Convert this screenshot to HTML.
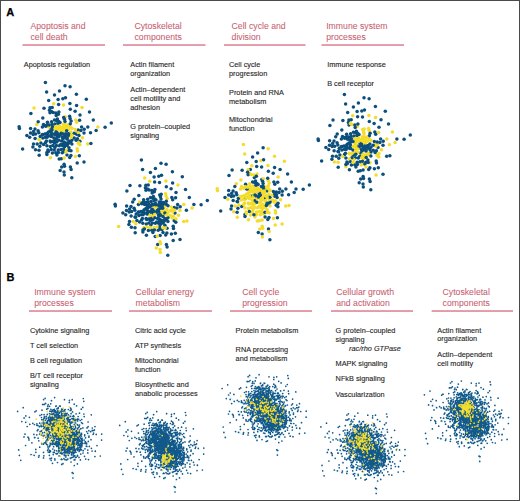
<!DOCTYPE html>
<html><head><meta charset="utf-8"><style>
html,body{margin:0;padding:0;background:#fff;}
body{width:520px;height:501px;overflow:hidden;}
svg{display:block;font-family:"Liberation Sans",sans-serif;}
</style></head><body>
<svg width="520" height="501" viewBox="0 0 520 501">
<rect x="0" y="0" width="520" height="501" fill="#fff"/>
<text x="6.3" y="15.9" font-size="11" font-weight="bold" fill="#000" stroke="#000" stroke-width="0.25">A</text>
<text x="6.6" y="281.3" font-size="11" font-weight="bold" fill="#000" stroke="#000" stroke-width="0.25">B</text>
<text x="30.5" y="29.3" font-size="9.20" textLength="55.01" lengthAdjust="spacingAndGlyphs" fill="#c8606f" stroke="#c8606f" stroke-width="0.06">Apoptosis and</text>
<text x="30.5" y="39.6" font-size="9.20" textLength="37.16" lengthAdjust="spacingAndGlyphs" fill="#c8606f" stroke="#c8606f" stroke-width="0.06">cell death</text>
<text x="134.5" y="29.3" font-size="9.20" textLength="47.28" lengthAdjust="spacingAndGlyphs" fill="#c8606f" stroke="#c8606f" stroke-width="0.06">Cytoskeletal</text>
<text x="134.5" y="39.6" font-size="9.20" textLength="47.29" lengthAdjust="spacingAndGlyphs" fill="#c8606f" stroke="#c8606f" stroke-width="0.06">components</text>
<text x="231.6" y="29.3" font-size="9.20" textLength="54.04" lengthAdjust="spacingAndGlyphs" fill="#c8606f" stroke="#c8606f" stroke-width="0.06">Cell cycle and</text>
<text x="231.6" y="39.6" font-size="9.20" textLength="28.95" lengthAdjust="spacingAndGlyphs" fill="#c8606f" stroke="#c8606f" stroke-width="0.06">division</text>
<text x="326.2" y="29.3" font-size="9.20" textLength="61.26" lengthAdjust="spacingAndGlyphs" fill="#c8606f" stroke="#c8606f" stroke-width="0.06">Immune system</text>
<text x="326.2" y="39.6" font-size="9.20" textLength="39.56" lengthAdjust="spacingAndGlyphs" fill="#c8606f" stroke="#c8606f" stroke-width="0.06">processes</text>
<rect x="22.5" y="44.3" width="82.5" height="1.45" fill="#da7b8c"/>
<rect x="123" y="44.3" width="82.5" height="1.45" fill="#da7b8c"/>
<rect x="224" y="44.3" width="81.5" height="1.45" fill="#da7b8c"/>
<rect x="321.5" y="44.3" width="82.5" height="1.45" fill="#da7b8c"/>
<text x="23.8" y="66.8" font-size="7.61" textLength="66.33" lengthAdjust="spacingAndGlyphs" fill="#262626" stroke="#262626" stroke-width="0.12">Apoptosis regulation</text>
<text x="130.3" y="67" font-size="7.61" textLength="43.94" lengthAdjust="spacingAndGlyphs" fill="#262626" stroke="#262626" stroke-width="0.12">Actin filament</text>
<text x="130.3" y="76" font-size="7.61" textLength="39.88" lengthAdjust="spacingAndGlyphs" fill="#262626" stroke="#262626" stroke-width="0.12">organization</text>
<text x="130.3" y="92" font-size="7.61" textLength="54.95" lengthAdjust="spacingAndGlyphs" fill="#262626" stroke="#262626" stroke-width="0.12">Actin–dependent</text>
<text x="130.3" y="101" font-size="7.61" textLength="50.04" lengthAdjust="spacingAndGlyphs" fill="#262626" stroke="#262626" stroke-width="0.12">cell motility and</text>
<text x="130.3" y="110" font-size="7.61" textLength="29.71" lengthAdjust="spacingAndGlyphs" fill="#262626" stroke="#262626" stroke-width="0.12">adhesion</text>
<text x="130.3" y="129" font-size="7.61" textLength="59.82" lengthAdjust="spacingAndGlyphs" fill="#262626" stroke="#262626" stroke-width="0.12">G protein–coupled</text>
<text x="130.3" y="138" font-size="7.61" textLength="28.90" lengthAdjust="spacingAndGlyphs" fill="#262626" stroke="#262626" stroke-width="0.12">signaling</text>
<text x="229.0" y="67" font-size="7.61" textLength="31.32" lengthAdjust="spacingAndGlyphs" fill="#262626" stroke="#262626" stroke-width="0.12">Cell cycle</text>
<text x="229.0" y="75.8" font-size="7.61" textLength="38.25" lengthAdjust="spacingAndGlyphs" fill="#262626" stroke="#262626" stroke-width="0.12">progression</text>
<text x="229.0" y="94.9" font-size="7.61" textLength="54.93" lengthAdjust="spacingAndGlyphs" fill="#262626" stroke="#262626" stroke-width="0.12">Protein and RNA</text>
<text x="229.0" y="103.7" font-size="7.61" textLength="37.43" lengthAdjust="spacingAndGlyphs" fill="#262626" stroke="#262626" stroke-width="0.12">metabolism</text>
<text x="229.0" y="122.4" font-size="7.61" textLength="43.54" lengthAdjust="spacingAndGlyphs" fill="#262626" stroke="#262626" stroke-width="0.12">Mitochondrial</text>
<text x="229.0" y="131.3" font-size="7.61" textLength="25.64" lengthAdjust="spacingAndGlyphs" fill="#262626" stroke="#262626" stroke-width="0.12">function</text>
<text x="327.2" y="67" font-size="7.61" textLength="58.59" lengthAdjust="spacingAndGlyphs" fill="#262626" stroke="#262626" stroke-width="0.12">Immune response</text>
<text x="327.2" y="85.5" font-size="7.61" textLength="46.79" lengthAdjust="spacingAndGlyphs" fill="#262626" stroke="#262626" stroke-width="0.12">B cell receptor</text>
<text x="34.2" y="294.8" font-size="9.20" textLength="61.26" lengthAdjust="spacingAndGlyphs" fill="#c8606f" stroke="#c8606f" stroke-width="0.06">Immune system</text>
<text x="34.2" y="305.5" font-size="9.20" textLength="39.56" lengthAdjust="spacingAndGlyphs" fill="#c8606f" stroke="#c8606f" stroke-width="0.06">processes</text>
<text x="135.6" y="294.8" font-size="9.20" textLength="58.38" lengthAdjust="spacingAndGlyphs" fill="#c8606f" stroke="#c8606f" stroke-width="0.06">Cellular energy</text>
<text x="135.6" y="305.5" font-size="9.20" textLength="44.38" lengthAdjust="spacingAndGlyphs" fill="#c8606f" stroke="#c8606f" stroke-width="0.06">metabolism</text>
<text x="242.2" y="294.8" font-size="9.20" textLength="37.14" lengthAdjust="spacingAndGlyphs" fill="#c8606f" stroke="#c8606f" stroke-width="0.06">Cell cycle</text>
<text x="242.2" y="305.5" font-size="9.20" textLength="45.36" lengthAdjust="spacingAndGlyphs" fill="#c8606f" stroke="#c8606f" stroke-width="0.06">progression</text>
<text x="336.2" y="294.8" font-size="9.20" textLength="57.89" lengthAdjust="spacingAndGlyphs" fill="#c8606f" stroke="#c8606f" stroke-width="0.06">Cellular growth</text>
<text x="336.2" y="305.5" font-size="9.20" textLength="53.56" lengthAdjust="spacingAndGlyphs" fill="#c8606f" stroke="#c8606f" stroke-width="0.06">and activation</text>
<text x="442.6" y="294.8" font-size="9.20" textLength="47.28" lengthAdjust="spacingAndGlyphs" fill="#c8606f" stroke="#c8606f" stroke-width="0.06">Cytoskeletal</text>
<text x="442.6" y="305.5" font-size="9.20" textLength="47.29" lengthAdjust="spacingAndGlyphs" fill="#c8606f" stroke="#c8606f" stroke-width="0.06">components</text>
<rect x="29" y="310.3" width="83" height="1.45" fill="#da7b8c"/>
<rect x="129" y="310.3" width="83" height="1.45" fill="#da7b8c"/>
<rect x="230" y="310.3" width="82" height="1.45" fill="#da7b8c"/>
<rect x="331" y="310.3" width="82" height="1.45" fill="#da7b8c"/>
<rect x="431.6" y="310.3" width="81.39999999999998" height="1.45" fill="#da7b8c"/>
<text x="29.9" y="332.9" font-size="7.61" textLength="59.41" lengthAdjust="spacingAndGlyphs" fill="#262626" stroke="#262626" stroke-width="0.12">Cytokine signaling</text>
<text x="29.9" y="347.9" font-size="7.61" textLength="48.28" lengthAdjust="spacingAndGlyphs" fill="#262626" stroke="#262626" stroke-width="0.12">T cell selection</text>
<text x="29.9" y="363.4" font-size="7.61" textLength="52.09" lengthAdjust="spacingAndGlyphs" fill="#262626" stroke="#262626" stroke-width="0.12">B cell regulation</text>
<text x="29.9" y="378" font-size="7.61" textLength="53.16" lengthAdjust="spacingAndGlyphs" fill="#262626" stroke="#262626" stroke-width="0.12">B/T cell receptor</text>
<text x="29.9" y="387" font-size="7.61" textLength="28.90" lengthAdjust="spacingAndGlyphs" fill="#262626" stroke="#262626" stroke-width="0.12">signaling</text>
<text x="135.0" y="332.9" font-size="7.61" textLength="50.84" lengthAdjust="spacingAndGlyphs" fill="#262626" stroke="#262626" stroke-width="0.12">Citric acid cycle</text>
<text x="135.0" y="347.9" font-size="7.61" textLength="46.11" lengthAdjust="spacingAndGlyphs" fill="#262626" stroke="#262626" stroke-width="0.12">ATP synthesis</text>
<text x="135.0" y="363.4" font-size="7.61" textLength="43.54" lengthAdjust="spacingAndGlyphs" fill="#262626" stroke="#262626" stroke-width="0.12">Mitochondrial</text>
<text x="135.0" y="371.8" font-size="7.61" textLength="25.64" lengthAdjust="spacingAndGlyphs" fill="#262626" stroke="#262626" stroke-width="0.12">function</text>
<text x="135.0" y="387.3" font-size="7.61" textLength="53.71" lengthAdjust="spacingAndGlyphs" fill="#262626" stroke="#262626" stroke-width="0.12">Biosynthetic and</text>
<text x="135.0" y="396.2" font-size="7.61" textLength="62.66" lengthAdjust="spacingAndGlyphs" fill="#262626" stroke="#262626" stroke-width="0.12">anabolic processes</text>
<text x="235.6" y="332.9" font-size="7.61" textLength="62.65" lengthAdjust="spacingAndGlyphs" fill="#262626" stroke="#262626" stroke-width="0.12">Protein metabolism</text>
<text x="235.6" y="351.9" font-size="7.61" textLength="52.49" lengthAdjust="spacingAndGlyphs" fill="#262626" stroke="#262626" stroke-width="0.12">RNA processing</text>
<text x="235.6" y="360.5" font-size="7.61" textLength="51.67" lengthAdjust="spacingAndGlyphs" fill="#262626" stroke="#262626" stroke-width="0.12">and metabolism</text>
<text x="335.6" y="332.9" font-size="7.61" textLength="59.82" lengthAdjust="spacingAndGlyphs" fill="#262626" stroke="#262626" stroke-width="0.12">G protein–coupled</text>
<text x="335.6" y="341.9" font-size="7.61" textLength="28.90" lengthAdjust="spacingAndGlyphs" fill="#262626" stroke="#262626" stroke-width="0.12">signaling</text>
<text x="335.6" y="366.3" font-size="7.61" textLength="51.67" lengthAdjust="spacingAndGlyphs" fill="#262626" stroke="#262626" stroke-width="0.12">MAPK signaling</text>
<text x="335.6" y="381.3" font-size="7.61" textLength="49.23" lengthAdjust="spacingAndGlyphs" fill="#262626" stroke="#262626" stroke-width="0.12">NFkB signaling</text>
<text x="335.6" y="396.5" font-size="7.61" textLength="49.10" lengthAdjust="spacingAndGlyphs" fill="#262626" stroke="#262626" stroke-width="0.12">Vascularization</text>
<text x="437.3" y="332.5" font-size="7.61" textLength="43.94" lengthAdjust="spacingAndGlyphs" fill="#262626" stroke="#262626" stroke-width="0.12">Actin filament</text>
<text x="437.3" y="341" font-size="7.61" textLength="39.88" lengthAdjust="spacingAndGlyphs" fill="#262626" stroke="#262626" stroke-width="0.12">organization</text>
<text x="437.3" y="357.2" font-size="7.61" textLength="54.95" lengthAdjust="spacingAndGlyphs" fill="#262626" stroke="#262626" stroke-width="0.12">Actin–dependent</text>
<text x="437.3" y="365.6" font-size="7.61" textLength="35.79" lengthAdjust="spacingAndGlyphs" fill="#262626" stroke="#262626" stroke-width="0.12">cell motility</text>
<text x="349.1" y="351.2" font-size="7.61" textLength="51.67" lengthAdjust="spacingAndGlyphs" fill="#262626" stroke="#262626" stroke-width="0.12" font-style="italic">rac/rho GTPase</text>
<path d="M54.2 134.1h0" stroke="#0c4f7c" stroke-width="3.5" stroke-linecap="round"/>
<path d="M57.6 130.0h0" stroke="#f4dc2a" stroke-width="3.5" stroke-linecap="round"/>
<path d="M50.1 141.1h0" stroke="#0c4f7c" stroke-width="3.5" stroke-linecap="round"/>
<path d="M59.5 125.9h0" stroke="#f4dc2a" stroke-width="3.5" stroke-linecap="round"/>
<path d="M76.7 122.2h0" stroke="#f4dc2a" stroke-width="3.5" stroke-linecap="round"/>
<path d="M54.5 143.1h0" stroke="#0c4f7c" stroke-width="3.5" stroke-linecap="round"/>
<path d="M63.6 127.1h0" stroke="#f4dc2a" stroke-width="3.5" stroke-linecap="round"/>
<path d="M43.6 144.4h0" stroke="#0c4f7c" stroke-width="3.5" stroke-linecap="round"/>
<path d="M34.0 108.0h0" stroke="#f4dc2a" stroke-width="3.5" stroke-linecap="round"/>
<path d="M35.1 138.6h0" stroke="#0c4f7c" stroke-width="3.5" stroke-linecap="round"/>
<path d="M61.6 140.9h0" stroke="#0c4f7c" stroke-width="3.5" stroke-linecap="round"/>
<path d="M76.6 132.0h0" stroke="#f4dc2a" stroke-width="3.5" stroke-linecap="round"/>
<path d="M56.7 134.3h0" stroke="#0c4f7c" stroke-width="3.5" stroke-linecap="round"/>
<path d="M76.7 134.2h0" stroke="#0c4f7c" stroke-width="3.5" stroke-linecap="round"/>
<path d="M59.8 129.2h0" stroke="#f4dc2a" stroke-width="3.5" stroke-linecap="round"/>
<path d="M66.9 139.0h0" stroke="#0c4f7c" stroke-width="3.5" stroke-linecap="round"/>
<path d="M49.9 131.0h0" stroke="#0c4f7c" stroke-width="3.5" stroke-linecap="round"/>
<path d="M71.9 144.0h0" stroke="#0c4f7c" stroke-width="3.5" stroke-linecap="round"/>
<path d="M46.2 134.1h0" stroke="#0c4f7c" stroke-width="3.5" stroke-linecap="round"/>
<path d="M58.7 136.8h0" stroke="#0c4f7c" stroke-width="3.5" stroke-linecap="round"/>
<path d="M70.1 86.7h0" stroke="#0c4f7c" stroke-width="3.5" stroke-linecap="round"/>
<path d="M61.0 131.0h0" stroke="#f4dc2a" stroke-width="3.5" stroke-linecap="round"/>
<path d="M58.6 104.6h0" stroke="#0c4f7c" stroke-width="3.5" stroke-linecap="round"/>
<path d="M56.5 138.8h0" stroke="#0c4f7c" stroke-width="3.5" stroke-linecap="round"/>
<path d="M90.5 132.7h0" stroke="#0c4f7c" stroke-width="3.5" stroke-linecap="round"/>
<path d="M76.4 94.3h0" stroke="#0c4f7c" stroke-width="3.5" stroke-linecap="round"/>
<path d="M63.1 144.0h0" stroke="#0c4f7c" stroke-width="3.5" stroke-linecap="round"/>
<path d="M58.1 99.5h0" stroke="#0c4f7c" stroke-width="3.5" stroke-linecap="round"/>
<path d="M77.4 138.7h0" stroke="#0c4f7c" stroke-width="3.5" stroke-linecap="round"/>
<path d="M64.8 130.9h0" stroke="#f4dc2a" stroke-width="3.5" stroke-linecap="round"/>
<path d="M54.2 150.1h0" stroke="#0c4f7c" stroke-width="3.5" stroke-linecap="round"/>
<path d="M70.2 126.8h0" stroke="#f4dc2a" stroke-width="3.5" stroke-linecap="round"/>
<path d="M93.3 120.0h0" stroke="#0c4f7c" stroke-width="3.5" stroke-linecap="round"/>
<path d="M67.1 126.7h0" stroke="#f4dc2a" stroke-width="3.5" stroke-linecap="round"/>
<path d="M63.5 104.9h0" stroke="#f4dc2a" stroke-width="3.5" stroke-linecap="round"/>
<path d="M60.7 144.5h0" stroke="#0c4f7c" stroke-width="3.5" stroke-linecap="round"/>
<path d="M79.9 141.3h0" stroke="#0c4f7c" stroke-width="3.5" stroke-linecap="round"/>
<path d="M43.5 124.5h0" stroke="#0c4f7c" stroke-width="3.5" stroke-linecap="round"/>
<path d="M89.5 112.0h0" stroke="#0c4f7c" stroke-width="3.5" stroke-linecap="round"/>
<path d="M46.6 92.0h0" stroke="#0c4f7c" stroke-width="3.5" stroke-linecap="round"/>
<path d="M45.6 142.5h0" stroke="#0c4f7c" stroke-width="3.5" stroke-linecap="round"/>
<path d="M56.9 133.0h0" stroke="#0c4f7c" stroke-width="3.5" stroke-linecap="round"/>
<path d="M50.4 157.7h0" stroke="#f4dc2a" stroke-width="3.5" stroke-linecap="round"/>
<path d="M71.1 121.1h0" stroke="#0c4f7c" stroke-width="3.5" stroke-linecap="round"/>
<path d="M48.3 126.8h0" stroke="#f4dc2a" stroke-width="3.5" stroke-linecap="round"/>
<path d="M78.2 129.9h0" stroke="#0c4f7c" stroke-width="3.5" stroke-linecap="round"/>
<path d="M64.6 144.6h0" stroke="#0c4f7c" stroke-width="3.5" stroke-linecap="round"/>
<path d="M59.5 91.0h0" stroke="#0c4f7c" stroke-width="3.5" stroke-linecap="round"/>
<path d="M60.2 170.6h0" stroke="#0c4f7c" stroke-width="3.5" stroke-linecap="round"/>
<path d="M59.3 145.8h0" stroke="#0c4f7c" stroke-width="3.5" stroke-linecap="round"/>
<path d="M58.3 114.2h0" stroke="#0c4f7c" stroke-width="3.5" stroke-linecap="round"/>
<path d="M69.2 133.4h0" stroke="#0c4f7c" stroke-width="3.5" stroke-linecap="round"/>
<path d="M67.5 143.4h0" stroke="#0c4f7c" stroke-width="3.5" stroke-linecap="round"/>
<path d="M62.4 137.3h0" stroke="#0c4f7c" stroke-width="3.5" stroke-linecap="round"/>
<path d="M71.8 177.7h0" stroke="#0c4f7c" stroke-width="3.5" stroke-linecap="round"/>
<path d="M40.9 143.0h0" stroke="#0c4f7c" stroke-width="3.5" stroke-linecap="round"/>
<path d="M47.2 124.8h0" stroke="#0c4f7c" stroke-width="3.5" stroke-linecap="round"/>
<path d="M64.1 164.3h0" stroke="#0c4f7c" stroke-width="3.5" stroke-linecap="round"/>
<path d="M54.9 124.0h0" stroke="#0c4f7c" stroke-width="3.5" stroke-linecap="round"/>
<path d="M63.6 127.0h0" stroke="#f4dc2a" stroke-width="3.5" stroke-linecap="round"/>
<path d="M35.0 129.0h0" stroke="#0c4f7c" stroke-width="3.5" stroke-linecap="round"/>
<path d="M46.2 125.5h0" stroke="#0c4f7c" stroke-width="3.5" stroke-linecap="round"/>
<path d="M48.7 100.5h0" stroke="#0c4f7c" stroke-width="3.5" stroke-linecap="round"/>
<path d="M62.5 132.1h0" stroke="#f4dc2a" stroke-width="3.5" stroke-linecap="round"/>
<path d="M68.3 143.4h0" stroke="#0c4f7c" stroke-width="3.5" stroke-linecap="round"/>
<path d="M30.9 113.5h0" stroke="#0c4f7c" stroke-width="3.5" stroke-linecap="round"/>
<path d="M51.2 149.4h0" stroke="#0c4f7c" stroke-width="3.5" stroke-linecap="round"/>
<path d="M52.2 107.6h0" stroke="#0c4f7c" stroke-width="3.5" stroke-linecap="round"/>
<path d="M45.4 82.4h0" stroke="#0c4f7c" stroke-width="3.5" stroke-linecap="round"/>
<path d="M57.1 127.2h0" stroke="#f4dc2a" stroke-width="3.5" stroke-linecap="round"/>
<path d="M61.0 133.2h0" stroke="#0c4f7c" stroke-width="3.5" stroke-linecap="round"/>
<path d="M64.0 142.1h0" stroke="#0c4f7c" stroke-width="3.5" stroke-linecap="round"/>
<path d="M78.4 132.7h0" stroke="#f4dc2a" stroke-width="3.5" stroke-linecap="round"/>
<path d="M33.5 144.1h0" stroke="#0c4f7c" stroke-width="3.5" stroke-linecap="round"/>
<path d="M82.5 137.8h0" stroke="#f4dc2a" stroke-width="3.5" stroke-linecap="round"/>
<path d="M33.2 134.4h0" stroke="#0c4f7c" stroke-width="3.5" stroke-linecap="round"/>
<path d="M50.7 136.3h0" stroke="#0c4f7c" stroke-width="3.5" stroke-linecap="round"/>
<path d="M57.3 136.3h0" stroke="#0c4f7c" stroke-width="3.5" stroke-linecap="round"/>
<path d="M68.9 135.6h0" stroke="#0c4f7c" stroke-width="3.5" stroke-linecap="round"/>
<path d="M33.5 131.5h0" stroke="#0c4f7c" stroke-width="3.5" stroke-linecap="round"/>
<path d="M54.9 134.7h0" stroke="#0c4f7c" stroke-width="3.5" stroke-linecap="round"/>
<path d="M84.0 162.1h0" stroke="#0c4f7c" stroke-width="3.5" stroke-linecap="round"/>
<path d="M39.0 139.4h0" stroke="#f4dc2a" stroke-width="3.5" stroke-linecap="round"/>
<path d="M62.6 145.7h0" stroke="#0c4f7c" stroke-width="3.5" stroke-linecap="round"/>
<path d="M84.2 129.2h0" stroke="#0c4f7c" stroke-width="3.5" stroke-linecap="round"/>
<path d="M42.2 134.7h0" stroke="#0c4f7c" stroke-width="3.5" stroke-linecap="round"/>
<path d="M56.0 131.9h0" stroke="#0c4f7c" stroke-width="3.5" stroke-linecap="round"/>
<path d="M79.0 135.5h0" stroke="#0c4f7c" stroke-width="3.5" stroke-linecap="round"/>
<path d="M42.4 126.9h0" stroke="#0c4f7c" stroke-width="3.5" stroke-linecap="round"/>
<path d="M30.5 133.1h0" stroke="#0c4f7c" stroke-width="3.5" stroke-linecap="round"/>
<path d="M59.9 127.3h0" stroke="#f4dc2a" stroke-width="3.5" stroke-linecap="round"/>
<path d="M54.8 140.8h0" stroke="#0c4f7c" stroke-width="3.5" stroke-linecap="round"/>
<path d="M63.0 138.8h0" stroke="#0c4f7c" stroke-width="3.5" stroke-linecap="round"/>
<path d="M49.8 125.1h0" stroke="#f4dc2a" stroke-width="3.5" stroke-linecap="round"/>
<path d="M60.3 134.9h0" stroke="#0c4f7c" stroke-width="3.5" stroke-linecap="round"/>
<path d="M63.3 124.6h0" stroke="#f4dc2a" stroke-width="3.5" stroke-linecap="round"/>
<path d="M50.3 146.6h0" stroke="#0c4f7c" stroke-width="3.5" stroke-linecap="round"/>
<path d="M57.4 119.1h0" stroke="#0c4f7c" stroke-width="3.5" stroke-linecap="round"/>
<path d="M65.7 126.4h0" stroke="#f4dc2a" stroke-width="3.5" stroke-linecap="round"/>
<path d="M63.2 128.7h0" stroke="#f4dc2a" stroke-width="3.5" stroke-linecap="round"/>
<path d="M55.9 113.0h0" stroke="#0c4f7c" stroke-width="3.5" stroke-linecap="round"/>
<path d="M54.0 129.4h0" stroke="#f4dc2a" stroke-width="3.5" stroke-linecap="round"/>
<path d="M67.2 138.0h0" stroke="#0c4f7c" stroke-width="3.5" stroke-linecap="round"/>
<path d="M44.9 134.0h0" stroke="#0c4f7c" stroke-width="3.5" stroke-linecap="round"/>
<path d="M51.3 128.2h0" stroke="#0c4f7c" stroke-width="3.5" stroke-linecap="round"/>
<path d="M46.9 154.6h0" stroke="#0c4f7c" stroke-width="3.5" stroke-linecap="round"/>
<path d="M55.6 139.2h0" stroke="#0c4f7c" stroke-width="3.5" stroke-linecap="round"/>
<path d="M54.5 120.1h0" stroke="#0c4f7c" stroke-width="3.5" stroke-linecap="round"/>
<path d="M32.9 147.1h0" stroke="#0c4f7c" stroke-width="3.5" stroke-linecap="round"/>
<path d="M52.6 126.8h0" stroke="#0c4f7c" stroke-width="3.5" stroke-linecap="round"/>
<path d="M79.3 155.7h0" stroke="#0c4f7c" stroke-width="3.5" stroke-linecap="round"/>
<path d="M70.0 142.1h0" stroke="#0c4f7c" stroke-width="3.5" stroke-linecap="round"/>
<path d="M111.3 123.0h0" stroke="#0c4f7c" stroke-width="3.5" stroke-linecap="round"/>
<path d="M72.0 128.3h0" stroke="#f4dc2a" stroke-width="3.5" stroke-linecap="round"/>
<path d="M56.4 131.7h0" stroke="#0c4f7c" stroke-width="3.5" stroke-linecap="round"/>
<path d="M51.6 121.7h0" stroke="#0c4f7c" stroke-width="3.5" stroke-linecap="round"/>
<path d="M77.5 151.0h0" stroke="#f4dc2a" stroke-width="3.5" stroke-linecap="round"/>
<path d="M56.2 126.5h0" stroke="#f4dc2a" stroke-width="3.5" stroke-linecap="round"/>
<path d="M69.7 157.4h0" stroke="#0c4f7c" stroke-width="3.5" stroke-linecap="round"/>
<path d="M59.2 159.1h0" stroke="#0c4f7c" stroke-width="3.5" stroke-linecap="round"/>
<path d="M70.3 109.3h0" stroke="#0c4f7c" stroke-width="3.5" stroke-linecap="round"/>
<path d="M49.1 126.9h0" stroke="#f4dc2a" stroke-width="3.5" stroke-linecap="round"/>
<path d="M65.7 133.8h0" stroke="#0c4f7c" stroke-width="3.5" stroke-linecap="round"/>
<path d="M65.2 116.8h0" stroke="#f4dc2a" stroke-width="3.5" stroke-linecap="round"/>
<path d="M74.1 133.2h0" stroke="#0c4f7c" stroke-width="3.5" stroke-linecap="round"/>
<path d="M61.3 158.7h0" stroke="#0c4f7c" stroke-width="3.5" stroke-linecap="round"/>
<path d="M71.8 135.2h0" stroke="#f4dc2a" stroke-width="3.5" stroke-linecap="round"/>
<path d="M70.4 166.9h0" stroke="#0c4f7c" stroke-width="3.5" stroke-linecap="round"/>
<path d="M50.0 107.8h0" stroke="#0c4f7c" stroke-width="3.5" stroke-linecap="round"/>
<path d="M71.0 150.7h0" stroke="#0c4f7c" stroke-width="3.5" stroke-linecap="round"/>
<path d="M62.8 98.8h0" stroke="#0c4f7c" stroke-width="3.5" stroke-linecap="round"/>
<path d="M75.4 156.6h0" stroke="#f4dc2a" stroke-width="3.5" stroke-linecap="round"/>
<path d="M30.6 128.6h0" stroke="#0c4f7c" stroke-width="3.5" stroke-linecap="round"/>
<path d="M63.7 151.7h0" stroke="#0c4f7c" stroke-width="3.5" stroke-linecap="round"/>
<path d="M52.4 153.0h0" stroke="#0c4f7c" stroke-width="3.5" stroke-linecap="round"/>
<path d="M39.8 146.2h0" stroke="#0c4f7c" stroke-width="3.5" stroke-linecap="round"/>
<path d="M61.7 167.0h0" stroke="#0c4f7c" stroke-width="3.5" stroke-linecap="round"/>
<path d="M54.9 147.5h0" stroke="#0c4f7c" stroke-width="3.5" stroke-linecap="round"/>
<path d="M87.7 144.1h0" stroke="#f4dc2a" stroke-width="3.5" stroke-linecap="round"/>
<path d="M63.5 149.2h0" stroke="#0c4f7c" stroke-width="3.5" stroke-linecap="round"/>
<path d="M79.8 144.8h0" stroke="#f4dc2a" stroke-width="3.5" stroke-linecap="round"/>
<path d="M65.0 85.8h0" stroke="#0c4f7c" stroke-width="3.5" stroke-linecap="round"/>
<path d="M64.3 174.9h0" stroke="#0c4f7c" stroke-width="3.5" stroke-linecap="round"/>
<path d="M67.0 154.9h0" stroke="#0c4f7c" stroke-width="3.5" stroke-linecap="round"/>
<path d="M55.4 127.8h0" stroke="#f4dc2a" stroke-width="3.5" stroke-linecap="round"/>
<path d="M65.9 152.0h0" stroke="#f4dc2a" stroke-width="3.5" stroke-linecap="round"/>
<path d="M86.3 99.2h0" stroke="#0c4f7c" stroke-width="3.5" stroke-linecap="round"/>
<path d="M76.6 105.4h0" stroke="#0c4f7c" stroke-width="3.5" stroke-linecap="round"/>
<path d="M51.5 134.4h0" stroke="#0c4f7c" stroke-width="3.5" stroke-linecap="round"/>
<path d="M65.1 124.6h0" stroke="#f4dc2a" stroke-width="3.5" stroke-linecap="round"/>
<path d="M57.9 123.3h0" stroke="#0c4f7c" stroke-width="3.5" stroke-linecap="round"/>
<path d="M78.9 142.8h0" stroke="#f4dc2a" stroke-width="3.5" stroke-linecap="round"/>
<path d="M60.0 122.5h0" stroke="#0c4f7c" stroke-width="3.5" stroke-linecap="round"/>
<path d="M48.2 132.2h0" stroke="#0c4f7c" stroke-width="3.5" stroke-linecap="round"/>
<path d="M47.1 137.3h0" stroke="#0c4f7c" stroke-width="3.5" stroke-linecap="round"/>
<path d="M82.0 107.6h0" stroke="#f4dc2a" stroke-width="3.5" stroke-linecap="round"/>
<path d="M58.4 152.4h0" stroke="#0c4f7c" stroke-width="3.5" stroke-linecap="round"/>
<path d="M72.0 140.0h0" stroke="#0c4f7c" stroke-width="3.5" stroke-linecap="round"/>
<path d="M36.7 124.6h0" stroke="#f4dc2a" stroke-width="3.5" stroke-linecap="round"/>
<path d="M51.4 111.5h0" stroke="#0c4f7c" stroke-width="3.5" stroke-linecap="round"/>
<path d="M58.9 112.0h0" stroke="#0c4f7c" stroke-width="3.5" stroke-linecap="round"/>
<path d="M60.8 127.5h0" stroke="#f4dc2a" stroke-width="3.5" stroke-linecap="round"/>
<path d="M78.2 143.2h0" stroke="#f4dc2a" stroke-width="3.5" stroke-linecap="round"/>
<path d="M46.4 141.1h0" stroke="#0c4f7c" stroke-width="3.5" stroke-linecap="round"/>
<path d="M64.4 135.4h0" stroke="#0c4f7c" stroke-width="3.5" stroke-linecap="round"/>
<path d="M52.9 145.6h0" stroke="#0c4f7c" stroke-width="3.5" stroke-linecap="round"/>
<path d="M49.1 124.9h0" stroke="#0c4f7c" stroke-width="3.5" stroke-linecap="round"/>
<path d="M71.1 169.4h0" stroke="#0c4f7c" stroke-width="3.5" stroke-linecap="round"/>
<path d="M39.0 150.2h0" stroke="#0c4f7c" stroke-width="3.5" stroke-linecap="round"/>
<path d="M105.1 127.2h0" stroke="#0c4f7c" stroke-width="3.5" stroke-linecap="round"/>
<path d="M56.9 155.0h0" stroke="#0c4f7c" stroke-width="3.5" stroke-linecap="round"/>
<path d="M42.8 118.0h0" stroke="#0c4f7c" stroke-width="3.5" stroke-linecap="round"/>
<path d="M81.6 126.9h0" stroke="#0c4f7c" stroke-width="3.5" stroke-linecap="round"/>
<path d="M38.1 130.8h0" stroke="#0c4f7c" stroke-width="3.5" stroke-linecap="round"/>
<path d="M56.2 115.5h0" stroke="#0c4f7c" stroke-width="3.5" stroke-linecap="round"/>
<path d="M56.4 145.6h0" stroke="#0c4f7c" stroke-width="3.5" stroke-linecap="round"/>
<path d="M48.4 151.4h0" stroke="#0c4f7c" stroke-width="3.5" stroke-linecap="round"/>
<path d="M64.5 166.3h0" stroke="#0c4f7c" stroke-width="3.5" stroke-linecap="round"/>
<path d="M65.0 121.5h0" stroke="#0c4f7c" stroke-width="3.5" stroke-linecap="round"/>
<path d="M69.6 116.3h0" stroke="#0c4f7c" stroke-width="3.5" stroke-linecap="round"/>
<path d="M47.6 133.4h0" stroke="#0c4f7c" stroke-width="3.5" stroke-linecap="round"/>
<path d="M63.7 117.5h0" stroke="#0c4f7c" stroke-width="3.5" stroke-linecap="round"/>
<path d="M84.0 133.1h0" stroke="#0c4f7c" stroke-width="3.5" stroke-linecap="round"/>
<path d="M66.0 129.0h0" stroke="#f4dc2a" stroke-width="3.5" stroke-linecap="round"/>
<path d="M64.4 137.4h0" stroke="#0c4f7c" stroke-width="3.5" stroke-linecap="round"/>
<path d="M64.0 172.0h0" stroke="#0c4f7c" stroke-width="3.5" stroke-linecap="round"/>
<path d="M58.2 150.1h0" stroke="#0c4f7c" stroke-width="3.5" stroke-linecap="round"/>
<path d="M45.7 126.2h0" stroke="#0c4f7c" stroke-width="3.5" stroke-linecap="round"/>
<path d="M42.8 134.4h0" stroke="#0c4f7c" stroke-width="3.5" stroke-linecap="round"/>
<path d="M40.2 136.4h0" stroke="#0c4f7c" stroke-width="3.5" stroke-linecap="round"/>
<path d="M35.6 134.1h0" stroke="#0c4f7c" stroke-width="3.5" stroke-linecap="round"/>
<path d="M69.9 103.4h0" stroke="#0c4f7c" stroke-width="3.5" stroke-linecap="round"/>
<path d="M39.5 139.7h0" stroke="#f4dc2a" stroke-width="3.5" stroke-linecap="round"/>
<path d="M61.0 149.6h0" stroke="#0c4f7c" stroke-width="3.5" stroke-linecap="round"/>
<path d="M29.7 137.3h0" stroke="#0c4f7c" stroke-width="3.5" stroke-linecap="round"/>
<path d="M87.8 126.9h0" stroke="#0c4f7c" stroke-width="3.5" stroke-linecap="round"/>
<path d="M19.1 126.8h0" stroke="#0c4f7c" stroke-width="3.5" stroke-linecap="round"/>
<path d="M67.7 125.0h0" stroke="#f4dc2a" stroke-width="3.5" stroke-linecap="round"/>
<path d="M52.0 124.5h0" stroke="#0c4f7c" stroke-width="3.5" stroke-linecap="round"/>
<path d="M66.4 135.4h0" stroke="#0c4f7c" stroke-width="3.5" stroke-linecap="round"/>
<path d="M52.9 141.5h0" stroke="#0c4f7c" stroke-width="3.5" stroke-linecap="round"/>
<path d="M74.2 138.1h0" stroke="#0c4f7c" stroke-width="3.5" stroke-linecap="round"/>
<path d="M65.9 143.0h0" stroke="#0c4f7c" stroke-width="3.5" stroke-linecap="round"/>
<path d="M77.2 163.0h0" stroke="#0c4f7c" stroke-width="3.5" stroke-linecap="round"/>
<path d="M65.5 97.8h0" stroke="#0c4f7c" stroke-width="3.5" stroke-linecap="round"/>
<path d="M38.2 121.8h0" stroke="#0c4f7c" stroke-width="3.5" stroke-linecap="round"/>
<path d="M64.1 157.9h0" stroke="#f4dc2a" stroke-width="3.5" stroke-linecap="round"/>
<path d="M53.9 137.9h0" stroke="#0c4f7c" stroke-width="3.5" stroke-linecap="round"/>
<path d="M56.8 142.1h0" stroke="#0c4f7c" stroke-width="3.5" stroke-linecap="round"/>
<path d="M51.5 136.4h0" stroke="#0c4f7c" stroke-width="3.5" stroke-linecap="round"/>
<path d="M77.2 148.8h0" stroke="#f4dc2a" stroke-width="3.5" stroke-linecap="round"/>
<path d="M22.6 149.0h0" stroke="#0c4f7c" stroke-width="3.5" stroke-linecap="round"/>
<path d="M80.0 115.1h0" stroke="#0c4f7c" stroke-width="3.5" stroke-linecap="round"/>
<path d="M53.2 112.5h0" stroke="#0c4f7c" stroke-width="3.5" stroke-linecap="round"/>
<path d="M68.8 141.0h0" stroke="#0c4f7c" stroke-width="3.5" stroke-linecap="round"/>
<path d="M51.3 132.6h0" stroke="#0c4f7c" stroke-width="3.5" stroke-linecap="round"/>
<path d="M45.4 137.2h0" stroke="#0c4f7c" stroke-width="3.5" stroke-linecap="round"/>
<path d="M47.5 122.2h0" stroke="#0c4f7c" stroke-width="3.5" stroke-linecap="round"/>
<path d="M79.6 120.3h0" stroke="#0c4f7c" stroke-width="3.5" stroke-linecap="round"/>
<path d="M39.2 155.2h0" stroke="#0c4f7c" stroke-width="3.5" stroke-linecap="round"/>
<path d="M68.7 129.1h0" stroke="#f4dc2a" stroke-width="3.5" stroke-linecap="round"/>
<path d="M66.7 130.7h0" stroke="#0c4f7c" stroke-width="3.5" stroke-linecap="round"/>
<path d="M56.7 120.7h0" stroke="#0c4f7c" stroke-width="3.5" stroke-linecap="round"/>
<path d="M62.2 152.8h0" stroke="#0c4f7c" stroke-width="3.5" stroke-linecap="round"/>
<path d="M66.9 150.2h0" stroke="#f4dc2a" stroke-width="3.5" stroke-linecap="round"/>
<path d="M57.7 133.8h0" stroke="#0c4f7c" stroke-width="3.5" stroke-linecap="round"/>
<path d="M46.9 152.4h0" stroke="#0c4f7c" stroke-width="3.5" stroke-linecap="round"/>
<path d="M44.0 108.3h0" stroke="#0c4f7c" stroke-width="3.5" stroke-linecap="round"/>
<path d="M50.6 142.0h0" stroke="#0c4f7c" stroke-width="3.5" stroke-linecap="round"/>
<path d="M19.4 128.5h0" stroke="#0c4f7c" stroke-width="3.5" stroke-linecap="round"/>
<path d="M48.0 135.5h0" stroke="#0c4f7c" stroke-width="3.5" stroke-linecap="round"/>
<path d="M71.0 137.5h0" stroke="#f4dc2a" stroke-width="3.5" stroke-linecap="round"/>
<path d="M70.9 155.6h0" stroke="#0c4f7c" stroke-width="3.5" stroke-linecap="round"/>
<path d="M42.9 138.0h0" stroke="#0c4f7c" stroke-width="3.5" stroke-linecap="round"/>
<path d="M59.0 127.0h0" stroke="#f4dc2a" stroke-width="3.5" stroke-linecap="round"/>
<path d="M26.9 135.5h0" stroke="#0c4f7c" stroke-width="3.5" stroke-linecap="round"/>
<path d="M62.5 133.7h0" stroke="#0c4f7c" stroke-width="3.5" stroke-linecap="round"/>
<path d="M64.6 146.7h0" stroke="#0c4f7c" stroke-width="3.5" stroke-linecap="round"/>
<path d="M49.5 110.3h0" stroke="#0c4f7c" stroke-width="3.5" stroke-linecap="round"/>
<path d="M65.1 125.3h0" stroke="#f4dc2a" stroke-width="3.5" stroke-linecap="round"/>
<path d="M75.1 111.3h0" stroke="#0c4f7c" stroke-width="3.5" stroke-linecap="round"/>
<path d="M37.2 144.1h0" stroke="#0c4f7c" stroke-width="3.5" stroke-linecap="round"/>
<path d="M67.2 145.5h0" stroke="#0c4f7c" stroke-width="3.5" stroke-linecap="round"/>
<path d="M52.0 129.9h0" stroke="#0c4f7c" stroke-width="3.5" stroke-linecap="round"/>
<path d="M70.3 123.7h0" stroke="#0c4f7c" stroke-width="3.5" stroke-linecap="round"/>
<path d="M70.8 141.6h0" stroke="#0c4f7c" stroke-width="3.5" stroke-linecap="round"/>
<path d="M58.8 121.4h0" stroke="#0c4f7c" stroke-width="3.5" stroke-linecap="round"/>
<path d="M54.5 95.0h0" stroke="#0c4f7c" stroke-width="3.5" stroke-linecap="round"/>
<path d="M69.0 147.8h0" stroke="#0c4f7c" stroke-width="3.5" stroke-linecap="round"/>
<path d="M55.8 152.8h0" stroke="#0c4f7c" stroke-width="3.5" stroke-linecap="round"/>
<path d="M38.8 132.8h0" stroke="#0c4f7c" stroke-width="3.5" stroke-linecap="round"/>
<path d="M58.9 140.3h0" stroke="#0c4f7c" stroke-width="3.5" stroke-linecap="round"/>
<path d="M96.1 130.4h0" stroke="#0c4f7c" stroke-width="3.5" stroke-linecap="round"/>
<path d="M57.9 129.2h0" stroke="#f4dc2a" stroke-width="3.5" stroke-linecap="round"/>
<path d="M76.1 140.3h0" stroke="#0c4f7c" stroke-width="3.5" stroke-linecap="round"/>
<path d="M75.3 129.5h0" stroke="#f4dc2a" stroke-width="3.5" stroke-linecap="round"/>
<path d="M69.2 150.4h0" stroke="#0c4f7c" stroke-width="3.5" stroke-linecap="round"/>
<path d="M70.1 118.4h0" stroke="#0c4f7c" stroke-width="3.5" stroke-linecap="round"/>
<path d="M48.2 135.4h0" stroke="#0c4f7c" stroke-width="3.5" stroke-linecap="round"/>
<path d="M70.9 131.9h0" stroke="#f4dc2a" stroke-width="3.5" stroke-linecap="round"/>
<path d="M80.9 130.4h0" stroke="#0c4f7c" stroke-width="3.5" stroke-linecap="round"/>
<path d="M50.0 112.8h0" stroke="#0c4f7c" stroke-width="3.5" stroke-linecap="round"/>
<path d="M35.5 149.8h0" stroke="#0c4f7c" stroke-width="3.5" stroke-linecap="round"/>
<path d="M53.7 103.7h0" stroke="#f4dc2a" stroke-width="3.5" stroke-linecap="round"/>
<path d="M64.5 119.3h0" stroke="#0c4f7c" stroke-width="3.5" stroke-linecap="round"/>
<path d="M90.9 143.6h0" stroke="#0c4f7c" stroke-width="3.5" stroke-linecap="round"/>
<path d="M47.9 150.0h0" stroke="#0c4f7c" stroke-width="3.5" stroke-linecap="round"/>
<path d="M97.9 127.0h0" stroke="#f4dc2a" stroke-width="3.5" stroke-linecap="round"/>
<path d="M68.1 133.7h0" stroke="#0c4f7c" stroke-width="3.5" stroke-linecap="round"/>
<path d="M75.8 119.9h0" stroke="#f4dc2a" stroke-width="3.5" stroke-linecap="round"/>
<path d="M46.9 145.8h0" stroke="#0c4f7c" stroke-width="3.5" stroke-linecap="round"/>
<path d="M138.4 204.4h0" stroke="#0c4f7c" stroke-width="3.5" stroke-linecap="round"/>
<path d="M157.6 218.4h0" stroke="#0c4f7c" stroke-width="3.5" stroke-linecap="round"/>
<path d="M155.4 168.5h0" stroke="#0c4f7c" stroke-width="3.5" stroke-linecap="round"/>
<path d="M132.7 202.1h0" stroke="#0c4f7c" stroke-width="3.5" stroke-linecap="round"/>
<path d="M153.3 213.8h0" stroke="#0c4f7c" stroke-width="3.5" stroke-linecap="round"/>
<path d="M173.2 226.3h0" stroke="#0c4f7c" stroke-width="3.5" stroke-linecap="round"/>
<path d="M148.6 204.3h0" stroke="#0c4f7c" stroke-width="3.5" stroke-linecap="round"/>
<path d="M152.5 216.3h0" stroke="#f4dc2a" stroke-width="3.5" stroke-linecap="round"/>
<path d="M142.9 232.1h0" stroke="#0c4f7c" stroke-width="3.5" stroke-linecap="round"/>
<path d="M141.4 159.9h0" stroke="#0c4f7c" stroke-width="3.5" stroke-linecap="round"/>
<path d="M142.8 223.3h0" stroke="#0c4f7c" stroke-width="3.5" stroke-linecap="round"/>
<path d="M150.9 225.0h0" stroke="#0c4f7c" stroke-width="3.5" stroke-linecap="round"/>
<path d="M176.0 192.6h0" stroke="#0c4f7c" stroke-width="3.5" stroke-linecap="round"/>
<path d="M156.8 205.0h0" stroke="#0c4f7c" stroke-width="3.5" stroke-linecap="round"/>
<path d="M164.9 225.3h0" stroke="#0c4f7c" stroke-width="3.5" stroke-linecap="round"/>
<path d="M143.6 199.7h0" stroke="#0c4f7c" stroke-width="3.5" stroke-linecap="round"/>
<path d="M159.6 204.6h0" stroke="#0c4f7c" stroke-width="3.5" stroke-linecap="round"/>
<path d="M152.9 210.5h0" stroke="#0c4f7c" stroke-width="3.5" stroke-linecap="round"/>
<path d="M201.1 204.7h0" stroke="#0c4f7c" stroke-width="3.5" stroke-linecap="round"/>
<path d="M153.6 207.5h0" stroke="#f4dc2a" stroke-width="3.5" stroke-linecap="round"/>
<path d="M158.6 223.2h0" stroke="#0c4f7c" stroke-width="3.5" stroke-linecap="round"/>
<path d="M174.9 220.3h0" stroke="#f4dc2a" stroke-width="3.5" stroke-linecap="round"/>
<path d="M152.7 211.8h0" stroke="#0c4f7c" stroke-width="3.5" stroke-linecap="round"/>
<path d="M175.8 222.3h0" stroke="#0c4f7c" stroke-width="3.5" stroke-linecap="round"/>
<path d="M180.0 210.6h0" stroke="#f4dc2a" stroke-width="3.5" stroke-linecap="round"/>
<path d="M145.9 185.3h0" stroke="#0c4f7c" stroke-width="3.5" stroke-linecap="round"/>
<path d="M174.2 207.4h0" stroke="#0c4f7c" stroke-width="3.5" stroke-linecap="round"/>
<path d="M158.8 176.3h0" stroke="#0c4f7c" stroke-width="3.5" stroke-linecap="round"/>
<path d="M150.9 212.2h0" stroke="#0c4f7c" stroke-width="3.5" stroke-linecap="round"/>
<path d="M207.3 200.5h0" stroke="#0c4f7c" stroke-width="3.5" stroke-linecap="round"/>
<path d="M167.1 198.6h0" stroke="#f4dc2a" stroke-width="3.5" stroke-linecap="round"/>
<path d="M166.8 219.1h0" stroke="#0c4f7c" stroke-width="3.5" stroke-linecap="round"/>
<path d="M139.5 202.0h0" stroke="#f4dc2a" stroke-width="3.5" stroke-linecap="round"/>
<path d="M177.6 204.4h0" stroke="#0c4f7c" stroke-width="3.5" stroke-linecap="round"/>
<path d="M157.0 208.5h0" stroke="#f4dc2a" stroke-width="3.5" stroke-linecap="round"/>
<path d="M171.4 234.1h0" stroke="#0c4f7c" stroke-width="3.5" stroke-linecap="round"/>
<path d="M138.9 215.5h0" stroke="#0c4f7c" stroke-width="3.5" stroke-linecap="round"/>
<path d="M143.1 214.8h0" stroke="#0c4f7c" stroke-width="3.5" stroke-linecap="round"/>
<path d="M182.3 176.7h0" stroke="#0c4f7c" stroke-width="3.5" stroke-linecap="round"/>
<path d="M134.8 210.3h0" stroke="#0c4f7c" stroke-width="3.5" stroke-linecap="round"/>
<path d="M171.8 197.4h0" stroke="#0c4f7c" stroke-width="3.5" stroke-linecap="round"/>
<path d="M142.2 211.6h0" stroke="#0c4f7c" stroke-width="3.5" stroke-linecap="round"/>
<path d="M150.2 211.6h0" stroke="#0c4f7c" stroke-width="3.5" stroke-linecap="round"/>
<path d="M160.4 212.9h0" stroke="#0c4f7c" stroke-width="3.5" stroke-linecap="round"/>
<path d="M154.3 191.7h0" stroke="#0c4f7c" stroke-width="3.5" stroke-linecap="round"/>
<path d="M133.2 221.6h0" stroke="#f4dc2a" stroke-width="3.5" stroke-linecap="round"/>
<path d="M160.8 208.4h0" stroke="#0c4f7c" stroke-width="3.5" stroke-linecap="round"/>
<path d="M154.2 227.6h0" stroke="#f4dc2a" stroke-width="3.5" stroke-linecap="round"/>
<path d="M155.2 236.6h0" stroke="#0c4f7c" stroke-width="3.5" stroke-linecap="round"/>
<path d="M118.6 226.5h0" stroke="#f4dc2a" stroke-width="3.5" stroke-linecap="round"/>
<path d="M156.0 200.0h0" stroke="#0c4f7c" stroke-width="3.5" stroke-linecap="round"/>
<path d="M163.0 232.4h0" stroke="#0c4f7c" stroke-width="3.5" stroke-linecap="round"/>
<path d="M166.9 209.4h0" stroke="#f4dc2a" stroke-width="3.5" stroke-linecap="round"/>
<path d="M159.5 226.7h0" stroke="#0c4f7c" stroke-width="3.5" stroke-linecap="round"/>
<path d="M165.7 234.9h0" stroke="#0c4f7c" stroke-width="3.5" stroke-linecap="round"/>
<path d="M135.8 223.7h0" stroke="#f4dc2a" stroke-width="3.5" stroke-linecap="round"/>
<path d="M145.1 204.4h0" stroke="#0c4f7c" stroke-width="3.5" stroke-linecap="round"/>
<path d="M159.6 204.6h0" stroke="#0c4f7c" stroke-width="3.5" stroke-linecap="round"/>
<path d="M166.9 233.1h0" stroke="#0c4f7c" stroke-width="3.5" stroke-linecap="round"/>
<path d="M180.2 206.8h0" stroke="#0c4f7c" stroke-width="3.5" stroke-linecap="round"/>
<path d="M147.5 211.9h0" stroke="#0c4f7c" stroke-width="3.5" stroke-linecap="round"/>
<path d="M167.0 228.2h0" stroke="#0c4f7c" stroke-width="3.5" stroke-linecap="round"/>
<path d="M164.8 218.5h0" stroke="#0c4f7c" stroke-width="3.5" stroke-linecap="round"/>
<path d="M164.7 206.6h0" stroke="#f4dc2a" stroke-width="3.5" stroke-linecap="round"/>
<path d="M186.9 221.1h0" stroke="#f4dc2a" stroke-width="3.5" stroke-linecap="round"/>
<path d="M131.4 227.3h0" stroke="#0c4f7c" stroke-width="3.5" stroke-linecap="round"/>
<path d="M154.8 198.9h0" stroke="#0c4f7c" stroke-width="3.5" stroke-linecap="round"/>
<path d="M147.3 210.1h0" stroke="#0c4f7c" stroke-width="3.5" stroke-linecap="round"/>
<path d="M155.8 206.7h0" stroke="#f4dc2a" stroke-width="3.5" stroke-linecap="round"/>
<path d="M170.1 210.7h0" stroke="#f4dc2a" stroke-width="3.5" stroke-linecap="round"/>
<path d="M173.4 216.2h0" stroke="#f4dc2a" stroke-width="3.5" stroke-linecap="round"/>
<path d="M161.1 202.8h0" stroke="#0c4f7c" stroke-width="3.5" stroke-linecap="round"/>
<path d="M161.7 203.9h0" stroke="#0c4f7c" stroke-width="3.5" stroke-linecap="round"/>
<path d="M152.2 204.0h0" stroke="#0c4f7c" stroke-width="3.5" stroke-linecap="round"/>
<path d="M150.4 172.5h0" stroke="#0c4f7c" stroke-width="3.5" stroke-linecap="round"/>
<path d="M135.6 217.2h0" stroke="#0c4f7c" stroke-width="3.5" stroke-linecap="round"/>
<path d="M147.3 205.8h0" stroke="#0c4f7c" stroke-width="3.5" stroke-linecap="round"/>
<path d="M129.6 209.0h0" stroke="#0c4f7c" stroke-width="3.5" stroke-linecap="round"/>
<path d="M152.4 209.2h0" stroke="#0c4f7c" stroke-width="3.5" stroke-linecap="round"/>
<path d="M157.0 210.7h0" stroke="#0c4f7c" stroke-width="3.5" stroke-linecap="round"/>
<path d="M161.9 229.5h0" stroke="#0c4f7c" stroke-width="3.5" stroke-linecap="round"/>
<path d="M156.2 248.1h0" stroke="#f4dc2a" stroke-width="3.5" stroke-linecap="round"/>
<path d="M156.7 222.0h0" stroke="#0c4f7c" stroke-width="3.5" stroke-linecap="round"/>
<path d="M131.6 211.6h0" stroke="#0c4f7c" stroke-width="3.5" stroke-linecap="round"/>
<path d="M163.2 223.0h0" stroke="#0c4f7c" stroke-width="3.5" stroke-linecap="round"/>
<path d="M160.1 241.8h0" stroke="#f4dc2a" stroke-width="3.5" stroke-linecap="round"/>
<path d="M151.6 216.7h0" stroke="#f4dc2a" stroke-width="3.5" stroke-linecap="round"/>
<path d="M155.5 203.4h0" stroke="#0c4f7c" stroke-width="3.5" stroke-linecap="round"/>
<path d="M160.6 222.1h0" stroke="#0c4f7c" stroke-width="3.5" stroke-linecap="round"/>
<path d="M165.6 193.8h0" stroke="#f4dc2a" stroke-width="3.5" stroke-linecap="round"/>
<path d="M147.5 213.9h0" stroke="#0c4f7c" stroke-width="3.5" stroke-linecap="round"/>
<path d="M151.8 230.2h0" stroke="#0c4f7c" stroke-width="3.5" stroke-linecap="round"/>
<path d="M159.5 182.4h0" stroke="#0c4f7c" stroke-width="3.5" stroke-linecap="round"/>
<path d="M160.1 235.4h0" stroke="#0c4f7c" stroke-width="3.5" stroke-linecap="round"/>
<path d="M161.0 163.2h0" stroke="#0c4f7c" stroke-width="3.5" stroke-linecap="round"/>
<path d="M160.0 219.6h0" stroke="#0c4f7c" stroke-width="3.5" stroke-linecap="round"/>
<path d="M163.2 215.5h0" stroke="#f4dc2a" stroke-width="3.5" stroke-linecap="round"/>
<path d="M175.0 213.0h0" stroke="#0c4f7c" stroke-width="3.5" stroke-linecap="round"/>
<path d="M164.1 211.2h0" stroke="#f4dc2a" stroke-width="3.5" stroke-linecap="round"/>
<path d="M166.3 186.8h0" stroke="#0c4f7c" stroke-width="3.5" stroke-linecap="round"/>
<path d="M183.7 221.6h0" stroke="#f4dc2a" stroke-width="3.5" stroke-linecap="round"/>
<path d="M153.9 206.7h0" stroke="#f4dc2a" stroke-width="3.5" stroke-linecap="round"/>
<path d="M165.2 227.9h0" stroke="#f4dc2a" stroke-width="3.5" stroke-linecap="round"/>
<path d="M172.7 211.7h0" stroke="#f4dc2a" stroke-width="3.5" stroke-linecap="round"/>
<path d="M144.2 209.7h0" stroke="#0c4f7c" stroke-width="3.5" stroke-linecap="round"/>
<path d="M172.6 182.9h0" stroke="#0c4f7c" stroke-width="3.5" stroke-linecap="round"/>
<path d="M158.4 214.8h0" stroke="#0c4f7c" stroke-width="3.5" stroke-linecap="round"/>
<path d="M154.9 189.5h0" stroke="#0c4f7c" stroke-width="3.5" stroke-linecap="round"/>
<path d="M131.1 216.1h0" stroke="#0c4f7c" stroke-width="3.5" stroke-linecap="round"/>
<path d="M186.4 210.2h0" stroke="#0c4f7c" stroke-width="3.5" stroke-linecap="round"/>
<path d="M148.2 185.1h0" stroke="#0c4f7c" stroke-width="3.5" stroke-linecap="round"/>
<path d="M150.2 227.6h0" stroke="#f4dc2a" stroke-width="3.5" stroke-linecap="round"/>
<path d="M115.1 204.3h0" stroke="#0c4f7c" stroke-width="3.5" stroke-linecap="round"/>
<path d="M141.6 220.0h0" stroke="#0c4f7c" stroke-width="3.5" stroke-linecap="round"/>
<path d="M162.4 212.9h0" stroke="#f4dc2a" stroke-width="3.5" stroke-linecap="round"/>
<path d="M143.2 202.3h0" stroke="#0c4f7c" stroke-width="3.5" stroke-linecap="round"/>
<path d="M168.0 205.8h0" stroke="#0c4f7c" stroke-width="3.5" stroke-linecap="round"/>
<path d="M154.4 229.9h0" stroke="#0c4f7c" stroke-width="3.5" stroke-linecap="round"/>
<path d="M154.6 182.1h0" stroke="#0c4f7c" stroke-width="3.5" stroke-linecap="round"/>
<path d="M146.3 224.1h0" stroke="#0c4f7c" stroke-width="3.5" stroke-linecap="round"/>
<path d="M140.9 211.5h0" stroke="#0c4f7c" stroke-width="3.5" stroke-linecap="round"/>
<path d="M145.4 187.8h0" stroke="#0c4f7c" stroke-width="3.5" stroke-linecap="round"/>
<path d="M151.9 190.5h0" stroke="#0c4f7c" stroke-width="3.5" stroke-linecap="round"/>
<path d="M149.7 181.2h0" stroke="#f4dc2a" stroke-width="3.5" stroke-linecap="round"/>
<path d="M152.7 198.2h0" stroke="#0c4f7c" stroke-width="3.5" stroke-linecap="round"/>
<path d="M158.5 209.6h0" stroke="#0c4f7c" stroke-width="3.5" stroke-linecap="round"/>
<path d="M144.3 204.3h0" stroke="#0c4f7c" stroke-width="3.5" stroke-linecap="round"/>
<path d="M159.3 202.1h0" stroke="#0c4f7c" stroke-width="3.5" stroke-linecap="round"/>
<path d="M131.0 206.5h0" stroke="#0c4f7c" stroke-width="3.5" stroke-linecap="round"/>
<path d="M141.7 203.7h0" stroke="#0c4f7c" stroke-width="3.5" stroke-linecap="round"/>
<path d="M129.5 221.6h0" stroke="#0c4f7c" stroke-width="3.5" stroke-linecap="round"/>
<path d="M155.3 223.3h0" stroke="#0c4f7c" stroke-width="3.5" stroke-linecap="round"/>
<path d="M142.2 203.0h0" stroke="#0c4f7c" stroke-width="3.5" stroke-linecap="round"/>
<path d="M162.9 216.5h0" stroke="#0c4f7c" stroke-width="3.5" stroke-linecap="round"/>
<path d="M148.9 219.0h0" stroke="#0c4f7c" stroke-width="3.5" stroke-linecap="round"/>
<path d="M180.0 239.6h0" stroke="#0c4f7c" stroke-width="3.5" stroke-linecap="round"/>
<path d="M172.1 217.8h0" stroke="#f4dc2a" stroke-width="3.5" stroke-linecap="round"/>
<path d="M161.2 194.3h0" stroke="#0c4f7c" stroke-width="3.5" stroke-linecap="round"/>
<path d="M138.8 211.9h0" stroke="#0c4f7c" stroke-width="3.5" stroke-linecap="round"/>
<path d="M164.3 220.9h0" stroke="#0c4f7c" stroke-width="3.5" stroke-linecap="round"/>
<path d="M136.9 220.5h0" stroke="#0c4f7c" stroke-width="3.5" stroke-linecap="round"/>
<path d="M150.8 218.3h0" stroke="#0c4f7c" stroke-width="3.5" stroke-linecap="round"/>
<path d="M139.9 185.8h0" stroke="#0c4f7c" stroke-width="3.5" stroke-linecap="round"/>
<path d="M147.4 189.0h0" stroke="#0c4f7c" stroke-width="3.5" stroke-linecap="round"/>
<path d="M150.0 206.9h0" stroke="#0c4f7c" stroke-width="3.5" stroke-linecap="round"/>
<path d="M174.2 220.8h0" stroke="#0c4f7c" stroke-width="3.5" stroke-linecap="round"/>
<path d="M144.7 178.0h0" stroke="#f4dc2a" stroke-width="3.5" stroke-linecap="round"/>
<path d="M165.2 210.9h0" stroke="#f4dc2a" stroke-width="3.5" stroke-linecap="round"/>
<path d="M154.1 177.0h0" stroke="#0c4f7c" stroke-width="3.5" stroke-linecap="round"/>
<path d="M171.1 188.8h0" stroke="#0c4f7c" stroke-width="3.5" stroke-linecap="round"/>
<path d="M167.1 246.9h0" stroke="#0c4f7c" stroke-width="3.5" stroke-linecap="round"/>
<path d="M175.9 218.8h0" stroke="#f4dc2a" stroke-width="3.5" stroke-linecap="round"/>
<path d="M150.9 201.5h0" stroke="#0c4f7c" stroke-width="3.5" stroke-linecap="round"/>
<path d="M157.3 236.2h0" stroke="#f4dc2a" stroke-width="3.5" stroke-linecap="round"/>
<path d="M158.2 230.3h0" stroke="#0c4f7c" stroke-width="3.5" stroke-linecap="round"/>
<path d="M175.6 197.8h0" stroke="#0c4f7c" stroke-width="3.5" stroke-linecap="round"/>
<path d="M166.1 195.9h0" stroke="#f4dc2a" stroke-width="3.5" stroke-linecap="round"/>
<path d="M153.9 200.8h0" stroke="#0c4f7c" stroke-width="3.5" stroke-linecap="round"/>
<path d="M155.9 204.8h0" stroke="#0c4f7c" stroke-width="3.5" stroke-linecap="round"/>
<path d="M146.0 190.3h0" stroke="#0c4f7c" stroke-width="3.5" stroke-linecap="round"/>
<path d="M163.1 204.2h0" stroke="#0c4f7c" stroke-width="3.5" stroke-linecap="round"/>
<path d="M159.7 195.0h0" stroke="#0c4f7c" stroke-width="3.5" stroke-linecap="round"/>
<path d="M142.6 169.5h0" stroke="#0c4f7c" stroke-width="3.5" stroke-linecap="round"/>
<path d="M146.1 218.6h0" stroke="#0c4f7c" stroke-width="3.5" stroke-linecap="round"/>
<path d="M143.6 210.9h0" stroke="#0c4f7c" stroke-width="3.5" stroke-linecap="round"/>
<path d="M161.9 220.5h0" stroke="#0c4f7c" stroke-width="3.5" stroke-linecap="round"/>
<path d="M126.9 191.0h0" stroke="#0c4f7c" stroke-width="3.5" stroke-linecap="round"/>
<path d="M147.2 226.9h0" stroke="#f4dc2a" stroke-width="3.5" stroke-linecap="round"/>
<path d="M146.6 219.5h0" stroke="#0c4f7c" stroke-width="3.5" stroke-linecap="round"/>
<path d="M141.4 214.7h0" stroke="#0c4f7c" stroke-width="3.5" stroke-linecap="round"/>
<path d="M178.5 215.2h0" stroke="#f4dc2a" stroke-width="3.5" stroke-linecap="round"/>
<path d="M157.7 244.5h0" stroke="#0c4f7c" stroke-width="3.5" stroke-linecap="round"/>
<path d="M125.7 214.8h0" stroke="#0c4f7c" stroke-width="3.5" stroke-linecap="round"/>
<path d="M152.9 232.5h0" stroke="#0c4f7c" stroke-width="3.5" stroke-linecap="round"/>
<path d="M146.7 213.8h0" stroke="#0c4f7c" stroke-width="3.5" stroke-linecap="round"/>
<path d="M161.1 202.1h0" stroke="#0c4f7c" stroke-width="3.5" stroke-linecap="round"/>
<path d="M156.3 212.4h0" stroke="#0c4f7c" stroke-width="3.5" stroke-linecap="round"/>
<path d="M134.1 208.2h0" stroke="#0c4f7c" stroke-width="3.5" stroke-linecap="round"/>
<path d="M150.5 220.6h0" stroke="#0c4f7c" stroke-width="3.5" stroke-linecap="round"/>
<path d="M148.0 207.4h0" stroke="#0c4f7c" stroke-width="3.5" stroke-linecap="round"/>
<path d="M154.9 217.8h0" stroke="#0c4f7c" stroke-width="3.5" stroke-linecap="round"/>
<path d="M138.2 212.2h0" stroke="#0c4f7c" stroke-width="3.5" stroke-linecap="round"/>
<path d="M163.7 202.5h0" stroke="#0c4f7c" stroke-width="3.5" stroke-linecap="round"/>
<path d="M161.7 211.3h0" stroke="#f4dc2a" stroke-width="3.5" stroke-linecap="round"/>
<path d="M152.8 219.6h0" stroke="#0c4f7c" stroke-width="3.5" stroke-linecap="round"/>
<path d="M160.6 224.2h0" stroke="#0c4f7c" stroke-width="3.5" stroke-linecap="round"/>
<path d="M149.2 190.0h0" stroke="#0c4f7c" stroke-width="3.5" stroke-linecap="round"/>
<path d="M130.0 185.5h0" stroke="#0c4f7c" stroke-width="3.5" stroke-linecap="round"/>
<path d="M165.9 180.9h0" stroke="#f4dc2a" stroke-width="3.5" stroke-linecap="round"/>
<path d="M178.0 185.1h0" stroke="#f4dc2a" stroke-width="3.5" stroke-linecap="round"/>
<path d="M136.2 213.9h0" stroke="#0c4f7c" stroke-width="3.5" stroke-linecap="round"/>
<path d="M168.0 217.5h0" stroke="#0c4f7c" stroke-width="3.5" stroke-linecap="round"/>
<path d="M154.7 214.3h0" stroke="#f4dc2a" stroke-width="3.5" stroke-linecap="round"/>
<path d="M126.5 210.6h0" stroke="#0c4f7c" stroke-width="3.5" stroke-linecap="round"/>
<path d="M134.2 199.3h0" stroke="#0c4f7c" stroke-width="3.5" stroke-linecap="round"/>
<path d="M155.0 204.5h0" stroke="#0c4f7c" stroke-width="3.5" stroke-linecap="round"/>
<path d="M167.8 212.7h0" stroke="#f4dc2a" stroke-width="3.5" stroke-linecap="round"/>
<path d="M142.4 218.6h0" stroke="#0c4f7c" stroke-width="3.5" stroke-linecap="round"/>
<path d="M185.5 189.5h0" stroke="#0c4f7c" stroke-width="3.5" stroke-linecap="round"/>
<path d="M166.0 219.6h0" stroke="#0c4f7c" stroke-width="3.5" stroke-linecap="round"/>
<path d="M128.9 224.6h0" stroke="#0c4f7c" stroke-width="3.5" stroke-linecap="round"/>
<path d="M146.4 235.2h0" stroke="#0c4f7c" stroke-width="3.5" stroke-linecap="round"/>
<path d="M176.9 207.9h0" stroke="#0c4f7c" stroke-width="3.5" stroke-linecap="round"/>
<path d="M173.2 240.5h0" stroke="#0c4f7c" stroke-width="3.5" stroke-linecap="round"/>
<path d="M139.6 221.9h0" stroke="#0c4f7c" stroke-width="3.5" stroke-linecap="round"/>
<path d="M159.7 229.2h0" stroke="#0c4f7c" stroke-width="3.5" stroke-linecap="round"/>
<path d="M147.6 199.2h0" stroke="#0c4f7c" stroke-width="3.5" stroke-linecap="round"/>
<path d="M135.0 227.7h0" stroke="#0c4f7c" stroke-width="3.5" stroke-linecap="round"/>
<path d="M160.3 252.4h0" stroke="#f4dc2a" stroke-width="3.5" stroke-linecap="round"/>
<path d="M160.5 243.8h0" stroke="#f4dc2a" stroke-width="3.5" stroke-linecap="round"/>
<path d="M138.8 195.5h0" stroke="#0c4f7c" stroke-width="3.5" stroke-linecap="round"/>
<path d="M129.2 211.9h0" stroke="#0c4f7c" stroke-width="3.5" stroke-linecap="round"/>
<path d="M173.5 228.5h0" stroke="#0c4f7c" stroke-width="3.5" stroke-linecap="round"/>
<path d="M189.3 197.5h0" stroke="#0c4f7c" stroke-width="3.5" stroke-linecap="round"/>
<path d="M192.1 207.9h0" stroke="#f4dc2a" stroke-width="3.5" stroke-linecap="round"/>
<path d="M164.9 213.1h0" stroke="#0c4f7c" stroke-width="3.5" stroke-linecap="round"/>
<path d="M166.1 164.2h0" stroke="#0c4f7c" stroke-width="3.5" stroke-linecap="round"/>
<path d="M152.2 193.0h0" stroke="#0c4f7c" stroke-width="3.5" stroke-linecap="round"/>
<path d="M160.4 214.9h0" stroke="#0c4f7c" stroke-width="3.5" stroke-linecap="round"/>
<path d="M143.9 227.5h0" stroke="#f4dc2a" stroke-width="3.5" stroke-linecap="round"/>
<path d="M122.9 213.0h0" stroke="#0c4f7c" stroke-width="3.5" stroke-linecap="round"/>
<path d="M148.4 230.5h0" stroke="#0c4f7c" stroke-width="3.5" stroke-linecap="round"/>
<path d="M152.4 223.1h0" stroke="#0c4f7c" stroke-width="3.5" stroke-linecap="round"/>
<path d="M135.2 232.7h0" stroke="#0c4f7c" stroke-width="3.5" stroke-linecap="round"/>
<path d="M150.5 197.6h0" stroke="#0c4f7c" stroke-width="3.5" stroke-linecap="round"/>
<path d="M162.7 208.2h0" stroke="#0c4f7c" stroke-width="3.5" stroke-linecap="round"/>
<path d="M152.0 209.4h0" stroke="#0c4f7c" stroke-width="3.5" stroke-linecap="round"/>
<path d="M151.4 205.3h0" stroke="#0c4f7c" stroke-width="3.5" stroke-linecap="round"/>
<path d="M162.9 227.7h0" stroke="#f4dc2a" stroke-width="3.5" stroke-linecap="round"/>
<path d="M172.6 209.5h0" stroke="#f4dc2a" stroke-width="3.5" stroke-linecap="round"/>
<path d="M183.8 204.4h0" stroke="#f4dc2a" stroke-width="3.5" stroke-linecap="round"/>
<path d="M145.8 202.6h0" stroke="#0c4f7c" stroke-width="3.5" stroke-linecap="round"/>
<path d="M170.2 215.6h0" stroke="#f4dc2a" stroke-width="3.5" stroke-linecap="round"/>
<path d="M159.2 206.2h0" stroke="#0c4f7c" stroke-width="3.5" stroke-linecap="round"/>
<path d="M153.7 211.3h0" stroke="#0c4f7c" stroke-width="3.5" stroke-linecap="round"/>
<path d="M167.8 255.2h0" stroke="#0c4f7c" stroke-width="3.5" stroke-linecap="round"/>
<path d="M135.0 216.9h0" stroke="#0c4f7c" stroke-width="3.5" stroke-linecap="round"/>
<path d="M149.9 215.4h0" stroke="#f4dc2a" stroke-width="3.5" stroke-linecap="round"/>
<path d="M160.5 196.8h0" stroke="#0c4f7c" stroke-width="3.5" stroke-linecap="round"/>
<path d="M145.9 208.5h0" stroke="#0c4f7c" stroke-width="3.5" stroke-linecap="round"/>
<path d="M193.9 204.5h0" stroke="#0c4f7c" stroke-width="3.5" stroke-linecap="round"/>
<path d="M148.0 202.0h0" stroke="#0c4f7c" stroke-width="3.5" stroke-linecap="round"/>
<path d="M153.1 204.7h0" stroke="#0c4f7c" stroke-width="3.5" stroke-linecap="round"/>
<path d="M126.6 206.1h0" stroke="#0c4f7c" stroke-width="3.5" stroke-linecap="round"/>
<path d="M162.0 206.5h0" stroke="#0c4f7c" stroke-width="3.5" stroke-linecap="round"/>
<path d="M160.0 249.5h0" stroke="#f4dc2a" stroke-width="3.5" stroke-linecap="round"/>
<path d="M144.2 212.9h0" stroke="#0c4f7c" stroke-width="3.5" stroke-linecap="round"/>
<path d="M175.3 233.2h0" stroke="#0c4f7c" stroke-width="3.5" stroke-linecap="round"/>
<path d="M145.1 202.4h0" stroke="#0c4f7c" stroke-width="3.5" stroke-linecap="round"/>
<path d="M159.1 221.5h0" stroke="#0c4f7c" stroke-width="3.5" stroke-linecap="round"/>
<path d="M148.9 223.1h0" stroke="#0c4f7c" stroke-width="3.5" stroke-linecap="round"/>
<path d="M158.5 211.2h0" stroke="#0c4f7c" stroke-width="3.5" stroke-linecap="round"/>
<path d="M166.3 201.2h0" stroke="#0c4f7c" stroke-width="3.5" stroke-linecap="round"/>
<path d="M171.3 207.0h0" stroke="#f4dc2a" stroke-width="3.5" stroke-linecap="round"/>
<path d="M167.9 221.5h0" stroke="#0c4f7c" stroke-width="3.5" stroke-linecap="round"/>
<path d="M153.4 196.6h0" stroke="#0c4f7c" stroke-width="3.5" stroke-linecap="round"/>
<path d="M163.5 220.9h0" stroke="#0c4f7c" stroke-width="3.5" stroke-linecap="round"/>
<path d="M166.9 215.0h0" stroke="#f4dc2a" stroke-width="3.5" stroke-linecap="round"/>
<path d="M161.5 175.3h0" stroke="#0c4f7c" stroke-width="3.5" stroke-linecap="round"/>
<path d="M159.1 216.3h0" stroke="#0c4f7c" stroke-width="3.5" stroke-linecap="round"/>
<path d="M174.4 210.2h0" stroke="#f4dc2a" stroke-width="3.5" stroke-linecap="round"/>
<path d="M157.0 227.1h0" stroke="#f4dc2a" stroke-width="3.5" stroke-linecap="round"/>
<path d="M161.0 199.0h0" stroke="#0c4f7c" stroke-width="3.5" stroke-linecap="round"/>
<path d="M144.0 213.0h0" stroke="#0c4f7c" stroke-width="3.5" stroke-linecap="round"/>
<path d="M142.9 229.9h0" stroke="#0c4f7c" stroke-width="3.5" stroke-linecap="round"/>
<path d="M166.2 204.3h0" stroke="#0c4f7c" stroke-width="3.5" stroke-linecap="round"/>
<path d="M172.7 199.7h0" stroke="#0c4f7c" stroke-width="3.5" stroke-linecap="round"/>
<path d="M115.4 206.0h0" stroke="#0c4f7c" stroke-width="3.5" stroke-linecap="round"/>
<path d="M144.4 228.9h0" stroke="#0c4f7c" stroke-width="3.5" stroke-linecap="round"/>
<path d="M172.4 171.8h0" stroke="#0c4f7c" stroke-width="3.5" stroke-linecap="round"/>
<path d="M166.4 244.4h0" stroke="#0c4f7c" stroke-width="3.5" stroke-linecap="round"/>
<path d="M255.4 198.3h0" stroke="#f4dc2a" stroke-width="3.5" stroke-linecap="round"/>
<path d="M296.0 189.0h0" stroke="#0c4f7c" stroke-width="3.5" stroke-linecap="round"/>
<path d="M264.0 214.0h0" stroke="#f4dc2a" stroke-width="3.5" stroke-linecap="round"/>
<path d="M256.7 166.6h0" stroke="#0c4f7c" stroke-width="3.5" stroke-linecap="round"/>
<path d="M261.8 189.1h0" stroke="#f4dc2a" stroke-width="3.5" stroke-linecap="round"/>
<path d="M249.5 173.5h0" stroke="#f4dc2a" stroke-width="3.5" stroke-linecap="round"/>
<path d="M260.3 214.8h0" stroke="#f4dc2a" stroke-width="3.5" stroke-linecap="round"/>
<path d="M254.3 188.5h0" stroke="#f4dc2a" stroke-width="3.5" stroke-linecap="round"/>
<path d="M266.8 191.1h0" stroke="#0c4f7c" stroke-width="3.5" stroke-linecap="round"/>
<path d="M275.5 200.7h0" stroke="#f4dc2a" stroke-width="3.5" stroke-linecap="round"/>
<path d="M220.7 211.0h0" stroke="#0c4f7c" stroke-width="3.5" stroke-linecap="round"/>
<path d="M252.3 212.1h0" stroke="#f4dc2a" stroke-width="3.5" stroke-linecap="round"/>
<path d="M261.7 189.1h0" stroke="#f4dc2a" stroke-width="3.5" stroke-linecap="round"/>
<path d="M276.2 205.2h0" stroke="#0c4f7c" stroke-width="3.5" stroke-linecap="round"/>
<path d="M255.5 181.1h0" stroke="#0c4f7c" stroke-width="3.5" stroke-linecap="round"/>
<path d="M261.2 190.7h0" stroke="#f4dc2a" stroke-width="3.5" stroke-linecap="round"/>
<path d="M245.2 199.3h0" stroke="#f4dc2a" stroke-width="3.5" stroke-linecap="round"/>
<path d="M257.0 174.0h0" stroke="#f4dc2a" stroke-width="3.5" stroke-linecap="round"/>
<path d="M269.0 217.6h0" stroke="#0c4f7c" stroke-width="3.5" stroke-linecap="round"/>
<path d="M257.1 189.0h0" stroke="#f4dc2a" stroke-width="3.5" stroke-linecap="round"/>
<path d="M233.7 196.1h0" stroke="#0c4f7c" stroke-width="3.5" stroke-linecap="round"/>
<path d="M256.9 183.4h0" stroke="#0c4f7c" stroke-width="3.5" stroke-linecap="round"/>
<path d="M268.2 180.4h0" stroke="#f4dc2a" stroke-width="3.5" stroke-linecap="round"/>
<path d="M254.8 196.3h0" stroke="#f4dc2a" stroke-width="3.5" stroke-linecap="round"/>
<path d="M243.4 144.4h0" stroke="#f4dc2a" stroke-width="3.5" stroke-linecap="round"/>
<path d="M237.1 201.4h0" stroke="#0c4f7c" stroke-width="3.5" stroke-linecap="round"/>
<path d="M241.7 206.4h0" stroke="#0c4f7c" stroke-width="3.5" stroke-linecap="round"/>
<path d="M246.4 188.8h0" stroke="#0c4f7c" stroke-width="3.5" stroke-linecap="round"/>
<path d="M263.1 147.8h0" stroke="#0c4f7c" stroke-width="3.5" stroke-linecap="round"/>
<path d="M256.0 191.2h0" stroke="#f4dc2a" stroke-width="3.5" stroke-linecap="round"/>
<path d="M260.6 195.7h0" stroke="#0c4f7c" stroke-width="3.5" stroke-linecap="round"/>
<path d="M282.3 191.2h0" stroke="#0c4f7c" stroke-width="3.5" stroke-linecap="round"/>
<path d="M243.5 199.2h0" stroke="#f4dc2a" stroke-width="3.5" stroke-linecap="round"/>
<path d="M279.7 188.9h0" stroke="#0c4f7c" stroke-width="3.5" stroke-linecap="round"/>
<path d="M250.7 188.8h0" stroke="#f4dc2a" stroke-width="3.5" stroke-linecap="round"/>
<path d="M243.7 204.5h0" stroke="#f4dc2a" stroke-width="3.5" stroke-linecap="round"/>
<path d="M282.1 195.1h0" stroke="#0c4f7c" stroke-width="3.5" stroke-linecap="round"/>
<path d="M279.0 192.4h0" stroke="#0c4f7c" stroke-width="3.5" stroke-linecap="round"/>
<path d="M260.5 199.3h0" stroke="#f4dc2a" stroke-width="3.5" stroke-linecap="round"/>
<path d="M253.5 189.8h0" stroke="#f4dc2a" stroke-width="3.5" stroke-linecap="round"/>
<path d="M285.9 188.9h0" stroke="#0c4f7c" stroke-width="3.5" stroke-linecap="round"/>
<path d="M268.9 203.6h0" stroke="#0c4f7c" stroke-width="3.5" stroke-linecap="round"/>
<path d="M257.6 187.9h0" stroke="#f4dc2a" stroke-width="3.5" stroke-linecap="round"/>
<path d="M246.1 197.5h0" stroke="#0c4f7c" stroke-width="3.5" stroke-linecap="round"/>
<path d="M246.3 197.4h0" stroke="#f4dc2a" stroke-width="3.5" stroke-linecap="round"/>
<path d="M249.4 190.2h0" stroke="#f4dc2a" stroke-width="3.5" stroke-linecap="round"/>
<path d="M276.5 194.7h0" stroke="#0c4f7c" stroke-width="3.5" stroke-linecap="round"/>
<path d="M253.7 201.2h0" stroke="#f4dc2a" stroke-width="3.5" stroke-linecap="round"/>
<path d="M294.2 192.4h0" stroke="#0c4f7c" stroke-width="3.5" stroke-linecap="round"/>
<path d="M265.2 188.7h0" stroke="#f4dc2a" stroke-width="3.5" stroke-linecap="round"/>
<path d="M273.4 191.5h0" stroke="#0c4f7c" stroke-width="3.5" stroke-linecap="round"/>
<path d="M244.5 203.1h0" stroke="#f4dc2a" stroke-width="3.5" stroke-linecap="round"/>
<path d="M241.0 200.0h0" stroke="#f4dc2a" stroke-width="3.5" stroke-linecap="round"/>
<path d="M277.4 217.7h0" stroke="#0c4f7c" stroke-width="3.5" stroke-linecap="round"/>
<path d="M236.8 194.8h0" stroke="#0c4f7c" stroke-width="3.5" stroke-linecap="round"/>
<path d="M259.8 229.0h0" stroke="#f4dc2a" stroke-width="3.5" stroke-linecap="round"/>
<path d="M260.9 160.8h0" stroke="#f4dc2a" stroke-width="3.5" stroke-linecap="round"/>
<path d="M253.0 186.0h0" stroke="#f4dc2a" stroke-width="3.5" stroke-linecap="round"/>
<path d="M265.6 205.4h0" stroke="#0c4f7c" stroke-width="3.5" stroke-linecap="round"/>
<path d="M256.8 198.8h0" stroke="#f4dc2a" stroke-width="3.5" stroke-linecap="round"/>
<path d="M254.9 204.1h0" stroke="#f4dc2a" stroke-width="3.5" stroke-linecap="round"/>
<path d="M254.5 193.7h0" stroke="#f4dc2a" stroke-width="3.5" stroke-linecap="round"/>
<path d="M280.6 199.8h0" stroke="#f4dc2a" stroke-width="3.5" stroke-linecap="round"/>
<path d="M258.3 232.6h0" stroke="#0c4f7c" stroke-width="3.5" stroke-linecap="round"/>
<path d="M252.6 157.0h0" stroke="#0c4f7c" stroke-width="3.5" stroke-linecap="round"/>
<path d="M254.3 177.5h0" stroke="#0c4f7c" stroke-width="3.5" stroke-linecap="round"/>
<path d="M268.3 188.8h0" stroke="#f4dc2a" stroke-width="3.5" stroke-linecap="round"/>
<path d="M265.3 200.0h0" stroke="#f4dc2a" stroke-width="3.5" stroke-linecap="round"/>
<path d="M275.6 213.0h0" stroke="#f4dc2a" stroke-width="3.5" stroke-linecap="round"/>
<path d="M233.6 211.8h0" stroke="#f4dc2a" stroke-width="3.5" stroke-linecap="round"/>
<path d="M267.3 195.4h0" stroke="#f4dc2a" stroke-width="3.5" stroke-linecap="round"/>
<path d="M267.7 178.3h0" stroke="#0c4f7c" stroke-width="3.5" stroke-linecap="round"/>
<path d="M225.0 197.5h0" stroke="#0c4f7c" stroke-width="3.5" stroke-linecap="round"/>
<path d="M254.0 175.0h0" stroke="#f4dc2a" stroke-width="3.5" stroke-linecap="round"/>
<path d="M269.0 193.9h0" stroke="#f4dc2a" stroke-width="3.5" stroke-linecap="round"/>
<path d="M248.2 203.1h0" stroke="#f4dc2a" stroke-width="3.5" stroke-linecap="round"/>
<path d="M272.4 200.1h0" stroke="#f4dc2a" stroke-width="3.5" stroke-linecap="round"/>
<path d="M231.3 196.4h0" stroke="#0c4f7c" stroke-width="3.5" stroke-linecap="round"/>
<path d="M277.1 197.5h0" stroke="#0c4f7c" stroke-width="3.5" stroke-linecap="round"/>
<path d="M260.6 194.1h0" stroke="#0c4f7c" stroke-width="3.5" stroke-linecap="round"/>
<path d="M267.8 219.4h0" stroke="#0c4f7c" stroke-width="3.5" stroke-linecap="round"/>
<path d="M236.3 183.8h0" stroke="#f4dc2a" stroke-width="3.5" stroke-linecap="round"/>
<path d="M288.6 194.7h0" stroke="#0c4f7c" stroke-width="3.5" stroke-linecap="round"/>
<path d="M258.4 196.9h0" stroke="#0c4f7c" stroke-width="3.5" stroke-linecap="round"/>
<path d="M250.3 169.6h0" stroke="#0c4f7c" stroke-width="3.5" stroke-linecap="round"/>
<path d="M262.1 234.0h0" stroke="#0c4f7c" stroke-width="3.5" stroke-linecap="round"/>
<path d="M257.4 207.8h0" stroke="#f4dc2a" stroke-width="3.5" stroke-linecap="round"/>
<path d="M217.5 190.5h0" stroke="#f4dc2a" stroke-width="3.5" stroke-linecap="round"/>
<path d="M248.1 174.8h0" stroke="#0c4f7c" stroke-width="3.5" stroke-linecap="round"/>
<path d="M246.3 194.2h0" stroke="#f4dc2a" stroke-width="3.5" stroke-linecap="round"/>
<path d="M228.6 195.1h0" stroke="#0c4f7c" stroke-width="3.5" stroke-linecap="round"/>
<path d="M243.0 196.0h0" stroke="#f4dc2a" stroke-width="3.5" stroke-linecap="round"/>
<path d="M266.9 203.0h0" stroke="#0c4f7c" stroke-width="3.5" stroke-linecap="round"/>
<path d="M275.3 210.8h0" stroke="#f4dc2a" stroke-width="3.5" stroke-linecap="round"/>
<path d="M247.2 188.9h0" stroke="#0c4f7c" stroke-width="3.5" stroke-linecap="round"/>
<path d="M237.9 208.2h0" stroke="#0c4f7c" stroke-width="3.5" stroke-linecap="round"/>
<path d="M240.3 196.7h0" stroke="#f4dc2a" stroke-width="3.5" stroke-linecap="round"/>
<path d="M269.9 239.7h0" stroke="#0c4f7c" stroke-width="3.5" stroke-linecap="round"/>
<path d="M252.6 182.1h0" stroke="#0c4f7c" stroke-width="3.5" stroke-linecap="round"/>
<path d="M257.0 202.3h0" stroke="#0c4f7c" stroke-width="3.5" stroke-linecap="round"/>
<path d="M277.7 182.3h0" stroke="#0c4f7c" stroke-width="3.5" stroke-linecap="round"/>
<path d="M228.7 190.6h0" stroke="#0c4f7c" stroke-width="3.5" stroke-linecap="round"/>
<path d="M277.9 206.8h0" stroke="#0c4f7c" stroke-width="3.5" stroke-linecap="round"/>
<path d="M242.1 170.3h0" stroke="#0c4f7c" stroke-width="3.5" stroke-linecap="round"/>
<path d="M239.0 205.0h0" stroke="#f4dc2a" stroke-width="3.5" stroke-linecap="round"/>
<path d="M259.1 193.0h0" stroke="#0c4f7c" stroke-width="3.5" stroke-linecap="round"/>
<path d="M250.1 186.5h0" stroke="#f4dc2a" stroke-width="3.5" stroke-linecap="round"/>
<path d="M262.2 226.3h0" stroke="#f4dc2a" stroke-width="3.5" stroke-linecap="round"/>
<path d="M270.1 202.0h0" stroke="#0c4f7c" stroke-width="3.5" stroke-linecap="round"/>
<path d="M273.5 218.6h0" stroke="#f4dc2a" stroke-width="3.5" stroke-linecap="round"/>
<path d="M287.6 174.0h0" stroke="#0c4f7c" stroke-width="3.5" stroke-linecap="round"/>
<path d="M256.3 212.1h0" stroke="#f4dc2a" stroke-width="3.5" stroke-linecap="round"/>
<path d="M285.8 206.1h0" stroke="#f4dc2a" stroke-width="3.5" stroke-linecap="round"/>
<path d="M303.2 189.2h0" stroke="#0c4f7c" stroke-width="3.5" stroke-linecap="round"/>
<path d="M261.6 211.2h0" stroke="#f4dc2a" stroke-width="3.5" stroke-linecap="round"/>
<path d="M258.1 184.5h0" stroke="#0c4f7c" stroke-width="3.5" stroke-linecap="round"/>
<path d="M264.5 197.4h0" stroke="#0c4f7c" stroke-width="3.5" stroke-linecap="round"/>
<path d="M260.7 207.7h0" stroke="#f4dc2a" stroke-width="3.5" stroke-linecap="round"/>
<path d="M282.1 224.1h0" stroke="#f4dc2a" stroke-width="3.5" stroke-linecap="round"/>
<path d="M257.9 191.2h0" stroke="#f4dc2a" stroke-width="3.5" stroke-linecap="round"/>
<path d="M261.8 213.7h0" stroke="#f4dc2a" stroke-width="3.5" stroke-linecap="round"/>
<path d="M274.8 196.2h0" stroke="#0c4f7c" stroke-width="3.5" stroke-linecap="round"/>
<path d="M248.4 208.6h0" stroke="#f4dc2a" stroke-width="3.5" stroke-linecap="round"/>
<path d="M249.4 194.6h0" stroke="#f4dc2a" stroke-width="3.5" stroke-linecap="round"/>
<path d="M254.6 200.8h0" stroke="#0c4f7c" stroke-width="3.5" stroke-linecap="round"/>
<path d="M248.1 169.8h0" stroke="#f4dc2a" stroke-width="3.5" stroke-linecap="round"/>
<path d="M277.0 204.8h0" stroke="#0c4f7c" stroke-width="3.5" stroke-linecap="round"/>
<path d="M255.2 189.2h0" stroke="#f4dc2a" stroke-width="3.5" stroke-linecap="round"/>
<path d="M227.8 199.3h0" stroke="#f4dc2a" stroke-width="3.5" stroke-linecap="round"/>
<path d="M280.1 169.6h0" stroke="#0c4f7c" stroke-width="3.5" stroke-linecap="round"/>
<path d="M258.9 189.5h0" stroke="#f4dc2a" stroke-width="3.5" stroke-linecap="round"/>
<path d="M229.0 175.5h0" stroke="#0c4f7c" stroke-width="3.5" stroke-linecap="round"/>
<path d="M259.4 220.7h0" stroke="#f4dc2a" stroke-width="3.5" stroke-linecap="round"/>
<path d="M262.5 199.4h0" stroke="#f4dc2a" stroke-width="3.5" stroke-linecap="round"/>
<path d="M265.0 212.2h0" stroke="#0c4f7c" stroke-width="3.5" stroke-linecap="round"/>
<path d="M269.1 199.5h0" stroke="#f4dc2a" stroke-width="3.5" stroke-linecap="round"/>
<path d="M246.8 162.5h0" stroke="#0c4f7c" stroke-width="3.5" stroke-linecap="round"/>
<path d="M268.1 204.1h0" stroke="#0c4f7c" stroke-width="3.5" stroke-linecap="round"/>
<path d="M248.0 193.0h0" stroke="#f4dc2a" stroke-width="3.5" stroke-linecap="round"/>
<path d="M244.7 154.0h0" stroke="#f4dc2a" stroke-width="3.5" stroke-linecap="round"/>
<path d="M263.8 188.4h0" stroke="#0c4f7c" stroke-width="3.5" stroke-linecap="round"/>
<path d="M250.1 191.9h0" stroke="#f4dc2a" stroke-width="3.5" stroke-linecap="round"/>
<path d="M269.2 183.1h0" stroke="#f4dc2a" stroke-width="3.5" stroke-linecap="round"/>
<path d="M268.5 228.9h0" stroke="#0c4f7c" stroke-width="3.5" stroke-linecap="round"/>
<path d="M275.2 225.0h0" stroke="#f4dc2a" stroke-width="3.5" stroke-linecap="round"/>
<path d="M261.1 200.8h0" stroke="#f4dc2a" stroke-width="3.5" stroke-linecap="round"/>
<path d="M261.8 179.5h0" stroke="#0c4f7c" stroke-width="3.5" stroke-linecap="round"/>
<path d="M255.7 192.0h0" stroke="#f4dc2a" stroke-width="3.5" stroke-linecap="round"/>
<path d="M235.3 206.1h0" stroke="#f4dc2a" stroke-width="3.5" stroke-linecap="round"/>
<path d="M240.9 180.0h0" stroke="#f4dc2a" stroke-width="3.5" stroke-linecap="round"/>
<path d="M264.0 205.0h0" stroke="#f4dc2a" stroke-width="3.5" stroke-linecap="round"/>
<path d="M236.2 192.8h0" stroke="#0c4f7c" stroke-width="3.5" stroke-linecap="round"/>
<path d="M231.0 209.1h0" stroke="#0c4f7c" stroke-width="3.5" stroke-linecap="round"/>
<path d="M257.3 221.1h0" stroke="#f4dc2a" stroke-width="3.5" stroke-linecap="round"/>
<path d="M252.1 191.4h0" stroke="#f4dc2a" stroke-width="3.5" stroke-linecap="round"/>
<path d="M244.3 196.1h0" stroke="#f4dc2a" stroke-width="3.5" stroke-linecap="round"/>
<path d="M274.8 184.2h0" stroke="#0c4f7c" stroke-width="3.5" stroke-linecap="round"/>
<path d="M265.8 187.0h0" stroke="#f4dc2a" stroke-width="3.5" stroke-linecap="round"/>
<path d="M264.8 192.7h0" stroke="#f4dc2a" stroke-width="3.5" stroke-linecap="round"/>
<path d="M267.1 209.8h0" stroke="#f4dc2a" stroke-width="3.5" stroke-linecap="round"/>
<path d="M245.7 195.4h0" stroke="#f4dc2a" stroke-width="3.5" stroke-linecap="round"/>
<path d="M255.8 195.8h0" stroke="#0c4f7c" stroke-width="3.5" stroke-linecap="round"/>
<path d="M261.6 166.9h0" stroke="#0c4f7c" stroke-width="3.5" stroke-linecap="round"/>
<path d="M263.6 159.8h0" stroke="#0c4f7c" stroke-width="3.5" stroke-linecap="round"/>
<path d="M249.3 211.4h0" stroke="#0c4f7c" stroke-width="3.5" stroke-linecap="round"/>
<path d="M257.6 153.0h0" stroke="#0c4f7c" stroke-width="3.5" stroke-linecap="round"/>
<path d="M238.3 198.4h0" stroke="#0c4f7c" stroke-width="3.5" stroke-linecap="round"/>
<path d="M274.5 156.3h0" stroke="#f4dc2a" stroke-width="3.5" stroke-linecap="round"/>
<path d="M256.0 185.3h0" stroke="#0c4f7c" stroke-width="3.5" stroke-linecap="round"/>
<path d="M217.2 188.8h0" stroke="#f4dc2a" stroke-width="3.5" stroke-linecap="round"/>
<path d="M249.7 183.7h0" stroke="#f4dc2a" stroke-width="3.5" stroke-linecap="round"/>
<path d="M240.9 196.4h0" stroke="#f4dc2a" stroke-width="3.5" stroke-linecap="round"/>
<path d="M291.4 182.0h0" stroke="#0c4f7c" stroke-width="3.5" stroke-linecap="round"/>
<path d="M269.9 197.2h0" stroke="#0c4f7c" stroke-width="3.5" stroke-linecap="round"/>
<path d="M247.9 187.1h0" stroke="#f4dc2a" stroke-width="3.5" stroke-linecap="round"/>
<path d="M249.6 198.4h0" stroke="#f4dc2a" stroke-width="3.5" stroke-linecap="round"/>
<path d="M232.1 170.0h0" stroke="#0c4f7c" stroke-width="3.5" stroke-linecap="round"/>
<path d="M272.2 195.2h0" stroke="#f4dc2a" stroke-width="3.5" stroke-linecap="round"/>
<path d="M251.8 165.7h0" stroke="#f4dc2a" stroke-width="3.5" stroke-linecap="round"/>
<path d="M252.3 196.1h0" stroke="#0c4f7c" stroke-width="3.5" stroke-linecap="round"/>
<path d="M268.0 165.4h0" stroke="#f4dc2a" stroke-width="3.5" stroke-linecap="round"/>
<path d="M237.3 217.2h0" stroke="#f4dc2a" stroke-width="3.5" stroke-linecap="round"/>
<path d="M251.0 203.5h0" stroke="#f4dc2a" stroke-width="3.5" stroke-linecap="round"/>
<path d="M274.6 167.4h0" stroke="#0c4f7c" stroke-width="3.5" stroke-linecap="round"/>
<path d="M258.0 189.3h0" stroke="#f4dc2a" stroke-width="3.5" stroke-linecap="round"/>
<path d="M284.4 161.2h0" stroke="#f4dc2a" stroke-width="3.5" stroke-linecap="round"/>
<path d="M247.2 186.9h0" stroke="#f4dc2a" stroke-width="3.5" stroke-linecap="round"/>
<path d="M263.2 186.6h0" stroke="#0c4f7c" stroke-width="3.5" stroke-linecap="round"/>
<path d="M273.2 173.3h0" stroke="#0c4f7c" stroke-width="3.5" stroke-linecap="round"/>
<path d="M237.1 212.2h0" stroke="#0c4f7c" stroke-width="3.5" stroke-linecap="round"/>
<path d="M243.8 188.2h0" stroke="#f4dc2a" stroke-width="3.5" stroke-linecap="round"/>
<path d="M252.0 199.9h0" stroke="#f4dc2a" stroke-width="3.5" stroke-linecap="round"/>
<path d="M248.7 204.0h0" stroke="#f4dc2a" stroke-width="3.5" stroke-linecap="round"/>
<path d="M256.4 176.2h0" stroke="#0c4f7c" stroke-width="3.5" stroke-linecap="round"/>
<path d="M262.4 236.9h0" stroke="#f4dc2a" stroke-width="3.5" stroke-linecap="round"/>
<path d="M255.0 217.0h0" stroke="#f4dc2a" stroke-width="3.5" stroke-linecap="round"/>
<path d="M289.0 205.6h0" stroke="#f4dc2a" stroke-width="3.5" stroke-linecap="round"/>
<path d="M269.1 212.7h0" stroke="#f4dc2a" stroke-width="3.5" stroke-linecap="round"/>
<path d="M258.8 206.5h0" stroke="#f4dc2a" stroke-width="3.5" stroke-linecap="round"/>
<path d="M247.6 172.3h0" stroke="#0c4f7c" stroke-width="3.5" stroke-linecap="round"/>
<path d="M263.1 183.5h0" stroke="#0c4f7c" stroke-width="3.5" stroke-linecap="round"/>
<path d="M270.1 190.3h0" stroke="#f4dc2a" stroke-width="3.5" stroke-linecap="round"/>
<path d="M240.5 188.9h0" stroke="#f4dc2a" stroke-width="3.5" stroke-linecap="round"/>
<path d="M270.0 206.0h0" stroke="#f4dc2a" stroke-width="3.5" stroke-linecap="round"/>
<path d="M262.1 204.1h0" stroke="#f4dc2a" stroke-width="3.5" stroke-linecap="round"/>
<path d="M265.0 201.0h0" stroke="#f4dc2a" stroke-width="3.5" stroke-linecap="round"/>
<path d="M263.3 178.8h0" stroke="#f4dc2a" stroke-width="3.5" stroke-linecap="round"/>
<path d="M241.6 186.5h0" stroke="#f4dc2a" stroke-width="3.5" stroke-linecap="round"/>
<path d="M262.5 197.4h0" stroke="#f4dc2a" stroke-width="3.5" stroke-linecap="round"/>
<path d="M231.6 206.1h0" stroke="#0c4f7c" stroke-width="3.5" stroke-linecap="round"/>
<path d="M262.9 192.9h0" stroke="#f4dc2a" stroke-width="3.5" stroke-linecap="round"/>
<path d="M309.4 185.0h0" stroke="#0c4f7c" stroke-width="3.5" stroke-linecap="round"/>
<path d="M245.0 214.4h0" stroke="#0c4f7c" stroke-width="3.5" stroke-linecap="round"/>
<path d="M253.0 209.5h0" stroke="#f4dc2a" stroke-width="3.5" stroke-linecap="round"/>
<path d="M252.6 205.1h0" stroke="#f4dc2a" stroke-width="3.5" stroke-linecap="round"/>
<path d="M262.2 219.9h0" stroke="#f4dc2a" stroke-width="3.5" stroke-linecap="round"/>
<path d="M262.7 206.6h0" stroke="#f4dc2a" stroke-width="3.5" stroke-linecap="round"/>
<path d="M251.3 174.5h0" stroke="#f4dc2a" stroke-width="3.5" stroke-linecap="round"/>
<path d="M265.3 207.5h0" stroke="#f4dc2a" stroke-width="3.5" stroke-linecap="round"/>
<path d="M252.9 202.8h0" stroke="#f4dc2a" stroke-width="3.5" stroke-linecap="round"/>
<path d="M234.8 186.6h0" stroke="#0c4f7c" stroke-width="3.5" stroke-linecap="round"/>
<path d="M233.2 200.6h0" stroke="#0c4f7c" stroke-width="3.5" stroke-linecap="round"/>
<path d="M233.1 191.0h0" stroke="#0c4f7c" stroke-width="3.5" stroke-linecap="round"/>
<path d="M245.0 216.6h0" stroke="#0c4f7c" stroke-width="3.5" stroke-linecap="round"/>
<path d="M245.6 184.2h0" stroke="#0c4f7c" stroke-width="3.5" stroke-linecap="round"/>
<path d="M268.4 171.3h0" stroke="#0c4f7c" stroke-width="3.5" stroke-linecap="round"/>
<path d="M263.2 187.3h0" stroke="#0c4f7c" stroke-width="3.5" stroke-linecap="round"/>
<path d="M269.2 231.4h0" stroke="#f4dc2a" stroke-width="3.5" stroke-linecap="round"/>
<path d="M276.3 191.9h0" stroke="#0c4f7c" stroke-width="3.5" stroke-linecap="round"/>
<path d="M249.6 196.4h0" stroke="#f4dc2a" stroke-width="3.5" stroke-linecap="round"/>
<path d="M265.1 216.9h0" stroke="#0c4f7c" stroke-width="3.5" stroke-linecap="round"/>
<path d="M262.6 228.3h0" stroke="#f4dc2a" stroke-width="3.5" stroke-linecap="round"/>
<path d="M259.7 202.9h0" stroke="#f4dc2a" stroke-width="3.5" stroke-linecap="round"/>
<path d="M254.1 193.9h0" stroke="#f4dc2a" stroke-width="3.5" stroke-linecap="round"/>
<path d="M264.1 191.0h0" stroke="#f4dc2a" stroke-width="3.5" stroke-linecap="round"/>
<path d="M268.2 148.7h0" stroke="#f4dc2a" stroke-width="3.5" stroke-linecap="round"/>
<path d="M244.3 187.5h0" stroke="#f4dc2a" stroke-width="3.5" stroke-linecap="round"/>
<path d="M267.3 212.4h0" stroke="#f4dc2a" stroke-width="3.5" stroke-linecap="round"/>
<path d="M244.9 207.8h0" stroke="#f4dc2a" stroke-width="3.5" stroke-linecap="round"/>
<path d="M254.5 207.6h0" stroke="#f4dc2a" stroke-width="3.5" stroke-linecap="round"/>
<path d="M246.0 212.0h0" stroke="#f4dc2a" stroke-width="3.5" stroke-linecap="round"/>
<path d="M266.4 205.4h0" stroke="#0c4f7c" stroke-width="3.5" stroke-linecap="round"/>
<path d="M273.9 181.9h0" stroke="#0c4f7c" stroke-width="3.5" stroke-linecap="round"/>
<path d="M278.0 203.3h0" stroke="#0c4f7c" stroke-width="3.5" stroke-linecap="round"/>
<path d="M231.6 193.5h0" stroke="#0c4f7c" stroke-width="3.5" stroke-linecap="round"/>
<path d="M268.4 185.7h0" stroke="#f4dc2a" stroke-width="3.5" stroke-linecap="round"/>
<path d="M259.1 211.6h0" stroke="#f4dc2a" stroke-width="3.5" stroke-linecap="round"/>
<path d="M246.5 213.4h0" stroke="#f4dc2a" stroke-width="3.5" stroke-linecap="round"/>
<path d="M248.5 219.7h0" stroke="#f4dc2a" stroke-width="3.5" stroke-linecap="round"/>
<path d="M254.8 182.7h0" stroke="#0c4f7c" stroke-width="3.5" stroke-linecap="round"/>
<path d="M253.0 196.7h0" stroke="#f4dc2a" stroke-width="3.5" stroke-linecap="round"/>
<path d="M261.2 206.0h0" stroke="#f4dc2a" stroke-width="3.5" stroke-linecap="round"/>
<path d="M261.4 186.6h0" stroke="#0c4f7c" stroke-width="3.5" stroke-linecap="round"/>
<path d="M255.0 195.0h0" stroke="#0c4f7c" stroke-width="3.5" stroke-linecap="round"/>
<path d="M274.7 194.0h0" stroke="#0c4f7c" stroke-width="3.5" stroke-linecap="round"/>
<path d="M262.6 181.3h0" stroke="#0c4f7c" stroke-width="3.5" stroke-linecap="round"/>
<path d="M262.7 208.7h0" stroke="#f4dc2a" stroke-width="3.5" stroke-linecap="round"/>
<path d="M274.2 202.3h0" stroke="#f4dc2a" stroke-width="3.5" stroke-linecap="round"/>
<path d="M256.5 214.4h0" stroke="#f4dc2a" stroke-width="3.5" stroke-linecap="round"/>
<path d="M266.2 195.7h0" stroke="#f4dc2a" stroke-width="3.5" stroke-linecap="round"/>
<path d="M267.0 197.6h0" stroke="#f4dc2a" stroke-width="3.5" stroke-linecap="round"/>
<path d="M250.9 207.6h0" stroke="#f4dc2a" stroke-width="3.5" stroke-linecap="round"/>
<path d="M237.6 201.7h0" stroke="#0c4f7c" stroke-width="3.5" stroke-linecap="round"/>
<path d="M263.8 195.8h0" stroke="#f4dc2a" stroke-width="3.5" stroke-linecap="round"/>
<path d="M278.1 177.1h0" stroke="#f4dc2a" stroke-width="3.5" stroke-linecap="round"/>
<path d="M256.2 161.5h0" stroke="#0c4f7c" stroke-width="3.5" stroke-linecap="round"/>
<path d="M245.3 186.8h0" stroke="#f4dc2a" stroke-width="3.5" stroke-linecap="round"/>
<path d="M259.1 195.2h0" stroke="#0c4f7c" stroke-width="3.5" stroke-linecap="round"/>
<path d="M250.5 215.0h0" stroke="#f4dc2a" stroke-width="3.5" stroke-linecap="round"/>
<path d="M248.8 198.3h0" stroke="#f4dc2a" stroke-width="3.5" stroke-linecap="round"/>
<path d="M253.9 214.8h0" stroke="#0c4f7c" stroke-width="3.5" stroke-linecap="round"/>
<path d="M385.3 111.3h0" stroke="#0c4f7c" stroke-width="3.5" stroke-linecap="round"/>
<path d="M355.4 157.7h0" stroke="#0c4f7c" stroke-width="3.5" stroke-linecap="round"/>
<path d="M365.0 141.1h0" stroke="#f4dc2a" stroke-width="3.5" stroke-linecap="round"/>
<path d="M346.9 162.1h0" stroke="#0c4f7c" stroke-width="3.5" stroke-linecap="round"/>
<path d="M363.5 131.4h0" stroke="#f4dc2a" stroke-width="3.5" stroke-linecap="round"/>
<path d="M362.1 156.1h0" stroke="#f4dc2a" stroke-width="3.5" stroke-linecap="round"/>
<path d="M377.9 154.9h0" stroke="#f4dc2a" stroke-width="3.5" stroke-linecap="round"/>
<path d="M348.1 139.0h0" stroke="#0c4f7c" stroke-width="3.5" stroke-linecap="round"/>
<path d="M369.1 130.5h0" stroke="#f4dc2a" stroke-width="3.5" stroke-linecap="round"/>
<path d="M368.6 128.4h0" stroke="#f4dc2a" stroke-width="3.5" stroke-linecap="round"/>
<path d="M337.2 133.9h0" stroke="#0c4f7c" stroke-width="3.5" stroke-linecap="round"/>
<path d="M359.2 182.7h0" stroke="#0c4f7c" stroke-width="3.5" stroke-linecap="round"/>
<path d="M357.4 164.5h0" stroke="#0c4f7c" stroke-width="3.5" stroke-linecap="round"/>
<path d="M369.3 121.4h0" stroke="#0c4f7c" stroke-width="3.5" stroke-linecap="round"/>
<path d="M338.0 151.5h0" stroke="#0c4f7c" stroke-width="3.5" stroke-linecap="round"/>
<path d="M360.7 179.1h0" stroke="#0c4f7c" stroke-width="3.5" stroke-linecap="round"/>
<path d="M359.7 156.6h0" stroke="#0c4f7c" stroke-width="3.5" stroke-linecap="round"/>
<path d="M375.6 117.5h0" stroke="#f4dc2a" stroke-width="3.5" stroke-linecap="round"/>
<path d="M360.3 170.8h0" stroke="#0c4f7c" stroke-width="3.5" stroke-linecap="round"/>
<path d="M395.1 142.5h0" stroke="#f4dc2a" stroke-width="3.5" stroke-linecap="round"/>
<path d="M354.6 151.3h0" stroke="#f4dc2a" stroke-width="3.5" stroke-linecap="round"/>
<path d="M353.8 152.9h0" stroke="#f4dc2a" stroke-width="3.5" stroke-linecap="round"/>
<path d="M366.5 155.5h0" stroke="#f4dc2a" stroke-width="3.5" stroke-linecap="round"/>
<path d="M375.6 144.1h0" stroke="#f4dc2a" stroke-width="3.5" stroke-linecap="round"/>
<path d="M369.2 138.9h0" stroke="#f4dc2a" stroke-width="3.5" stroke-linecap="round"/>
<path d="M350.5 146.5h0" stroke="#0c4f7c" stroke-width="3.5" stroke-linecap="round"/>
<path d="M370.8 189.8h0" stroke="#0c4f7c" stroke-width="3.5" stroke-linecap="round"/>
<path d="M375.7 134.3h0" stroke="#0c4f7c" stroke-width="3.5" stroke-linecap="round"/>
<path d="M365.9 162.3h0" stroke="#0c4f7c" stroke-width="3.5" stroke-linecap="round"/>
<path d="M410.3 135.1h0" stroke="#0c4f7c" stroke-width="3.5" stroke-linecap="round"/>
<path d="M362.7 163.8h0" stroke="#f4dc2a" stroke-width="3.5" stroke-linecap="round"/>
<path d="M367.8 153.1h0" stroke="#f4dc2a" stroke-width="3.5" stroke-linecap="round"/>
<path d="M352.9 150.0h0" stroke="#0c4f7c" stroke-width="3.5" stroke-linecap="round"/>
<path d="M344.6 154.6h0" stroke="#0c4f7c" stroke-width="3.5" stroke-linecap="round"/>
<path d="M357.8 133.5h0" stroke="#0c4f7c" stroke-width="3.5" stroke-linecap="round"/>
<path d="M369.9 144.0h0" stroke="#0c4f7c" stroke-width="3.5" stroke-linecap="round"/>
<path d="M367.1 145.8h0" stroke="#0c4f7c" stroke-width="3.5" stroke-linecap="round"/>
<path d="M361.2 164.9h0" stroke="#f4dc2a" stroke-width="3.5" stroke-linecap="round"/>
<path d="M355.4 143.8h0" stroke="#f4dc2a" stroke-width="3.5" stroke-linecap="round"/>
<path d="M345.9 166.7h0" stroke="#f4dc2a" stroke-width="3.5" stroke-linecap="round"/>
<path d="M357.2 162.2h0" stroke="#0c4f7c" stroke-width="3.5" stroke-linecap="round"/>
<path d="M346.6 145.5h0" stroke="#0c4f7c" stroke-width="3.5" stroke-linecap="round"/>
<path d="M331.9 159.2h0" stroke="#0c4f7c" stroke-width="3.5" stroke-linecap="round"/>
<path d="M349.0 124.9h0" stroke="#0c4f7c" stroke-width="3.5" stroke-linecap="round"/>
<path d="M360.0 143.1h0" stroke="#0c4f7c" stroke-width="3.5" stroke-linecap="round"/>
<path d="M376.5 163.1h0" stroke="#0c4f7c" stroke-width="3.5" stroke-linecap="round"/>
<path d="M386.8 139.0h0" stroke="#f4dc2a" stroke-width="3.5" stroke-linecap="round"/>
<path d="M357.3 126.3h0" stroke="#f4dc2a" stroke-width="3.5" stroke-linecap="round"/>
<path d="M374.3 141.6h0" stroke="#0c4f7c" stroke-width="3.5" stroke-linecap="round"/>
<path d="M369.1 98.8h0" stroke="#0c4f7c" stroke-width="3.5" stroke-linecap="round"/>
<path d="M373.2 150.2h0" stroke="#0c4f7c" stroke-width="3.5" stroke-linecap="round"/>
<path d="M368.9 115.5h0" stroke="#f4dc2a" stroke-width="3.5" stroke-linecap="round"/>
<path d="M363.1 176.4h0" stroke="#0c4f7c" stroke-width="3.5" stroke-linecap="round"/>
<path d="M346.2 136.9h0" stroke="#0c4f7c" stroke-width="3.5" stroke-linecap="round"/>
<path d="M362.7 129.6h0" stroke="#f4dc2a" stroke-width="3.5" stroke-linecap="round"/>
<path d="M369.8 153.7h0" stroke="#f4dc2a" stroke-width="3.5" stroke-linecap="round"/>
<path d="M343.9 146.1h0" stroke="#0c4f7c" stroke-width="3.5" stroke-linecap="round"/>
<path d="M357.9 124.1h0" stroke="#0c4f7c" stroke-width="3.5" stroke-linecap="round"/>
<path d="M392.4 132.1h0" stroke="#f4dc2a" stroke-width="3.5" stroke-linecap="round"/>
<path d="M365.4 147.5h0" stroke="#0c4f7c" stroke-width="3.5" stroke-linecap="round"/>
<path d="M370.1 181.5h0" stroke="#0c4f7c" stroke-width="3.5" stroke-linecap="round"/>
<path d="M364.0 133.6h0" stroke="#f4dc2a" stroke-width="3.5" stroke-linecap="round"/>
<path d="M353.9 136.1h0" stroke="#0c4f7c" stroke-width="3.5" stroke-linecap="round"/>
<path d="M353.4 107.1h0" stroke="#0c4f7c" stroke-width="3.5" stroke-linecap="round"/>
<path d="M362.1 140.8h0" stroke="#f4dc2a" stroke-width="3.5" stroke-linecap="round"/>
<path d="M363.6 158.8h0" stroke="#f4dc2a" stroke-width="3.5" stroke-linecap="round"/>
<path d="M345.6 104.1h0" stroke="#0c4f7c" stroke-width="3.5" stroke-linecap="round"/>
<path d="M378.0 147.6h0" stroke="#0c4f7c" stroke-width="3.5" stroke-linecap="round"/>
<path d="M325.9 147.6h0" stroke="#0c4f7c" stroke-width="3.5" stroke-linecap="round"/>
<path d="M351.0 142.0h0" stroke="#0c4f7c" stroke-width="3.5" stroke-linecap="round"/>
<path d="M359.3 147.0h0" stroke="#0c4f7c" stroke-width="3.5" stroke-linecap="round"/>
<path d="M360.6 153.0h0" stroke="#0c4f7c" stroke-width="3.5" stroke-linecap="round"/>
<path d="M365.9 151.1h0" stroke="#0c4f7c" stroke-width="3.5" stroke-linecap="round"/>
<path d="M364.9 164.1h0" stroke="#0c4f7c" stroke-width="3.5" stroke-linecap="round"/>
<path d="M345.9 164.5h0" stroke="#0c4f7c" stroke-width="3.5" stroke-linecap="round"/>
<path d="M383.2 141.3h0" stroke="#0c4f7c" stroke-width="3.5" stroke-linecap="round"/>
<path d="M358.9 139.4h0" stroke="#f4dc2a" stroke-width="3.5" stroke-linecap="round"/>
<path d="M358.5 138.0h0" stroke="#f4dc2a" stroke-width="3.5" stroke-linecap="round"/>
<path d="M355.0 144.0h0" stroke="#f4dc2a" stroke-width="3.5" stroke-linecap="round"/>
<path d="M351.6 138.9h0" stroke="#0c4f7c" stroke-width="3.5" stroke-linecap="round"/>
<path d="M355.2 127.6h0" stroke="#0c4f7c" stroke-width="3.5" stroke-linecap="round"/>
<path d="M352.7 115.8h0" stroke="#f4dc2a" stroke-width="3.5" stroke-linecap="round"/>
<path d="M396.9 139.1h0" stroke="#0c4f7c" stroke-width="3.5" stroke-linecap="round"/>
<path d="M356.9 135.4h0" stroke="#0c4f7c" stroke-width="3.5" stroke-linecap="round"/>
<path d="M356.3 148.4h0" stroke="#f4dc2a" stroke-width="3.5" stroke-linecap="round"/>
<path d="M368.2 145.5h0" stroke="#0c4f7c" stroke-width="3.5" stroke-linecap="round"/>
<path d="M360.0 161.7h0" stroke="#0c4f7c" stroke-width="3.5" stroke-linecap="round"/>
<path d="M362.5 117.0h0" stroke="#0c4f7c" stroke-width="3.5" stroke-linecap="round"/>
<path d="M348.8 137.2h0" stroke="#0c4f7c" stroke-width="3.5" stroke-linecap="round"/>
<path d="M354.8 164.8h0" stroke="#0c4f7c" stroke-width="3.5" stroke-linecap="round"/>
<path d="M355.2 138.6h0" stroke="#f4dc2a" stroke-width="3.5" stroke-linecap="round"/>
<path d="M338.8 158.3h0" stroke="#0c4f7c" stroke-width="3.5" stroke-linecap="round"/>
<path d="M353.5 155.2h0" stroke="#0c4f7c" stroke-width="3.5" stroke-linecap="round"/>
<path d="M365.7 142.8h0" stroke="#f4dc2a" stroke-width="3.5" stroke-linecap="round"/>
<path d="M329.6 140.7h0" stroke="#0c4f7c" stroke-width="3.5" stroke-linecap="round"/>
<path d="M334.1 150.7h0" stroke="#0c4f7c" stroke-width="3.5" stroke-linecap="round"/>
<path d="M370.8 147.2h0" stroke="#0c4f7c" stroke-width="3.5" stroke-linecap="round"/>
<path d="M350.2 161.5h0" stroke="#0c4f7c" stroke-width="3.5" stroke-linecap="round"/>
<path d="M353.9 159.6h0" stroke="#f4dc2a" stroke-width="3.5" stroke-linecap="round"/>
<path d="M362.3 136.7h0" stroke="#f4dc2a" stroke-width="3.5" stroke-linecap="round"/>
<path d="M348.4 122.4h0" stroke="#0c4f7c" stroke-width="3.5" stroke-linecap="round"/>
<path d="M371.0 152.1h0" stroke="#0c4f7c" stroke-width="3.5" stroke-linecap="round"/>
<path d="M339.9 155.1h0" stroke="#0c4f7c" stroke-width="3.5" stroke-linecap="round"/>
<path d="M376.2 160.9h0" stroke="#0c4f7c" stroke-width="3.5" stroke-linecap="round"/>
<path d="M356.7 145.9h0" stroke="#0c4f7c" stroke-width="3.5" stroke-linecap="round"/>
<path d="M363.8 143.0h0" stroke="#f4dc2a" stroke-width="3.5" stroke-linecap="round"/>
<path d="M364.7 145.9h0" stroke="#0c4f7c" stroke-width="3.5" stroke-linecap="round"/>
<path d="M378.9 153.4h0" stroke="#f4dc2a" stroke-width="3.5" stroke-linecap="round"/>
<path d="M364.2 128.9h0" stroke="#f4dc2a" stroke-width="3.5" stroke-linecap="round"/>
<path d="M370.1 133.2h0" stroke="#0c4f7c" stroke-width="3.5" stroke-linecap="round"/>
<path d="M366.0 167.0h0" stroke="#f4dc2a" stroke-width="3.5" stroke-linecap="round"/>
<path d="M404.1 139.3h0" stroke="#0c4f7c" stroke-width="3.5" stroke-linecap="round"/>
<path d="M348.9 143.1h0" stroke="#0c4f7c" stroke-width="3.5" stroke-linecap="round"/>
<path d="M361.5 145.8h0" stroke="#0c4f7c" stroke-width="3.5" stroke-linecap="round"/>
<path d="M341.9 150.1h0" stroke="#0c4f7c" stroke-width="3.5" stroke-linecap="round"/>
<path d="M357.7 148.9h0" stroke="#f4dc2a" stroke-width="3.5" stroke-linecap="round"/>
<path d="M355.9 167.1h0" stroke="#0c4f7c" stroke-width="3.5" stroke-linecap="round"/>
<path d="M352.2 124.6h0" stroke="#f4dc2a" stroke-width="3.5" stroke-linecap="round"/>
<path d="M341.8 146.5h0" stroke="#0c4f7c" stroke-width="3.5" stroke-linecap="round"/>
<path d="M350.3 140.3h0" stroke="#0c4f7c" stroke-width="3.5" stroke-linecap="round"/>
<path d="M332.6 143.6h0" stroke="#0c4f7c" stroke-width="3.5" stroke-linecap="round"/>
<path d="M348.9 119.9h0" stroke="#0c4f7c" stroke-width="3.5" stroke-linecap="round"/>
<path d="M358.3 157.9h0" stroke="#0c4f7c" stroke-width="3.5" stroke-linecap="round"/>
<path d="M367.9 159.9h0" stroke="#0c4f7c" stroke-width="3.5" stroke-linecap="round"/>
<path d="M334.6 146.2h0" stroke="#0c4f7c" stroke-width="3.5" stroke-linecap="round"/>
<path d="M362.6 139.2h0" stroke="#f4dc2a" stroke-width="3.5" stroke-linecap="round"/>
<path d="M389.9 155.7h0" stroke="#0c4f7c" stroke-width="3.5" stroke-linecap="round"/>
<path d="M377.1 155.3h0" stroke="#f4dc2a" stroke-width="3.5" stroke-linecap="round"/>
<path d="M347.2 144.3h0" stroke="#0c4f7c" stroke-width="3.5" stroke-linecap="round"/>
<path d="M377.4 144.8h0" stroke="#f4dc2a" stroke-width="3.5" stroke-linecap="round"/>
<path d="M349.7 148.4h0" stroke="#0c4f7c" stroke-width="3.5" stroke-linecap="round"/>
<path d="M355.7 146.4h0" stroke="#f4dc2a" stroke-width="3.5" stroke-linecap="round"/>
<path d="M379.0 127.2h0" stroke="#0c4f7c" stroke-width="3.5" stroke-linecap="round"/>
<path d="M358.0 139.1h0" stroke="#f4dc2a" stroke-width="3.5" stroke-linecap="round"/>
<path d="M346.1 149.4h0" stroke="#0c4f7c" stroke-width="3.5" stroke-linecap="round"/>
<path d="M379.9 142.5h0" stroke="#0c4f7c" stroke-width="3.5" stroke-linecap="round"/>
<path d="M335.7 136.7h0" stroke="#0c4f7c" stroke-width="3.5" stroke-linecap="round"/>
<path d="M351.4 165.1h0" stroke="#0c4f7c" stroke-width="3.5" stroke-linecap="round"/>
<path d="M374.1 123.4h0" stroke="#0c4f7c" stroke-width="3.5" stroke-linecap="round"/>
<path d="M377.2 142.0h0" stroke="#0c4f7c" stroke-width="3.5" stroke-linecap="round"/>
<path d="M342.6 156.5h0" stroke="#f4dc2a" stroke-width="3.5" stroke-linecap="round"/>
<path d="M353.5 132.2h0" stroke="#0c4f7c" stroke-width="3.5" stroke-linecap="round"/>
<path d="M347.2 147.5h0" stroke="#0c4f7c" stroke-width="3.5" stroke-linecap="round"/>
<path d="M367.6 141.2h0" stroke="#f4dc2a" stroke-width="3.5" stroke-linecap="round"/>
<path d="M364.9 155.1h0" stroke="#f4dc2a" stroke-width="3.5" stroke-linecap="round"/>
<path d="M376.4 150.8h0" stroke="#0c4f7c" stroke-width="3.5" stroke-linecap="round"/>
<path d="M380.6 139.0h0" stroke="#0c4f7c" stroke-width="3.5" stroke-linecap="round"/>
<path d="M363.5 178.4h0" stroke="#0c4f7c" stroke-width="3.5" stroke-linecap="round"/>
<path d="M363.3 187.0h0" stroke="#0c4f7c" stroke-width="3.5" stroke-linecap="round"/>
<path d="M332.5 156.2h0" stroke="#0c4f7c" stroke-width="3.5" stroke-linecap="round"/>
<path d="M351.9 153.6h0" stroke="#f4dc2a" stroke-width="3.5" stroke-linecap="round"/>
<path d="M369.4 179.0h0" stroke="#0c4f7c" stroke-width="3.5" stroke-linecap="round"/>
<path d="M378.8 156.9h0" stroke="#f4dc2a" stroke-width="3.5" stroke-linecap="round"/>
<path d="M354.9 125.1h0" stroke="#0c4f7c" stroke-width="3.5" stroke-linecap="round"/>
<path d="M355.7 132.8h0" stroke="#0c4f7c" stroke-width="3.5" stroke-linecap="round"/>
<path d="M363.6 156.7h0" stroke="#f4dc2a" stroke-width="3.5" stroke-linecap="round"/>
<path d="M375.7 146.3h0" stroke="#f4dc2a" stroke-width="3.5" stroke-linecap="round"/>
<path d="M338.0 162.3h0" stroke="#f4dc2a" stroke-width="3.5" stroke-linecap="round"/>
<path d="M354.4 139.9h0" stroke="#f4dc2a" stroke-width="3.5" stroke-linecap="round"/>
<path d="M360.0 145.3h0" stroke="#0c4f7c" stroke-width="3.5" stroke-linecap="round"/>
<path d="M338.6 151.8h0" stroke="#0c4f7c" stroke-width="3.5" stroke-linecap="round"/>
<path d="M388.5 124.1h0" stroke="#0c4f7c" stroke-width="3.5" stroke-linecap="round"/>
<path d="M359.0 134.6h0" stroke="#0c4f7c" stroke-width="3.5" stroke-linecap="round"/>
<path d="M357.6 116.7h0" stroke="#0c4f7c" stroke-width="3.5" stroke-linecap="round"/>
<path d="M338.2 167.3h0" stroke="#0c4f7c" stroke-width="3.5" stroke-linecap="round"/>
<path d="M374.4 168.7h0" stroke="#0c4f7c" stroke-width="3.5" stroke-linecap="round"/>
<path d="M370.0 162.8h0" stroke="#f4dc2a" stroke-width="3.5" stroke-linecap="round"/>
<path d="M355.5 150.9h0" stroke="#f4dc2a" stroke-width="3.5" stroke-linecap="round"/>
<path d="M363.0 184.1h0" stroke="#0c4f7c" stroke-width="3.5" stroke-linecap="round"/>
<path d="M351.9 157.7h0" stroke="#0c4f7c" stroke-width="3.5" stroke-linecap="round"/>
<path d="M349.1 153.2h0" stroke="#f4dc2a" stroke-width="3.5" stroke-linecap="round"/>
<path d="M334.0 141.1h0" stroke="#0c4f7c" stroke-width="3.5" stroke-linecap="round"/>
<path d="M369.0 154.2h0" stroke="#f4dc2a" stroke-width="3.5" stroke-linecap="round"/>
<path d="M341.8 130.1h0" stroke="#0c4f7c" stroke-width="3.5" stroke-linecap="round"/>
<path d="M374.8 132.0h0" stroke="#0c4f7c" stroke-width="3.5" stroke-linecap="round"/>
<path d="M381.0 119.7h0" stroke="#0c4f7c" stroke-width="3.5" stroke-linecap="round"/>
<path d="M353.9 146.8h0" stroke="#f4dc2a" stroke-width="3.5" stroke-linecap="round"/>
<path d="M350.5 148.5h0" stroke="#0c4f7c" stroke-width="3.5" stroke-linecap="round"/>
<path d="M345.2 146.2h0" stroke="#0c4f7c" stroke-width="3.5" stroke-linecap="round"/>
<path d="M347.7 112.6h0" stroke="#0c4f7c" stroke-width="3.5" stroke-linecap="round"/>
<path d="M376.1 175.1h0" stroke="#f4dc2a" stroke-width="3.5" stroke-linecap="round"/>
<path d="M357.1 111.6h0" stroke="#0c4f7c" stroke-width="3.5" stroke-linecap="round"/>
<path d="M378.6 132.4h0" stroke="#f4dc2a" stroke-width="3.5" stroke-linecap="round"/>
<path d="M362.6 139.2h0" stroke="#f4dc2a" stroke-width="3.5" stroke-linecap="round"/>
<path d="M358.8 141.3h0" stroke="#f4dc2a" stroke-width="3.5" stroke-linecap="round"/>
<path d="M349.4 169.8h0" stroke="#0c4f7c" stroke-width="3.5" stroke-linecap="round"/>
<path d="M366.2 150.1h0" stroke="#0c4f7c" stroke-width="3.5" stroke-linecap="round"/>
<path d="M347.3 138.9h0" stroke="#0c4f7c" stroke-width="3.5" stroke-linecap="round"/>
<path d="M367.3 155.5h0" stroke="#f4dc2a" stroke-width="3.5" stroke-linecap="round"/>
<path d="M350.4 123.6h0" stroke="#f4dc2a" stroke-width="3.5" stroke-linecap="round"/>
<path d="M350.6 133.8h0" stroke="#0c4f7c" stroke-width="3.5" stroke-linecap="round"/>
<path d="M363.4 149.5h0" stroke="#0c4f7c" stroke-width="3.5" stroke-linecap="round"/>
<path d="M373.1 145.3h0" stroke="#0c4f7c" stroke-width="3.5" stroke-linecap="round"/>
<path d="M371.0 140.4h0" stroke="#f4dc2a" stroke-width="3.5" stroke-linecap="round"/>
<path d="M318.4 140.6h0" stroke="#0c4f7c" stroke-width="3.5" stroke-linecap="round"/>
<path d="M345.2 137.6h0" stroke="#0c4f7c" stroke-width="3.5" stroke-linecap="round"/>
<path d="M341.2 146.8h0" stroke="#0c4f7c" stroke-width="3.5" stroke-linecap="round"/>
<path d="M362.5 161.3h0" stroke="#0c4f7c" stroke-width="3.5" stroke-linecap="round"/>
<path d="M363.4 147.5h0" stroke="#0c4f7c" stroke-width="3.5" stroke-linecap="round"/>
<path d="M342.5 136.6h0" stroke="#0c4f7c" stroke-width="3.5" stroke-linecap="round"/>
<path d="M351.0 136.6h0" stroke="#0c4f7c" stroke-width="3.5" stroke-linecap="round"/>
<path d="M353.2 146.2h0" stroke="#f4dc2a" stroke-width="3.5" stroke-linecap="round"/>
<path d="M362.1 150.9h0" stroke="#0c4f7c" stroke-width="3.5" stroke-linecap="round"/>
<path d="M359.8 139.6h0" stroke="#f4dc2a" stroke-width="3.5" stroke-linecap="round"/>
<path d="M370.9 156.1h0" stroke="#0c4f7c" stroke-width="3.5" stroke-linecap="round"/>
<path d="M364.1 136.7h0" stroke="#f4dc2a" stroke-width="3.5" stroke-linecap="round"/>
<path d="M375.1 152.4h0" stroke="#0c4f7c" stroke-width="3.5" stroke-linecap="round"/>
<path d="M367.9 147.7h0" stroke="#0c4f7c" stroke-width="3.5" stroke-linecap="round"/>
<path d="M348.1 137.0h0" stroke="#0c4f7c" stroke-width="3.5" stroke-linecap="round"/>
<path d="M356.9 141.3h0" stroke="#f4dc2a" stroke-width="3.5" stroke-linecap="round"/>
<path d="M328.7 149.4h0" stroke="#0c4f7c" stroke-width="3.5" stroke-linecap="round"/>
<path d="M329.5 145.2h0" stroke="#0c4f7c" stroke-width="3.5" stroke-linecap="round"/>
<path d="M321.6 161.1h0" stroke="#0c4f7c" stroke-width="3.5" stroke-linecap="round"/>
<path d="M357.9 152.4h0" stroke="#f4dc2a" stroke-width="3.5" stroke-linecap="round"/>
<path d="M350.3 144.7h0" stroke="#0c4f7c" stroke-width="3.5" stroke-linecap="round"/>
<path d="M346.6 134.3h0" stroke="#0c4f7c" stroke-width="3.5" stroke-linecap="round"/>
<path d="M344.7 138.3h0" stroke="#0c4f7c" stroke-width="3.5" stroke-linecap="round"/>
<path d="M342.9 120.4h0" stroke="#0c4f7c" stroke-width="3.5" stroke-linecap="round"/>
<path d="M334.4 161.9h0" stroke="#f4dc2a" stroke-width="3.5" stroke-linecap="round"/>
<path d="M369.9 149.6h0" stroke="#0c4f7c" stroke-width="3.5" stroke-linecap="round"/>
<path d="M358.2 171.2h0" stroke="#0c4f7c" stroke-width="3.5" stroke-linecap="round"/>
<path d="M366.2 157.6h0" stroke="#0c4f7c" stroke-width="3.5" stroke-linecap="round"/>
<path d="M355.8 154.2h0" stroke="#0c4f7c" stroke-width="3.5" stroke-linecap="round"/>
<path d="M375.4 106.4h0" stroke="#0c4f7c" stroke-width="3.5" stroke-linecap="round"/>
<path d="M349.3 158.7h0" stroke="#f4dc2a" stroke-width="3.5" stroke-linecap="round"/>
<path d="M345.4 153.2h0" stroke="#0c4f7c" stroke-width="3.5" stroke-linecap="round"/>
<path d="M347.0 147.6h0" stroke="#0c4f7c" stroke-width="3.5" stroke-linecap="round"/>
<path d="M361.6 157.8h0" stroke="#f4dc2a" stroke-width="3.5" stroke-linecap="round"/>
<path d="M356.6 142.1h0" stroke="#f4dc2a" stroke-width="3.5" stroke-linecap="round"/>
<path d="M369.3 135.8h0" stroke="#0c4f7c" stroke-width="3.5" stroke-linecap="round"/>
<path d="M361.5 144.2h0" stroke="#0c4f7c" stroke-width="3.5" stroke-linecap="round"/>
<path d="M361.8 110.9h0" stroke="#0c4f7c" stroke-width="3.5" stroke-linecap="round"/>
<path d="M369.9 167.7h0" stroke="#0c4f7c" stroke-width="3.5" stroke-linecap="round"/>
<path d="M318.1 138.9h0" stroke="#0c4f7c" stroke-width="3.5" stroke-linecap="round"/>
<path d="M341.4 139.0h0" stroke="#0c4f7c" stroke-width="3.5" stroke-linecap="round"/>
<path d="M347.4 163.5h0" stroke="#0c4f7c" stroke-width="3.5" stroke-linecap="round"/>
<path d="M353.0 141.5h0" stroke="#0c4f7c" stroke-width="3.5" stroke-linecap="round"/>
<path d="M339.2 148.5h0" stroke="#0c4f7c" stroke-width="3.5" stroke-linecap="round"/>
<path d="M378.3 167.8h0" stroke="#0c4f7c" stroke-width="3.5" stroke-linecap="round"/>
<path d="M356.1 139.3h0" stroke="#f4dc2a" stroke-width="3.5" stroke-linecap="round"/>
<path d="M368.2 162.5h0" stroke="#0c4f7c" stroke-width="3.5" stroke-linecap="round"/>
<path d="M361.4 149.4h0" stroke="#0c4f7c" stroke-width="3.5" stroke-linecap="round"/>
<path d="M353.2 162.2h0" stroke="#f4dc2a" stroke-width="3.5" stroke-linecap="round"/>
<path d="M366.7 137.1h0" stroke="#f4dc2a" stroke-width="3.5" stroke-linecap="round"/>
<path d="M364.7 138.5h0" stroke="#f4dc2a" stroke-width="3.5" stroke-linecap="round"/>
<path d="M337.1 142.8h0" stroke="#0c4f7c" stroke-width="3.5" stroke-linecap="round"/>
<path d="M329.9 125.6h0" stroke="#0c4f7c" stroke-width="3.5" stroke-linecap="round"/>
<path d="M364.1 137.4h0" stroke="#f4dc2a" stroke-width="3.5" stroke-linecap="round"/>
<path d="M386.7 156.2h0" stroke="#0c4f7c" stroke-width="3.5" stroke-linecap="round"/>
<path d="M368.7 169.5h0" stroke="#0c4f7c" stroke-width="3.5" stroke-linecap="round"/>
<path d="M366.1 138.8h0" stroke="#f4dc2a" stroke-width="3.5" stroke-linecap="round"/>
<path d="M344.4 94.5h0" stroke="#0c4f7c" stroke-width="3.5" stroke-linecap="round"/>
<path d="M349.6 154.1h0" stroke="#f4dc2a" stroke-width="3.5" stroke-linecap="round"/>
<path d="M332.2 146.5h0" stroke="#0c4f7c" stroke-width="3.5" stroke-linecap="round"/>
<path d="M345.9 157.9h0" stroke="#0c4f7c" stroke-width="3.5" stroke-linecap="round"/>
<path d="M381.5 149.8h0" stroke="#f4dc2a" stroke-width="3.5" stroke-linecap="round"/>
<path d="M333.0 120.1h0" stroke="#0c4f7c" stroke-width="3.5" stroke-linecap="round"/>
<path d="M356.4 131.2h0" stroke="#0c4f7c" stroke-width="3.5" stroke-linecap="round"/>
<path d="M363.0 154.2h0" stroke="#f4dc2a" stroke-width="3.5" stroke-linecap="round"/>
<path d="M383.0 174.2h0" stroke="#0c4f7c" stroke-width="3.5" stroke-linecap="round"/>
<path d="M364.0 97.8h0" stroke="#0c4f7c" stroke-width="3.5" stroke-linecap="round"/>
<path d="M383.0 145.2h0" stroke="#0c4f7c" stroke-width="3.5" stroke-linecap="round"/>
<path d="M336.2 156.2h0" stroke="#0c4f7c" stroke-width="3.5" stroke-linecap="round"/>
<path d="M355.9 145.1h0" stroke="#f4dc2a" stroke-width="3.5" stroke-linecap="round"/>
<path d="M344.4 149.3h0" stroke="#0c4f7c" stroke-width="3.5" stroke-linecap="round"/>
<path d="M389.4 144.8h0" stroke="#f4dc2a" stroke-width="3.5" stroke-linecap="round"/>
<path d="M358.4 103.1h0" stroke="#0c4f7c" stroke-width="3.5" stroke-linecap="round"/>
<path d="M351.2 119.7h0" stroke="#0c4f7c" stroke-width="3.5" stroke-linecap="round"/>
<path d="M364.5 109.9h0" stroke="#0c4f7c" stroke-width="3.5" stroke-linecap="round"/>
<path d="M337.8 144.9h0" stroke="#0c4f7c" stroke-width="3.5" stroke-linecap="round"/>
<path d="M363.1 170.0h0" stroke="#0c4f7c" stroke-width="3.5" stroke-linecap="round"/>
<path d="M63.9 447.6L58.8 447.3M83.9 414.0L77.5 419.0M69.9 446.7L67.6 450.4M75.3 426.1L73.9 418.5M61.1 424.5L59.2 423.0M58.2 426.1L56.1 419.1M52.1 432.1L57.8 437.6M60.7 420.7L55.8 417.6M62.8 423.0L70.2 427.9M33.9 434.4L40.1 431.6M57.7 417.4L59.0 422.5M48.1 427.5L49.4 432.0M63.3 436.3L63.3 427.9M63.0 443.1L63.3 443.2M54.6 421.0L54.3 423.3M46.2 430.4L51.3 425.2M74.0 419.0L73.9 418.5M67.6 420.0L61.7 426.0M64.4 443.8L58.3 446.3M71.4 438.2L79.5 436.4M76.0 434.5L80.5 438.2M46.5 426.8L48.7 425.9M47.6 450.3L49.6 450.4M34.4 424.5L43.3 425.9M36.8 434.8L44.4 432.5M71.0 428.3L70.4 435.1M61.5 435.1L61.7 438.5M28.8 438.3L25.0 434.2M71.4 452.5L72.6 444.3M50.2 423.0L51.0 427.7M72.7 437.1L76.4 438.8M77.6 450.0L74.4 443.1M58.2 435.1L62.9 433.7M55.2 428.1L61.8 430.3M64.8 411.8L61.7 419.4M72.9 447.9L67.8 444.9M58.1 428.1L54.9 436.4M64.4 441.0L63.4 433.0M67.5 448.6L71.4 452.5M70.3 458.1L71.7 450.1M52.0 427.5L59.8 425.7M61.8 430.3L62.8 427.7M61.8 430.7L60.1 433.2M43.5 457.9L50.0 458.7M78.7 437.2L79.1 434.1M67.0 450.7L63.6 452.5M56.8 429.3L58.1 431.7M66.1 422.5L62.6 420.4M68.9 447.1L69.7 440.8M48.4 417.6L50.8 417.4M65.1 440.0L62.4 446.1M52.0 436.9L45.6 436.5M77.6 450.0L77.9 447.3M52.4 422.4L56.5 422.5M68.6 442.1L73.6 439.0M84.9 443.5L80.8 443.1M62.8 413.8L59.3 411.0M60.1 421.6L58.6 429.3M64.0 423.5L65.3 423.3M65.3 422.1L67.6 419.4M91.0 439.7L88.9 437.2M72.9 451.2L76.7 448.6M66.2 447.9L65.4 440.8M67.0 453.8L61.0 447.5M46.0 442.5L52.0 437.0M75.6 457.4L71.6 454.0M60.3 428.8L66.3 429.8M73.6 447.1L71.7 450.1M63.8 428.9L58.2 426.1M69.7 441.9L71.2 444.4M62.8 413.8L63.4 421.7M68.3 434.6L67.2 426.9M53.5 420.5L50.0 415.4M72.2 453.0L66.2 447.3M74.0 432.4L75.2 438.5M54.9 459.9L49.4 455.3M52.5 418.8L59.8 418.0M41.1 425.0L38.0 429.7M74.1 442.8L67.8 444.9M69.8 425.0L63.8 428.9M54.5 429.9L58.2 426.1M74.4 439.6L70.5 446.0M55.5 436.7L59.7 443.8M67.2 434.0L62.3 435.3M59.3 442.6L66.1 441.3M59.3 413.1L57.3 417.6M52.5 463.3L49.4 455.3M59.8 418.0L64.8 413.2M49.6 419.6L43.3 425.9M77.5 443.1L71.6 449.4M60.6 444.4L57.1 438.1M49.3 433.8L50.9 426.6M62.9 423.8L60.3 431.2M52.0 432.7L56.4 427.6M73.3 447.9L77.6 450.3M18.7 449.9L25.6 445.5M54.1 424.7L53.4 425.7M31.0 454.5L38.7 457.1M74.2 452.7L72.6 451.6M74.3 465.5L76.1 457.3M77.9 430.4L72.0 426.5M64.4 444.8L71.6 449.4M61.1 418.7L63.3 413.9M66.2 444.3L66.0 452.1M61.2 426.4L61.9 419.7M67.2 426.9L74.0 429.4M64.6 431.5L64.8 429.7M59.8 418.0L57.1 412.2M66.3 429.8L63.0 429.6M66.1 417.1L62.9 416.2M60.7 429.9L69.6 429.5M63.9 434.5L63.5 427.3M61.7 409.2L55.9 416.0M61.8 430.3L58.7 426.9M61.2 426.4L63.7 433.5M55.6 412.4L47.9 408.4M80.7 435.1L79.9 444.0M77.9 438.1L82.9 443.4M67.8 450.9L72.6 451.6M77.7 434.3L75.3 435.6M90.6 431.7L85.5 438.0M68.1 436.6L74.1 439.5M67.1 430.5L68.0 429.2M44.2 424.5L47.4 428.8M39.4 426.7L41.8 419.6M60.2 439.3L53.1 439.6M62.0 454.0L67.3 447.6M69.6 429.5L61.8 427.6M39.7 434.2L40.1 431.6M60.3 428.8L61.1 433.6M80.6 448.5L73.1 450.2M61.7 419.4L62.2 422.7M59.0 449.9L65.0 447.1M71.7 443.5L77.1 440.6M55.5 423.6L62.7 428.7M46.3 418.8L44.7 427.5M58.7 426.9L61.4 420.4M54.9 421.3L59.5 415.5M69.9 446.7L67.8 441.7M57.2 431.2L53.4 425.7M71.8 442.6L67.6 450.5M34.5 437.6L40.4 434.9M45.4 420.3L43.5 426.4M68.3 434.6L73.8 429.3M60.3 420.3L56.6 424.5M60.3 431.2L56.3 425.7M61.0 441.4L59.3 442.6M58.5 432.4L53.5 428.8M45.6 436.5L51.8 431.2M57.6 443.6L58.7 442.6M52.3 420.5L59.6 417.3M72.5 439.1L79.4 439.8M64.6 431.5L61.4 429.2M65.5 444.1L62.8 446.9M62.4 446.1L70.4 449.4M69.1 425.7L66.4 429.6M61.1 433.6L54.0 434.4M70.0 429.1L77.4 428.7M68.4 449.2L66.8 443.5M60.1 421.6L60.7 422.5M70.6 416.3L69.7 416.4M71.9 438.2L67.8 433.2M73.8 429.3L69.0 434.5M65.5 445.2L62.9 437.6M101.6 440.1L101.7 434.1M52.0 432.7L57.6 431.3M64.5 427.8L57.2 426.1M57.1 438.1L61.1 436.2M57.1 412.2L62.5 416.2M67.7 430.4L74.9 434.5M75.2 435.8L73.8 429.3M45.1 398.3L42.9 404.5M24.1 417.9L29.8 424.3M54.4 409.4L56.1 405.9M65.9 423.4L58.9 426.3M90.6 431.7L93.7 430.5M62.6 426.7L55.2 428.1M59.0 427.9L62.5 425.4M65.1 459.7L71.6 454.0M55.5 436.7L64.4 435.1M55.9 423.6L52.0 427.5M67.4 432.1L74.4 434.1M70.5 443.1L65.2 441.5M47.2 435.8L48.7 438.0M73.3 419.8L67.2 419.8M101.6 440.1L96.2 434.4M46.6 418.3L53.5 421.7M80.8 454.1L77.5 455.4M69.7 440.8L74.3 444.8M42.9 404.5L45.6 403.4M69.1 445.9L66.5 445.6M61.0 424.8L60.1 428.5M84.1 440.1L79.4 439.8M92.2 430.4L88.8 430.7M44.7 427.5L48.9 426.6M74.0 421.3L67.3 418.3M73.2 446.1L75.2 445.2M62.8 439.9L67.2 436.5M74.0 419.0L70.6 416.3M70.1 422.1L63.7 425.3M54.6 450.4L58.7 448.2M58.6 415.4L61.1 418.7M53.2 427.1L52.0 427.5M43.6 399.6L51.5 400.7M58.8 439.8L63.8 437.3M56.3 425.7L63.7 425.3M54.3 423.3L57.3 417.6M79.3 432.4L77.1 440.6M62.6 426.7L65.0 425.6M67.9 437.4L67.4 432.6M31.0 454.5L38.7 457.1M74.8 440.0L72.2 442.3M68.9 416.3L63.4 421.4M68.8 429.2L62.4 433.3M67.3 446.2L64.8 444.5M61.1 422.2L66.9 428.1M79.1 431.0L71.0 427.5M74.4 443.1L69.1 439.1M55.1 443.0L52.8 449.0M70.0 429.1L66.9 435.3M70.6 444.1L65.4 440.8M71.9 445.0L76.2 437.9M70.9 437.3L74.1 442.8M51.1 414.1L53.5 416.4M63.8 428.9L62.1 429.8M81.5 449.8L79.4 444.3M54.3 440.9L56.4 437.0M53.5 421.7L49.6 425.0M73.8 444.0L65.5 444.1M50.4 420.9L49.9 424.4M73.6 447.1L65.9 447.8M60.8 429.1L55.8 423.5M71.2 430.8L74.6 433.3M39.7 434.2L38.0 429.7M43.3 436.0L49.3 433.8M68.8 440.5L70.6 447.7M55.8 417.6L49.9 411.2M73.8 438.5L66.4 437.9M58.1 441.6L65.4 436.5M46.7 409.2L48.4 417.6M67.3 418.3L71.9 418.7M58.1 428.1L61.7 425.2M73.4 441.0L67.1 446.2M65.8 413.9L63.7 413.7M73.8 431.0L76.7 438.9M55.3 444.6L63.4 447.9M58.7 419.5L63.7 413.7M64.5 421.6L55.9 423.6M52.6 426.3L59.7 421.5M53.9 430.7L56.5 428.5M67.3 431.2L67.1 436.6M52.3 420.5L59.2 420.8M56.6 424.3L55.9 416.0M74.7 452.0L79.7 447.6M53.5 428.8L52.6 428.8M68.9 447.1L67.2 442.1M75.3 426.1L75.6 427.3M46.0 442.5L52.0 437.0M78.4 448.9L76.0 452.3M61.0 442.8L58.9 435.5M74.9 434.5L70.0 429.1M59.1 455.9L62.0 459.5M71.1 413.6L74.1 420.3M38.0 425.5L38.0 429.7M57.3 424.8L55.5 423.6M63.9 416.7L61.1 418.7M63.8 429.6L69.2 431.3M61.8 430.7L61.1 427.8M64.4 441.6L70.5 437.3M46.4 430.2L50.1 426.7M55.1 424.4L62.9 425.7M29.8 424.3L24.1 417.9M65.3 420.4L61.6 413.4M50.8 419.3L58.8 421.9M81.5 449.8L75.6 449.3M63.5 436.7L55.9 436.6M51.0 427.7L51.9 428.2M74.5 443.3L72.4 447.5M56.6 436.3L58.1 428.1M59.7 443.8L68.5 444.0M67.6 438.1L72.7 439.2M53.5 428.8L56.4 432.1M58.2 435.1L66.8 437.6M47.6 423.4L55.3 425.2M68.8 429.2L72.7 434.5M62.8 446.9L68.6 443.2M50.5 423.5L53.4 425.7M60.8 423.5L59.3 423.4M41.7 443.8L43.4 444.2M67.5 445.1L62.6 437.8M64.7 452.9L69.8 452.1M63.7 417.5L65.3 420.4M63.4 447.9L64.5 450.2M31.0 454.5L39.1 455.6M78.5 442.8L81.9 445.9M57.4 424.8L58.9 426.2M64.0 422.8L61.5 424.8M52.0 432.5L56.6 434.7M45.0 429.1L47.4 431.5M71.3 439.4L66.9 440.7M60.2 423.7L61.6 431.0M73.1 437.7L70.0 430.8M75.9 419.7L73.9 416.3M63.9 434.5L71.9 438.2M53.6 434.8L52.0 429.7M70.9 449.0L67.8 449.2M67.7 444.5L65.4 436.5M51.3 425.2L52.5 418.8M46.3 423.6L50.8 417.4M61.0 424.8L61.6 430.9M69.6 443.9L69.4 441.6M63.8 437.3L66.9 431.5M53.2 432.3L59.4 426.4M73.4 444.2L70.5 443.1M71.4 433.8L76.0 434.5M61.8 430.7L53.9 427.5M65.2 409.6L60.2 406.2M74.3 424.4L69.6 420.7M53.1 436.1L59.3 439.4M73.6 447.1L68.5 444.0M51.5 426.3L52.9 431.6M66.5 428.8L59.5 428.9M53.7 423.2L52.6 419.6M50.6 435.7L59.1 435.9M64.4 443.8L64.4 441.0M78.2 433.0L86.7 431.6M72.4 432.1L66.9 438.0M68.6 443.2L63.6 440.2M63.6 429.0L59.8 425.7M56.6 436.2L61.2 439.8M48.1 437.6L53.3 437.5M56.6 424.5L55.9 416.0M57.2 426.1L52.6 419.6M77.6 450.0L69.5 446.4M51.4 421.2L50.0 425.5M61.9 447.1L66.9 447.9M53.6 425.0L57.3 424.8M61.7 464.4L67.9 459.0M63.9 439.9L69.0 437.8M62.8 439.9L60.6 444.9M71.9 418.7L77.5 419.0M56.6 424.3L56.6 428.3M45.8 437.4L46.7 433.6M71.0 427.5L69.0 420.0M52.8 434.3L54.4 432.2M71.6 449.4L70.6 444.1M65.1 448.3L72.6 451.6M81.0 428.6L74.0 432.4M81.5 443.9L81.2 438.3M50.4 420.9L51.9 422.0M72.7 427.3L70.5 433.9M59.5 415.5L53.3 421.3M71.5 439.4L76.0 437.3M72.2 472.7L72.9 478.0M81.4 442.6L74.6 444.3M48.0 429.3L51.3 425.2M71.2 429.4L72.6 422.0M62.4 443.7L63.0 445.0M75.1 435.3L70.7 439.8M55.4 434.3L58.7 426.9M63.9 458.7L68.3 455.3M62.9 431.0L65.2 427.0M65.5 444.1L59.4 448.6M54.9 459.9L61.6 459.2M65.2 455.4L60.4 450.5M57.4 431.4L62.8 427.7M65.9 457.1L62.4 453.4M42.1 424.1L44.1 417.1M47.6 450.3L49.8 452.3M44.6 416.8L44.7 417.8M63.7 433.5L56.4 432.1M79.6 433.8L76.3 434.6M65.7 436.9L70.6 435.9M50.0 415.4L48.8 420.3M60.4 436.4L65.7 436.9M68.2 432.5L68.8 440.5M54.4 441.7L50.8 437.7M61.7 429.3L64.7 429.2M69.0 446.4L70.6 443.5M71.6 438.8L75.2 435.8M52.9 432.0L54.0 431.6M74.4 443.1L68.9 448.7M56.0 421.9L53.0 420.5M77.9 438.1L81.6 434.2M69.8 443.7L67.1 445.7M59.0 432.5L53.1 436.1M75.3 435.6L70.2 442.7M73.1 427.0L78.5 427.6M62.0 428.1L57.9 431.6M57.2 414.9L58.3 422.6M80.8 454.1L73.1 451.1M60.1 428.9L62.8 423.0M67.1 449.5L75.9 447.5M95.3 451.3L92.1 451.0M49.7 420.7L44.7 427.5M57.6 443.6L62.9 443.1M65.2 409.6L58.3 414.3M68.8 447.7L62.7 445.8M59.2 437.7L53.6 439.3M56.2 422.3L49.7 417.0M52.3 420.5L50.6 427.7M55.5 410.8L60.1 416.9M56.2 418.1L56.1 419.1M59.8 426.4L63.6 427.4M77.4 428.7L72.4 428.4M79.3 445.2L78.7 437.2M76.6 405.8L70.9 408.8M62.7 445.8L66.0 452.1M52.0 437.0L59.6 432.4M77.6 420.9L73.4 415.7M73.6 439.0L70.2 435.2M71.1 437.3L68.4 433.3M78.2 433.0L80.5 441.0M68.2 432.2L66.4 429.6M64.6 415.6L61.4 420.4M55.2 435.4L50.6 427.7M71.9 446.2L63.4 449.3M66.5 444.5L66.5 435.7M53.6 434.8L57.2 433.0M61.8 427.6L58.2 425.0M74.3 465.5L72.2 472.7M52.7 435.1L60.5 431.5M56.4 412.3L50.0 415.4M47.5 421.9L53.3 421.3M76.1 436.4L78.9 440.8M75.9 436.7L73.1 442.0M59.6 432.7L59.2 423.8M64.6 431.5L61.8 427.6M65.1 459.7L67.9 459.0M19.4 455.3L20.8 460.3M72.3 436.0L71.4 432.3M67.1 430.5L63.7 433.5M70.7 428.9L76.3 434.0M56.2 414.6L55.7 419.4M46.0 443.6L48.9 438.7M50.1 443.0L55.6 436.8M81.3 409.2L76.6 405.8M60.3 428.8L59.4 423.7M75.8 437.5L76.3 444.5M46.5 424.9L44.7 427.5M81.4 436.2L73.9 439.1M65.4 444.1L66.3 440.8M40.8 432.5L44.1 435.3M58.7 442.6L61.0 450.4M53.1 440.3L52.7 435.1M75.6 420.6L75.6 427.3M62.8 427.7L56.8 429.3M72.9 478.0L73.2 473.3M71.7 443.5L76.9 436.6M31.0 454.5L34.1 455.3M62.3 450.3L60.2 445.1M56.3 425.7L49.6 425.0M73.8 449.8L72.6 444.3M57.1 433.4L55.1 431.5M52.6 433.1L55.6 436.8M46.3 416.3L42.1 424.1M56.6 445.2L65.1 442.6M56.1 405.9L59.4 412.9M67.4 432.1L65.1 427.0M53.2 443.7L58.1 437.9M56.3 438.8L59.2 440.4M57.4 424.8L56.1 419.1M74.5 443.3L80.6 449.4M46.5 441.4L46.7 433.6M55.4 443.2L49.0 447.0M46.9 429.0L51.5 426.2M67.7 444.5L67.5 444.5M59.5 435.1L53.9 430.7M74.6 433.3L79.3 430.0M72.5 411.9L66.7 418.4M60.9 433.1L62.9 433.7M76.1 413.8L84.2 416.6M60.7 420.7L67.2 419.8M72.7 439.2L74.0 432.4M56.5 443.3L57.6 443.6M47.4 431.5L48.2 431.1M44.5 432.5L41.2 431.2M68.0 433.4L70.2 435.2M76.0 434.5L67.6 434.1M63.1 441.5L62.0 436.9M93.1 434.3L84.7 435.8M46.7 433.6L48.6 435.7M44.9 425.5L52.6 428.8M55.6 436.8L53.2 432.3M75.3 440.2L70.3 434.2M72.3 445.6L72.5 439.1M74.5 450.4L80.1 445.0M63.6 440.6L61.6 433.0M53.9 427.5L50.4 420.9M68.6 443.2L77.6 443.5M48.3 448.8L43.5 452.4M46.9 429.0L52.6 426.3M74.4 434.1L66.8 429.7M64.6 429.0L59.2 423.0M73.8 444.0L71.2 439.1M65.6 427.9L67.4 419.3M67.1 436.2L63.5 440.3M60.5 431.5L67.4 430.8M60.0 425.5L51.7 425.1M78.3 440.8L81.2 438.3M77.3 437.7L73.6 440.0M70.4 435.1L73.1 442.0M73.8 429.3L65.1 427.0M71.0 428.3L69.6 420.7M62.3 430.6L63.9 432.5M67.3 431.2L65.9 423.9M68.3 452.9L65.9 447.6M55.2 435.4L49.3 432.2M64.0 423.5L59.0 422.5M51.9 424.2L43.5 426.4M48.1 427.5L54.7 428.2M76.6 443.0L75.2 445.2M71.2 444.0L72.3 442.7M75.7 435.5L72.2 442.3M49.9 421.6L57.2 426.1M73.6 453.3L65.8 452.5M66.9 454.1L66.4 453.2M70.9 408.8L65.8 413.9M62.4 446.1L58.3 446.3M60.7 422.5L58.4 430.5M64.7 452.9L63.4 449.3M52.1 443.0L49.6 450.4M59.6 417.3L61.9 417.8M51.4 426.6L59.0 423.2M95.3 451.0L91.4 448.3M71.1 413.6L71.9 418.7M74.1 446.7L66.5 445.6M46.9 426.2L47.7 420.7M75.1 435.3L73.0 432.2M60.2 426.2L60.3 420.3M50.1 436.8L55.8 432.7M67.6 435.0L73.6 430.0M70.5 439.2L63.3 434.3M72.9 447.9L77.6 450.3M68.7 443.8L65.5 443.8M70.6 443.7L71.1 442.6M56.4 437.0L49.3 433.8M56.6 436.2L53.2 443.7M72.1 451.6L76.7 448.6M63.4 422.4L63.4 421.7M72.5 450.3L64.5 450.2M53.5 416.4L60.3 420.3M79.6 433.8L78.5 427.6M71.4 435.9L75.9 436.7M54.7 430.3L62.1 434.8M79.7 447.6L76.4 442.0M62.9 431.0L69.2 430.0M68.8 429.2L63.6 424.8M67.0 441.2L65.1 440.0M65.2 443.9L66.2 447.3M58.1 435.3L61.0 441.4M63.4 421.4L59.1 423.3M58.3 414.3L60.4 421.0M80.5 441.0L84.7 435.8M55.8 432.7L59.4 426.4M55.3 425.2L61.9 429.0M56.8 453.9L61.5 453.6M77.3 437.7L84.7 434.8M71.6 449.4L67.0 453.8M56.0 430.8L58.2 435.1M63.3 413.9L59.6 406.0M65.2 434.8L71.6 439.6M61.7 426.0L62.1 429.8M67.1 436.6L70.6 437.4M53.3 452.4L50.0 445.2M62.6 426.7L60.0 419.3M71.4 409.8L65.8 413.9M52.4 444.5L58.8 441.2M75.4 450.8L70.5 446.0M73.0 444.8L70.0 446.5M58.3 414.3L56.3 416.8M68.5 437.3L66.5 428.8M50.5 423.5L46.9 429.0M42.9 404.5L47.9 408.4M55.3 444.6L55.4 443.2M55.1 428.6L54.0 431.6M53.3 421.3L46.7 425.2M49.6 425.0L55.9 429.3M74.5 443.3L67.5 444.5M55.1 431.5L62.1 430.3M79.2 426.7L74.6 433.3M29.8 424.3L24.1 417.9M38.7 457.1L43.9 455.8M74.0 419.0L72.7 427.3M56.0 421.9L62.0 417.3M73.1 437.7L76.3 444.5M69.3 451.1L71.4 452.5M58.2 408.6L55.2 415.9M68.4 414.9L73.4 415.7M64.4 437.6L62.5 433.3M71.7 450.1L69.5 441.8M70.2 419.5L63.7 425.3M69.1 439.1L62.4 433.3M65.1 440.0L71.9 438.2M77.4 463.9L73.1 457.1M66.3 429.8L59.1 426.4M57.6 431.3L63.7 425.1M52.9 420.0L53.0 418.1M64.4 433.8L61.3 428.7M58.1 425.4L52.9 432.0" stroke="#8cc8e0" stroke-width="0.35" stroke-opacity="0.35" fill="none"/>
<path stroke="#11598a" stroke-width="1.7" stroke-linecap="round" d="M57.8 437.6h0M66.6 422.3h0M55.3 422.2h0M61.7 426.0h0M63.0 411.4h0M62.5 425.4h0M54.7 430.3h0M63.6 424.8h0M51.1 414.1h0M60.4 421.0h0M43.3 419.8h0M54.0 416.7h0M46.5 426.8h0M64.1 424.6h0M52.0 429.7h0M62.8 424.0h0M61.5 435.1h0M56.0 419.8h0M65.6 416.0h0M52.6 419.6h0M44.7 427.5h0M61.4 420.4h0M67.8 433.2h0M62.1 429.8h0M64.6 415.6h0M62.0 431.4h0M55.6 432.9h0M54.3 426.4h0M65.5 431.5h0M56.2 431.7h0M66.8 441.2h0M60.9 425.7h0M48.2 431.1h0M67.1 413.4h0M55.3 415.8h0M59.3 438.9h0M72.5 411.9h0M69.2 430.0h0M52.0 428.9h0M52.1 429.7h0M55.9 416.0h0M53.9 436.4h0M56.1 414.7h0M67.4 430.8h0M73.1 427.0h0M54.1 414.6h0M67.3 447.6h0M51.4 421.2h0M55.5 423.6h0M57.7 434.0h0M41.7 414.6h0M63.4 421.7h0M61.8 430.9h0M67.3 433.2h0M65.0 425.6h0M52.3 420.5h0M53.9 417.2h0M53.4 425.7h0M43.3 425.9h0M59.2 435.4h0M52.1 443.0h0M63.1 441.5h0M73.3 419.8h0M60.4 430.3h0M61.6 430.9h0M59.0 427.9h0M46.4 425.1h0M52.0 427.5h0M63.6 429.0h0M59.8 427.3h0M54.2 425.2h0M53.8 429.7h0M57.6 431.3h0M47.7 433.8h0M51.9 420.5h0M56.0 421.9h0M59.7 421.8h0M49.6 419.6h0M67.2 426.9h0M48.9 426.6h0M46.0 441.2h0M46.2 430.4h0M61.5 414.6h0M59.7 434.7h0M64.5 427.8h0M60.0 425.5h0M62.2 418.8h0M49.4 429.5h0M70.0 434.4h0M54.1 425.5h0M58.2 407.5h0M58.9 418.1h0M52.3 414.4h0M46.3 418.8h0M57.3 435.5h0M55.5 410.8h0M58.6 430.2h0M54.3 429.0h0M61.7 419.4h0M55.9 423.6h0M64.8 440.6h0M54.4 432.2h0M64.5 432.3h0M63.4 421.4h0M62.0 436.9h0M61.2 426.4h0M48.7 436.5h0M60.1 416.9h0M62.0 423.0h0M43.4 420.9h0M59.5 431.7h0M58.7 426.9h0M61.0 424.8h0M49.7 420.7h0M68.8 429.2h0M55.4 429.3h0M53.9 428.8h0M52.6 428.8h0M45.8 437.4h0M53.7 413.5h0M58.6 417.1h0M48.0 429.3h0M55.2 428.1h0M44.1 417.1h0M60.9 426.2h0M69.6 420.7h0M58.8 450.4h0M51.8 419.1h0M63.7 427.6h0M51.9 428.2h0M77.0 436.9h0M36.9 425.3h0M56.2 442.3h0M64.4 433.8h0M58.9 426.2h0M61.5 423.6h0M66.9 428.1h0M56.9 420.0h0M36.8 434.8h0M60.2 406.2h0M69.4 441.6h0M68.1 417.0h0M41.2 431.2h0M46.4 430.2h0M54.2 429.4h0M60.9 425.5h0M59.8 426.4h0M63.1 430.6h0M53.5 421.7h0M70.4 425.7h0M53.3 420.4h0M58.4 428.6h0M62.0 416.1h0M53.1 425.7h0M60.7 422.1h0M60.7 422.5h0M60.2 439.3h0M60.1 430.1h0M60.3 420.3h0M61.5 424.8h0M51.5 426.2h0M55.8 432.7h0M68.3 434.6h0M66.9 431.5h0M56.7 423.1h0M55.4 434.3h0M58.3 414.3h0M57.2 414.9h0M58.7 416.6h0M48.1 427.5h0M56.9 412.9h0M63.0 444.2h0M46.5 441.4h0M56.2 414.6h0M67.1 430.5h0M51.9 424.2h0M46.3 423.6h0M65.3 437.6h0M54.1 420.4h0M60.8 423.5h0M55.2 435.4h0M70.0 428.7h0M56.1 431.2h0M43.5 426.4h0M49.7 446.1h0M56.1 405.9h0M62.8 439.9h0M62.8 413.8h0M63.3 413.9h0M58.2 435.1h0M48.3 434.6h0M54.4 409.4h0M56.7 418.5h0M59.9 416.9h0M55.1 436.3h0M59.1 423.3h0M48.2 436.0h0M62.9 423.8h0M59.3 418.1h0M50.0 419.7h0M60.1 428.9h0M52.0 432.5h0M63.3 427.9h0M56.7 430.4h0M57.2 433.0h0M48.2 438.2h0M51.7 425.1h0M47.3 431.4h0M66.9 435.3h0M63.7 413.7h0M51.7 422.7h0M50.6 435.7h0M61.1 418.7h0M50.8 419.3h0M61.2 429.3h0M47.5 421.9h0M58.6 415.4h0M53.6 434.8h0M65.7 435.3h0M57.8 424.8h0M60.0 437.4h0M54.8 421.5h0M61.1 427.8h0M61.6 413.4h0M51.1 427.8h0M48.6 419.0h0M56.2 418.1h0M59.2 440.4h0M56.4 437.0h0M59.6 417.3h0M67.3 431.2h0M42.5 432.9h0M69.0 420.0h0M64.8 411.8h0M59.4 412.9h0M61.1 411.8h0M38.0 429.7h0M74.4 421.6h0M63.6 427.4h0M55.1 431.5h0M69.7 416.4h0M61.7 429.3h0M47.0 439.7h0M71.9 418.7h0M70.4 427.0h0M56.3 438.8h0M59.2 429.2h0M64.1 415.0h0M50.6 427.7h0M49.6 425.0h0M48.0 439.9h0M50.0 425.5h0M56.1 436.4h0M47.0 426.2h0M56.0 430.8h0M61.0 422.7h0M59.3 423.4h0M61.0 425.7h0M52.6 426.3h0M60.2 445.1h0M68.3 409.5h0M44.6 416.8h0M56.7 446.5h0M55.9 406.3h0M58.9 415.9h0M65.8 413.9h0M65.9 438.4h0M51.8 417.4h0M63.7 417.5h0M63.9 416.7h0M54.3 419.2h0M62.5 416.2h0M70.2 423.9h0M49.1 437.9h0M69.8 425.0h0M50.9 426.6h0M52.4 423.9h0M69.0 429.7h0M58.6 429.3h0M57.1 433.4h0M64.0 423.5h0M58.3 446.3h0M60.6 425.0h0M72.7 426.6h0M49.4 432.0h0M50.8 422.4h0M53.1 436.1h0M72.6 422.0h0M68.5 437.3h0M56.4 414.9h0M64.7 427.1h0M66.4 437.9h0M49.7 438.2h0M55.1 441.9h0M64.8 411.8h0M58.1 425.4h0M56.2 422.3h0M46.7 433.6h0M50.5 423.5h0M53.0 420.5h0M63.0 429.6h0M52.5 418.8h0M58.4 428.4h0M59.1 411.4h0M69.4 420.0h0M53.3 437.5h0M53.2 413.7h0M58.9 436.3h0M50.8 437.7h0M49.2 420.5h0M61.2 426.5h0M62.6 420.4h0M49.9 411.2h0M48.6 417.7h0M46.9 429.0h0M52.6 410.2h0M75.9 419.7h0M48.2 436.7h0M46.6 418.3h0M65.9 423.9h0M51.5 426.3h0M66.4 415.1h0M54.7 415.2h0M73.6 441.4h0M64.5 425.4h0M62.4 409.3h0M59.5 415.5h0M47.7 420.7h0M50.5 432.0h0M56.6 436.2h0M50.7 403.8h0M54.0 444.1h0M61.0 424.9h0M58.1 428.1h0M52.7 417.3h0M58.5 434.4h0M62.3 430.6h0M61.2 447.7h0M59.4 435.0h0M72.0 426.9h0M59.5 435.1h0M60.2 427.2h0M48.6 435.7h0M55.6 412.4h0M56.4 412.3h0M50.7 435.3h0M46.7 428.7h0M61.7 438.5h0M64.4 428.5h0M61.4 425.8h0M59.4 424.4h0M59.5 428.9h0M60.7 434.6h0M46.4 426.7h0M48.5 428.5h0M48.8 418.7h0M57.1 438.1h0M61.9 429.0h0M68.0 418.9h0M42.1 423.1h0M55.5 436.7h0M73.4 415.7h0M75.9 439.4h0M75.6 427.3h0M54.1 427.8h0M47.5 430.5h0M60.3 417.9h0M67.3 418.3h0M64.2 413.6h0M57.9 421.3h0M41.5 417.5h0M58.1 431.7h0M46.7 409.2h0M51.2 424.9h0M52.9 420.0h0M58.2 425.0h0M47.1 433.9h0M58.3 422.6h0M68.1 432.9h0M63.9 436.5h0M62.9 416.2h0M51.9 426.9h0M60.6 438.4h0M67.2 434.0h0M56.2 434.1h0M67.6 430.7h0M55.7 431.5h0M50.6 418.6h0M43.4 444.2h0M56.5 428.5h0M65.8 425.6h0M61.4 415.4h0M59.0 423.2h0M50.1 432.6h0M60.7 429.9h0M42.6 404.5h0M52.9 423.8h0M53.1 429.5h0M56.3 416.8h0M51.0 427.7h0M58.1 425.9h0M74.3 424.4h0M58.4 418.4h0M54.9 430.8h0M61.7 425.2h0M60.4 427.0h0M43.6 399.6h0M74.6 433.3h0M57.1 412.2h0M48.1 437.6h0M36.9 423.8h0M63.9 427.7h0M63.1 425.4h0M47.4 428.8h0M65.3 422.1h0M48.7 438.0h0M69.1 439.1h0M54.3 417.0h0M48.8 424.7h0M61.8 430.7h0M46.9 428.1h0M57.6 427.2h0M57.3 424.8h0M59.2 420.8h0M60.4 425.5h0M41.8 430.5h0M55.5 434.1h0M59.1 426.4h0M54.2 411.8h0M71.1 413.6h0M55.0 431.9h0M63.2 436.9h0M59.7 450.3h0M50.0 428.4h0M54.8 422.0h0M59.6 438.5h0M52.2 420.7h0M62.9 431.0h0M72.0 434.9h0M47.4 426.6h0M56.2 424.6h0M54.3 440.4h0M53.0 418.1h0M54.9 425.0h0M64.6 429.0h0M50.2 423.0h0M52.6 428.0h0M48.9 425.0h0M62.6 426.7h0M50.7 421.4h0M58.4 430.5h0M47.8 438.2h0M59.8 418.0h0M55.1 428.6h0M65.1 427.0h0M34.4 424.5h0M60.1 437.1h0M62.8 446.9h0M68.0 437.6h0M64.5 415.2h0M63.8 431.4h0M60.6 422.7h0M56.6 424.3h0M59.2 423.0h0M61.5 410.8h0M55.4 412.7h0M53.9 430.7h0M58.0 439.4h0M49.3 433.8h0M46.3 422.7h0M59.0 432.5h0M54.7 410.6h0M56.1 420.0h0M67.4 419.3h0M70.1 422.1h0M64.2 438.0h0M70.3 423.7h0M48.2 404.6h0M54.6 432.7h0M44.4 432.5h0M46.7 425.2h0M52.8 423.5h0M49.7 417.0h0M55.8 417.6h0M75.7 423.0h0M52.6 421.9h0M49.5 406.3h0M55.6 429.0h0M46.3 426.5h0M60.1 430.4h0M60.7 420.7h0M64.0 422.8h0M60.0 432.2h0M55.2 415.9h0M62.0 417.3h0M50.8 417.4h0M63.7 425.1h0M72.8 441.2h0M53.2 427.1h0M57.7 417.4h0M47.6 423.4h0M61.3 432.9h0M67.8 442.6h0M57.2 426.1h0M68.1 438.2h0M51.8 431.2h0M56.5 422.5h0M41.8 419.6h0M59.9 425.9h0M62.5 433.3h0M51.4 426.6h0M54.9 419.2h0M50.9 444.0h0M56.6 424.5h0M50.4 425.0h0M51.7 425.3h0M57.1 435.4h0M69.3 422.2h0M56.1 419.1h0M38.0 425.5h0M66.1 422.5h0M43.7 428.5h0M58.0 434.6h0M64.1 424.1h0M60.3 411.6h0M65.6 427.9h0M65.4 435.1h0M55.2 425.1h0M50.9 409.4h0M49.3 432.2h0M58.1 430.1h0M51.7 411.9h0M56.6 422.9h0M55.3 425.2h0M53.6 409.9h0M54.9 423.8h0M59.3 413.1h0M63.1 436.8h0M51.5 400.7h0M59.9 437.2h0M66.0 422.0h0M56.8 428.8h0M52.6 439.3h0M57.6 412.7h0M73.9 418.5h0M62.1 440.5h0M65.2 427.0h0M48.4 417.6h0M54.6 434.4h0M55.4 431.9h0M69.7 436.9h0M45.6 436.5h0M59.9 425.5h0M49.5 413.5h0M49.3 426.3h0M48.8 419.8h0M55.3 425.3h0M67.3 423.9h0M61.9 417.8h0M59.9 427.5h0M71.2 437.9h0M63.0 439.2h0M66.8 449.6h0M76.2 432.1h0M74.3 437.8h0M73.1 437.7h0M73.1 431.9h0M62.0 438.7h0M74.2 453.0h0M67.6 452.2h0M77.9 438.1h0M58.7 448.2h0M74.2 459.9h0M79.7 447.6h0M81.5 433.3h0M71.3 439.4h0M81.9 445.9h0M49.2 452.2h0M63.9 447.6h0M66.8 443.5h0M74.4 443.1h0M63.6 452.5h0M72.8 441.5h0M74.9 437.4h0M82.9 443.4h0M72.6 444.3h0M63.9 432.5h0M71.6 444.4h0M79.3 445.2h0M62.7 445.8h0M75.8 449.5h0M72.4 432.1h0M74.0 429.4h0M75.3 435.5h0M77.5 455.4h0M78.1 432.5h0M63.7 434.8h0M74.6 444.3h0M71.2 444.0h0M74.1 446.7h0M81.6 441.2h0M71.5 427.1h0M61.1 436.2h0M62.0 443.3h0M77.2 438.2h0M66.8 437.6h0M70.9 437.3h0M73.0 443.9h0M72.4 447.5h0M82.0 441.2h0M66.9 437.9h0M64.4 441.6h0M78.3 440.4h0M77.7 443.6h0M75.9 436.7h0M71.0 462.0h0M75.6 449.3h0M71.6 448.2h0M62.1 434.8h0M72.9 447.9h0M67.2 440.0h0M67.5 440.0h0M69.4 427.9h0M63.3 436.3h0M62.8 443.3h0M66.9 440.7h0M63.0 435.6h0M73.4 444.2h0M66.7 444.2h0M80.7 438.2h0M72.7 444.6h0M68.2 432.2h0M74.5 443.3h0M70.1 441.4h0M69.9 434.2h0M71.7 427.1h0M67.9 437.4h0M73.2 439.0h0M66.9 438.0h0M79.9 446.3h0M72.9 431.8h0M72.9 432.4h0M82.9 427.9h0M77.9 447.3h0M57.5 439.2h0M79.4 449.9h0M58.3 437.0h0M65.2 455.4h0M70.5 439.2h0M67.3 446.2h0M74.3 433.8h0M79.5 432.6h0M67.7 444.5h0M81.2 438.3h0M71.5 451.2h0M73.8 449.8h0M76.6 443.0h0M73.8 448.1h0M69.4 453.5h0M56.1 433.8h0M79.4 444.3h0M65.2 443.9h0M76.9 436.6h0M74.8 440.0h0M68.8 440.5h0M77.1 432.3h0M67.1 446.2h0M73.4 441.0h0M63.0 463.7h0M62.9 437.6h0M59.9 437.8h0M79.9 441.2h0M81.9 442.3h0M61.1 447.0h0M67.1 445.7h0M70.5 443.1h0M59.4 448.6h0M68.6 443.2h0M60.9 451.9h0M64.2 438.0h0M67.0 439.3h0M69.1 436.1h0M65.6 440.9h0M81.4 442.6h0M70.6 435.9h0M76.5 433.0h0M73.7 432.0h0M78.3 440.8h0M59.2 439.2h0M81.6 434.2h0M60.6 444.9h0M78.4 448.9h0M67.3 442.4h0M71.7 450.1h0M84.1 440.1h0M78.3 438.3h0M73.5 433.7h0M64.3 444.2h0M63.4 447.9h0M65.8 441.5h0M68.9 438.3h0M70.4 449.4h0M90.6 431.7h0M63.3 443.2h0M63.5 440.3h0M77.9 425.2h0M71.2 444.4h0M63.0 445.0h0M71.9 438.2h0M73.9 439.1h0M67.1 447.3h0M59.3 439.4h0M66.4 453.2h0M61.9 449.2h0M57.6 443.6h0M68.6 443.9h0M64.7 425.7h0M59.0 451.1h0M70.9 434.1h0M75.6 435.1h0M64.4 431.4h0M77.4 456.1h0M62.9 443.1h0M76.1 457.3h0M53.1 441.9h0M73.8 429.3h0M72.2 442.3h0M74.3 436.2h0M72.2 436.0h0M73.5 442.0h0M66.8 429.7h0M80.6 449.4h0M75.3 435.6h0M67.0 453.8h0M74.4 434.1h0M69.7 441.9h0M77.9 445.4h0M65.4 440.8h0M75.3 437.9h0M76.9 441.9h0M64.4 419.1h0M78.9 440.8h0M61.6 459.2h0M67.7 430.4h0M73.8 443.8h0M80.3 449.5h0M75.4 450.8h0M67.6 437.5h0M68.6 438.4h0M74.1 440.9h0M56.6 441.3h0M79.2 426.7h0M64.4 441.2h0M70.0 430.8h0M71.6 444.3h0M77.0 439.7h0M72.6 446.2h0M68.1 448.8h0M72.3 433.4h0M73.3 447.9h0M75.2 436.2h0M72.9 451.9h0M71.3 450.5h0M78.6 441.0h0M74.3 439.0h0M77.1 440.6h0M66.1 441.1h0M69.3 444.3h0M73.0 432.2h0M65.4 444.1h0M73.1 442.0h0M87.8 450.1h0M69.4 447.1h0M79.0 444.2h0M58.0 442.2h0M70.3 458.1h0M57.5 453.5h0M68.9 448.7h0M68.0 442.9h0M77.7 442.2h0M77.2 440.9h0M79.3 432.4h0M58.8 441.4h0M81.5 449.8h0M79.1 451.4h0M65.1 442.6h0M52.0 436.9h0M74.3 429.5h0M56.1 431.5h0M87.8 452.9h0M59.9 423.6h0M71.2 450.0h0M59.2 437.7h0M67.2 442.1h0M69.1 445.9h0M77.5 442.5h0M75.5 457.5h0M63.4 433.8h0M73.9 456.4h0M71.6 450.5h0M68.4 449.2h0M66.2 447.3h0M73.2 445.2h0M79.9 450.5h0M66.5 449.1h0M59.0 449.9h0M89.3 446.4h0M74.1 442.8h0M76.4 438.8h0M75.3 440.2h0M67.9 443.4h0M70.4 428.9h0M84.9 443.5h0M59.3 450.9h0M70.6 444.1h0M75.7 435.5h0M72.5 450.3h0M65.7 440.4h0M73.6 440.0h0M69.2 444.5h0M64.1 454.8h0M64.6 442.8h0M68.6 436.9h0M74.5 450.4h0M80.7 447.0h0M67.8 449.2h0M74.4 446.8h0M63.0 430.7h0M82.1 438.4h0M70.8 451.5h0M70.7 451.7h0M72.2 446.0h0M77.4 439.3h0M72.7 439.2h0M65.0 442.8h0M65.2 441.5h0M67.0 450.7h0M71.1 442.7h0M81.7 419.5h0M62.9 420.6h0M70.4 445.4h0M74.8 444.0h0M64.4 455.6h0M72.4 439.8h0M62.7 445.1h0M66.9 438.3h0M71.7 443.5h0M64.7 451.5h0M63.4 433.0h0M72.3 442.7h0M70.7 438.5h0M70.5 437.3h0M58.9 447.4h0M63.3 439.9h0M75.1 441.8h0M88.8 430.7h0M65.0 442.3h0M79.3 439.7h0M60.4 450.5h0M63.8 440.1h0M76.1 436.4h0M67.0 445.4h0M68.7 443.8h0M62.6 429.4h0M82.0 445.1h0M76.3 434.0h0M69.8 439.9h0M60.4 445.8h0M65.1 440.0h0M59.7 449.3h0M75.2 444.6h0M63.8 437.3h0M78.3 439.4h0M71.8 442.6h0M62.4 453.4h0M56.5 443.3h0M69.4 428.9h0M70.4 435.1h0M73.1 450.2h0M71.5 455.0h0M79.5 436.4h0M66.5 445.6h0M73.6 453.3h0M77.8 442.9h0M71.5 439.4h0M67.6 438.1h0M76.2 437.9h0M67.7 442.9h0M66.6 439.8h0M55.3 444.6h0M86.6 443.1h0M71.6 428.0h0M74.7 445.3h0M68.2 444.2h0M79.4 439.8h0M64.7 452.9h0M72.7 441.2h0M86.6 443.9h0M69.8 444.7h0M68.3 444.3h0M72.0 437.5h0M73.6 447.1h0M76.3 444.5h0M74.4 439.6h0M69.1 450.6h0M57.4 445.4h0M92.3 428.0h0M81.0 428.6h0M73.2 454.9h0M80.7 435.1h0M61.7 430.9h0M75.4 439.0h0M70.5 444.0h0M73.2 446.1h0M71.2 429.4h0M80.2 420.5h0M78.7 437.2h0M69.0 437.8h0M68.4 433.3h0M79.4 440.6h0M65.5 445.2h0M76.3 434.6h0M68.3 452.9h0M63.5 435.2h0M71.4 432.3h0M53.5 428.8h0M72.8 446.9h0M74.3 444.8h0M61.9 447.1h0M78.1 436.3h0M76.7 438.9h0M71.6 444.7h0M60.2 453.2h0M64.4 441.0h0M66.9 445.4h0M73.2 442.0h0M79.9 444.0h0M67.6 419.4h0M68.4 439.6h0M64.4 435.1h0M74.3 450.0h0M83.2 450.7h0M61.0 447.5h0M69.6 439.9h0M66.0 452.1h0M91.4 448.3h0M77.5 443.1h0M67.9 459.0h0M69.5 446.4h0M70.0 446.5h0M61.7 441.0h0M79.6 433.8h0M65.8 452.5h0M73.0 450.2h0M55.1 443.0h0M61.6 431.0h0M73.1 451.1h0M60.1 433.2h0M66.3 440.8h0M61.2 459.5h0M74.3 439.0h0M66.7 460.0h0M85.5 438.0h0M72.6 451.6h0M62.2 437.2h0M79.4 436.3h0M67.3 431.2h0M65.0 447.1h0M64.6 431.5h0M65.9 455.6h0M71.4 437.3h0M71.2 445.1h0M71.0 427.5h0M72.2 439.9h0M75.9 431.0h0M77.3 437.7h0M58.4 452.0h0M66.5 444.5h0M68.9 450.1h0M77.6 450.3h0M74.9 428.8h0M58.5 443.1h0M63.5 445.2h0M71.1 430.4h0M62.9 432.6h0M63.9 439.9h0M74.7 452.0h0M63.3 437.1h0M80.6 448.5h0M71.6 423.0h0M65.9 457.1h0M70.6 443.7h0M62.4 433.3h0M65.4 436.5h0M68.4 444.4h0M71.6 449.4h0M71.6 454.0h0M68.5 444.0h0M64.4 444.8h0M72.7 436.5h0M67.0 441.2h0M74.0 432.4h0M76.1 438.9h0M83.0 453.0h0M67.2 436.5h0M86.9 446.4h0M73.9 438.1h0M69.1 447.8h0M74.2 435.0h0M78.5 443.9h0M63.4 449.3h0M68.8 447.7h0M66.2 444.3h0M58.8 444.4h0M59.5 442.8h0M52.6 441.0h0M75.0 445.3h0M78.2 433.0h0M80.8 454.1h0M61.7 435.2h0M66.1 441.3h0M71.3 422.0h0M74.1 439.5h0M63.0 449.0h0M67.6 450.4h0M73.6 439.0h0M78.0 447.8h0M66.5 428.8h0M66.2 446.3h0M68.3 455.3h0M71.8 443.0h0M72.7 434.5h0M69.1 436.3h0M75.0 438.0h0M69.1 429.8h0M65.9 447.6h0M70.6 437.4h0M80.5 441.0h0M67.6 450.5h0M58.1 445.8h0M62.3 435.3h0M65.3 442.5h0M71.4 452.5h0M81.5 447.0h0M75.2 438.5h0M62.4 446.1h0M70.2 448.2h0M57.5 462.5h0M76.8 430.6h0M66.2 425.6h0M70.7 443.8h0M67.8 451.4h0M79.5 441.4h0M68.5 439.3h0M66.9 451.8h0M71.6 438.9h0M68.4 445.8h0M67.3 444.0h0M69.8 452.1h0M77.9 430.4h0M68.9 447.1h0M66.9 447.9h0M72.3 446.2h0M69.6 443.9h0M73.6 430.0h0M81.5 443.9h0M72.6 442.9h0M66.5 435.7h0M75.8 438.6h0M80.8 443.1h0M70.7 439.8h0M69.5 441.8h0M80.4 459.9h0M62.1 443.5h0M74.9 434.5h0M65.7 438.0h0M53.6 446.7h0M69.7 440.8h0M70.6 443.5h0M85.9 443.0h0M75.8 437.5h0M72.5 439.1h0M69.0 434.5h0M64.5 445.2h0M65.5 444.1h0M52.8 449.0h0M69.8 443.7h0M78.0 438.3h0M76.6 438.2h0M73.8 438.5h0M72.2 453.0h0M65.7 436.9h0M67.9 444.0h0M88.9 437.2h0M56.2 436.6h0M59.4 437.3h0M70.3 434.2h0M65.5 427.1h0M71.4 435.9h0M77.6 450.0h0M64.3 438.8h0M70.6 447.7h0M58.8 441.2h0M87.7 433.3h0M66.4 434.5h0M47.9 446.9h0M73.0 444.8h0M38.8 440.8h0M55.9 436.6h0M54.3 423.3h0M76.0 434.5h0M59.9 430.9h0M64.7 434.4h0M32.8 423.3h0M60.6 444.4h0M81.5 422.6h0M89.0 436.0h0M70.2 427.9h0M56.0 453.6h0M61.1 433.6h0M79.0 457.4h0M44.5 432.5h0M63.9 458.7h0M96.2 434.4h0M69.0 446.4h0M79.1 431.0h0M75.3 426.1h0M29.4 417.3h0M67.1 445.5h0M34.9 411.8h0M71.7 448.9h0M25.6 445.5h0M62.0 454.0h0M68.2 432.5h0M67.1 436.2h0M45.9 442.0h0M65.1 459.7h0M64.6 434.6h0M56.6 445.2h0M62.2 426.6h0M85.7 459.1h0M59.0 422.5h0M79.6 425.0h0M101.7 434.1h0M77.5 419.0h0M64.5 450.2h0M70.7 428.9h0M97.0 445.6h0M62.0 428.1h0M61.5 453.6h0M54.9 436.4h0M54.3 452.4h0M62.9 447.3h0M72.4 428.4h0M74.2 448.3h0M50.0 445.2h0M73.4 418.6h0M71.0 428.3h0M75.1 435.4h0M49.6 450.4h0M65.9 423.4h0M70.2 435.2h0M60.2 444.8h0M48.3 448.8h0M38.7 457.1h0M67.4 432.6h0M55.4 443.2h0M62.9 433.7h0M61.9 441.7h0M67.1 436.6h0M74.8 455.6h0M52.8 434.3h0M64.4 443.8h0M84.7 435.8h0M67.8 450.9h0M48.7 425.9h0M59.1 435.9h0M88.1 426.7h0M62.3 450.3h0M75.2 435.8h0M69.9 446.7h0M64.8 444.5h0M52.9 436.9h0M43.3 424.1h0M49.8 452.3h0M58.8 439.8h0M52.6 433.1h0M61.1 424.5h0M76.1 413.8h0M53.9 436.1h0M44.1 435.3h0M41.7 443.8h0M58.0 411.1h0M47.3 414.4h0M59.0 419.6h0M53.1 436.7h0M31.9 442.8h0M69.3 402.4h0M79.5 413.2h0M61.0 450.4h0M42.0 410.2h0M48.8 420.3h0M61.8 427.6h0M61.1 423.2h0M67.9 434.5h0M50.0 458.7h0M46.6 444.3h0M53.6 439.3h0M82.5 423.5h0M101.6 440.1h0M52.9 416.7h0M94.9 456.6h0M63.6 445.0h0M81.4 436.2h0M58.3 434.5h0M75.1 435.3h0M47.6 445.0h0M41.1 425.0h0M80.5 438.2h0M77.7 434.3h0M38.1 438.2h0M23.2 407.7h0M85.0 448.8h0M57.8 434.0h0M65.1 448.3h0M53.7 423.2h0M55.6 436.8h0M62.9 425.7h0M50.5 451.2h0M59.7 421.5h0M64.5 421.6h0M71.9 446.2h0M77.6 420.9h0M62.0 459.5h0M61.1 451.8h0M84.2 416.6h0M80.1 445.0h0M75.6 457.4h0M70.1 436.0h0M72.1 430.4h0M70.6 408.2h0M87.0 427.9h0M71.2 439.1h0M65.4 436.5h0M64.8 413.2h0M56.7 450.8h0M50.4 420.9h0M92.1 451.0h0M84.7 434.8h0M67.5 445.1h0M43.9 455.8h0M58.5 432.4h0M67.6 435.0h0M70.8 426.5h0M43.5 457.9h0M54.2 428.4h0M63.9 444.5h0M49.6 438.4h0M54.6 450.4h0M47.2 435.8h0M72.9 416.5h0M64.9 436.4h0M52.9 431.6h0M76.5 437.6h0M57.9 431.6h0M69.3 451.1h0M73.8 444.0h0M83.9 414.0h0M44.4 404.4h0M74.2 404.2h0M62.7 444.1h0M44.9 425.5h0M59.7 443.8h0M72.3 436.0h0M65.2 450.5h0M58.7 442.6h0M59.3 442.6h0M64.4 448.9h0M52.7 435.1h0M67.6 439.5h0M77.9 439.2h0M74.9 459.7h0M74.1 420.3h0M44.4 442.8h0M58.1 437.9h0M78.7 419.3h0M66.6 430.1h0M46.0 442.5h0M61.2 439.8h0M95.3 451.3h0M77.4 428.7h0M47.6 450.3h0M58.1 435.3h0M94.4 429.9h0M59.3 436.7h0M66.7 418.4h0M39.9 426.4h0M60.2 423.7h0M49.9 421.6h0M41.6 426.6h0M67.4 432.1h0M45.0 429.1h0M56.6 436.3h0M71.5 422.3h0M52.1 432.1h0M72.0 426.5h0M44.2 424.5h0M67.5 448.6h0M55.9 429.3h0M50.2 427.7h0M65.2 434.8h0M62.7 420.4h0M55.3 424.2h0M76.0 452.3h0M58.6 429.7h0M56.6 434.7h0M68.8 430.4h0M61.6 433.9h0M59.1 455.9h0M76.4 432.4h0M67.5 444.5h0M93.7 430.5h0M64.7 429.2h0M63.8 428.9h0M49.0 447.0h0M64.5 450.4h0M56.4 437.3h0M71.4 409.8h0M46.0 443.6h0M64.3 410.4h0M53.5 420.5h0M56.8 453.9h0M55.7 419.4h0M95.3 451.0h0M84.5 456.3h0M24.1 417.9h0M71.1 437.3h0M77.3 424.6h0M74.5 449.4h0M72.9 451.2h0M66.3 435.9h0M28.8 438.3h0M50.1 443.0h0M75.6 420.6h0M69.1 448.5h0M78.2 416.5h0M39.7 434.2h0M44.0 418.5h0M39.7 423.2h0M25.8 415.9h0M57.2 431.2h0M41.8 435.0h0M56.9 408.8h0M74.0 419.0h0M68.4 414.9h0M66.3 429.8h0M61.0 441.4h0M69.3 435.0h0M54.9 459.9h0M74.2 452.7h0M53.1 440.3h0M85.1 441.9h0M40.0 415.4h0M29.0 439.9h0M54.3 419.7h0M68.0 421.6h0M70.2 419.5h0M70.2 410.5h0M83.8 401.3h0M50.9 428.1h0M52.7 411.2h0M25.7 422.3h0M65.1 450.1h0M53.1 439.6h0M53.2 443.7h0M47.1 421.8h0M45.4 420.3h0M71.4 438.2h0M47.9 429.6h0M52.4 444.5h0M80.9 445.4h0M64.3 450.6h0M67.0 459.6h0M43.5 452.4h0M46.3 416.3h0M100.3 456.0h0M63.5 436.7h0M45.1 398.3h0M21.8 421.5h0M57.6 410.8h0M78.5 442.8h0M64.5 399.7h0M52.5 463.3h0M85.4 441.5h0M65.9 447.8h0M93.1 434.3h0M55.9 444.0h0M56.9 439.4h0M63.3 434.3h0M58.1 441.6h0M49.8 451.7h0M24.0 436.9h0M70.9 408.8h0M51.5 458.1h0M58.1 416.2h0M63.2 444.6h0M63.9 420.0h0M77.6 443.5h0M44.2 424.0h0M91.3 414.8h0M77.4 463.9h0M75.4 437.8h0M91.0 439.7h0M60.8 429.1h0M86.3 446.2h0M95.0 426.6h0M54.1 424.7h0M67.2 419.8h0M81.4 439.4h0M20.8 460.3h0M59.6 435.8h0M51.6 440.5h0M25.0 434.2h0M76.4 442.0h0M58.2 408.6h0M78.5 427.6h0M50.6 419.2h0M47.9 408.4h0M66.4 429.6h0M83.3 398.5h0M86.7 431.6h0M57.3 417.6h0M42.9 404.5h0M80.7 428.8h0M76.7 448.6h0M53.3 452.4h0M76.8 431.5h0M88.5 459.6h0M35.8 449.4h0M67.1 449.5h0M34.5 437.6h0M39.4 426.7h0M92.2 430.4h0M35.9 452.3h0M45.6 403.4h0M85.6 437.8h0M68.5 417.8h0M92.4 430.7h0M17.6 411.4h0M77.8 419.2h0M62.8 423.0h0M61.7 409.2h0M72.8 451.4h0M48.2 452.0h0M54.6 438.5h0M44.7 417.8h0M28.0 437.2h0M36.2 410.8h0M67.6 420.0h0M70.5 458.3h0M49.4 455.3h0M34.9 437.6h0M31.0 454.5h0M71.8 457.6h0M49.9 424.4h0M44.1 414.7h0M88.3 441.4h0M82.3 440.2h0M65.2 409.6h0M51.3 411.3h0M18.7 449.9h0M53.6 425.0h0M39.7 447.2h0M81.3 409.2h0M64.7 437.0h0M93.6 433.0h0M40.1 431.6h0M51.2 460.3h0M75.4 439.3h0M64.7 448.9h0M50.0 415.4h0M19.4 455.3h0M71.9 445.0h0M61.7 464.4h0M39.1 455.6h0M33.9 434.4h0M54.3 440.9h0M47.7 406.2h0M73.1 457.1h0M76.8 431.6h0M69.4 400.3h0M53.2 454.6h0M70.6 416.3h0M79.3 430.0h0M76.6 405.8h0M67.1 443.1h0M60.3 428.8h0M70.9 449.0h0M27.2 426.5h0M56.0 435.6h0M82.8 407.4h0M72.2 399.7h0M43.9 422.7h0M54.6 421.0h0M49.2 426.1h0M54.6 397.6h0M29.8 424.3h0M72.1 451.6h0M43.3 436.0h0M75.5 435.2h0M37.3 430.7h0M59.6 406.0h0M34.1 455.3h0M54.8 458.8h0M73.9 416.3h0M88.1 422.0h0M58.8 447.3h0M64.6 415.6h0M72.2 472.7h0M73.2 473.3h0M72.9 478.0h0M74.3 465.5h0"/>
<path stroke="#f4dc2a" stroke-width="1.7" stroke-linecap="round" d="M69.1 425.7h0M56.4 432.1h0M60.1 428.5h0M44.4 429.3h0M60.0 419.3h0M61.9 425.6h0M61.1 422.2h0M45.9 433.7h0M50.1 436.8h0M53.2 432.3h0M57.4 424.8h0M59.8 425.7h0M61.9 419.7h0M58.9 435.5h0M54.4 429.2h0M59.4 423.7h0M61.8 421.2h0M54.0 431.6h0M61.0 428.6h0M63.4 422.4h0M53.7 432.2h0M63.6 440.2h0M46.6 424.7h0M65.3 423.3h0M63.0 443.1h0M60.2 421.9h0M68.9 416.3h0M66.2 427.7h0M59.7 430.9h0M55.8 423.5h0M60.4 456.2h0M57.2 426.1h0M51.0 431.6h0M60.0 437.1h0M53.3 421.3h0M61.7 424.7h0M65.2 430.1h0M55.8 430.9h0M57.7 434.4h0M56.6 428.3h0M64.8 429.7h0M69.3 407.1h0M57.2 422.2h0M52.4 422.4h0M64.4 412.4h0M54.3 427.7h0M62.8 427.7h0M52.1 432.1h0M64.4 437.6h0M59.2 426.0h0M65.3 420.4h0M60.1 421.6h0M65.2 424.1h0M58.9 426.3h0M61.8 435.3h0M65.5 423.4h0M57.4 431.4h0M50.6 415.5h0M55.6 418.4h0M63.2 417.0h0M68.7 437.1h0M45.9 435.7h0M53.9 429.0h0M60.4 436.4h0M40.4 434.9h0M63.5 427.3h0M59.3 411.0h0M55.5 423.3h0M59.9 425.5h0M51.9 422.0h0M52.2 421.8h0M60.9 432.0h0M58.8 421.9h0M54.0 434.4h0M55.1 424.4h0M59.1 426.8h0M66.1 417.1h0M54.9 431.2h0M62.7 428.7h0M64.0 430.6h0M60.9 422.3h0M70.0 429.1h0M50.1 426.7h0M58.2 426.1h0M66.0 421.2h0M73.4 421.2h0M62.1 430.3h0M63.8 429.6h0M56.8 429.3h0M60.4 419.9h0M63.9 434.5h0M63.1 418.9h0M54.7 434.8h0M61.5 425.3h0M52.0 437.0h0M46.3 426.4h0M61.3 428.1h0M47.3 411.4h0M75.2 418.1h0M68.1 426.0h0M61.9 427.5h0M56.3 425.7h0M60.3 431.2h0M59.2 423.8h0M59.1 425.1h0M62.7 434.2h0M55.4 428.5h0M63.7 425.3h0M59.7 429.8h0M53.6 431.3h0M57.7 425.6h0M58.7 419.5h0M48.7 425.9h0M71.8 430.9h0M60.9 433.1h0M60.3 427.4h0M54.9 421.3h0M55.4 429.7h0M48.5 426.1h0M40.8 432.5h0M61.2 433.7h0M63.0 431.5h0M59.4 426.4h0M61.4 425.5h0M47.4 431.5h0M59.9 432.2h0M51.3 425.2h0M54.5 429.9h0M46.3 425.6h0M54.4 441.7h0M46.9 426.2h0M56.4 427.6h0M63.1 431.4h0M63.2 414.1h0M66.3 431.7h0M44.1 421.0h0M52.7 439.4h0M53.5 416.4h0M68.1 436.6h0M52.9 432.0h0M60.0 449.4h0M57.1 437.3h0M78.0 435.9h0M70.2 442.7h0M75.4 441.9h0M65.9 438.2h0M61.8 430.3h0M71.1 442.6h0M69.6 429.5h0M67.3 446.7h0M73.8 431.0h0M61.6 433.0h0M61.3 428.7h0M68.6 442.1h0M73.6 437.2h0M70.5 433.9h0M66.4 425.2h0M59.6 436.9h0M71.7 439.9h0M58.5 433.4h0M71.6 439.6h0M77.8 430.7h0M62.3 439.6h0M68.0 433.4h0M68.0 428.5h0M61.4 429.2h0M68.4 443.5h0M71.6 438.8h0M69.2 431.3h0M60.6 436.8h0M61.0 441.3h0M67.3 439.8h0M66.6 440.6h0M71.6 450.8h0M50.8 441.7h0M61.0 442.8h0M59.6 432.7h0M66.3 447.3h0M63.6 440.6h0M72.3 445.6h0M75.9 447.5h0M68.1 443.2h0M72.7 427.3h0M69.2 445.0h0M67.8 441.7h0M76.0 437.3h0M65.5 443.8h0M72.7 437.1h0M67.8 444.9h0M63.1 442.7h0M60.7 443.1h0M53.9 427.5h0M70.7 443.8h0M61.3 441.7h0M60.2 426.2h0M63.7 433.5h0M75.2 445.2h0M67.0 436.6h0M66.2 447.9h0M62.2 422.7h0M78.6 430.3h0M79.1 434.1h0M68.0 429.2h0M60.6 446.6h0M57.0 428.2h0M70.5 446.0h0M67.1 436.4h0M67.4 429.7h0M74.0 421.3h0M71.4 433.8h0M44.5 425.2h0M53.1 427.4h0M43.3 438.3h0M66.0 433.8h0M60.8 451.1h0M59.1 434.6h0M57.7 432.3h0M62.4 443.7h0M41.5 442.6h0M60.2 431.7h0M66.9 454.1h0M45.7 436.4h0M48.0 432.9h0M71.2 430.8h0M50.5 427.9h0M66.6 424.4h0M62.6 437.8h0M75.6 424.5h0M36.3 419.1h0M63.3 408.1h0M67.6 434.1h0M68.9 433.3h0M69.7 429.4h0M56.3 432.4h0M52.0 432.7h0M59.6 432.4h0M60.5 431.5h0M49.9 428.4h0M63.8 436.1h0M42.5 429.9h0M54.7 428.2h0M47.1 441.9h0M66.5 422.1h0M46.5 424.9h0M42.1 424.1h0M48.9 438.7h0"/>
<path d="M166.0 461.6L160.9 461.3M186.0 428.0L179.6 433.0M172.0 460.7L169.7 464.4M177.4 440.1L176.0 432.5M163.2 438.5L161.3 437.0M160.3 440.1L158.2 433.1M154.2 446.1L159.9 451.6M162.8 434.7L157.9 431.6M164.9 437.0L172.3 441.9M136.0 448.4L142.2 445.6M159.8 431.4L161.1 436.5M150.2 441.5L151.5 446.0M165.4 450.3L165.4 441.9M165.1 457.1L165.4 457.2M156.7 435.0L156.4 437.3M148.3 444.4L153.4 439.2M176.1 433.0L176.0 432.5M169.7 434.0L163.8 440.0M166.5 457.8L160.4 460.3M173.5 452.2L181.6 450.4M178.1 448.5L182.6 452.2M148.6 440.8L150.8 439.9M149.7 464.3L151.7 464.4M136.5 438.5L145.4 439.9M138.9 448.8L146.5 446.5M173.1 442.3L172.5 449.1M163.6 449.1L163.8 452.5M130.9 452.3L127.1 448.2M173.5 466.5L174.7 458.3M152.3 437.0L153.1 441.7M174.8 451.1L178.5 452.8M179.7 464.0L176.5 457.1M160.3 449.1L165.0 447.7M157.3 442.1L163.9 444.3M166.9 425.8L163.8 433.4M175.0 461.9L169.9 458.9M160.2 442.1L157.0 450.4M166.5 455.0L165.5 447.0M169.6 462.6L173.5 466.5M172.4 472.1L173.8 464.1M154.1 441.5L161.9 439.7M163.9 444.3L164.9 441.7M163.9 444.7L162.2 447.2M145.6 471.9L152.1 472.7M180.8 451.2L181.2 448.1M169.1 464.7L165.7 466.5M158.9 443.3L160.2 445.7M168.2 436.5L164.7 434.4M171.0 461.1L171.8 454.8M150.5 431.6L152.9 431.4M167.2 454.0L164.5 460.1M154.1 450.9L147.7 450.5M179.7 464.0L180.0 461.3M154.5 436.4L158.6 436.5M170.7 456.1L175.7 453.0M187.0 457.5L182.9 457.1M164.9 427.8L161.4 425.0M162.2 435.6L160.7 443.3M166.1 437.5L167.4 437.3M167.4 436.1L169.7 433.4M193.1 453.7L191.0 451.2M175.0 465.2L178.8 462.6M168.3 461.9L167.5 454.8M169.1 467.8L163.1 461.5M148.1 456.5L154.1 451.0M177.7 471.4L173.7 468.0M162.4 442.8L168.4 443.8M175.7 461.1L173.8 464.1M165.9 442.9L160.3 440.1M171.8 455.9L173.3 458.4M164.9 427.8L165.5 435.7M170.4 448.6L169.3 440.9M155.6 434.5L152.1 429.4M174.3 467.0L168.3 461.3M176.1 446.4L177.3 452.5M157.0 473.9L151.5 469.3M154.6 432.8L161.9 432.0M143.2 439.0L140.1 443.7M176.2 456.8L169.9 458.9M171.9 439.0L165.9 442.9M156.6 443.9L160.3 440.1M176.5 453.6L172.6 460.0M157.6 450.7L161.8 457.8M169.3 448.0L164.4 449.3M161.4 456.6L168.2 455.3M161.4 427.1L159.4 431.6M154.6 477.3L151.5 469.3M161.9 432.0L166.9 427.2M151.7 433.6L145.4 439.9M179.6 457.1L173.7 463.4M162.7 458.4L159.2 452.1M151.4 447.8L153.0 440.6M165.0 437.8L162.4 445.2M154.1 446.7L158.5 441.6M175.4 461.9L179.7 464.3M120.8 463.9L127.7 459.5M156.2 438.7L155.5 439.7M133.1 468.5L140.8 471.1M176.3 466.7L174.7 465.6M176.4 479.5L178.2 471.3M180.0 444.4L174.1 440.5M166.5 458.8L173.7 463.4M163.2 432.7L165.4 427.9M168.3 458.3L168.1 466.1M163.3 440.4L164.0 433.7M169.3 440.9L176.1 443.4M166.7 445.5L166.9 443.7M161.9 432.0L159.2 426.2M168.4 443.8L165.1 443.6M168.2 431.1L165.0 430.2M162.8 443.9L171.7 443.5M166.0 448.5L165.6 441.3M163.8 423.2L158.0 430.0M163.9 444.3L160.8 440.9M163.3 440.4L165.8 447.5M157.7 426.4L150.0 422.4M182.8 449.1L182.0 458.0M180.0 452.1L185.0 457.4M169.9 464.9L174.7 465.6M179.8 448.3L177.4 449.6M192.7 445.7L187.6 452.0M170.2 450.6L176.2 453.5M169.2 444.5L170.1 443.2M146.3 438.5L149.5 442.8M141.5 440.7L143.9 433.6M162.3 453.3L155.2 453.6M164.1 468.0L169.4 461.6M171.7 443.5L163.9 441.6M141.8 448.2L142.2 445.6M162.4 442.8L163.2 447.6M182.7 462.5L175.2 464.2M163.8 433.4L164.3 436.7M161.1 463.9L167.1 461.1M173.8 457.5L179.2 454.6M157.6 437.6L164.8 442.7M148.4 432.8L146.8 441.5M160.8 440.9L163.5 434.4M157.0 435.3L161.6 429.5M172.0 460.7L169.9 455.7M159.3 445.2L155.5 439.7M173.9 456.6L169.7 464.5M136.6 451.6L142.5 448.9M147.5 434.3L145.6 440.4M170.4 448.6L175.9 443.3M162.4 434.3L158.7 438.5M162.4 445.2L158.4 439.7M163.1 455.4L161.4 456.6M160.6 446.4L155.6 442.8M147.7 450.5L153.9 445.2M159.7 457.6L160.8 456.6M154.4 434.5L161.7 431.3M174.6 453.1L181.5 453.8M166.7 445.5L163.5 443.2M167.6 458.1L164.9 460.9M164.5 460.1L172.5 463.4M171.2 439.7L168.5 443.6M163.2 447.6L156.1 448.4M172.1 443.1L179.5 442.7M170.5 463.2L168.9 457.5M162.2 435.6L162.8 436.5M172.7 430.3L171.8 430.4M174.0 452.2L169.9 447.2M175.9 443.3L171.1 448.5M167.6 459.2L165.0 451.6M203.7 454.1L203.8 448.1M154.1 446.7L159.7 445.3M166.6 441.8L159.3 440.1M159.2 452.1L163.2 450.2M159.2 426.2L164.6 430.2M169.8 444.4L177.0 448.5M177.3 449.8L175.9 443.3M147.2 412.3L145.0 418.5M126.2 431.9L131.9 438.3M156.5 423.4L158.2 419.9M168.0 437.4L161.0 440.3M192.7 445.7L195.8 444.5M164.7 440.7L157.3 442.1M161.1 441.9L164.6 439.4M167.2 473.7L173.7 468.0M157.6 450.7L166.5 449.1M158.0 437.6L154.1 441.5M169.5 446.1L176.5 448.1M172.6 457.1L167.3 455.5M149.3 449.8L150.8 452.0M175.4 433.8L169.3 433.8M203.7 454.1L198.3 448.4M148.7 432.3L155.6 435.7M182.9 468.1L179.6 469.4M171.8 454.8L176.4 458.8M145.0 418.5L147.7 417.4M171.2 459.9L168.6 459.6M163.1 438.8L162.2 442.5M186.2 454.1L181.5 453.8M194.3 444.4L190.9 444.7M146.8 441.5L151.0 440.6M176.1 435.3L169.4 432.3M175.3 460.1L177.3 459.2M164.9 453.9L169.3 450.5M176.1 433.0L172.7 430.3M172.2 436.1L165.8 439.3M156.7 464.4L160.8 462.2M160.7 429.4L163.2 432.7M155.3 441.1L154.1 441.5M145.7 413.6L153.6 414.7M160.9 453.8L165.9 451.3M158.4 439.7L165.8 439.3M156.4 437.3L159.4 431.6M181.4 446.4L179.2 454.6M164.7 440.7L167.1 439.6M170.0 451.4L169.5 446.6M133.1 468.5L140.8 471.1M176.9 454.0L174.3 456.3M171.0 430.3L165.5 435.4M170.9 443.2L164.5 447.3M169.4 460.2L166.9 458.5M163.2 436.2L169.0 442.1M181.2 445.0L173.1 441.5M176.5 457.1L171.2 453.1M157.2 457.0L154.9 463.0M172.1 443.1L169.0 449.3M172.7 458.1L167.5 454.8M174.0 459.0L178.3 451.9M173.0 451.3L176.2 456.8M153.2 428.1L155.6 430.4M165.9 442.9L164.2 443.8M183.6 463.8L181.5 458.3M156.4 454.9L158.5 451.0M155.6 435.7L151.7 439.0M175.9 458.0L167.6 458.1M152.5 434.9L152.0 438.4M175.7 461.1L168.0 461.8M162.9 443.1L157.9 437.5M173.3 444.8L176.7 447.3M141.8 448.2L140.1 443.7M145.4 450.0L151.4 447.8M170.9 454.5L172.7 461.7M157.9 431.6L152.0 425.2M175.9 452.5L168.5 451.9M160.2 455.6L167.5 450.5M148.8 423.2L150.5 431.6M169.4 432.3L174.0 432.7M160.2 442.1L163.8 439.2M175.5 455.0L169.2 460.2M167.9 427.9L165.8 427.7M175.9 445.0L178.8 452.9M157.4 458.6L165.5 461.9M160.8 433.5L165.8 427.7M166.6 435.6L158.0 437.6M154.7 440.3L161.8 435.5M156.0 444.7L158.6 442.5M169.4 445.2L169.2 450.6M154.4 434.5L161.3 434.8M158.7 438.3L158.0 430.0M176.8 466.0L181.8 461.6M155.6 442.8L154.7 442.8M171.0 461.1L169.3 456.1M177.4 440.1L177.7 441.3M148.1 456.5L154.1 451.0M180.5 462.9L178.1 466.3M163.1 456.8L161.0 449.5M177.0 448.5L172.1 443.1M161.2 469.9L164.1 473.5M173.2 427.6L176.2 434.3M140.1 439.5L140.1 443.7M159.4 438.8L157.6 437.6M166.0 430.7L163.2 432.7M165.9 443.6L171.3 445.3M163.9 444.7L163.2 441.8M166.5 455.6L172.6 451.3M148.5 444.2L152.2 440.7M157.2 438.4L165.0 439.7M131.9 438.3L126.2 431.9M167.4 434.4L163.7 427.4M152.9 433.3L160.9 435.9M183.6 463.8L177.7 463.3M165.6 450.7L158.0 450.6M153.1 441.7L154.0 442.2M176.6 457.3L174.5 461.5M158.7 450.3L160.2 442.1M161.8 457.8L170.6 458.0M169.7 452.1L174.8 453.2M155.6 442.8L158.5 446.1M160.3 449.1L168.9 451.6M149.7 437.4L157.4 439.2M170.9 443.2L174.8 448.5M164.9 460.9L170.7 457.2M152.6 437.5L155.5 439.7M162.9 437.5L161.4 437.4M143.8 457.8L145.5 458.2M169.6 459.1L164.7 451.8M166.8 466.9L171.9 466.1M165.8 431.5L167.4 434.4M165.5 461.9L166.6 464.2M133.1 468.5L141.2 469.6M180.6 456.8L184.0 459.9M159.5 438.8L161.0 440.2M166.1 436.8L163.6 438.8M154.1 446.5L158.7 448.7M147.1 443.1L149.5 445.5M173.4 453.4L169.0 454.7M162.3 437.7L163.7 445.0M175.2 451.7L172.1 444.8M178.0 433.7L176.0 430.3M166.0 448.5L174.0 452.2M155.7 448.8L154.1 443.7M173.0 463.0L169.9 463.2M169.8 458.5L167.5 450.5M153.4 439.2L154.6 432.8M148.4 437.6L152.9 431.4M163.1 438.8L163.7 444.9M171.7 457.9L171.5 455.6M165.9 451.3L169.0 445.5M155.3 446.3L161.5 440.4M175.5 458.2L172.6 457.1M173.5 447.8L178.1 448.5M163.9 444.7L156.0 441.5M167.3 423.6L162.3 420.2M176.4 438.4L171.7 434.7M155.2 450.1L161.4 453.4M175.7 461.1L170.6 458.0M153.6 440.3L155.0 445.6M168.6 442.8L161.6 442.9M155.8 437.2L154.7 433.6M152.7 449.7L161.2 449.9M166.5 457.8L166.5 455.0M180.3 447.0L188.8 445.6M174.5 446.1L169.0 452.0M170.7 457.2L165.7 454.2M165.7 443.0L161.9 439.7M158.7 450.2L163.3 453.8M150.2 451.6L155.4 451.5M158.7 438.5L158.0 430.0M159.3 440.1L154.7 433.6M179.7 464.0L171.6 460.4M153.5 435.2L152.1 439.5M164.0 461.1L169.0 461.9M155.7 439.0L159.4 438.8M163.8 478.4L170.0 473.0M166.0 453.9L171.1 451.8M164.9 453.9L162.7 458.9M174.0 432.7L179.6 433.0M158.7 438.3L158.7 442.3M147.9 451.4L148.8 447.6M173.1 441.5L171.1 434.0M154.9 448.3L156.5 446.2M173.7 463.4L172.7 458.1M167.2 462.3L174.7 465.6M183.1 442.6L176.1 446.4M183.6 457.9L183.3 452.3M152.5 434.9L154.0 436.0M174.8 441.3L172.6 447.9M161.6 429.5L155.4 435.3M173.6 453.4L178.1 451.3M174.3 486.7L175.0 492.0M183.5 456.6L176.7 458.3M150.1 443.3L153.4 439.2M173.3 443.4L174.7 436.0M164.5 457.7L165.1 459.0M177.2 449.3L172.8 453.8M157.5 448.3L160.8 440.9M166.0 472.7L170.4 469.3M165.0 445.0L167.3 441.0M167.6 458.1L161.5 462.6M157.0 473.9L163.7 473.2M167.3 469.4L162.5 464.5M159.5 445.4L164.9 441.7M168.0 471.1L164.5 467.4M144.2 438.1L146.2 431.1M149.7 464.3L151.9 466.3M146.7 430.8L146.8 431.8M165.8 447.5L158.5 446.1M181.7 447.8L178.4 448.6M167.8 450.9L172.7 449.9M152.1 429.4L150.9 434.3M162.5 450.4L167.8 450.9M170.3 446.5L170.9 454.5M156.5 455.7L152.9 451.7M163.8 443.3L166.8 443.2M171.1 460.4L172.7 457.5M173.7 452.8L177.3 449.8M155.0 446.0L156.1 445.6M176.5 457.1L171.0 462.7M158.1 435.9L155.1 434.5M180.0 452.1L183.7 448.2M171.9 457.7L169.2 459.7M161.1 446.5L155.2 450.1M177.4 449.6L172.3 456.7M175.2 441.0L180.6 441.6M164.1 442.1L160.0 445.6M159.3 428.9L160.4 436.6M182.9 468.1L175.2 465.1M162.2 442.9L164.9 437.0M169.2 463.5L178.0 461.5M197.4 465.3L194.2 465.0M151.8 434.7L146.8 441.5M159.7 457.6L165.0 457.1M167.3 423.6L160.4 428.3M170.9 461.7L164.8 459.8M161.3 451.7L155.7 453.3M158.3 436.3L151.8 431.0M154.4 434.5L152.7 441.7M157.6 424.8L162.2 430.9M158.3 432.1L158.2 433.1M161.9 440.4L165.7 441.4M179.5 442.7L174.5 442.4M181.4 459.2L180.8 451.2M178.7 419.8L173.0 422.8M164.8 459.8L168.1 466.1M154.1 451.0L161.7 446.4M179.7 434.9L175.5 429.7M175.7 453.0L172.3 449.2M173.2 451.3L170.5 447.3M180.3 447.0L182.6 455.0M170.3 446.2L168.5 443.6M166.7 429.6L163.5 434.4M157.3 449.4L152.7 441.7M174.0 460.2L165.5 463.3M168.6 458.5L168.6 449.7M155.7 448.8L159.3 447.0M163.9 441.6L160.3 439.0M176.4 479.5L174.3 486.7M154.8 449.1L162.6 445.5M158.5 426.3L152.1 429.4M149.6 435.9L155.4 435.3M178.2 450.4L181.0 454.8M178.0 450.7L175.2 456.0M161.7 446.7L161.3 437.8M166.7 445.5L163.9 441.6M167.2 473.7L170.0 473.0M121.5 469.3L122.9 474.3M174.4 450.0L173.5 446.3M169.2 444.5L165.8 447.5M172.8 442.9L178.4 448.0M158.3 428.6L157.8 433.4M148.1 457.6L151.0 452.7M152.2 457.0L157.7 450.8M183.4 423.2L178.7 419.8M162.4 442.8L161.5 437.7M177.9 451.5L178.4 458.5M148.6 438.9L146.8 441.5M183.5 450.2L176.0 453.1M167.5 458.1L168.4 454.8M142.9 446.5L146.2 449.3M160.8 456.6L163.1 464.4M155.2 454.3L154.8 449.1M177.7 434.6L177.7 441.3M164.9 441.7L158.9 443.3M175.0 492.0L175.3 487.3M173.8 457.5L179.0 450.6M133.1 468.5L136.2 469.3M164.4 464.3L162.3 459.1M158.4 439.7L151.7 439.0M175.9 463.8L174.7 458.3M159.2 447.4L157.2 445.5M154.7 447.1L157.7 450.8M148.4 430.3L144.2 438.1M158.7 459.2L167.2 456.6M158.2 419.9L161.5 426.9M169.5 446.1L167.2 441.0M155.3 457.7L160.2 451.9M158.4 452.8L161.3 454.4M159.5 438.8L158.2 433.1M176.6 457.3L182.7 463.4M148.6 455.4L148.8 447.6M157.5 457.2L151.1 461.0M149.0 443.0L153.6 440.2M169.8 458.5L169.6 458.5M161.6 449.1L156.0 444.7M176.7 447.3L181.4 444.0M174.6 425.9L168.8 432.4M163.0 447.1L165.0 447.7M178.2 427.8L186.3 430.6M162.8 434.7L169.3 433.8M174.8 453.2L176.1 446.4M158.6 457.3L159.7 457.6M149.5 445.5L150.3 445.1M146.6 446.5L143.3 445.2M170.1 447.4L172.3 449.2M178.1 448.5L169.7 448.1M165.2 455.5L164.1 450.9M195.2 448.3L186.8 449.8M148.8 447.6L150.7 449.7M147.0 439.5L154.7 442.8M157.7 450.8L155.3 446.3M177.4 454.2L172.4 448.2M174.4 459.6L174.6 453.1M176.6 464.4L182.2 459.0M165.7 454.6L163.7 447.0M156.0 441.5L152.5 434.9M170.7 457.2L179.7 457.5M150.4 462.8L145.6 466.4M149.0 443.0L154.7 440.3M176.5 448.1L168.9 443.7M166.7 443.0L161.3 437.0M175.9 458.0L173.3 453.1M167.7 441.9L169.5 433.3M169.2 450.2L165.6 454.3M162.6 445.5L169.5 444.8M162.1 439.5L153.8 439.1M180.4 454.8L183.3 452.3M179.4 451.7L175.7 454.0M172.5 449.1L175.2 456.0M175.9 443.3L167.2 441.0M173.1 442.3L171.7 434.7M164.4 444.6L166.0 446.5M169.4 445.2L168.0 437.9M170.4 466.9L168.0 461.6M157.3 449.4L151.4 446.2M166.1 437.5L161.1 436.5M154.0 438.2L145.6 440.4M150.2 441.5L156.8 442.2M178.7 457.0L177.3 459.2M173.3 458.0L174.4 456.7M177.8 449.5L174.3 456.3M152.0 435.6L159.3 440.1M175.7 467.3L167.9 466.5M169.0 468.1L168.5 467.2M173.0 422.8L167.9 427.9M164.5 460.1L160.4 460.3M162.8 436.5L160.5 444.5M166.8 466.9L165.5 463.3M154.2 457.0L151.7 464.4M161.7 431.3L164.0 431.8M153.5 440.6L161.1 437.2M197.4 465.0L193.5 462.3M173.2 427.6L174.0 432.7M176.2 460.7L168.6 459.6M149.0 440.2L149.8 434.7M177.2 449.3L175.1 446.2M162.3 440.2L162.4 434.3M152.2 450.8L157.9 446.7M169.7 449.0L175.7 444.0M172.6 453.2L165.4 448.3M175.0 461.9L179.7 464.3M170.8 457.8L167.6 457.8M172.7 457.7L173.2 456.6M158.5 451.0L151.4 447.8M158.7 450.2L155.3 457.7M174.2 465.6L178.8 462.6M165.5 436.4L165.5 435.7M174.6 464.3L166.6 464.2M155.6 430.4L162.4 434.3M181.7 447.8L180.6 441.6M173.5 449.9L178.0 450.7M156.8 444.3L164.2 448.8M181.8 461.6L178.5 456.0M165.0 445.0L171.3 444.0M170.9 443.2L165.7 438.8M169.1 455.2L167.2 454.0M167.3 457.9L168.3 461.3M160.2 449.3L163.1 455.4M165.5 435.4L161.2 437.3M160.4 428.3L162.5 435.0M182.6 455.0L186.8 449.8M157.9 446.7L161.5 440.4M157.4 439.2L164.0 443.0M158.9 467.9L163.6 467.6M179.4 451.7L186.8 448.8M173.7 463.4L169.1 467.8M158.1 444.8L160.3 449.1M165.4 427.9L161.7 420.0M167.3 448.8L173.7 453.6M163.8 440.0L164.2 443.8M169.2 450.6L172.7 451.4M155.4 466.4L152.1 459.2M164.7 440.7L162.1 433.3M173.5 423.8L167.9 427.9M154.5 458.5L160.9 455.2M177.5 464.8L172.6 460.0M175.1 458.8L172.1 460.5M160.4 428.3L158.4 430.8M170.6 451.3L168.6 442.8M152.6 437.5L149.0 443.0M145.0 418.5L150.0 422.4M157.4 458.6L157.5 457.2M157.2 442.6L156.1 445.6M155.4 435.3L148.8 439.2M151.7 439.0L158.0 443.3M176.6 457.3L169.6 458.5M157.2 445.5L164.2 444.3M181.3 440.7L176.7 447.3M131.9 438.3L126.2 431.9M140.8 471.1L146.0 469.8M176.1 433.0L174.8 441.3M158.1 435.9L164.1 431.3M175.2 451.7L178.4 458.5M171.4 465.1L173.5 466.5M160.3 422.6L157.3 429.9M170.5 428.9L175.5 429.7M166.5 451.6L164.6 447.3M173.8 464.1L171.6 455.8M172.3 433.5L165.8 439.3M171.2 453.1L164.5 447.3M167.2 454.0L174.0 452.2M179.5 477.9L175.2 471.1M168.4 443.8L161.2 440.4M159.7 445.3L165.8 439.1M155.0 434.0L155.1 432.1M166.5 447.8L163.4 442.7M160.2 439.4L155.0 446.0" stroke="#8cc8e0" stroke-width="0.35" stroke-opacity="0.35" fill="none"/>
<path stroke="#11598a" stroke-width="1.7" stroke-linecap="round" d="M159.9 451.6h0M168.7 436.3h0M157.4 436.2h0M163.8 440.0h0M165.1 425.4h0M171.2 439.7h0M164.6 439.4h0M156.8 444.3h0M165.7 438.8h0M158.5 446.1h0M153.2 428.1h0M162.5 435.0h0M145.4 433.8h0M156.1 430.7h0M148.6 440.8h0M166.2 438.6h0M154.1 443.7h0M164.9 438.0h0M163.6 449.1h0M158.1 433.8h0M162.2 442.5h0M167.7 430.0h0M154.7 433.6h0M146.8 441.5h0M163.5 434.4h0M169.9 447.2h0M164.2 443.8h0M166.7 429.6h0M164.1 445.4h0M146.5 443.3h0M157.7 446.9h0M156.4 440.4h0M162.1 433.3h0M164.0 439.6h0M163.2 436.2h0M167.6 445.5h0M158.3 445.7h0M168.9 455.2h0M148.0 447.7h0M163.0 439.7h0M152.2 450.8h0M150.3 445.1h0M169.2 427.4h0M157.4 429.8h0M161.4 452.9h0M174.6 425.9h0M155.3 446.3h0M171.3 444.0h0M154.1 442.9h0M159.5 438.8h0M154.2 443.7h0M161.9 439.7h0M158.0 430.0h0M156.0 450.4h0M158.2 428.7h0M169.5 444.8h0M175.2 441.0h0M156.2 428.6h0M169.4 461.6h0M153.5 435.2h0M164.0 433.7h0M157.6 437.6h0M161.0 449.5h0M159.8 448.0h0M156.5 443.2h0M143.8 428.6h0M165.5 435.7h0M163.9 444.9h0M169.4 447.2h0M167.1 439.6h0M154.4 434.5h0M156.0 431.2h0M155.5 439.7h0M161.5 437.7h0M145.4 439.9h0M161.3 449.4h0M163.9 435.2h0M154.2 457.0h0M175.4 433.8h0M162.5 444.3h0M163.7 444.9h0M161.1 441.9h0M148.5 439.1h0M154.1 441.5h0M156.1 445.6h0M165.7 443.0h0M161.9 441.3h0M156.3 439.2h0M155.9 443.7h0M159.7 445.3h0M149.8 447.8h0M154.0 434.5h0M158.1 435.9h0M161.8 435.8h0M151.7 433.6h0M169.3 440.9h0M151.0 440.6h0M148.1 455.2h0M148.3 444.4h0M163.6 428.6h0M161.8 448.7h0M163.1 442.6h0M166.6 441.8h0M162.1 439.5h0M164.3 432.8h0M165.5 436.4h0M151.5 443.5h0M172.1 448.4h0M155.8 446.2h0M156.2 439.5h0M160.3 421.5h0M161.0 432.1h0M154.4 428.4h0M148.4 432.8h0M159.4 449.5h0M157.6 424.8h0M160.7 444.2h0M156.4 443.0h0M163.8 433.4h0M148.7 438.7h0M158.0 437.6h0M166.9 454.6h0M156.5 446.2h0M166.6 446.3h0M167.4 437.3h0M165.5 435.4h0M164.1 450.9h0M162.3 435.9h0M171.0 430.3h0M163.3 440.4h0M150.8 450.5h0M162.2 430.9h0M164.1 437.0h0M145.5 434.9h0M161.6 445.7h0M160.8 440.9h0M163.1 438.8h0M168.3 441.7h0M161.8 444.9h0M151.8 434.7h0M170.9 443.2h0M157.5 443.3h0M156.0 442.8h0M154.7 442.8h0M147.9 451.4h0M155.8 427.5h0M157.9 437.5h0M160.7 431.1h0M150.1 443.3h0M157.3 442.1h0M146.2 431.1h0M163.0 440.2h0M171.7 434.7h0M160.9 464.4h0M153.9 433.1h0M159.3 440.1h0M165.8 441.6h0M154.0 442.2h0M179.1 450.9h0M139.0 439.3h0M158.3 456.3h0M166.5 447.8h0M161.0 440.2h0M162.1 451.1h0M163.6 437.6h0M169.0 442.1h0M159.0 434.0h0M155.4 435.3h0M138.9 448.8h0M163.8 438.7h0M167.3 444.1h0M162.3 420.2h0M157.9 444.9h0M171.5 455.6h0M170.2 431.0h0M143.3 445.2h0M159.8 448.4h0M158.7 442.3h0M148.5 444.2h0M156.3 443.4h0M163.0 439.5h0M161.9 440.4h0M165.2 444.6h0M155.6 435.7h0M172.5 439.7h0M166.9 443.7h0M155.4 434.4h0M160.5 442.6h0M164.1 430.1h0M155.2 439.7h0M171.4 421.1h0M162.8 436.1h0M162.8 436.5h0M162.3 453.3h0M162.2 444.1h0M162.4 434.3h0M163.6 438.8h0M153.6 440.2h0M157.9 446.7h0M159.3 436.2h0M170.4 448.6h0M169.0 445.5h0M158.8 437.1h0M157.5 448.3h0M160.4 428.3h0M159.3 428.9h0M160.8 430.6h0M150.2 441.5h0M159.0 426.9h0M148.6 455.4h0M154.5 436.4h0M158.3 428.6h0M169.2 444.5h0M154.0 438.2h0M148.4 437.6h0M166.5 426.4h0M156.4 441.7h0M167.4 451.6h0M156.2 434.4h0M162.9 437.5h0M157.3 449.4h0M172.1 442.7h0M158.2 445.2h0M145.6 440.4h0M151.8 460.1h0M164.9 441.7h0M158.2 419.9h0M164.9 453.9h0M154.2 446.1h0M164.9 427.8h0M161.3 440.0h0M165.4 427.9h0M160.3 449.1h0M150.4 448.6h0M156.5 423.4h0M158.8 432.5h0M162.0 430.9h0M167.4 434.4h0M157.2 450.3h0M161.2 437.3h0M150.3 450.0h0M165.0 437.8h0M161.4 432.1h0M152.1 433.7h0M162.2 442.9h0M154.1 446.5h0M165.4 441.9h0M167.3 438.1h0M158.8 444.4h0M159.3 447.0h0M150.3 452.2h0M153.8 439.1h0M149.4 445.4h0M169.0 449.3h0M165.8 427.7h0M153.8 436.7h0M152.7 449.7h0M161.0 440.3h0M163.2 432.7h0M152.9 433.3h0M163.3 443.3h0M163.9 449.3h0M149.6 435.9h0M160.7 429.4h0M155.7 448.8h0M167.8 449.3h0M159.9 438.8h0M167.6 437.4h0M162.1 451.4h0M156.9 435.5h0M159.5 445.4h0M163.2 441.8h0M163.7 427.4h0M153.2 441.8h0M152.7 429.5h0M150.7 433.0h0M158.3 432.1h0M161.3 454.4h0M158.5 451.0h0M161.7 431.3h0M157.7 432.4h0M165.3 431.0h0M169.4 445.2h0M144.6 446.9h0M171.1 434.0h0M166.9 425.8h0M161.5 426.9h0M163.2 425.8h0M140.1 443.7h0M176.5 435.6h0M165.7 441.4h0M157.2 445.5h0M171.8 430.4h0M163.8 443.3h0M149.1 453.7h0M174.0 432.7h0M172.5 441.0h0M158.4 452.8h0M161.3 443.2h0M170.8 451.1h0M166.2 429.0h0M148.0 449.7h0M152.7 441.7h0M151.7 439.0h0M150.1 453.9h0M152.1 439.5h0M158.2 450.4h0M149.1 440.2h0M158.1 444.8h0M163.1 436.7h0M161.4 437.4h0M163.1 439.7h0M154.7 440.3h0M156.0 443.0h0M170.4 423.5h0M146.7 430.8h0M158.8 460.5h0M162.5 450.4h0M158.0 420.3h0M142.5 448.9h0M161.0 429.9h0M167.9 427.9h0M168.0 452.4h0M153.9 431.4h0M165.8 431.5h0M166.0 430.7h0M165.6 441.3h0M156.4 433.2h0M161.4 425.0h0M157.6 437.3h0M164.6 430.2h0M172.3 437.9h0M151.2 451.9h0M171.9 439.0h0M153.0 440.6h0M154.5 437.9h0M171.1 443.7h0M160.7 443.3h0M159.2 447.4h0M166.1 437.5h0M160.4 460.3h0M162.7 439.0h0M174.8 440.6h0M151.5 446.0h0M152.9 436.4h0M162.0 439.5h0M154.0 436.0h0M155.2 450.1h0M154.3 435.8h0M174.7 436.0h0M170.6 451.3h0M158.5 428.9h0M163.0 446.0h0M166.8 441.1h0M168.5 451.9h0M151.8 452.2h0M160.9 435.9h0M157.2 455.9h0M166.9 425.8h0M160.2 439.4h0M158.3 436.3h0M148.8 447.6h0M152.6 437.5h0M155.1 434.5h0M165.1 443.6h0M154.6 432.8h0M156.1 448.4h0M160.5 442.4h0M157.2 438.4h0M161.2 425.4h0M171.5 434.0h0M155.4 451.5h0M161.2 440.8h0M155.3 427.7h0M161.0 450.3h0M152.9 451.7h0M151.3 434.5h0M163.3 440.5h0M164.7 434.4h0M152.0 425.2h0M150.7 431.7h0M149.0 443.0h0M154.7 424.2h0M178.0 433.7h0M150.3 450.7h0M168.2 431.1h0M148.7 432.3h0M168.0 437.9h0M153.6 440.3h0M168.5 429.1h0M156.8 429.2h0M175.7 455.4h0M166.6 439.4h0M164.5 423.3h0M161.6 429.5h0M149.8 434.7h0M157.0 445.2h0M164.8 442.7h0M152.6 446.0h0M158.7 450.2h0M152.8 417.8h0M156.1 458.1h0M163.1 438.9h0M166.1 444.6h0M163.0 436.3h0M160.2 442.1h0M154.8 431.3h0M160.6 448.4h0M164.4 444.6h0M161.5 449.0h0M174.1 440.9h0M161.6 449.1h0M172.1 443.1h0M162.3 441.2h0M150.7 449.7h0M157.7 426.4h0M158.5 426.3h0M152.2 440.7h0M152.8 449.3h0M148.8 442.7h0M163.8 452.5h0M166.5 442.5h0M160.3 440.1h0M168.1 435.2h0M163.5 439.8h0M161.5 438.4h0M175.5 435.2h0M161.6 442.9h0M164.2 444.3h0M162.8 448.6h0M148.5 440.7h0M150.6 442.5h0M150.9 432.7h0M159.2 452.1h0M164.0 443.0h0M170.1 432.9h0M144.2 437.1h0M157.6 450.7h0M175.5 429.7h0M178.0 453.4h0M165.9 443.6h0M177.7 441.3h0M156.2 441.8h0M149.6 444.5h0M158.9 443.3h0M162.4 431.9h0M169.4 432.3h0M166.3 427.6h0M162.5 433.9h0M160.0 435.3h0M143.6 431.5h0M160.2 445.7h0M148.8 423.2h0M153.3 438.9h0M155.0 434.0h0M165.2 432.9h0M160.3 439.0h0M149.2 447.9h0M160.4 436.6h0M170.2 446.9h0M166.0 450.5h0M165.0 430.2h0M156.8 448.8h0M154.0 440.9h0M162.7 452.4h0M169.3 448.0h0M158.3 448.1h0M163.6 439.3h0M169.7 444.7h0M154.1 451.0h0M157.8 445.5h0M148.4 440.4h0M152.7 432.6h0M145.5 458.2h0M158.6 442.5h0M167.9 439.6h0M163.5 429.4h0M161.1 437.2h0M163.4 442.1h0M149.4 425.4h0M152.2 446.6h0M162.8 443.9h0M144.7 418.5h0M155.0 437.8h0M155.2 443.5h0M158.4 430.8h0M153.1 441.7h0M160.2 439.9h0M176.4 438.4h0M160.5 432.4h0M157.0 444.8h0M163.8 439.2h0M162.5 441.0h0M145.7 413.6h0M176.7 447.3h0M159.2 426.2h0M150.2 451.6h0M139.0 437.8h0M166.0 441.7h0M165.2 439.4h0M177.3 432.1h0M149.5 442.8h0M170.2 440.0h0M167.4 436.1h0M150.8 452.0h0M171.2 453.1h0M156.4 431.0h0M150.9 438.7h0M163.9 444.7h0M149.0 442.1h0M159.7 441.2h0M159.4 438.8h0M164.0 441.5h0M161.3 434.8h0M162.5 439.5h0M143.9 444.5h0M157.6 448.1h0M158.4 439.7h0M161.2 440.4h0M156.3 425.8h0M173.2 427.6h0M157.1 445.9h0M162.4 445.2h0M165.3 450.9h0M161.8 464.3h0M152.1 442.4h0M156.9 436.0h0M161.7 452.5h0M154.3 434.7h0M165.0 445.0h0M174.1 448.9h0M161.3 437.8h0M161.2 439.1h0M149.5 440.6h0M158.3 438.6h0M156.4 454.4h0M164.8 448.2h0M155.1 432.1h0M157.5 442.5h0M157.0 439.0h0M166.7 443.0h0M152.3 437.0h0M154.7 442.0h0M151.0 439.0h0M164.7 440.7h0M152.8 435.4h0M160.5 444.5h0M165.8 439.3h0M149.9 452.2h0M161.8 443.8h0M161.9 432.0h0M157.2 442.6h0M167.2 441.0h0M136.5 438.5h0M162.2 451.1h0M164.9 460.9h0M170.1 451.6h0M166.6 429.2h0M165.9 445.4h0M155.7 445.3h0M162.7 436.7h0M158.7 438.3h0M161.3 437.0h0M163.6 424.8h0M157.5 426.7h0M156.0 444.7h0M159.8 439.6h0M160.1 453.4h0M151.4 447.8h0M148.4 436.7h0M160.8 433.5h0M161.1 446.5h0M150.8 439.9h0M156.8 424.6h0M158.2 434.0h0M169.5 433.3h0M172.2 436.1h0M173.9 444.9h0M163.0 447.1h0M166.3 452.0h0M172.4 437.7h0M150.3 418.6h0M156.7 446.7h0M162.4 441.4h0M157.0 435.3h0M157.5 443.7h0M146.5 446.5h0M148.8 439.2h0M154.9 437.5h0M151.8 431.0h0M157.9 431.6h0M177.8 437.0h0M154.7 435.9h0M151.6 420.3h0M157.7 443.0h0M148.4 440.5h0M150.6 440.1h0M162.2 444.4h0M162.8 434.7h0M166.1 436.8h0M162.1 446.2h0M157.3 429.9h0M164.1 431.3h0M152.9 431.4h0M165.8 439.1h0M142.9 446.5h0M174.9 455.2h0M155.3 441.1h0M163.3 447.7h0M159.8 431.4h0M165.1 445.5h0M149.7 437.4h0M161.5 440.4h0M163.4 446.9h0M163.5 439.5h0M149.5 445.5h0M169.9 456.6h0M159.3 440.1h0M170.2 452.2h0M162.0 446.2h0M153.9 445.2h0M153.4 439.2h0M158.6 436.5h0M143.9 433.6h0M162.0 439.9h0M156.6 443.9h0M164.6 447.3h0M153.5 440.6h0M157.0 433.2h0M148.4 439.6h0M153.0 458.0h0M158.7 438.5h0M156.5 455.7h0M152.5 439.0h0M153.8 439.3h0M159.2 449.4h0M149.0 440.2h0M171.4 436.2h0M158.2 433.1h0M140.1 439.5h0M168.2 436.5h0M145.8 442.5h0M160.1 448.6h0M166.2 438.1h0M162.4 425.6h0M167.7 441.9h0M167.5 449.1h0M157.3 439.1h0M153.0 423.4h0M158.5 441.6h0M151.4 446.2h0M160.2 444.1h0M153.8 425.9h0M165.2 445.4h0M158.7 436.9h0M157.4 439.2h0M155.7 423.9h0M165.3 428.1h0M157.0 437.8h0M161.4 427.1h0M165.2 450.8h0M153.6 414.7h0M162.0 451.2h0M168.1 436.0h0M158.9 442.8h0M146.2 435.0h0M154.8 453.4h0M154.7 453.3h0M159.7 426.7h0M176.0 432.5h0M164.2 454.5h0M155.6 430.4h0M167.3 441.0h0M150.5 431.6h0M156.7 448.4h0M157.5 445.9h0M171.8 450.9h0M170.2 450.6h0M147.7 450.5h0M162.0 439.5h0M151.6 427.5h0M151.4 440.3h0M150.9 433.8h0M155.0 446.0h0M157.4 439.3h0M169.4 437.9h0M164.0 431.8h0M162.0 441.5h0M173.3 451.9h0M165.1 453.2h0M168.9 463.6h0M178.3 446.1h0M176.4 451.8h0M175.2 451.7h0M175.2 445.9h0M159.2 451.3h0M164.1 452.7h0M176.3 467.0h0M169.7 466.2h0M180.0 452.1h0M160.8 462.2h0M176.3 473.9h0M181.8 461.6h0M183.6 447.3h0M173.4 453.4h0M184.0 459.9h0M151.3 466.2h0M168.9 457.5h0M176.5 457.1h0M165.7 466.5h0M174.9 455.5h0M177.0 451.4h0M185.0 457.4h0M174.7 458.3h0M166.0 446.5h0M173.7 458.4h0M181.4 459.2h0M177.9 463.5h0M174.5 446.1h0M180.1 449.9h0M176.1 443.4h0M177.4 449.5h0M179.6 469.4h0M180.2 446.5h0M165.8 448.8h0M176.7 458.3h0M173.3 458.0h0M176.2 460.7h0M183.7 455.2h0M173.6 441.1h0M163.2 450.2h0M164.1 457.3h0M179.3 452.2h0M168.9 451.6h0M173.0 451.3h0M175.1 457.9h0M174.5 461.5h0M184.1 455.2h0M177.5 455.9h0M169.0 451.9h0M166.5 455.6h0M168.0 452.2h0M180.4 454.4h0M179.8 457.6h0M178.0 450.7h0M173.1 476.0h0M177.7 463.3h0M173.7 462.2h0M164.2 448.8h0M175.0 461.9h0M169.3 454.0h0M169.6 454.0h0M163.9 444.3h0M171.5 441.9h0M165.4 450.3h0M169.0 454.7h0M165.1 449.6h0M175.5 458.2h0M168.8 458.2h0M182.8 452.2h0M174.8 458.6h0M170.3 446.2h0M176.6 457.3h0M172.2 455.4h0M172.0 448.2h0M173.8 441.1h0M171.7 443.5h0M170.0 451.4h0M175.3 453.0h0M169.0 452.0h0M182.0 460.3h0M175.0 445.8h0M175.9 445.0h0M175.0 446.4h0M185.0 441.9h0M180.0 461.3h0M159.6 453.2h0M181.5 463.9h0M160.4 451.0h0M163.7 447.0h0M167.3 469.4h0M172.6 453.2h0M176.4 447.8h0M181.6 446.6h0M169.8 458.5h0M183.3 452.3h0M173.6 465.2h0M175.9 463.8h0M178.7 457.0h0M175.9 462.1h0M171.5 467.5h0M158.2 447.8h0M181.5 458.3h0M167.3 457.9h0M179.0 450.6h0M176.9 454.0h0M170.9 454.5h0M179.2 446.3h0M169.2 460.2h0M163.4 442.7h0M175.5 455.0h0M165.1 477.7h0M165.0 451.6h0M162.0 451.8h0M182.0 455.2h0M175.7 451.2h0M184.0 456.3h0M163.2 461.0h0M172.6 457.1h0M172.6 447.9h0M161.5 462.6h0M170.7 457.2h0M168.5 439.2h0M166.3 452.0h0M161.7 450.9h0M169.1 453.3h0M171.2 450.1h0M167.7 454.9h0M173.8 453.9h0M183.5 456.6h0M172.7 449.9h0M178.6 447.0h0M160.6 447.4h0M175.8 446.0h0M180.4 454.8h0M161.3 453.2h0M183.7 448.2h0M180.5 462.9h0M169.4 456.4h0M173.8 464.1h0M186.2 454.1h0M180.4 452.3h0M175.6 447.7h0M166.4 458.2h0M167.9 455.5h0M171.0 452.3h0M172.5 463.4h0M192.7 445.7h0M173.7 453.6h0M165.4 457.2h0M165.6 454.3h0M180.0 439.2h0M173.3 458.4h0M174.0 452.2h0M179.9 444.7h0M176.0 453.1h0M164.4 453.6h0M169.2 461.3h0M161.4 453.4h0M168.5 467.2h0M164.0 463.2h0M159.7 457.6h0M170.7 457.9h0M166.8 439.7h0M161.1 465.1h0M173.0 448.1h0M177.7 449.1h0M166.5 445.4h0M179.5 470.1h0M178.2 471.3h0M155.2 455.9h0M175.9 443.3h0M174.3 456.3h0M176.4 450.2h0M174.3 450.0h0M175.6 456.0h0M168.9 443.7h0M182.7 463.4h0M177.4 449.6h0M169.1 467.8h0M176.5 448.1h0M171.8 455.9h0M170.1 447.4h0M180.0 459.4h0M170.1 442.5h0M167.5 454.8h0M177.4 451.9h0M179.0 455.9h0M166.5 433.1h0M163.5 443.2h0M181.0 454.8h0M163.7 473.2h0M173.7 452.8h0M169.8 444.4h0M175.9 457.8h0M182.4 463.5h0M177.5 464.8h0M169.7 451.5h0M171.3 445.3h0M170.7 452.4h0M176.2 454.9h0M158.7 455.3h0M181.3 440.7h0M166.5 455.2h0M162.7 450.8h0M172.1 444.8h0M173.7 458.3h0M179.1 453.7h0M174.7 460.2h0M170.2 462.8h0M174.4 447.4h0M175.4 461.9h0M177.3 450.2h0M175.0 465.9h0M173.4 464.5h0M180.7 455.0h0M176.4 453.0h0M179.2 454.6h0M168.2 455.1h0M171.4 458.3h0M175.1 446.2h0M167.5 458.1h0M175.2 456.0h0M189.9 464.1h0M171.5 461.1h0M181.1 458.2h0M160.1 456.2h0M172.4 472.1h0M159.6 467.5h0M171.0 462.7h0M170.1 456.9h0M179.8 456.2h0M179.3 454.9h0M181.4 446.4h0M160.9 455.4h0M183.6 463.8h0M181.2 465.4h0M167.2 456.6h0M154.1 450.9h0M176.4 443.5h0M158.2 445.5h0M189.9 466.9h0M162.0 437.6h0M173.3 464.0h0M161.3 451.7h0M169.3 456.1h0M171.2 459.9h0M179.6 456.5h0M177.6 471.5h0M165.5 447.8h0M176.0 470.4h0M173.7 464.5h0M170.5 463.2h0M168.3 461.3h0M175.3 459.2h0M182.0 464.5h0M168.6 463.1h0M161.1 463.9h0M191.4 460.4h0M176.2 456.8h0M178.5 452.8h0M177.4 454.2h0M170.0 457.4h0M172.5 442.9h0M187.0 457.5h0M161.4 464.9h0M172.7 458.1h0M177.8 449.5h0M174.6 464.3h0M167.8 454.4h0M175.7 454.0h0M171.3 458.5h0M166.2 468.8h0M166.7 456.8h0M170.7 450.9h0M176.6 464.4h0M182.8 461.0h0M169.9 463.2h0M176.5 460.8h0M165.1 444.7h0M184.2 452.4h0M161.7 446.7h0M172.9 465.5h0M172.8 465.7h0M174.3 460.0h0M179.5 453.3h0M174.8 453.2h0M167.1 456.8h0M167.3 455.5h0M169.1 464.7h0M173.2 456.7h0M183.8 433.5h0M165.0 434.6h0M172.5 459.4h0M176.9 458.0h0M166.5 469.6h0M174.5 453.8h0M164.8 459.1h0M169.0 452.3h0M173.8 457.5h0M166.8 465.5h0M165.5 447.0h0M174.4 456.7h0M172.8 452.5h0M172.6 451.3h0M161.0 461.4h0M165.4 453.9h0M177.2 455.8h0M190.9 444.7h0M167.1 456.3h0M181.4 453.7h0M162.5 464.5h0M165.9 454.1h0M178.2 450.4h0M169.1 459.4h0M170.8 457.8h0M164.7 443.4h0M184.1 459.1h0M178.4 448.0h0M171.9 453.9h0M162.5 459.8h0M167.2 454.0h0M177.3 458.6h0M165.9 451.3h0M180.4 453.4h0M173.9 456.6h0M164.5 467.4h0M158.6 457.3h0M171.5 442.9h0M172.5 449.1h0M175.2 464.2h0M173.6 469.0h0M178.0 461.5h0M181.6 450.4h0M168.6 459.6h0M175.7 467.3h0M179.9 456.9h0M173.6 453.4h0M169.7 452.1h0M178.3 451.9h0M169.8 456.9h0M168.7 453.8h0M157.4 458.6h0M174.8 441.3h0M188.7 457.1h0M173.7 442.0h0M176.8 459.3h0M181.5 453.8h0M166.8 466.9h0M174.8 455.2h0M188.7 457.9h0M171.9 458.7h0M170.4 458.3h0M174.1 451.5h0M175.7 461.1h0M178.4 458.5h0M176.5 453.6h0M171.2 464.6h0M159.5 459.4h0M194.4 442.0h0M183.1 442.6h0M175.3 468.9h0M182.8 449.1h0M163.8 444.9h0M177.5 453.0h0M172.6 458.0h0M175.3 460.1h0M173.3 443.4h0M182.3 434.5h0M180.8 451.2h0M171.1 451.8h0M170.5 447.3h0M178.1 451.3h0M181.5 454.6h0M167.6 459.2h0M178.4 448.6h0M170.4 466.9h0M165.6 449.2h0M173.5 446.3h0M155.6 442.8h0M174.9 460.9h0M176.4 458.8h0M180.2 450.3h0M178.8 452.9h0M173.7 458.7h0M162.3 467.2h0M166.5 455.0h0M169.0 459.4h0M175.3 456.0h0M182.0 458.0h0M169.7 433.4h0M170.5 453.6h0M166.5 449.1h0M176.4 464.0h0M185.3 464.7h0M174.8 451.1h0M171.7 453.9h0M168.1 466.1h0M193.5 462.3h0M179.6 457.1h0M170.0 473.0h0M171.6 460.4h0M172.1 460.5h0M181.7 447.8h0M167.9 466.5h0M175.1 464.2h0M157.2 457.0h0M163.7 445.0h0M175.2 465.1h0M162.2 447.2h0M163.3 473.5h0M176.4 453.0h0M168.8 474.0h0M187.6 452.0h0M174.7 465.6h0M164.3 451.2h0M181.5 450.3h0M169.4 445.2h0M167.1 461.1h0M166.7 445.5h0M168.0 469.6h0M173.5 451.3h0M173.3 459.1h0M173.1 441.5h0M174.3 453.9h0M178.0 445.0h0M179.4 451.7h0M160.5 466.0h0M168.6 458.5h0M171.0 464.1h0M179.7 464.3h0M177.0 442.8h0M160.6 457.1h0M165.6 459.2h0M173.2 444.4h0M165.0 446.6h0M166.0 453.9h0M176.8 466.0h0M165.4 451.1h0M182.7 462.5h0M173.7 437.0h0M168.0 471.1h0M172.7 457.7h0M164.5 447.3h0M167.5 450.5h0M170.5 458.4h0M173.7 463.4h0M173.7 468.0h0M170.6 458.0h0M166.5 458.8h0M174.8 450.5h0M169.1 455.2h0M176.1 446.4h0M178.2 452.9h0M185.1 467.0h0M169.3 450.5h0M189.0 460.4h0M176.0 452.1h0M171.2 461.8h0M176.3 449.0h0M180.6 457.9h0M170.9 461.7h0M168.3 458.3h0M160.9 458.4h0M161.6 456.8h0M154.7 455.0h0M177.1 459.3h0M180.3 447.0h0M182.9 468.1h0M163.8 449.2h0M168.2 455.3h0M173.4 436.0h0M176.2 453.5h0M165.1 463.0h0M169.7 464.4h0M175.7 453.0h0M180.1 461.8h0M168.6 442.8h0M170.4 469.3h0M173.9 457.0h0M174.8 448.5h0M171.2 450.3h0M156.0 441.5h0M177.1 452.0h0M171.2 443.8h0M172.7 451.4h0M182.6 455.0h0M169.7 464.5h0M160.2 459.8h0M164.4 449.3h0M167.4 456.5h0M172.8 457.8h0M173.5 466.5h0M183.6 461.0h0M177.3 452.5h0M172.3 462.2h0M159.6 476.5h0M178.9 444.6h0M168.3 439.6h0M162.3 440.2h0M172.8 457.8h0M169.9 465.4h0M181.6 455.4h0M170.6 453.3h0M169.0 465.8h0M173.7 452.9h0M170.5 459.8h0M169.4 458.0h0M171.9 466.1h0M180.0 444.4h0M171.0 461.1h0M174.4 460.2h0M171.7 457.9h0M175.7 444.0h0M165.8 447.5h0M183.6 457.9h0M174.7 456.9h0M168.6 449.7h0M177.9 452.6h0M182.9 457.1h0M172.8 453.8h0M171.6 455.8h0M182.5 473.9h0M177.0 448.5h0M167.8 452.0h0M155.7 460.7h0M171.8 454.8h0M172.7 457.5h0M188.0 457.0h0M177.9 451.5h0M174.6 453.1h0M171.1 448.5h0M166.6 459.2h0M177.3 459.2h0M167.6 458.1h0M154.9 463.0h0M171.9 457.7h0M180.1 452.3h0M178.7 452.2h0M175.9 452.5h0M174.3 467.0h0M167.8 450.9h0M170.0 458.0h0M191.0 451.2h0M158.3 450.6h0M161.5 451.3h0M172.4 448.2h0M167.6 441.1h0M173.5 449.9h0M179.7 464.0h0M166.4 452.8h0M172.7 461.7h0M160.9 455.2h0M189.8 447.3h0M168.5 448.5h0M150.0 460.9h0M169.1 450.6h0M175.1 458.8h0M140.9 454.8h0M158.0 450.6h0M156.4 437.3h0M178.1 448.5h0M162.0 444.9h0M166.8 448.4h0M134.9 437.3h0M183.6 436.6h0M191.1 450.0h0M172.3 441.9h0M158.1 467.6h0M163.2 447.6h0M181.1 471.4h0M146.6 446.5h0M166.0 472.7h0M198.3 448.4h0M171.1 460.4h0M181.2 445.0h0M177.4 440.1h0M131.5 431.3h0M169.2 459.5h0M137.0 425.8h0M173.8 462.9h0M127.7 459.5h0M164.1 468.0h0M170.3 446.5h0M169.2 450.2h0M148.0 456.0h0M167.2 473.7h0M166.7 448.6h0M158.7 459.2h0M164.3 440.6h0M187.8 473.1h0M161.1 436.5h0M181.7 439.0h0M203.8 448.1h0M179.6 433.0h0M172.8 442.9h0M199.1 459.6h0M164.1 442.1h0M163.6 467.6h0M157.0 450.4h0M156.4 466.4h0M165.0 461.3h0M174.5 442.4h0M176.3 462.3h0M152.1 459.2h0M175.5 432.6h0M173.1 442.3h0M177.2 449.4h0M151.7 464.4h0M164.3 436.7h0M168.0 437.4h0M172.3 449.2h0M162.3 458.8h0M150.4 462.8h0M140.8 471.1h0M169.5 446.6h0M157.5 457.2h0M165.0 447.7h0M180.7 444.3h0M181.2 448.1h0M169.2 450.6h0M176.9 469.6h0M154.9 448.3h0M186.8 449.8h0M169.9 464.9h0M150.8 439.9h0M161.2 449.9h0M170.1 443.2h0M190.2 440.7h0M164.4 464.3h0M177.3 449.8h0M172.0 460.7h0M166.9 458.5h0M155.0 450.9h0M145.4 438.1h0M151.9 466.3h0M160.9 453.8h0M154.7 447.1h0M163.2 438.5h0M178.2 427.8h0M156.0 450.1h0M146.2 449.3h0M143.8 457.8h0M160.1 425.1h0M149.4 428.4h0M161.1 433.6h0M155.2 450.7h0M134.0 456.8h0M171.4 416.4h0M181.6 427.2h0M163.1 464.4h0M144.1 424.2h0M150.9 434.3h0M163.9 441.6h0M159.1 442.2h0M163.2 437.2h0M170.0 448.5h0M152.1 472.7h0M148.7 458.3h0M155.7 453.3h0M184.6 437.5h0M203.7 454.1h0M155.0 430.7h0M197.0 470.6h0M165.7 459.0h0M183.5 450.2h0M160.4 448.5h0M177.2 449.3h0M149.7 459.0h0M143.2 439.0h0M182.6 452.2h0M169.2 450.4h0M179.8 448.3h0M140.2 452.2h0M125.3 421.7h0M187.1 462.8h0M159.9 448.0h0M167.2 462.3h0M155.8 437.2h0M157.7 450.8h0M169.5 443.7h0M176.1 435.3h0M165.0 439.7h0M152.6 465.2h0M161.8 435.5h0M166.6 435.6h0M174.0 460.2h0M179.7 434.9h0M164.1 473.5h0M163.2 465.8h0M186.3 430.6h0M182.2 459.0h0M177.7 471.4h0M172.2 450.0h0M174.2 444.4h0M172.7 422.2h0M189.1 441.9h0M173.3 453.1h0M167.5 450.5h0M166.9 427.2h0M158.8 464.8h0M152.5 434.9h0M194.2 465.0h0M186.8 448.8h0M169.6 459.1h0M173.5 447.8h0M146.6 439.2h0M146.0 469.8h0M160.6 446.4h0M169.7 449.0h0M172.9 440.5h0M145.6 471.9h0M156.3 442.4h0M155.2 441.4h0M166.0 458.5h0M151.7 452.4h0M156.7 464.4h0M149.3 449.8h0M175.0 430.5h0M167.0 450.4h0M155.0 445.6h0M178.6 451.6h0M160.0 445.6h0M171.4 465.1h0M175.9 458.0h0M186.0 428.0h0M146.5 418.4h0M176.3 418.2h0M147.0 439.5h0M161.8 457.8h0M145.4 452.3h0M174.4 450.0h0M167.3 464.5h0M168.1 447.8h0M160.8 456.6h0M161.4 456.6h0M154.8 449.1h0M169.7 453.5h0M180.0 453.2h0M177.0 473.7h0M176.2 434.3h0M146.5 456.8h0M160.2 451.9h0M180.8 433.3h0M168.7 444.1h0M148.1 456.5h0M163.3 453.8h0M197.4 465.3h0M179.5 442.7h0M149.7 464.3h0M161.2 448.6h0M160.2 449.3h0M196.5 443.9h0M161.4 450.7h0M168.8 432.4h0M142.0 440.4h0M162.3 437.7h0M152.0 435.6h0M159.8 446.3h0M143.7 440.6h0M169.5 446.1h0M147.1 443.1h0M143.6 456.6h0M158.7 450.3h0M173.6 436.3h0M154.2 446.1h0M174.1 440.5h0M146.3 438.5h0M169.6 462.6h0M158.0 443.3h0M162.3 445.7h0M152.3 441.7h0M167.3 448.8h0M164.8 434.4h0M157.4 438.2h0M178.1 466.3h0M160.7 443.7h0M147.8 450.4h0M158.7 448.7h0M170.9 444.4h0M150.1 446.9h0M163.7 447.9h0M173.3 444.8h0M161.2 469.9h0M178.5 446.4h0M152.6 441.9h0M169.6 458.5h0M195.8 444.5h0M166.8 443.2h0M165.9 442.9h0M151.1 461.0h0M166.6 464.4h0M158.5 451.3h0M173.5 423.8h0M148.1 457.6h0M166.4 424.4h0M155.6 434.5h0M158.9 467.9h0M157.8 433.4h0M197.4 465.0h0M186.6 470.3h0M126.2 431.9h0M173.2 451.3h0M179.4 438.6h0M176.6 463.4h0M175.0 465.2h0M168.7 438.4h0M168.4 449.9h0M130.9 452.3h0M164.7 451.8h0M152.2 457.0h0M177.7 434.6h0M171.2 462.5h0M180.3 430.5h0M141.8 448.2h0M146.1 432.5h0M177.7 438.5h0M141.8 437.2h0M127.9 429.9h0M159.3 445.2h0M138.4 433.1h0M143.9 449.0h0M159.0 422.8h0M176.1 433.0h0M170.5 428.9h0M168.4 443.8h0M163.1 455.4h0M171.4 449.0h0M165.4 422.1h0M157.0 473.9h0M176.3 466.7h0M155.2 454.3h0M187.2 455.9h0M169.7 448.1h0M142.1 429.4h0M131.1 453.9h0M156.4 433.7h0M170.1 435.6h0M172.3 433.5h0M172.3 424.5h0M185.9 415.3h0M153.0 442.1h0M154.8 425.2h0M171.0 447.3h0M127.8 436.3h0M167.2 464.1h0M155.2 453.6h0M155.3 457.7h0M149.2 435.8h0M147.5 434.3h0M173.5 452.2h0M150.0 443.6h0M154.5 458.5h0M183.0 459.4h0M166.4 464.6h0M169.1 473.6h0M145.6 466.4h0M171.8 443.4h0M148.4 430.3h0M202.4 470.0h0M165.6 450.7h0M147.2 412.3h0M123.9 435.5h0M159.7 424.8h0M180.6 456.8h0M166.6 413.7h0M158.4 446.4h0M154.6 477.3h0M187.5 455.5h0M168.0 461.8h0M195.2 448.3h0M158.0 458.0h0M154.1 446.7h0M159.0 453.4h0M165.4 448.3h0M160.2 455.6h0M151.9 465.7h0M126.1 450.9h0M173.0 422.8h0M153.6 472.1h0M160.2 430.2h0M166.0 434.0h0M161.7 446.4h0M179.7 457.5h0M146.3 438.0h0M193.4 428.8h0M179.5 477.9h0M177.5 451.8h0M193.1 453.7h0M162.9 443.1h0M188.4 460.2h0M197.1 440.6h0M156.2 438.7h0M169.3 433.8h0M183.5 453.4h0M122.9 474.3h0M161.7 449.8h0M153.7 454.5h0M127.1 448.2h0M178.5 456.0h0M160.3 422.6h0M180.6 441.6h0M162.6 445.5h0M152.7 433.2h0M150.0 422.4h0M168.5 443.6h0M185.4 412.5h0M188.8 445.6h0M159.4 431.6h0M145.0 418.5h0M182.8 442.8h0M178.8 462.6h0M152.0 442.4h0M155.4 466.4h0M178.9 445.5h0M190.6 473.6h0M137.9 463.4h0M169.2 463.5h0M136.6 451.6h0M141.5 440.7h0M194.3 444.4h0M138.0 466.3h0M147.7 417.4h0M187.7 451.8h0M170.6 431.8h0M194.5 444.7h0M119.7 425.4h0M144.6 443.9h0M179.9 433.2h0M164.9 437.0h0M163.8 423.2h0M174.9 465.4h0M150.3 466.0h0M156.7 452.5h0M146.8 431.8h0M130.1 451.2h0M156.8 442.2h0M138.3 424.8h0M149.2 455.9h0M169.7 434.0h0M172.6 472.3h0M151.5 469.3h0M137.0 451.6h0M133.1 468.5h0M173.9 471.6h0M168.6 436.1h0M152.0 438.4h0M146.2 428.7h0M190.4 455.4h0M148.6 438.9h0M184.4 454.2h0M167.3 423.6h0M153.4 425.3h0M120.8 463.9h0M155.7 439.0h0M141.8 461.2h0M183.4 423.2h0M166.8 451.0h0M195.7 447.0h0M142.2 445.6h0M153.3 474.3h0M177.5 453.3h0M152.1 429.4h0M121.5 469.3h0M174.0 459.0h0M163.8 478.4h0M141.2 469.6h0M136.0 448.4h0M156.4 454.9h0M149.8 420.2h0M175.2 471.1h0M178.9 445.6h0M171.5 414.3h0M155.3 468.6h0M172.7 430.3h0M181.4 444.0h0M178.7 419.8h0M151.0 452.7h0M169.2 457.1h0M162.4 442.8h0M173.0 463.0h0M129.3 440.5h0M158.1 449.6h0M184.9 421.4h0M174.3 413.7h0M146.0 436.7h0M156.7 435.0h0M151.3 440.1h0M156.7 411.6h0M131.9 438.3h0M174.2 465.6h0M145.4 450.0h0M177.6 449.2h0M139.4 444.7h0M161.7 420.0h0M136.2 469.3h0M156.9 472.8h0M176.0 430.3h0M190.2 436.0h0M160.9 461.3h0M166.7 429.6h0M174.3 486.7h0M175.3 487.3h0M175.0 492.0h0M176.4 479.5h0"/>
<path stroke="#f4dc2a" stroke-width="1.7" stroke-linecap="round" d="M165.2 455.5h0M165.7 454.2h0M165.1 457.1h0M162.5 470.2h0M153.1 445.6h0M165.1 458.2h0M166.5 451.6h0M162.2 435.6h0M162.3 459.1h0M163.3 461.7h0M166.0 448.5h0M168.4 445.7h0M162.1 463.4h0M166.0 461.6h0M164.8 459.8h0M172.3 456.7h0M164.9 457.3h0M173.2 456.6h0M169.4 460.7h0M169.4 460.2h0M170.7 456.1h0M169.2 459.7h0M163.0 465.9h0M162.7 458.9h0M165.5 461.9h0M165.1 459.0h0M165.0 457.1h0M170.5 457.5h0M163.1 455.3h0M169.4 453.8h0M168.7 454.6h0M173.7 464.8h0M152.9 455.7h0M163.1 456.8h0M168.4 461.3h0M165.7 454.6h0M161.8 463.3h0M174.4 459.6h0M170.2 457.2h0M170.3 458.2h0M171.3 459.0h0M169.9 455.7h0M164.0 461.1h0M167.6 457.8h0M163.1 461.5h0M169.9 458.9h0M163.8 455.0h0M168.4 454.8h0M165.2 456.7h0M162.8 457.1h0M165.5 463.3h0M168.3 460.3h0M168.0 461.6h0M164.5 460.1h0M163.4 455.7h0M169.0 461.9h0M164.2 457.5h0M162.7 458.4h0M168.3 461.9h0M166.6 464.2h0M164.0 455.7h0M166.5 457.8h0M162.7 460.6h0M172.6 460.0h0M164.8 458.1h0M166.5 462.9h0M162.9 465.1h0M164.5 457.7h0M169.0 468.1h0M165.3 458.6h0M165.9 450.1h0M166.8 462.9h0M144.2 438.1h0"/>
<path d="M268.4 424.7L263.3 424.4M288.4 391.1L282.0 396.1M274.4 423.8L272.1 427.5M279.8 403.2L278.4 395.6M265.6 401.6L263.7 400.1M262.7 403.2L260.6 396.2M256.6 409.2L262.3 414.7M265.2 397.8L260.3 394.7M267.3 400.1L274.7 405.0M238.4 411.5L244.6 408.7M262.2 394.5L263.5 399.6M252.6 404.6L253.9 409.1M267.8 413.4L267.8 405.0M267.5 420.2L267.8 420.3M259.1 398.1L258.8 400.4M250.7 407.5L255.8 402.3M278.5 396.1L278.4 395.6M272.1 397.1L266.2 403.1M268.9 420.9L262.8 423.4M275.9 415.3L284.0 413.5M280.5 411.6L285.0 415.3M251.0 403.9L253.2 403.0M252.1 427.4L254.1 427.5M238.9 401.6L247.8 403.0M241.3 411.9L248.9 409.6M275.5 405.4L274.9 412.2M266.0 412.2L266.2 415.6M233.3 415.4L229.5 411.3M275.9 429.6L277.1 421.4M254.7 400.1L255.5 404.8M277.2 414.2L280.9 415.9M282.1 427.1L278.9 420.2M262.7 412.2L267.4 410.8M259.7 405.2L266.3 407.4M269.3 388.9L266.2 396.5M277.4 425.0L272.3 422.0M262.6 405.2L259.4 413.5M268.9 418.1L267.9 410.1M272.0 425.7L275.9 429.6M274.8 435.2L276.2 427.2M256.5 404.6L264.3 402.8M266.3 407.4L267.3 404.8M266.3 407.8L264.6 410.3M248.0 435.0L254.5 435.8M283.2 414.3L283.6 411.2M271.5 427.8L268.1 429.6M261.3 406.4L262.6 408.8M270.6 399.6L267.1 397.5M273.4 424.2L274.2 417.9M252.9 394.7L255.3 394.5M269.6 417.1L266.9 423.2M256.5 414.0L250.1 413.6M282.1 427.1L282.4 424.4M256.9 399.5L261.0 399.6M273.1 419.2L278.1 416.1M289.4 420.6L285.3 420.2M267.3 390.9L263.8 388.1M264.6 398.7L263.1 406.4M268.5 400.6L269.8 400.4M269.8 399.2L272.1 396.5M295.5 416.8L293.4 414.3M277.4 428.3L281.2 425.7M270.7 425.0L269.9 417.9M271.5 430.9L265.5 424.6M250.5 419.6L256.5 414.1M280.1 434.5L276.1 431.1M264.8 405.9L270.8 406.9M278.1 424.2L276.2 427.2M268.3 406.0L262.7 403.2M274.2 419.0L275.7 421.5M267.3 390.9L267.9 398.8M272.8 411.7L271.7 404.0M258.0 397.6L254.5 392.5M276.7 430.1L270.7 424.4M278.5 409.5L279.7 415.6M259.4 437.0L253.9 432.4M257.0 395.9L264.3 395.1M245.6 402.1L242.5 406.8M278.6 419.9L272.3 422.0M274.3 402.1L268.3 406.0M259.0 407.0L262.7 403.2M278.9 416.7L275.0 423.1M260.0 413.8L264.2 420.9M271.7 411.1L266.8 412.4M263.8 419.7L270.6 418.4M263.8 390.2L261.8 394.7M257.0 440.4L253.9 432.4M264.3 395.1L269.3 390.3M254.1 396.7L247.8 403.0M282.0 420.2L276.1 426.5M265.1 421.5L261.6 415.2M253.8 410.9L255.4 403.7M267.4 400.9L264.8 408.3M256.5 409.8L260.9 404.7M277.8 425.0L282.1 427.4M223.2 427.0L230.1 422.6M258.6 401.8L257.9 402.8M235.5 431.6L243.2 434.2M278.7 429.8L277.1 428.7M278.8 442.6L280.6 434.4M282.4 407.5L276.5 403.6M268.9 421.9L276.1 426.5M265.6 395.8L267.8 391.0M270.7 421.4L270.5 429.2M265.7 403.5L266.4 396.8M271.7 404.0L278.5 406.5M269.1 408.6L269.3 406.8M264.3 395.1L261.6 389.3M270.8 406.9L267.5 406.7M270.6 394.2L267.4 393.3M265.2 407.0L274.1 406.6M268.4 411.6L268.0 404.4M266.2 386.3L260.4 393.1M266.3 407.4L263.2 404.0M265.7 403.5L268.2 410.6M260.1 389.5L252.4 385.5M285.2 412.2L284.4 421.1M282.4 415.2L287.4 420.5M272.3 428.0L277.1 428.7M282.2 411.4L279.8 412.7M295.1 408.8L290.0 415.1M272.6 413.7L278.6 416.6M271.6 407.6L272.5 406.3M248.7 401.6L251.9 405.9M243.9 403.8L246.3 396.7M264.7 416.4L257.6 416.7M266.5 431.1L271.8 424.7M274.1 406.6L266.3 404.7M244.2 411.3L244.6 408.7M264.8 405.9L265.6 410.7M285.1 425.6L277.6 427.3M266.2 396.5L266.7 399.8M263.5 427.0L269.5 424.2M276.2 420.6L281.6 417.7M260.0 400.7L267.2 405.8M250.8 395.9L249.2 404.6M263.2 404.0L265.9 397.5M259.4 398.4L264.0 392.6M274.4 423.8L272.3 418.8M261.7 408.3L257.9 402.8M276.3 419.7L272.1 427.6M239.0 414.7L244.9 412.0M249.9 397.4L248.0 403.5M272.8 411.7L278.3 406.4M264.8 397.4L261.1 401.6M264.8 408.3L260.8 402.8M265.5 418.5L263.8 419.7M263.0 409.5L258.0 405.9M250.1 413.6L256.3 408.3M262.1 420.7L263.2 419.7M256.8 397.6L264.1 394.4M277.0 416.2L283.9 416.9M269.1 408.6L265.9 406.3M270.0 421.2L267.3 424.0M266.9 423.2L274.9 426.5M273.6 402.8L270.9 406.7M265.6 410.7L258.5 411.5M274.5 406.2L281.9 405.8M272.9 426.3L271.3 420.6M264.6 398.7L265.2 399.6M275.1 393.4L274.2 393.5M276.4 415.3L272.3 410.3M278.3 406.4L273.5 411.6M270.0 422.3L267.4 414.7M306.1 417.2L306.2 411.2M256.5 409.8L262.1 408.4M269.0 404.9L261.7 403.2M261.6 415.2L265.6 413.3M261.6 389.3L267.0 393.3M272.2 407.5L279.4 411.6M279.7 412.9L278.3 406.4M249.6 375.4L247.4 381.6M228.6 395.0L234.3 401.4M258.9 386.5L260.6 383.0M270.4 400.5L263.4 403.4M295.1 408.8L298.2 407.6M267.1 403.8L259.7 405.2M263.5 405.0L267.0 402.5M269.6 436.8L276.1 431.1M260.0 413.8L268.9 412.2M260.4 400.7L256.5 404.6M271.9 409.2L278.9 411.2M275.0 420.2L269.7 418.6M251.7 412.9L253.2 415.1M277.8 396.9L271.7 396.9M306.1 417.2L300.7 411.5M251.1 395.4L258.0 398.8M285.3 431.2L282.0 432.5M274.2 417.9L278.8 421.9M247.4 381.6L250.1 380.5M273.6 423.0L271.0 422.7M265.5 401.9L264.6 405.6M288.6 417.2L283.9 416.9M296.7 407.5L293.3 407.8M249.2 404.6L253.4 403.7M278.5 398.4L271.8 395.4M277.7 423.2L279.7 422.3M267.3 417.0L271.7 413.6M278.5 396.1L275.1 393.4M274.6 399.2L268.2 402.4M259.1 427.5L263.2 425.3M263.1 392.5L265.6 395.8M257.7 404.2L256.5 404.6M248.1 376.7L256.0 377.8M263.3 416.9L268.3 414.4M260.8 402.8L268.2 402.4M258.8 400.4L261.8 394.7M283.8 409.5L281.6 417.7M267.1 403.8L269.5 402.7M272.4 414.5L271.9 409.7M235.5 431.6L243.2 434.2M279.3 417.1L276.7 419.4M273.4 393.4L267.9 398.5M273.3 406.3L266.9 410.4M271.8 423.3L269.3 421.6M265.6 399.3L271.4 405.2M283.6 408.1L275.5 404.6M278.9 420.2L273.6 416.2M259.6 420.1L257.3 426.1M274.5 406.2L271.4 412.4M275.1 421.2L269.9 417.9M276.4 422.1L280.7 415.0M275.4 414.4L278.6 419.9M255.6 391.2L258.0 393.5M268.3 406.0L266.6 406.9M286.0 426.9L283.9 421.4M258.8 418.0L260.9 414.1M258.0 398.8L254.1 402.1M278.3 421.1L270.0 421.2M254.9 398.0L254.4 401.5M278.1 424.2L270.4 424.9M265.3 406.2L260.3 400.6M275.7 407.9L279.1 410.4M244.2 411.3L242.5 406.8M247.8 413.1L253.8 410.9M273.3 417.6L275.1 424.8M260.3 394.7L254.4 388.3M278.3 415.6L270.9 415.0M262.6 418.7L269.9 413.6M251.2 386.3L252.9 394.7M271.8 395.4L276.4 395.8M262.6 405.2L266.2 402.3M277.9 418.1L271.6 423.3M270.3 391.0L268.2 390.8M278.3 408.1L281.2 416.0M259.8 421.7L267.9 425.0M263.2 396.6L268.2 390.8M269.0 398.7L260.4 400.7M257.1 403.4L264.2 398.6M258.4 407.8L261.0 405.6M271.8 408.3L271.6 413.7M256.8 397.6L263.7 397.9M261.1 401.4L260.4 393.1M279.2 429.1L284.2 424.7M258.0 405.9L257.1 405.9M273.4 424.2L271.7 419.2M279.8 403.2L280.1 404.4M250.5 419.6L256.5 414.1M282.9 426.0L280.5 429.4M265.5 419.9L263.4 412.6M279.4 411.6L274.5 406.2M263.6 433.0L266.5 436.6M275.6 390.7L278.6 397.4M242.5 402.6L242.5 406.8M261.8 401.9L260.0 400.7M268.4 393.8L265.6 395.8M268.3 406.7L273.7 408.4M266.3 407.8L265.6 404.9M268.9 418.7L275.0 414.4M250.9 407.3L254.6 403.8M259.6 401.5L267.4 402.8M234.3 401.4L228.6 395.0M269.8 397.5L266.1 390.5M255.3 396.4L263.3 399.0M286.0 426.9L280.1 426.4M268.0 413.8L260.4 413.7M255.5 404.8L256.4 405.3M279.0 420.4L276.9 424.6M261.1 413.4L262.6 405.2M264.2 420.9L273.0 421.1M272.1 415.2L277.2 416.3M258.0 405.9L260.9 409.2M262.7 412.2L271.3 414.7M252.1 400.5L259.8 402.3M273.3 406.3L277.2 411.6M267.3 424.0L273.1 420.3M255.0 400.6L257.9 402.8M265.3 400.6L263.8 400.5M246.2 420.9L247.9 421.3M272.0 422.2L267.1 414.9M269.2 430.0L274.3 429.2M268.2 394.6L269.8 397.5M267.9 425.0L269.0 427.3M235.5 431.6L243.6 432.7M283.0 419.9L286.4 423.0M261.9 401.9L263.4 403.3M268.5 399.9L266.0 401.9M256.5 409.6L261.1 411.8M249.5 406.2L251.9 408.6M275.8 416.5L271.4 417.8M264.7 400.8L266.1 408.1M277.6 414.8L274.5 407.9M280.4 396.8L278.4 393.4M268.4 411.6L276.4 415.3M258.1 411.9L256.5 406.8M275.4 426.1L272.3 426.3M272.2 421.6L269.9 413.6M255.8 402.3L257.0 395.9M250.8 400.7L255.3 394.5M265.5 401.9L266.1 408.0M274.1 421.0L273.9 418.7M268.3 414.4L271.4 408.6M257.7 409.4L263.9 403.5M277.9 421.3L275.0 420.2M275.9 410.9L280.5 411.6M266.3 407.8L258.4 404.6M269.7 386.7L264.7 383.3M278.8 401.5L274.1 397.8M257.6 413.2L263.8 416.5M278.1 424.2L273.0 421.1M256.0 403.4L257.4 408.7M271.0 405.9L264.0 406.0M258.2 400.3L257.1 396.7M255.1 412.8L263.6 413.0M268.9 420.9L268.9 418.1M282.7 410.1L291.2 408.7M276.9 409.2L271.4 415.1M273.1 420.3L268.1 417.3M268.1 406.1L264.3 402.8M261.1 413.3L265.7 416.9M252.6 414.7L257.8 414.6M261.1 401.6L260.4 393.1M261.7 403.2L257.1 396.7M282.1 427.1L274.0 423.5M255.9 398.3L254.5 402.6M266.4 424.2L271.4 425.0M258.1 402.1L261.8 401.9M266.2 441.5L272.4 436.1M268.4 417.0L273.5 414.9M267.3 417.0L265.1 422.0M276.4 395.8L282.0 396.1M261.1 401.4L261.1 405.4M250.3 414.5L251.2 410.7M275.5 404.6L273.5 397.1M257.3 411.4L258.9 409.3M276.1 426.5L275.1 421.2M269.6 425.4L277.1 428.7M285.5 405.7L278.5 409.5M286.0 421.0L285.7 415.4M254.9 398.0L256.4 399.1M277.2 404.4L275.0 411.0M264.0 392.6L257.8 398.4M276.0 416.5L280.5 414.4M276.7 449.8L277.4 455.1M285.9 419.7L279.1 421.4M252.5 406.4L255.8 402.3M275.7 406.5L277.1 399.1M266.9 420.8L267.5 422.1M279.6 412.4L275.2 416.9M259.9 411.4L263.2 404.0M268.4 435.8L272.8 432.4M267.4 408.1L269.7 404.1M270.0 421.2L263.9 425.7M259.4 437.0L266.1 436.3M269.7 432.5L264.9 427.6M261.9 408.5L267.3 404.8M270.4 434.2L266.9 430.5M246.6 401.2L248.6 394.2M252.1 427.4L254.3 429.4M249.1 393.9L249.2 394.9M268.2 410.6L260.9 409.2M284.1 410.9L280.8 411.7M270.2 414.0L275.1 413.0M254.5 392.5L253.3 397.4M264.9 413.5L270.2 414.0M272.7 409.6L273.3 417.6M258.9 418.8L255.3 414.8M266.2 406.4L269.2 406.3M273.5 423.5L275.1 420.6M276.1 415.9L279.7 412.9M257.4 409.1L258.5 408.7M278.9 420.2L273.4 425.8M260.5 399.0L257.5 397.6M282.4 415.2L286.1 411.3M274.3 420.8L271.6 422.8M263.5 409.6L257.6 413.2M279.8 412.7L274.7 419.8M277.6 404.1L283.0 404.7M266.5 405.2L262.4 408.7M261.7 392.0L262.8 399.7M285.3 431.2L277.6 428.2M264.6 406.0L267.3 400.1M271.6 426.6L280.4 424.6M299.8 428.4L296.6 428.1M254.2 397.8L249.2 404.6M262.1 420.7L267.4 420.2M269.7 386.7L262.8 391.4M273.3 424.8L267.2 422.9M263.7 414.8L258.1 416.4M260.7 399.4L254.2 394.1M256.8 397.6L255.1 404.8M260.0 387.9L264.6 394.0M260.7 395.2L260.6 396.2M264.3 403.5L268.1 404.5M281.9 405.8L276.9 405.5M283.8 422.3L283.2 414.3M281.1 382.9L275.4 385.9M267.2 422.9L270.5 429.2M256.5 414.1L264.1 409.5M282.1 398.0L277.9 392.8M278.1 416.1L274.7 412.3M275.6 414.4L272.9 410.4M282.7 410.1L285.0 418.1M272.7 409.3L270.9 406.7M269.1 392.7L265.9 397.5M259.7 412.5L255.1 404.8M276.4 423.3L267.9 426.4M271.0 421.6L271.0 412.8M258.1 411.9L261.7 410.1M266.3 404.7L262.7 402.1M278.8 442.6L276.7 449.8M257.2 412.2L265.0 408.6M260.9 389.4L254.5 392.5M252.0 399.0L257.8 398.4M280.6 413.5L283.4 417.9M280.4 413.8L277.6 419.1M264.1 409.8L263.7 400.9M269.1 408.6L266.3 404.7M269.6 436.8L272.4 436.1M223.9 432.4L225.3 437.4M276.8 413.1L275.9 409.4M271.6 407.6L268.2 410.6M275.2 406.0L280.8 411.1M260.7 391.7L260.2 396.5M250.5 420.7L253.4 415.8M254.6 420.1L260.1 413.9M285.8 386.3L281.1 382.9M264.8 405.9L263.9 400.8M280.3 414.6L280.8 421.6M251.0 402.0L249.2 404.6M285.9 413.3L278.4 416.2M269.9 421.2L270.8 417.9M245.3 409.6L248.6 412.4M263.2 419.7L265.5 427.5M257.6 417.4L257.2 412.2M280.1 397.7L280.1 404.4M267.3 404.8L261.3 406.4M277.4 455.1L277.7 450.4M276.2 420.6L281.4 413.7M235.5 431.6L238.6 432.4M266.8 427.4L264.7 422.2M260.8 402.8L254.1 402.1M278.3 426.9L277.1 421.4M261.6 410.5L259.6 408.6M257.1 410.2L260.1 413.9M250.8 393.4L246.6 401.2M261.1 422.3L269.6 419.7M260.6 383.0L263.9 390.0M271.9 409.2L269.6 404.1M257.7 420.8L262.6 415.0M260.8 415.9L263.7 417.5M261.9 401.9L260.6 396.2M279.0 420.4L285.1 426.5M251.0 418.5L251.2 410.7M259.9 420.3L253.5 424.1M251.4 406.1L256.0 403.3M272.2 421.6L272.0 421.6M264.0 412.2L258.4 407.8M279.1 410.4L283.8 407.1M277.0 389.0L271.2 395.5M265.4 410.2L267.4 410.8M280.6 390.9L288.7 393.7M265.2 397.8L271.7 396.9M277.2 416.3L278.5 409.5M261.0 420.4L262.1 420.7M251.9 408.6L252.7 408.2M249.0 409.6L245.7 408.3M272.5 410.5L274.7 412.3M280.5 411.6L272.1 411.2M267.6 418.6L266.5 414.0M297.6 411.4L289.2 412.9M251.2 410.7L253.1 412.8M249.4 402.6L257.1 405.9M260.1 413.9L257.7 409.4M279.8 417.3L274.8 411.3M276.8 422.7L277.0 416.2M279.0 427.5L284.6 422.1M268.1 417.7L266.1 410.1M258.4 404.6L254.9 398.0M273.1 420.3L282.1 420.6M252.8 425.9L248.0 429.5M251.4 406.1L257.1 403.4M278.9 411.2L271.3 406.8M269.1 406.1L263.7 400.1M278.3 421.1L275.7 416.2M270.1 405.0L271.9 396.4M271.6 413.3L268.0 417.4M265.0 408.6L271.9 407.9M264.5 402.6L256.2 402.2M282.8 417.9L285.7 415.4M281.8 414.8L278.1 417.1M274.9 412.2L277.6 419.1M278.3 406.4L269.6 404.1M275.5 405.4L274.1 397.8M266.8 407.7L268.4 409.6M271.8 408.3L270.4 401.0M272.8 430.0L270.4 424.7M259.7 412.5L253.8 409.3M268.5 400.6L263.5 399.6M256.4 401.3L248.0 403.5M252.6 404.6L259.2 405.3M281.1 420.1L279.7 422.3M275.7 421.1L276.8 419.8M280.2 412.6L276.7 419.4M254.4 398.7L261.7 403.2M278.1 430.4L270.3 429.6M271.4 431.2L270.9 430.3M275.4 385.9L270.3 391.0M266.9 423.2L262.8 423.4M265.2 399.6L262.9 407.6M269.2 430.0L267.9 426.4M256.6 420.1L254.1 427.5M264.1 394.4L266.4 394.9M255.9 403.7L263.5 400.3M299.8 428.1L295.9 425.4M275.6 390.7L276.4 395.8M278.6 423.8L271.0 422.7M251.4 403.3L252.2 397.8M279.6 412.4L277.5 409.3M264.7 403.3L264.8 397.4M254.6 413.9L260.3 409.8M272.1 412.1L278.1 407.1M275.0 416.3L267.8 411.4M277.4 425.0L282.1 427.4M273.2 420.9L270.0 420.9M275.1 420.8L275.6 419.7M260.9 414.1L253.8 410.9M261.1 413.3L257.7 420.8M276.6 428.7L281.2 425.7M267.9 399.5L267.9 398.8M277.0 427.4L269.0 427.3M258.0 393.5L264.8 397.4M284.1 410.9L283.0 404.7M275.9 413.0L280.4 413.8M259.2 407.4L266.6 411.9M284.2 424.7L280.9 419.1M267.4 408.1L273.7 407.1M273.3 406.3L268.1 401.9M271.5 418.3L269.6 417.1M269.7 421.0L270.7 424.4M262.6 412.4L265.5 418.5M267.9 398.5L263.6 400.4M262.8 391.4L264.9 398.1M285.0 418.1L289.2 412.9M260.3 409.8L263.9 403.5M259.8 402.3L266.4 406.1M261.3 431.0L266.0 430.7M281.8 414.8L289.2 411.9M276.1 426.5L271.5 430.9M260.5 407.9L262.7 412.2M267.8 391.0L264.1 383.1M269.7 411.9L276.1 416.7M266.2 403.1L266.6 406.9M271.6 413.7L275.1 414.5M257.8 429.5L254.5 422.3M267.1 403.8L264.5 396.4M275.9 386.9L270.3 391.0M256.9 421.6L263.3 418.3M279.9 427.9L275.0 423.1M277.5 421.9L274.5 423.6M262.8 391.4L260.8 393.9M273.0 414.4L271.0 405.9M255.0 400.6L251.4 406.1M247.4 381.6L252.4 385.5M259.8 421.7L259.9 420.3M259.6 405.7L258.5 408.7M257.8 398.4L251.2 402.3M254.1 402.1L260.4 406.4M279.0 420.4L272.0 421.6M259.6 408.6L266.6 407.4M283.7 403.8L279.1 410.4M234.3 401.4L228.6 395.0M243.2 434.2L248.4 432.9M278.5 396.1L277.2 404.4M260.5 399.0L266.5 394.4M277.6 414.8L280.8 421.6M273.8 428.2L275.9 429.6M262.7 385.7L259.7 393.0M272.9 392.0L277.9 392.8M268.9 414.7L267.0 410.4M276.2 427.2L274.0 418.9M274.7 396.6L268.2 402.4M273.6 416.2L266.9 410.4M269.6 417.1L276.4 415.3M281.9 441.0L277.6 434.2M270.8 406.9L263.6 403.5M262.1 408.4L268.2 402.2M257.4 397.1L257.5 395.2M268.9 410.9L265.8 405.8M262.6 402.5L257.4 409.1" stroke="#8cc8e0" stroke-width="0.35" stroke-opacity="0.35" fill="none"/>
<path stroke="#11598a" stroke-width="1.7" stroke-linecap="round" d="M262.3 414.7h0M271.1 399.4h0M259.8 399.3h0M266.2 403.1h0M267.5 388.5h0M273.6 402.8h0M267.0 402.5h0M259.2 407.4h0M268.1 401.9h0M255.6 391.2h0M264.9 398.1h0M247.8 396.9h0M258.5 393.8h0M251.0 403.9h0M268.6 401.7h0M256.5 406.8h0M267.3 401.1h0M266.0 412.2h0M260.5 396.9h0M264.6 405.6h0M270.1 393.1h0M257.1 396.7h0M249.2 404.6h0M265.9 397.5h0M272.3 410.3h0M266.6 406.9h0M269.1 392.7h0M266.5 408.5h0M260.1 410.0h0M258.8 403.5h0M264.5 396.4h0M266.4 402.7h0M265.6 399.3h0M270.0 408.6h0M260.7 408.8h0M271.3 418.3h0M250.4 410.8h0M265.4 402.8h0M252.7 408.2h0M271.6 390.5h0M259.8 392.9h0M263.8 416.0h0M277.0 389.0h0M273.7 407.1h0M256.5 406.0h0M256.6 406.8h0M264.3 402.8h0M260.4 393.1h0M258.4 413.5h0M260.6 391.8h0M271.9 407.9h0M277.6 404.1h0M258.6 391.7h0M271.8 424.7h0M255.9 398.3h0M266.4 396.8h0M260.0 400.7h0M263.4 412.6h0M262.2 411.1h0M258.9 406.3h0M246.2 391.7h0M267.9 398.8h0M266.3 408.0h0M271.8 410.3h0M269.5 402.7h0M256.8 397.6h0M258.4 394.3h0M257.9 402.8h0M263.9 400.8h0M247.8 403.0h0M263.7 412.5h0M266.3 398.3h0M256.6 420.1h0M267.6 418.6h0M277.8 396.9h0M264.9 407.4h0M266.1 408.0h0M263.5 405.0h0M250.9 402.2h0M256.5 404.6h0M258.5 408.7h0M268.1 406.1h0M264.3 404.4h0M258.7 402.3h0M258.3 406.8h0M262.1 408.4h0M252.2 410.9h0M256.4 397.6h0M260.5 399.0h0M264.2 398.9h0M254.1 396.7h0M271.7 404.0h0M253.4 403.7h0M250.5 418.3h0M250.7 407.5h0M266.0 391.7h0M264.2 411.8h0M269.0 404.9h0M264.5 402.6h0M266.7 395.9h0M267.9 399.5h0M253.9 406.6h0M274.5 411.5h0M258.2 409.3h0M258.6 402.6h0M262.7 384.6h0M263.4 395.2h0M256.8 391.5h0M250.8 395.9h0M261.8 412.6h0M260.0 387.9h0M263.1 407.3h0M258.8 406.1h0M266.2 396.5h0M260.4 400.7h0M269.3 417.7h0M258.9 409.3h0M269.0 409.4h0M269.8 400.4h0M267.5 420.2h0M267.9 398.5h0M266.5 414.0h0M273.4 393.4h0M265.7 403.5h0M253.2 413.6h0M264.6 394.0h0M266.5 400.1h0M247.9 398.0h0M264.0 408.8h0M263.2 404.0h0M265.5 401.9h0M270.7 404.8h0M264.2 408.0h0M254.2 397.8h0M273.3 406.3h0M259.9 406.4h0M258.4 405.9h0M257.1 405.9h0M250.3 414.5h0M258.2 390.6h0M260.3 400.6h0M263.1 394.2h0M264.9 433.3h0M252.5 406.4h0M259.7 405.2h0M248.6 394.2h0M265.4 403.3h0M274.1 397.8h0M263.3 427.5h0M256.3 396.2h0M261.7 403.2h0M268.2 404.7h0M256.4 405.3h0M281.5 414.0h0M241.4 402.4h0M260.7 419.4h0M268.9 410.9h0M263.4 403.3h0M264.5 414.2h0M266.0 400.7h0M271.4 405.2h0M261.4 397.1h0M257.8 398.4h0M241.3 411.9h0M269.7 407.2h0M264.7 383.3h0M273.9 418.7h0M272.6 394.1h0M245.7 408.3h0M250.9 407.3h0M258.7 406.5h0M265.4 402.6h0M264.3 403.5h0M267.6 407.7h0M258.0 398.8h0M274.9 402.8h0M257.8 397.5h0M262.9 405.7h0M266.5 393.2h0M257.6 402.8h0M273.8 384.2h0M265.2 399.2h0M265.2 399.6h0M264.7 416.4h0M264.6 407.2h0M264.8 397.4h0M266.0 401.9h0M256.0 403.3h0M260.3 409.8h0M261.7 399.3h0M272.8 411.7h0M271.4 408.6h0M261.2 400.2h0M259.9 411.4h0M262.8 391.4h0M261.7 392.0h0M263.2 393.7h0M252.6 404.6h0M261.4 390.0h0M267.5 421.3h0M251.0 418.5h0M260.7 391.7h0M271.6 407.6h0M256.4 401.3h0M250.8 400.7h0M268.9 389.5h0M258.8 404.8h0M269.8 414.7h0M258.6 397.5h0M265.3 400.6h0M259.7 412.5h0M274.5 405.8h0M260.6 408.3h0M248.0 403.5h0M254.2 423.2h0M260.6 383.0h0M267.3 417.0h0M267.3 390.9h0M263.7 403.1h0M267.8 391.0h0M262.7 412.2h0M252.8 411.7h0M258.9 386.5h0M261.2 395.6h0M264.4 394.0h0M259.6 413.4h0M263.6 400.4h0M252.7 413.1h0M267.4 400.9h0M263.8 395.2h0M254.5 396.8h0M264.6 406.0h0M256.5 409.6h0M267.8 405.0h0M269.7 401.2h0M261.2 407.5h0M261.7 410.1h0M252.7 415.3h0M256.2 402.2h0M251.8 408.5h0M271.4 412.4h0M268.2 390.8h0M256.2 399.8h0M255.1 412.8h0M265.6 395.8h0M255.3 396.4h0M265.7 406.4h0M252.0 399.0h0M263.1 392.5h0M258.1 411.9h0M270.2 412.4h0M262.3 401.9h0M270.0 400.5h0M264.5 414.5h0M259.3 398.6h0M261.9 408.5h0M265.6 404.9h0M266.1 390.5h0M255.6 404.9h0M255.1 392.6h0M253.1 396.1h0M260.7 395.2h0M263.7 417.5h0M260.9 414.1h0M264.1 394.4h0M260.1 395.5h0M267.7 394.1h0M271.8 408.3h0M247.0 410.0h0M273.5 397.1h0M269.3 388.9h0M263.9 390.0h0M265.6 388.9h0M242.5 406.8h0M278.9 398.7h0M268.1 404.5h0M259.6 408.6h0M274.2 393.5h0M266.2 406.4h0M251.5 416.8h0M276.4 395.8h0M274.9 404.1h0M260.8 415.9h0M263.7 406.3h0M268.6 392.1h0M250.4 412.8h0M255.1 404.8h0M254.1 402.1h0M252.5 417.0h0M254.5 402.6h0M260.6 413.5h0M251.5 403.3h0M260.5 407.9h0M265.5 399.8h0M263.8 400.5h0M265.5 402.8h0M257.1 403.4h0M264.7 422.2h0M258.4 406.1h0M272.8 386.6h0M249.1 393.9h0M261.2 423.6h0M260.4 383.4h0M244.9 412.0h0M263.4 393.0h0M270.3 391.0h0M270.4 415.5h0M256.3 394.5h0M268.2 394.6h0M268.4 393.8h0M258.8 396.3h0M263.8 388.1h0M267.0 393.3h0M274.7 401.0h0M253.6 415.0h0M274.3 402.1h0M255.4 403.7h0M256.9 401.0h0M273.5 406.8h0M263.1 406.4h0M261.6 410.5h0M268.5 400.6h0M262.8 423.4h0M265.1 402.1h0M277.2 403.7h0M253.9 409.1h0M255.3 399.5h0M257.6 413.2h0M256.7 398.9h0M277.1 399.1h0M273.0 414.4h0M260.9 392.0h0M265.4 409.1h0M269.2 404.2h0M270.9 415.0h0M254.2 415.3h0M263.3 399.0h0M259.6 419.0h0M269.3 388.9h0M262.6 402.5h0M260.7 399.4h0M251.2 410.7h0M255.0 400.6h0M257.5 397.6h0M267.5 406.7h0M257.0 395.9h0M258.5 411.5h0M262.9 405.5h0M259.6 401.5h0M263.6 388.5h0M273.9 397.1h0M257.8 414.6h0M263.6 403.9h0M257.7 390.8h0M263.4 413.4h0M255.3 414.8h0M253.7 397.6h0M265.7 403.6h0M267.1 397.5h0M254.4 388.3h0M253.1 394.8h0M251.4 406.1h0M257.1 387.3h0M280.4 396.8h0M252.7 413.8h0M270.6 394.2h0M251.1 395.4h0M270.4 401.0h0M256.0 403.4h0M270.9 392.2h0M259.2 392.3h0M278.1 418.5h0M269.0 402.5h0M266.9 386.4h0M264.0 392.6h0M252.2 397.8h0M259.4 408.3h0M267.2 405.8h0M255.0 409.1h0M261.1 413.3h0M255.2 380.9h0M258.5 421.2h0M265.5 402.0h0M265.4 399.4h0M262.6 405.2h0M257.2 394.4h0M263.0 411.5h0M266.8 407.7h0M265.7 424.8h0M263.9 412.1h0M276.5 404.0h0M264.0 412.2h0M264.7 404.3h0M253.1 412.8h0M260.1 389.5h0M260.9 389.4h0M255.2 412.4h0M251.2 405.8h0M266.2 415.6h0M268.9 405.6h0M270.5 398.3h0M265.9 402.9h0M263.9 401.5h0M277.9 398.3h0M264.0 406.0h0M265.2 411.7h0M250.9 403.8h0M253.0 405.6h0M253.3 395.8h0M261.6 415.2h0M266.4 406.1h0M272.5 396.0h0M246.6 400.2h0M260.0 413.8h0M277.9 392.8h0M280.4 416.5h0M268.3 406.7h0M280.1 404.4h0M258.6 404.9h0M252.0 407.6h0M264.8 395.0h0M271.8 395.4h0M268.7 390.7h0M264.9 397.0h0M262.4 398.4h0M246.0 394.6h0M262.6 408.8h0M251.2 386.3h0M255.7 402.0h0M257.4 397.1h0M267.6 396.0h0M262.7 402.1h0M251.6 411.0h0M262.8 399.7h0M272.6 410.0h0M268.4 413.6h0M267.4 393.3h0M259.2 411.9h0M256.4 404.0h0M265.1 415.5h0M271.7 411.1h0M260.7 411.2h0M272.1 407.8h0M256.5 414.1h0M260.2 408.6h0M255.1 395.7h0M247.9 421.3h0M261.0 405.6h0M270.3 402.7h0M265.9 392.5h0M263.5 400.3h0M265.8 405.2h0M251.8 388.5h0M254.6 409.7h0M265.2 407.0h0M247.1 381.6h0M257.4 400.9h0M257.6 406.6h0M260.8 393.9h0M255.5 404.8h0M262.6 403.0h0M278.8 401.5h0M262.9 395.5h0M259.4 407.9h0M266.2 402.3h0M264.9 404.1h0M248.1 376.7h0M279.1 410.4h0M261.6 389.3h0M252.6 414.7h0M241.4 400.9h0M268.4 404.8h0M267.6 402.5h0M279.7 395.2h0M251.9 405.9h0M272.6 403.1h0M269.8 399.2h0M253.2 415.1h0M273.6 416.2h0M258.8 394.1h0M253.3 401.8h0M266.3 407.8h0M251.4 405.2h0M262.1 404.3h0M261.8 401.9h0M266.4 404.6h0M263.7 397.9h0M264.9 402.6h0M246.3 407.6h0M260.0 411.2h0M263.6 403.5h0M258.7 388.9h0M275.6 390.7h0M259.5 409.0h0M267.7 414.0h0M264.2 427.4h0M254.5 405.5h0M259.3 399.1h0M264.1 415.6h0M256.7 397.8h0M267.4 408.1h0M276.5 412.0h0M263.7 400.9h0M263.6 402.2h0M251.9 403.7h0M260.7 401.7h0M258.8 417.5h0M257.5 395.2h0M259.4 402.1h0M269.1 406.1h0M254.7 400.1h0M257.1 405.1h0M253.4 402.1h0M267.1 403.8h0M255.2 398.5h0M262.9 407.6h0M252.3 415.3h0M264.3 395.1h0M259.6 405.7h0M269.6 404.1h0M238.9 401.6h0M264.6 414.2h0M267.3 424.0h0M272.5 414.7h0M269.0 392.3h0M268.3 408.5h0M265.1 399.8h0M261.1 401.4h0M263.7 400.1h0M266.0 387.9h0M259.9 389.8h0M258.4 407.8h0M262.2 402.7h0M262.5 416.5h0M253.8 410.9h0M250.8 399.8h0M263.5 409.6h0M259.2 387.7h0M260.6 397.1h0M271.9 396.4h0M274.6 399.2h0M276.3 408.0h0M268.7 415.1h0M274.8 400.8h0M252.7 381.7h0M259.1 409.8h0M264.8 404.5h0M259.4 398.4h0M248.9 409.6h0M251.2 402.3h0M257.3 400.6h0M254.2 394.1h0M260.3 394.7h0M280.2 400.1h0M257.1 399.0h0M254.0 383.4h0M260.1 406.1h0M250.8 403.6h0M264.6 407.5h0M265.2 397.8h0M268.5 399.9h0M264.5 409.3h0M259.7 393.0h0M266.5 394.4h0M255.3 394.5h0M268.2 402.2h0M277.3 418.3h0M257.7 404.2h0M262.2 394.5h0M252.1 400.5h0M263.9 403.5h0M265.8 410.0h0M265.9 402.6h0M251.9 408.6h0M272.3 419.7h0M261.7 403.2h0M272.6 415.3h0M264.4 409.3h0M256.3 408.3h0M255.8 402.3h0M261.0 399.6h0M246.3 396.7h0M264.4 403.0h0M259.0 407.0h0M267.0 410.4h0M255.9 403.7h0M259.4 396.3h0M255.4 421.1h0M261.1 401.6h0M258.9 418.8h0M254.9 402.1h0M256.2 402.4h0M261.6 412.5h0M273.8 399.3h0M260.6 396.2h0M242.5 402.6h0M270.6 399.6h0M248.2 405.6h0M262.5 411.7h0M268.6 401.2h0M264.8 388.7h0M270.1 405.0h0M269.9 412.2h0M259.7 402.2h0M255.4 386.5h0M260.9 404.7h0M253.8 409.3h0M262.6 407.2h0M256.2 389.0h0M261.1 400.0h0M259.8 402.3h0M258.1 387.0h0M267.7 391.2h0M259.4 400.9h0M263.8 390.2h0M267.6 413.9h0M256.0 377.8h0M264.4 414.3h0M270.5 399.1h0M261.3 405.9h0M257.1 416.4h0M262.1 389.8h0M278.4 395.6h0M266.6 417.6h0M258.0 393.5h0M269.7 404.1h0M252.9 394.7h0M259.1 411.5h0M259.9 409.0h0M274.2 414.0h0M272.6 413.7h0M250.1 413.6h0M264.4 402.6h0M254.0 390.6h0M253.8 403.4h0M253.3 396.9h0M259.8 402.4h0M271.8 401.0h0M266.4 394.9h0M264.4 404.6h0M275.7 415.0h0M267.5 416.3h0M271.3 426.7h0M280.7 409.2h0M278.8 414.9h0M277.6 414.8h0M264.5 426.5h0M277.6 409.0h0M266.5 415.8h0M278.7 430.1h0M272.1 429.3h0M282.4 415.2h0M263.2 425.3h0M278.7 437.0h0M284.2 424.7h0M286.0 410.4h0M275.8 416.5h0M286.4 423.0h0M253.7 429.3h0M268.4 424.7h0M271.3 420.6h0M278.9 420.2h0M268.1 429.6h0M277.3 418.6h0M279.4 414.5h0M287.4 420.5h0M277.1 421.4h0M268.4 409.6h0M276.1 421.5h0M283.8 422.3h0M267.2 422.9h0M280.3 426.6h0M276.9 409.2h0M278.5 406.5h0M279.8 412.6h0M282.0 432.5h0M282.6 409.6h0M268.2 411.9h0M279.1 421.4h0M275.7 421.1h0M278.6 423.8h0M286.1 418.3h0M276.0 404.2h0M265.6 413.3h0M266.5 420.4h0M281.7 415.3h0M271.3 414.7h0M275.4 414.4h0M277.5 421.0h0M276.9 424.6h0M286.5 418.3h0M271.4 415.0h0M268.9 418.7h0M282.8 417.5h0M282.2 420.7h0M280.4 413.8h0M275.5 439.1h0M280.1 426.4h0M276.1 425.3h0M266.6 411.9h0M277.4 425.0h0M271.7 417.1h0M272.0 417.1h0M266.3 407.4h0M273.9 405.0h0M267.8 413.4h0M267.3 420.4h0M271.4 417.8h0M267.5 412.7h0M277.9 421.3h0M271.2 421.3h0M285.2 415.3h0M277.2 421.7h0M272.7 409.3h0M279.0 420.4h0M274.6 418.5h0M274.4 411.3h0M276.2 404.2h0M271.8 423.8h0M272.4 414.5h0M277.7 416.1h0M271.4 415.1h0M284.4 423.4h0M277.4 408.9h0M278.3 408.1h0M277.4 409.5h0M287.4 405.0h0M282.4 424.4h0M262.0 416.3h0M283.9 427.0h0M262.8 414.1h0M269.7 432.5h0M275.0 416.3h0M271.8 423.3h0M278.8 410.9h0M284.0 409.7h0M272.2 421.6h0M285.7 415.4h0M276.0 428.3h0M278.3 426.9h0M281.1 420.1h0M278.3 425.2h0M273.9 430.6h0M260.6 410.9h0M283.9 421.4h0M269.7 421.0h0M281.4 413.7h0M279.3 417.1h0M273.3 417.6h0M281.6 409.4h0M271.6 423.3h0M265.8 405.8h0M277.9 418.1h0M267.5 440.8h0M267.4 414.7h0M264.4 414.9h0M284.4 418.3h0M286.4 419.4h0M265.6 424.1h0M271.6 422.8h0M275.0 420.2h0M263.9 425.7h0M273.1 420.3h0M265.4 429.0h0M268.7 415.1h0M271.5 416.4h0M273.6 413.2h0M270.1 418.0h0M285.9 419.7h0M275.1 413.0h0M281.0 410.1h0M278.2 409.1h0M282.8 417.9h0M263.7 416.3h0M286.1 411.3h0M265.1 422.0h0M282.9 426.0h0M271.8 419.5h0M276.2 427.2h0M288.6 417.2h0M282.8 415.4h0M278.0 410.8h0M268.8 421.3h0M267.9 425.0h0M270.3 418.6h0M273.4 415.4h0M274.9 426.5h0M295.1 408.8h0M267.8 420.3h0M268.0 417.4h0M282.4 402.3h0M275.7 421.5h0M267.5 422.1h0M276.4 415.3h0M278.4 416.2h0M266.8 416.7h0M271.6 424.4h0M263.8 416.5h0M270.9 430.3h0M266.4 426.3h0M262.1 420.7h0M273.1 421.0h0M269.2 402.8h0M263.5 428.2h0M275.4 411.2h0M280.1 412.2h0M268.9 408.5h0M281.9 433.2h0M267.4 420.2h0M280.6 434.4h0M257.6 419.0h0M278.3 406.4h0M276.7 419.4h0M278.8 413.3h0M276.7 413.1h0M278.0 419.1h0M271.3 406.8h0M285.1 426.5h0M279.8 412.7h0M271.5 430.9h0M278.9 411.2h0M274.2 419.0h0M282.4 422.5h0M272.5 405.6h0M269.9 417.9h0M279.8 415.0h0M281.4 419.0h0M268.9 396.2h0M283.4 417.9h0M266.1 436.3h0M272.2 407.5h0M278.3 420.9h0M284.8 426.6h0M279.9 427.9h0M272.1 414.6h0M273.1 415.5h0M278.6 418.0h0M261.1 418.4h0M283.7 403.8h0M268.9 418.3h0M265.1 413.9h0M274.5 407.9h0M276.1 421.4h0M281.5 416.8h0M277.1 423.3h0M272.6 425.9h0M276.8 410.5h0M277.8 425.0h0M279.7 413.3h0M277.4 429.0h0M275.8 427.6h0M283.1 418.1h0M278.8 416.1h0M281.6 417.7h0M270.6 418.2h0M273.8 421.4h0M277.5 409.3h0M269.9 421.2h0M292.3 427.2h0M273.9 424.2h0M262.5 419.3h0M274.8 435.2h0M262.0 430.6h0M273.4 425.8h0M272.5 420.0h0M282.2 419.3h0M281.7 418.0h0M283.8 409.5h0M263.3 418.5h0M286.0 426.9h0M283.6 428.5h0M269.6 419.7h0M256.5 414.0h0M278.8 406.6h0M260.6 408.6h0M292.3 430.0h0M264.4 400.7h0M275.7 427.1h0M263.7 414.8h0M271.7 419.2h0M273.6 423.0h0M282.0 419.6h0M280.0 434.6h0M267.9 410.9h0M278.4 433.5h0M276.1 427.6h0M272.9 426.3h0M270.7 424.4h0M277.7 422.3h0M284.4 427.6h0M271.0 426.2h0M263.5 427.0h0M293.8 423.5h0M278.6 419.9h0M280.9 415.9h0M279.8 417.3h0M272.4 420.5h0M274.9 406.0h0M289.4 420.6h0M263.8 428.0h0M275.1 421.2h0M280.2 412.6h0M277.0 427.4h0M270.2 417.5h0M278.1 417.1h0M273.7 421.6h0M268.6 431.9h0M269.1 419.9h0M273.1 414.0h0M279.0 427.5h0M285.2 424.1h0M272.3 426.3h0M265.5 419.9h0M278.9 423.9h0M267.5 407.8h0M286.6 415.5h0M275.3 428.6h0M275.2 428.8h0M276.7 423.1h0M281.9 416.4h0M277.2 416.3h0M270.8 424.4h0M269.5 419.9h0M269.7 418.6h0M271.5 427.8h0M275.6 419.8h0M286.2 396.6h0M267.4 397.7h0M274.9 422.5h0M279.3 421.1h0M268.9 432.7h0M276.9 416.9h0M267.2 422.2h0M271.4 415.4h0M276.2 420.6h0M269.2 428.6h0M267.9 410.1h0M276.8 419.8h0M275.2 415.6h0M275.0 414.4h0M263.4 424.5h0M267.8 417.0h0M279.6 418.9h0M293.3 407.8h0M269.5 419.4h0M283.8 416.8h0M264.9 427.6h0M268.3 417.2h0M280.6 413.5h0M271.5 422.5h0M273.2 420.9h0M268.1 417.7h0M267.1 406.5h0M286.5 422.2h0M280.8 411.1h0M274.3 417.0h0M264.9 422.9h0M269.6 417.1h0M264.2 426.4h0M279.7 421.7h0M268.3 414.4h0M282.8 416.5h0M276.3 419.7h0M266.9 430.5h0M261.0 420.4h0M273.9 406.0h0M274.9 412.2h0M277.6 427.3h0M276.0 432.1h0M284.0 413.5h0M271.0 422.7h0M278.1 430.4h0M276.0 416.5h0M272.1 415.2h0M280.7 415.0h0M272.2 420.0h0M271.1 416.9h0M259.8 421.7h0M291.1 420.2h0M276.1 405.1h0M279.2 422.4h0M272.7 421.3h0M283.9 416.9h0M269.2 430.0h0M277.2 418.3h0M291.1 421.0h0M274.3 421.8h0M272.8 421.4h0M276.5 414.6h0M278.1 424.2h0M280.8 421.6h0M278.9 416.7h0M273.6 427.7h0M261.9 422.5h0M296.8 405.1h0M285.5 405.7h0M277.7 432.0h0M285.2 412.2h0M266.2 408.0h0M279.9 416.1h0M275.0 421.1h0M277.7 423.2h0M275.7 406.5h0M284.7 397.6h0M283.2 414.3h0M273.5 414.9h0M272.9 410.4h0M283.9 417.7h0M270.0 422.3h0M280.8 411.7h0M272.8 430.0h0M268.0 412.3h0M275.9 409.4h0M258.0 405.9h0M277.3 424.0h0M278.8 421.9h0M266.4 424.2h0M282.6 413.4h0M281.2 416.0h0M276.1 421.8h0M264.7 430.3h0M268.9 418.1h0M271.4 422.5h0M277.7 419.1h0M284.4 421.1h0M272.1 396.5h0M272.9 416.7h0M268.9 412.2h0M278.8 427.1h0M287.7 427.8h0M265.5 424.6h0M274.1 417.0h0M270.5 429.2h0M295.9 425.4h0M282.0 420.2h0M272.4 436.1h0M274.0 423.5h0M274.5 423.6h0M266.2 418.1h0M284.1 410.9h0M270.3 429.6h0M277.5 427.3h0M259.6 420.1h0M266.1 408.1h0M277.6 428.2h0M264.6 410.3h0M270.8 417.9h0M265.7 436.6h0M278.8 416.1h0M271.2 437.1h0M290.0 415.1h0M277.1 428.7h0M266.7 414.3h0M283.9 413.4h0M271.8 408.3h0M269.5 424.2h0M269.1 408.6h0M270.4 432.7h0M275.9 414.4h0M275.7 422.2h0M275.5 404.6h0M276.7 417.0h0M280.4 408.1h0M281.8 414.8h0M262.9 429.1h0M271.0 421.6h0M273.4 427.2h0M282.1 427.4h0M279.4 405.9h0M263.0 420.2h0M268.0 422.3h0M275.6 407.5h0M267.4 409.7h0M268.4 417.0h0M279.2 429.1h0M267.8 414.2h0M285.1 425.6h0M276.1 400.1h0M267.6 419.8h0M270.4 434.2h0M275.1 420.8h0M266.9 410.4h0M269.9 413.6h0M272.9 421.5h0M276.1 426.5h0M265.2 420.2h0M276.1 431.1h0M273.0 421.1h0M268.9 421.9h0M277.2 413.6h0M271.5 418.3h0M278.5 409.5h0M280.6 416.0h0M287.5 430.1h0M271.7 413.6h0M291.4 423.5h0M278.4 415.2h0M273.6 424.9h0M278.7 412.1h0M283.0 421.0h0M267.9 426.4h0M273.3 424.8h0M270.7 421.4h0M263.3 421.5h0M264.0 419.9h0M257.1 418.1h0M279.5 422.4h0M282.7 410.1h0M285.3 431.2h0M266.2 412.3h0M270.6 418.4h0M275.8 399.1h0M278.6 416.6h0M267.5 426.1h0M272.1 427.5h0M278.1 416.1h0M282.5 424.9h0M271.0 405.9h0M270.7 423.4h0M272.8 432.4h0M276.3 420.1h0M277.2 411.6h0M273.6 413.4h0M258.4 404.6h0M279.5 415.1h0M273.6 406.9h0M270.4 424.7h0M275.1 414.5h0M285.0 418.1h0M272.1 427.6h0M262.6 422.9h0M266.8 412.4h0M269.8 419.6h0M275.9 429.6h0M286.0 424.1h0M279.7 415.6h0M266.9 423.2h0M274.7 425.3h0M262.0 439.6h0M281.3 407.7h0M270.7 402.7h0M264.7 403.3h0M275.2 420.9h0M272.3 428.5h0M284.0 418.5h0M273.0 416.4h0M271.4 428.9h0M276.1 416.0h0M272.9 422.9h0M271.8 421.1h0M274.3 429.2h0M282.4 407.5h0M273.4 424.2h0M271.4 425.0h0M276.8 423.3h0M274.1 421.0h0M278.1 407.1h0M286.0 421.0h0M277.1 420.0h0M271.0 412.8h0M280.3 415.7h0M285.3 420.2h0M275.2 416.9h0M274.0 418.9h0M284.9 437.0h0M266.6 420.6h0M279.4 411.6h0M270.2 415.1h0M258.1 423.8h0M274.2 417.9h0M275.1 420.6h0M290.4 420.1h0M280.3 414.6h0M277.0 416.2h0M273.5 411.6h0M269.0 422.3h0M270.0 421.2h0M257.3 426.1h0M274.3 420.8h0M282.5 415.4h0M281.1 415.3h0M278.3 415.6h0M276.7 430.1h0M270.2 414.0h0M272.4 421.1h0M293.4 414.3h0M260.7 413.7h0M263.9 414.4h0M274.8 411.3h0M270.0 404.2h0M275.9 413.0h0M282.1 427.1h0M268.8 415.9h0M275.1 424.8h0M263.3 418.3h0M292.2 410.4h0M270.9 411.6h0M252.4 424.0h0M277.5 421.9h0M243.3 417.9h0M260.4 413.7h0M258.8 400.4h0M280.5 411.6h0M264.4 408.0h0M269.2 411.5h0M237.3 400.4h0M265.1 421.5h0M286.0 399.7h0M293.5 413.1h0M274.7 405.0h0M260.5 430.7h0M265.6 410.7h0M283.5 434.5h0M249.0 409.6h0M268.4 435.8h0M300.7 411.5h0M273.5 423.5h0M283.6 408.1h0M279.8 403.2h0M233.9 394.4h0M271.6 422.6h0M239.4 388.9h0M276.2 426.0h0M230.1 422.6h0M266.5 431.1h0M272.7 409.6h0M270.7 425.0h0M271.6 413.3h0M250.4 419.1h0M269.6 436.8h0M269.1 411.7h0M261.1 422.3h0M266.7 403.7h0M290.2 436.2h0M263.5 399.6h0M284.1 402.1h0M306.2 411.2h0M282.0 396.1h0M269.0 427.3h0M275.2 406.0h0M301.5 422.7h0M266.5 405.2h0M266.0 430.7h0M259.4 413.5h0M258.8 429.5h0M267.4 424.4h0M276.9 405.5h0M278.7 425.4h0M254.5 422.3h0M277.9 395.7h0M275.5 405.4h0M279.6 412.5h0M254.1 427.5h0M270.4 400.5h0M274.7 412.3h0M264.7 421.9h0M252.8 425.9h0M243.2 434.2h0M271.9 409.7h0M259.9 420.3h0M267.4 410.8h0M266.4 418.8h0M271.6 413.7h0M279.3 432.7h0M257.3 411.4h0M268.9 420.9h0M289.2 412.9h0M272.3 428.0h0M253.2 403.0h0M263.6 413.0h0M272.5 406.3h0M292.6 403.8h0M266.8 427.4h0M279.7 412.9h0M274.4 423.8h0M269.3 421.6h0M257.4 414.0h0M247.8 401.2h0M254.3 429.4h0M263.3 416.9h0M257.1 410.2h0M265.6 401.6h0M280.6 390.9h0M258.4 413.2h0M248.6 412.4h0M246.2 420.9h0M262.5 388.2h0M251.8 391.5h0M265.1 423.7h0M263.5 396.7h0M257.6 413.8h0M236.4 419.9h0M273.8 379.5h0M284.0 390.3h0M265.5 427.5h0M246.5 387.3h0M253.3 397.4h0M266.3 404.7h0M261.5 405.3h0M265.6 400.3h0M272.4 411.6h0M254.5 435.8h0M251.1 421.4h0M258.1 416.4h0M287.0 400.6h0M306.1 417.2h0M257.4 393.8h0M299.4 433.7h0M268.1 422.1h0M285.9 413.3h0M262.8 411.6h0M279.6 412.4h0M252.1 422.1h0M245.6 402.1h0M285.0 415.3h0M282.2 411.4h0M242.6 415.3h0M227.7 384.8h0M289.5 425.9h0M262.3 411.1h0M269.6 425.4h0M258.2 400.3h0M260.1 413.9h0M278.5 398.4h0M267.4 402.8h0M255.0 428.3h0M264.2 398.6h0M269.0 398.7h0M276.4 423.3h0M282.1 398.0h0M266.5 436.6h0M265.6 428.9h0M288.7 393.7h0M284.6 422.1h0M280.1 434.5h0M274.6 413.1h0M276.6 407.5h0M275.1 385.3h0M291.5 405.0h0M275.7 416.2h0M269.9 413.6h0M269.3 390.3h0M261.2 427.9h0M254.9 398.0h0M296.6 428.1h0M289.2 411.9h0M272.0 422.2h0M249.0 402.3h0M248.4 432.9h0M263.0 409.5h0M272.1 412.1h0M275.3 403.6h0M248.0 435.0h0M258.7 405.5h0M268.4 421.6h0M254.1 415.5h0M259.1 427.5h0M251.7 412.9h0M277.4 393.6h0M269.4 413.5h0M257.4 408.7h0M281.0 414.7h0M262.4 408.7h0M273.8 428.2h0M278.3 421.1h0M288.4 391.1h0M248.9 381.5h0M278.7 381.3h0M267.2 421.2h0M249.4 402.6h0M264.2 420.9h0M247.8 415.4h0M276.8 413.1h0M269.7 427.6h0M263.2 419.7h0M263.8 419.7h0M268.9 426.0h0M257.2 412.2h0M272.1 416.6h0M282.4 416.3h0M279.4 436.8h0M278.6 397.4h0M248.9 419.9h0M262.6 415.0h0M265.3 428.2h0M283.2 396.4h0M271.1 407.2h0M250.5 419.6h0M265.7 416.9h0M299.8 428.4h0M281.9 405.8h0M252.1 427.4h0M262.6 412.4h0M298.9 407.0h0M263.8 413.8h0M271.2 395.5h0M244.4 403.5h0M264.7 400.8h0M254.4 398.7h0M246.1 403.7h0M271.9 409.2h0M249.5 406.2h0M246.0 419.7h0M261.1 413.4h0M276.0 399.4h0M256.6 409.2h0M276.5 403.6h0M248.7 401.6h0M272.0 425.7h0M260.4 406.4h0M254.7 404.8h0M269.7 411.9h0M267.2 397.5h0M259.8 401.3h0M280.5 429.4h0M271.4 431.2h0M263.1 406.8h0M250.2 413.5h0M261.1 411.8h0M273.3 407.5h0M266.1 411.0h0M263.6 433.0h0M280.9 409.5h0M272.0 421.6h0M298.2 407.6h0M269.2 406.3h0M268.3 406.0h0M253.5 424.1h0M269.0 427.5h0M260.9 414.4h0M275.9 386.9h0M250.5 420.7h0M268.8 387.5h0M258.0 397.6h0M261.3 431.0h0M260.2 396.5h0M299.8 428.1h0M289.0 433.4h0M228.6 395.0h0M275.6 414.4h0M281.8 401.7h0M279.0 426.5h0M277.4 428.3h0M270.8 413.0h0M233.3 415.4h0M267.1 414.9h0M254.6 420.1h0M280.1 397.7h0M273.6 425.6h0M282.7 393.6h0M244.2 411.3h0M248.5 395.6h0M280.1 401.6h0M244.2 400.3h0M230.3 393.0h0M261.7 408.3h0M246.3 412.1h0M261.4 385.9h0M278.5 396.1h0M272.9 392.0h0M270.8 406.9h0M265.5 418.5h0M273.8 412.1h0M267.8 385.2h0M259.4 437.0h0M278.7 429.8h0M257.6 417.4h0M289.6 419.0h0M244.5 392.5h0M233.5 417.0h0M258.8 396.8h0M272.5 398.7h0M274.7 396.6h0M274.7 387.6h0M288.3 378.4h0M255.4 405.2h0M257.2 388.3h0M230.2 399.4h0M269.6 427.2h0M257.6 416.7h0M257.7 420.8h0M251.6 398.9h0M249.9 397.4h0M275.9 415.3h0M252.4 406.7h0M256.9 421.6h0M285.4 422.5h0M268.8 427.7h0M271.5 436.7h0M248.0 429.5h0M274.2 406.5h0M250.8 393.4h0M304.8 433.1h0M268.0 413.8h0M249.6 375.4h0M226.3 398.6h0M262.1 387.9h0M283.0 419.9h0M269.0 376.8h0M257.0 440.4h0M289.9 418.6h0M270.4 424.9h0M297.6 411.4h0M260.4 421.1h0M256.5 409.8h0M261.4 416.5h0M267.8 411.4h0M262.6 418.7h0M254.3 428.8h0M228.5 414.0h0M275.4 385.9h0M256.0 435.2h0M262.6 393.3h0M267.7 421.7h0M268.4 397.1h0M282.1 420.6h0M248.7 401.1h0M295.8 391.9h0M281.9 441.0h0M279.9 414.9h0M295.5 416.8h0M265.3 406.2h0M290.8 423.3h0M299.5 403.7h0M258.6 401.8h0M271.7 396.9h0M285.9 416.5h0M225.3 437.4h0M264.1 412.9h0M256.1 417.6h0M229.5 411.3h0M280.9 419.1h0M262.7 385.7h0M283.0 404.7h0M265.0 408.6h0M255.1 396.3h0M252.4 385.5h0M270.9 406.7h0M287.8 375.6h0M291.2 408.7h0M261.8 394.7h0M247.4 381.6h0M285.2 405.9h0M281.2 425.7h0M257.8 429.5h0M281.3 408.6h0M293.0 436.7h0M240.3 426.5h0M271.6 426.6h0M239.0 414.7h0M243.9 403.8h0M296.7 407.5h0M240.4 429.4h0M250.1 380.5h0M290.1 414.9h0M273.0 394.9h0M296.9 407.8h0M222.1 388.5h0M282.3 396.3h0M267.3 400.1h0M266.2 386.3h0M277.3 428.5h0M252.7 429.1h0M259.1 415.6h0M249.2 394.9h0M232.5 414.3h0M259.2 405.3h0M240.7 387.9h0M251.6 419.0h0M272.1 397.1h0M275.0 435.4h0M253.9 432.4h0M239.4 414.7h0M235.5 431.6h0M276.3 434.7h0M271.0 399.2h0M254.4 401.5h0M248.6 391.8h0M292.8 418.5h0M251.0 402.0h0M286.8 417.3h0M269.7 386.7h0M255.8 388.4h0M223.2 427.0h0M258.1 402.1h0M244.2 424.3h0M285.8 386.3h0M269.2 414.1h0M298.1 410.1h0M244.6 408.7h0M255.7 437.4h0M279.9 416.4h0M269.2 426.0h0M254.5 392.5h0M223.9 432.4h0M276.4 422.1h0M266.2 441.5h0M243.6 432.7h0M238.4 411.5h0M258.8 418.0h0M252.2 383.3h0M277.6 434.2h0M281.3 408.7h0M273.9 377.4h0M257.7 431.7h0M275.1 393.4h0M283.8 407.1h0M281.1 382.9h0M253.4 415.8h0M271.6 420.2h0M264.8 405.9h0M275.4 426.1h0M231.7 403.6h0M260.5 412.7h0M287.3 384.5h0M276.7 376.8h0M248.4 399.8h0M259.1 398.1h0M253.7 403.2h0M259.1 374.7h0M234.3 401.4h0M276.6 428.7h0M247.8 413.1h0M280.0 412.3h0M241.8 407.8h0M264.1 383.1h0M238.6 432.4h0M259.3 435.9h0M278.4 393.4h0M292.6 399.1h0M263.3 424.4h0M269.1 392.7h0M276.7 449.8h0M277.7 450.4h0M277.4 455.1h0M278.8 442.6h0"/>
<path stroke="#f4dc2a" stroke-width="1.7" stroke-linecap="round" d="M260.9 409.2h0M248.9 406.4h0M254.6 413.9h0M257.7 409.4h0M261.9 401.9h0M265.5 405.7h0M268.1 417.3h0M251.1 401.8h0M264.7 399.0h0M255.5 408.7h0M266.2 401.8h0M260.3 408.0h0M262.2 411.5h0M261.1 405.4h0M269.3 406.8h0M256.9 399.5h0M267.3 404.8h0M256.6 409.2h0M268.9 414.7h0M269.8 397.5h0M264.6 398.7h0M263.4 403.4h0M266.3 412.4h0M273.2 414.2h0M264.9 413.5h0M268.0 404.4h0M260.0 400.4h0M264.4 402.6h0M256.4 399.1h0M268.5 407.7h0M274.5 406.2h0M254.6 403.8h0M262.7 403.2h0M266.6 407.4h0M261.3 406.4h0M268.4 411.6h0M266.0 402.4h0M250.8 403.5h0M260.8 402.8h0M264.8 408.3h0M267.2 411.3h0M259.9 405.6h0M268.2 402.4h0M264.2 406.9h0M258.1 408.4h0M263.2 396.6h0M253.2 403.0h0M265.4 410.2h0M259.9 406.8h0M253.0 403.2h0M245.3 409.6h0M265.7 410.8h0M267.5 408.6h0M250.8 402.7h0M251.4 403.3h0M267.6 408.5h0M270.8 408.8h0M248.6 398.1h0M257.2 416.5h0M257.4 409.1h0M261.6 414.4h0M282.5 413.0h0M274.7 419.8h0M279.9 419.0h0M270.4 415.3h0M275.6 419.7h0M274.1 406.6h0M266.1 410.1h0M273.1 419.2h0M278.1 414.3h0M275.0 411.0h0M270.9 402.3h0M264.1 414.0h0M276.2 417.0h0M263.0 410.5h0M276.1 416.7h0M282.3 407.8h0M272.5 410.5h0M265.9 406.3h0M272.9 420.6h0M276.1 415.9h0M273.7 408.4h0M265.5 418.4h0M277.6 419.1h0M283.5 421.3h0M271.8 416.9h0M271.1 417.7h0M276.1 427.9h0M255.3 418.8h0M264.1 409.8h0M276.8 422.7h0M280.4 424.6h0M282.3 420.0h0M272.6 420.3h0M277.2 404.4h0M273.7 422.1h0M272.3 418.8h0M280.5 414.4h0M270.0 420.9h0M277.2 414.2h0M272.3 422.0h0M275.2 420.9h0M265.8 418.8h0M268.2 410.6h0M279.7 422.3h0M271.5 413.7h0M266.7 399.8h0M283.1 407.4h0M283.6 411.2h0M275.0 423.1h0M271.6 413.5h0M271.9 406.8h0M275.9 410.9h0M257.6 404.5h0M270.5 410.9h0M263.6 411.7h0M262.2 409.4h0M266.9 420.8h0M264.7 408.8h0M252.5 410.0h0M275.7 407.9h0M255.0 405.0h0M271.1 401.5h0M240.8 396.2h0M272.1 411.2h0M273.4 410.4h0M260.8 409.5h0M264.1 409.5h0M254.4 405.5h0M268.3 413.2h0M247.0 407.0h0M246.6 401.2h0"/>
<path d="M367.2 463.1L362.1 462.8M387.2 429.5L380.8 434.5M373.2 462.2L370.9 465.9M378.6 441.6L377.2 434.0M364.4 440.0L362.5 438.5M361.5 441.6L359.4 434.6M355.4 447.6L361.1 453.1M364.0 436.2L359.1 433.1M366.1 438.5L373.5 443.4M337.2 449.9L343.4 447.1M361.0 432.9L362.3 438.0M351.4 443.0L352.7 447.5M366.6 451.8L366.6 443.4M366.3 458.6L366.6 458.7M357.9 436.5L357.6 438.8M349.5 445.9L354.6 440.7M377.3 434.5L377.2 434.0M370.9 435.5L365.0 441.5M367.7 459.3L361.6 461.8M374.7 453.7L382.8 451.9M379.3 450.0L383.8 453.7M349.8 442.3L352.0 441.4M350.9 465.8L352.9 465.9M337.7 440.0L346.6 441.4M340.1 450.3L347.7 448.0M374.3 443.8L373.7 450.6M364.8 450.6L365.0 454.0M332.1 453.8L328.3 449.7M374.7 468.0L375.9 459.8M353.5 438.5L354.3 443.2M376.0 452.6L379.7 454.3M380.9 465.5L377.7 458.6M361.5 450.6L366.2 449.2M358.5 443.6L365.1 445.8M368.1 427.3L365.0 434.9M376.2 463.4L371.1 460.4M361.4 443.6L358.2 451.9M367.7 456.5L366.7 448.5M370.8 464.1L374.7 468.0M373.6 473.6L375.0 465.6M355.3 443.0L363.1 441.2M365.1 445.8L366.1 443.2M365.1 446.2L363.4 448.7M346.8 473.4L353.3 474.2M382.0 452.7L382.4 449.6M370.3 466.2L366.9 468.0M360.1 444.8L361.4 447.2M369.4 438.0L365.9 435.9M372.2 462.6L373.0 456.3M351.7 433.1L354.1 432.9M368.4 455.5L365.7 461.6M355.3 452.4L348.9 452.0M380.9 465.5L381.2 462.8M355.7 437.9L359.8 438.0M371.9 457.6L376.9 454.5M388.2 459.0L384.1 458.6M366.1 429.3L362.6 426.5M363.4 437.1L361.9 444.8M367.3 439.0L368.6 438.8M368.6 437.6L370.9 434.9M394.3 455.2L392.2 452.7M376.2 466.7L380.0 464.1M369.5 463.4L368.7 456.3M370.3 469.3L364.3 463.0M349.3 458.0L355.3 452.5M378.9 472.9L374.9 469.5M363.6 444.3L369.6 445.3M376.9 462.6L375.0 465.6M367.1 444.4L361.5 441.6M373.0 457.4L374.5 459.9M366.1 429.3L366.7 437.2M371.6 450.1L370.5 442.4M356.8 436.0L353.3 430.9M375.5 468.5L369.5 462.8M377.3 447.9L378.5 454.0M358.2 475.4L352.7 470.8M355.8 434.3L363.1 433.5M344.4 440.5L341.3 445.2M377.4 458.3L371.1 460.4M373.1 440.5L367.1 444.4M357.8 445.4L361.5 441.6M377.7 455.1L373.8 461.5M358.8 452.2L363.0 459.3M370.5 449.5L365.6 450.8M362.6 458.1L369.4 456.8M362.6 428.6L360.6 433.1M355.8 478.8L352.7 470.8M363.1 433.5L368.1 428.7M352.9 435.1L346.6 441.4M380.8 458.6L374.9 464.9M363.9 459.9L360.4 453.6M352.6 449.3L354.2 442.1M366.2 439.3L363.6 446.7M355.3 448.2L359.7 443.1M376.6 463.4L380.9 465.8M322.0 465.4L328.9 461.0M357.4 440.2L356.7 441.2M334.3 470.0L342.0 472.6M377.5 468.2L375.9 467.1M377.6 481.0L379.4 472.8M381.2 445.9L375.3 442.0M367.7 460.3L374.9 464.9M364.4 434.2L366.6 429.4M369.5 459.8L369.3 467.6M364.5 441.9L365.2 435.2M370.5 442.4L377.3 444.9M367.9 447.0L368.1 445.2M363.1 433.5L360.4 427.7M369.6 445.3L366.3 445.1M369.4 432.6L366.2 431.7M364.0 445.4L372.9 445.0M367.2 450.0L366.8 442.8M365.0 424.7L359.2 431.5M365.1 445.8L362.0 442.4M364.5 441.9L367.0 449.0M358.9 427.9L351.2 423.9M384.0 450.6L383.2 459.5M381.2 453.6L386.2 458.9M371.1 466.4L375.9 467.1M381.0 449.8L378.6 451.1M393.9 447.2L388.8 453.5M371.4 452.1L377.4 455.0M370.4 446.0L371.3 444.7M347.5 440.0L350.7 444.3M342.7 442.2L345.1 435.1M363.5 454.8L356.4 455.1M365.3 469.5L370.6 463.1M372.9 445.0L365.1 443.1M343.0 449.7L343.4 447.1M363.6 444.3L364.4 449.1M383.9 464.0L376.4 465.7M365.0 434.9L365.5 438.2M362.3 465.4L368.3 462.6M375.0 459.0L380.4 456.1M358.8 439.1L366.0 444.2M349.6 434.3L348.0 443.0M362.0 442.4L364.7 435.9M358.2 436.8L362.8 431.0M373.2 462.2L371.1 457.2M360.5 446.7L356.7 441.2M375.1 458.1L370.9 466.0M337.8 453.1L343.7 450.4M348.7 435.8L346.8 441.9M371.6 450.1L377.1 444.8M363.6 435.8L359.9 440.0M363.6 446.7L359.6 441.2M364.3 456.9L362.6 458.1M361.8 447.9L356.8 444.3M348.9 452.0L355.1 446.7M360.9 459.1L362.0 458.1M355.6 436.0L362.9 432.8M375.8 454.6L382.7 455.3M367.9 447.0L364.7 444.7M368.8 459.6L366.1 462.4M365.7 461.6L373.7 464.9M372.4 441.2L369.7 445.1M364.4 449.1L357.3 449.9M373.3 444.6L380.7 444.2M371.7 464.7L370.1 459.0M363.4 437.1L364.0 438.0M373.9 431.8L373.0 431.9M375.2 453.7L371.1 448.7M377.1 444.8L372.3 450.0M368.8 460.7L366.2 453.1M404.9 455.6L405.0 449.6M355.3 448.2L360.9 446.8M367.8 443.3L360.5 441.6M360.4 453.6L364.4 451.7M360.4 427.7L365.8 431.7M371.0 445.9L378.2 450.0M378.5 451.3L377.1 444.8M348.4 413.8L346.2 420.0M327.4 433.4L333.1 439.8M357.7 424.9L359.4 421.4M369.2 438.9L362.2 441.8M393.9 447.2L397.0 446.0M365.9 442.2L358.5 443.6M362.3 443.4L365.8 440.9M368.4 475.2L374.9 469.5M358.8 452.2L367.7 450.6M359.2 439.1L355.3 443.0M370.7 447.6L377.7 449.6M373.8 458.6L368.5 457.0M350.5 451.3L352.0 453.5M376.6 435.3L370.5 435.3M404.9 455.6L399.5 449.9M349.9 433.8L356.8 437.2M384.1 469.6L380.8 470.9M373.0 456.3L377.6 460.3M346.2 420.0L348.9 418.9M372.4 461.4L369.8 461.1M364.3 440.3L363.4 444.0M387.4 455.6L382.7 455.3M395.5 445.9L392.1 446.2M348.0 443.0L352.2 442.1M377.3 436.8L370.6 433.8M376.5 461.6L378.5 460.7M366.1 455.4L370.5 452.0M377.3 434.5L373.9 431.8M373.4 437.6L367.0 440.8M357.9 465.9L362.0 463.7M361.9 430.9L364.4 434.2M356.5 442.6L355.3 443.0M346.9 415.1L354.8 416.2M362.1 455.3L367.1 452.8M359.6 441.2L367.0 440.8M357.6 438.8L360.6 433.1M382.6 447.9L380.4 456.1M365.9 442.2L368.3 441.1M371.2 452.9L370.7 448.1M334.3 470.0L342.0 472.6M378.1 455.5L375.5 457.8M372.2 431.8L366.7 436.9M372.1 444.7L365.7 448.8M370.6 461.7L368.1 460.0M364.4 437.7L370.2 443.6M382.4 446.5L374.3 443.0M377.7 458.6L372.4 454.6M358.4 458.5L356.1 464.5M373.3 444.6L370.2 450.8M373.9 459.6L368.7 456.3M375.2 460.5L379.5 453.4M374.2 452.8L377.4 458.3M354.4 429.6L356.8 431.9M367.1 444.4L365.4 445.3M384.8 465.3L382.7 459.8M357.6 456.4L359.7 452.5M356.8 437.2L352.9 440.5M377.1 459.5L368.8 459.6M353.7 436.4L353.2 439.9M376.9 462.6L369.2 463.3M364.1 444.6L359.1 439.0M374.5 446.3L377.9 448.8M343.0 449.7L341.3 445.2M346.6 451.5L352.6 449.3M372.1 456.0L373.9 463.2M359.1 433.1L353.2 426.7M377.1 454.0L369.7 453.4M361.4 457.1L368.7 452.0M350.0 424.7L351.7 433.1M370.6 433.8L375.2 434.2M361.4 443.6L365.0 440.7M376.7 456.5L370.4 461.7M369.1 429.4L367.0 429.2M377.1 446.5L380.0 454.4M358.6 460.1L366.7 463.4M362.0 435.0L367.0 429.2M367.8 437.1L359.2 439.1M355.9 441.8L363.0 437.0M357.2 446.2L359.8 444.0M370.6 446.7L370.4 452.1M355.6 436.0L362.5 436.3M359.9 439.8L359.2 431.5M378.0 467.5L383.0 463.1M356.8 444.3L355.9 444.3M372.2 462.6L370.5 457.6M378.6 441.6L378.9 442.8M349.3 458.0L355.3 452.5M381.7 464.4L379.3 467.8M364.3 458.3L362.2 451.0M378.2 450.0L373.3 444.6M362.4 471.4L365.3 475.0M374.4 429.1L377.4 435.8M341.3 441.0L341.3 445.2M360.6 440.3L358.8 439.1M367.2 432.2L364.4 434.2M367.1 445.1L372.5 446.8M365.1 446.2L364.4 443.3M367.7 457.1L373.8 452.8M349.7 445.7L353.4 442.2M358.4 439.9L366.2 441.2M333.1 439.8L327.4 433.4M368.6 435.9L364.9 428.9M354.1 434.8L362.1 437.4M384.8 465.3L378.9 464.8M366.8 452.2L359.2 452.1M354.3 443.2L355.2 443.7M377.8 458.8L375.7 463.0M359.9 451.8L361.4 443.6M363.0 459.3L371.8 459.5M370.9 453.6L376.0 454.7M356.8 444.3L359.7 447.6M361.5 450.6L370.1 453.1M350.9 438.9L358.6 440.7M372.1 444.7L376.0 450.0M366.1 462.4L371.9 458.7M353.8 439.0L356.7 441.2M364.1 439.0L362.6 438.9M345.0 459.3L346.7 459.7M370.8 460.6L365.9 453.3M368.0 468.4L373.1 467.6M367.0 433.0L368.6 435.9M366.7 463.4L367.8 465.7M334.3 470.0L342.4 471.1M381.8 458.3L385.2 461.4M360.7 440.3L362.2 441.7M367.3 438.3L364.8 440.3M355.3 448.0L359.9 450.2M348.3 444.6L350.7 447.0M374.6 454.9L370.2 456.2M363.5 439.2L364.9 446.5M376.4 453.2L373.3 446.3M379.2 435.2L377.2 431.8M367.2 450.0L375.2 453.7M356.9 450.3L355.3 445.2M374.2 464.5L371.1 464.7M371.0 460.0L368.7 452.0M354.6 440.7L355.8 434.3M349.6 439.1L354.1 432.9M364.3 440.3L364.9 446.4M372.9 459.4L372.7 457.1M367.1 452.8L370.2 447.0M356.5 447.8L362.7 441.9M376.7 459.7L373.8 458.6M374.7 449.3L379.3 450.0M365.1 446.2L357.2 443.0M368.5 425.1L363.5 421.7M377.6 439.9L372.9 436.2M356.4 451.6L362.6 454.9M376.9 462.6L371.8 459.5M354.8 441.8L356.2 447.1M369.8 444.3L362.8 444.4M357.0 438.7L355.9 435.1M353.9 451.2L362.4 451.4M367.7 459.3L367.7 456.5M381.5 448.5L390.0 447.1M375.7 447.6L370.2 453.5M371.9 458.7L366.9 455.7M366.9 444.5L363.1 441.2M359.9 451.7L364.5 455.3M351.4 453.1L356.6 453.0M359.9 440.0L359.2 431.5M360.5 441.6L355.9 435.1M380.9 465.5L372.8 461.9M354.7 436.7L353.3 441.0M365.2 462.6L370.2 463.4M356.9 440.5L360.6 440.3M365.0 479.9L371.2 474.5M367.2 455.4L372.3 453.3M366.1 455.4L363.9 460.4M375.2 434.2L380.8 434.5M359.9 439.8L359.9 443.8M349.1 452.9L350.0 449.1M374.3 443.0L372.3 435.5M356.1 449.8L357.7 447.7M374.9 464.9L373.9 459.6M368.4 463.8L375.9 467.1M384.3 444.1L377.3 447.9M384.8 459.4L384.5 453.8M353.7 436.4L355.2 437.5M376.0 442.8L373.8 449.4M362.8 431.0L356.6 436.8M374.8 454.9L379.3 452.8M375.5 488.2L376.2 493.5M384.7 458.1L377.9 459.8M351.3 444.8L354.6 440.7M374.5 444.9L375.9 437.5M365.7 459.2L366.3 460.5M378.4 450.8L374.0 455.3M358.7 449.8L362.0 442.4M367.2 474.2L371.6 470.8M366.2 446.5L368.5 442.5M368.8 459.6L362.7 464.1M358.2 475.4L364.9 474.7M368.5 470.9L363.7 466.0M360.7 446.9L366.1 443.2M369.2 472.6L365.7 468.9M345.4 439.6L347.4 432.6M350.9 465.8L353.1 467.8M347.9 432.3L348.0 433.3M367.0 449.0L359.7 447.6M382.9 449.3L379.6 450.1M369.0 452.4L373.9 451.4M353.3 430.9L352.1 435.8M363.7 451.9L369.0 452.4M371.5 448.0L372.1 456.0M357.7 457.2L354.1 453.2M365.0 444.8L368.0 444.7M372.3 461.9L373.9 459.0M374.9 454.3L378.5 451.3M356.2 447.5L357.3 447.1M377.7 458.6L372.2 464.2M359.3 437.4L356.3 436.0M381.2 453.6L384.9 449.7M373.1 459.2L370.4 461.2M362.3 448.0L356.4 451.6M378.6 451.1L373.5 458.2M376.4 442.5L381.8 443.1M365.3 443.6L361.2 447.1M360.5 430.4L361.6 438.1M384.1 469.6L376.4 466.6M363.4 444.4L366.1 438.5M370.4 465.0L379.2 463.0M398.6 466.8L395.4 466.5M353.0 436.2L348.0 443.0M360.9 459.1L366.2 458.6M368.5 425.1L361.6 429.8M372.1 463.2L366.0 461.3M362.5 453.2L356.9 454.8M359.5 437.8L353.0 432.5M355.6 436.0L353.9 443.2M358.8 426.3L363.4 432.4M359.5 433.6L359.4 434.6M363.1 441.9L366.9 442.9M380.7 444.2L375.7 443.9M382.6 460.7L382.0 452.7M379.9 421.3L374.2 424.3M366.0 461.3L369.3 467.6M355.3 452.5L362.9 447.9M380.9 436.4L376.7 431.2M376.9 454.5L373.5 450.7M374.4 452.8L371.7 448.8M381.5 448.5L383.8 456.5M371.5 447.7L369.7 445.1M367.9 431.1L364.7 435.9M358.5 450.9L353.9 443.2M375.2 461.7L366.7 464.8M369.8 460.0L369.8 451.2M356.9 450.3L360.5 448.5M365.1 443.1L361.5 440.5M377.6 481.0L375.5 488.2M356.0 450.6L363.8 447.0M359.7 427.8L353.3 430.9M350.8 437.4L356.6 436.8M379.4 451.9L382.2 456.3M379.2 452.2L376.4 457.5M362.9 448.2L362.5 439.3M367.9 447.0L365.1 443.1M368.4 475.2L371.2 474.5M322.7 470.8L324.1 475.8M375.6 451.5L374.7 447.8M370.4 446.0L367.0 449.0M374.0 444.4L379.6 449.5M359.5 430.1L359.0 434.9M349.3 459.1L352.2 454.2M353.4 458.5L358.9 452.3M384.6 424.7L379.9 421.3M363.6 444.3L362.7 439.2M379.1 453.0L379.6 460.0M349.8 440.4L348.0 443.0M384.7 451.7L377.2 454.6M368.7 459.6L369.6 456.3M344.1 448.0L347.4 450.8M362.0 458.1L364.3 465.9M356.4 455.8L356.0 450.6M378.9 436.1L378.9 442.8M366.1 443.2L360.1 444.8M376.2 493.5L376.5 488.8M375.0 459.0L380.2 452.1M334.3 470.0L337.4 470.8M365.6 465.8L363.5 460.6M359.6 441.2L352.9 440.5M377.1 465.3L375.9 459.8M360.4 448.9L358.4 447.0M355.9 448.6L358.9 452.3M349.6 431.8L345.4 439.6M359.9 460.7L368.4 458.1M359.4 421.4L362.7 428.4M370.7 447.6L368.4 442.5M356.5 459.2L361.4 453.4M359.6 454.3L362.5 455.9M360.7 440.3L359.4 434.6M377.8 458.8L383.9 464.9M349.8 456.9L350.0 449.1M358.7 458.7L352.3 462.5M350.2 444.5L354.8 441.7M371.0 460.0L370.8 460.0M362.8 450.6L357.2 446.2M377.9 448.8L382.6 445.5M375.8 427.4L370.0 433.9M364.2 448.6L366.2 449.2M379.4 429.3L387.5 432.1M364.0 436.2L370.5 435.3M376.0 454.7L377.3 447.9M359.8 458.8L360.9 459.1M350.7 447.0L351.5 446.6M347.8 448.0L344.5 446.7M371.3 448.9L373.5 450.7M379.3 450.0L370.9 449.6M366.4 457.0L365.3 452.4M396.4 449.8L388.0 451.3M350.0 449.1L351.9 451.2M348.2 441.0L355.9 444.3M358.9 452.3L356.5 447.8M378.6 455.7L373.6 449.7M375.6 461.1L375.8 454.6M377.8 465.9L383.4 460.5M366.9 456.1L364.9 448.5M357.2 443.0L353.7 436.4M371.9 458.7L380.9 459.0M351.6 464.3L346.8 467.9M350.2 444.5L355.9 441.8M377.7 449.6L370.1 445.2M367.9 444.5L362.5 438.5M377.1 459.5L374.5 454.6M368.9 443.4L370.7 434.8M370.4 451.7L366.8 455.8M363.8 447.0L370.7 446.3M363.3 441.0L355.0 440.6M381.6 456.3L384.5 453.8M380.6 453.2L376.9 455.5M373.7 450.6L376.4 457.5M377.1 444.8L368.4 442.5M374.3 443.8L372.9 436.2M365.6 446.1L367.2 448.0M370.6 446.7L369.2 439.4M371.6 468.4L369.2 463.1M358.5 450.9L352.6 447.7M367.3 439.0L362.3 438.0M355.2 439.7L346.8 441.9M351.4 443.0L358.0 443.7M379.9 458.5L378.5 460.7M374.5 459.5L375.6 458.2M379.0 451.0L375.5 457.8M353.2 437.1L360.5 441.6M376.9 468.8L369.1 468.0M370.2 469.6L369.7 468.7M374.2 424.3L369.1 429.4M365.7 461.6L361.6 461.8M364.0 438.0L361.7 446.0M368.0 468.4L366.7 464.8M355.4 458.5L352.9 465.9M362.9 432.8L365.2 433.3M354.7 442.1L362.3 438.7M398.6 466.5L394.7 463.8M374.4 429.1L375.2 434.2M377.4 462.2L369.8 461.1M350.2 441.7L351.0 436.2M378.4 450.8L376.3 447.7M363.5 441.7L363.6 435.8M353.4 452.3L359.1 448.2M370.9 450.5L376.9 445.5M373.8 454.7L366.6 449.8M376.2 463.4L380.9 465.8M372.0 459.3L368.8 459.3M373.9 459.2L374.4 458.1M359.7 452.5L352.6 449.3M359.9 451.7L356.5 459.2M375.4 467.1L380.0 464.1M366.7 437.9L366.7 437.2M375.8 465.8L367.8 465.7M356.8 431.9L363.6 435.8M382.9 449.3L381.8 443.1M374.7 451.4L379.2 452.2M358.0 445.8L365.4 450.3M383.0 463.1L379.7 457.5M366.2 446.5L372.5 445.5M372.1 444.7L366.9 440.3M370.3 456.7L368.4 455.5M368.5 459.4L369.5 462.8M361.4 450.8L364.3 456.9M366.7 436.9L362.4 438.8M361.6 429.8L363.7 436.5M383.8 456.5L388.0 451.3M359.1 448.2L362.7 441.9M358.6 440.7L365.2 444.5M360.1 469.4L364.8 469.1M380.6 453.2L388.0 450.3M374.9 464.9L370.3 469.3M359.3 446.3L361.5 450.6M366.6 429.4L362.9 421.5M368.5 450.3L374.9 455.1M365.0 441.5L365.4 445.3M370.4 452.1L373.9 452.9M356.6 467.9L353.3 460.7M365.9 442.2L363.3 434.8M374.7 425.3L369.1 429.4M355.7 460.0L362.1 456.7M378.7 466.3L373.8 461.5M376.3 460.3L373.3 462.0M361.6 429.8L359.6 432.3M371.8 452.8L369.8 444.3M353.8 439.0L350.2 444.5M346.2 420.0L351.2 423.9M358.6 460.1L358.7 458.7M358.4 444.1L357.3 447.1M356.6 436.8L350.0 440.7M352.9 440.5L359.2 444.8M377.8 458.8L370.8 460.0M358.4 447.0L365.4 445.8M382.5 442.2L377.9 448.8M333.1 439.8L327.4 433.4M342.0 472.6L347.2 471.3M377.3 434.5L376.0 442.8M359.3 437.4L365.3 432.8M376.4 453.2L379.6 460.0M372.6 466.6L374.7 468.0M361.5 424.1L358.5 431.4M371.7 430.4L376.7 431.2M367.7 453.1L365.8 448.8M375.0 465.6L372.8 457.3M373.5 435.0L367.0 440.8M372.4 454.6L365.7 448.8M368.4 455.5L375.2 453.7M380.7 479.4L376.4 472.6M369.6 445.3L362.4 441.9M360.9 446.8L367.0 440.6M356.2 435.5L356.3 433.6M367.7 449.3L364.6 444.2M361.4 440.9L356.2 447.5" stroke="#8cc8e0" stroke-width="0.35" stroke-opacity="0.35" fill="none"/>
<path stroke="#11598a" stroke-width="1.7" stroke-linecap="round" d="M361.1 453.1h0M369.9 437.8h0M358.6 437.7h0M365.0 441.5h0M366.3 426.9h0M372.4 441.2h0M365.8 440.9h0M358.0 445.8h0M366.9 440.3h0M363.7 436.5h0M346.6 435.3h0M357.3 432.2h0M349.8 442.3h0M367.4 440.1h0M355.3 445.2h0M366.1 439.5h0M364.8 450.6h0M359.3 435.3h0M363.4 444.0h0M368.9 431.5h0M355.9 435.1h0M348.0 443.0h0M364.7 435.9h0M371.1 448.7h0M365.4 445.3h0M367.9 431.1h0M365.3 446.9h0M347.7 444.8h0M358.9 448.4h0M357.6 441.9h0M368.8 447.0h0M359.5 447.2h0M370.1 456.7h0M349.2 449.2h0M364.2 441.2h0M351.5 446.6h0M370.4 428.9h0M358.6 431.3h0M362.6 454.4h0M375.8 427.4h0M372.5 445.5h0M355.3 444.4h0M355.4 445.2h0M359.2 431.5h0M357.2 451.9h0M359.4 430.2h0M370.7 446.3h0M376.4 442.5h0M357.4 430.1h0M370.6 463.1h0M354.7 436.7h0M358.8 439.1h0M362.2 451.0h0M361.0 449.5h0M345.0 430.1h0M366.7 437.2h0M365.1 446.4h0M370.6 448.7h0M368.3 441.1h0M355.6 436.0h0M357.2 432.7h0M346.6 441.4h0M362.5 450.9h0M355.4 458.5h0M366.4 457.0h0M376.6 435.3h0M363.7 445.8h0M364.9 446.4h0M362.3 443.4h0M349.7 440.6h0M355.3 443.0h0M357.3 447.1h0M366.9 444.5h0M363.1 442.8h0M357.5 440.7h0M357.1 445.2h0M360.9 446.8h0M351.0 449.3h0M355.2 436.0h0M359.3 437.4h0M363.0 437.3h0M352.9 435.1h0M370.5 442.4h0M352.2 442.1h0M349.3 456.7h0M349.5 445.9h0M364.8 430.1h0M363.0 450.2h0M367.8 443.3h0M363.3 441.0h0M365.5 434.3h0M352.7 445.0h0M373.3 449.9h0M357.0 447.7h0M357.4 441.0h0M361.5 423.0h0M362.2 433.6h0M349.6 434.3h0M360.6 451.0h0M358.8 426.3h0M361.9 445.7h0M357.6 444.5h0M365.0 434.9h0M359.2 439.1h0M368.1 456.1h0M357.7 447.7h0M367.8 447.8h0M366.3 458.6h0M366.7 436.9h0M365.3 452.4h0M364.5 441.9h0M352.0 452.0h0M363.4 432.4h0M365.3 438.5h0M346.7 436.4h0M362.8 447.2h0M362.0 442.4h0M364.3 440.3h0M363.0 446.4h0M353.0 436.2h0M372.1 444.7h0M358.7 444.8h0M357.2 444.3h0M355.9 444.3h0M349.1 452.9h0M357.0 429.0h0M361.9 432.6h0M351.3 444.8h0M358.5 443.6h0M347.4 432.6h0M364.2 441.7h0M372.9 436.2h0M362.1 465.9h0M355.1 434.6h0M367.0 443.1h0M355.2 443.7h0M380.3 452.4h0M340.2 440.8h0M359.5 457.8h0M367.7 449.3h0M362.2 441.7h0M363.3 452.6h0M364.8 439.1h0M370.2 443.6h0M360.2 435.5h0M340.1 450.3h0M368.5 445.6h0M363.5 421.7h0M372.7 457.1h0M371.4 432.5h0M344.5 446.7h0M361.0 449.9h0M349.7 445.7h0M357.5 444.9h0M364.2 441.0h0M363.1 441.9h0M366.4 446.1h0M356.8 437.2h0M373.7 441.2h0M361.7 444.1h0M365.3 431.6h0M356.4 441.2h0M364.0 437.6h0M364.0 438.0h0M363.5 454.8h0M363.4 445.6h0M364.8 440.3h0M354.8 441.7h0M359.1 448.2h0M371.6 450.1h0M370.2 447.0h0M360.0 438.6h0M358.7 449.8h0M361.6 429.8h0M360.5 430.4h0M362.0 432.1h0M351.4 443.0h0M360.2 428.4h0M366.3 459.7h0M349.8 456.9h0M359.5 430.1h0M370.4 446.0h0M355.2 439.7h0M349.6 439.1h0M368.6 453.1h0M357.4 435.9h0M364.1 439.0h0M358.5 450.9h0M373.3 444.2h0M359.4 446.7h0M346.8 441.9h0M353.0 461.6h0M359.4 421.4h0M366.1 455.4h0M366.1 429.3h0M366.6 429.4h0M361.5 450.6h0M351.6 450.1h0M357.7 424.9h0M360.0 434.0h0M363.2 432.4h0M358.4 451.8h0M362.4 438.8h0M351.5 451.5h0M366.2 439.3h0M362.6 433.6h0M353.3 435.2h0M363.4 444.4h0M355.3 448.0h0M366.6 443.4h0M360.0 445.9h0M360.5 448.5h0M351.5 453.7h0M355.0 440.6h0M350.6 446.9h0M370.2 450.8h0M367.0 429.2h0M355.0 438.2h0M353.9 451.2h0M364.4 434.2h0M354.1 434.8h0M364.5 444.8h0M365.1 450.8h0M350.8 437.4h0M361.9 430.9h0M356.9 450.3h0M369.0 450.8h0M361.1 440.3h0M363.3 452.9h0M358.1 437.0h0M360.7 446.9h0M364.4 443.3h0M364.9 428.9h0M354.4 443.3h0M351.9 434.5h0M359.5 433.6h0M362.5 455.9h0M359.7 452.5h0M362.9 432.8h0M370.6 446.7h0M345.8 448.4h0M372.3 435.5h0M368.1 427.3h0M362.7 428.4h0M364.4 427.3h0M341.3 445.2h0M377.7 437.1h0M366.9 442.9h0M358.4 447.0h0M373.0 431.9h0M365.0 444.8h0M350.3 455.2h0M375.2 434.2h0M373.7 442.5h0M359.6 454.3h0M362.5 444.7h0M372.0 452.6h0M367.4 430.5h0M349.2 451.2h0M353.9 443.2h0M352.9 440.5h0M351.3 455.4h0M353.3 441.0h0M359.4 451.9h0M350.3 441.7h0M359.3 446.3h0M364.3 438.2h0M362.6 438.9h0M364.3 441.2h0M355.9 441.8h0M363.5 460.6h0M357.2 444.5h0M371.6 425.0h0M347.9 432.3h0M360.0 462.0h0M359.2 421.8h0M343.7 450.4h0M362.2 431.4h0M369.1 429.4h0M369.2 453.9h0M367.0 433.0h0M367.2 432.2h0M357.6 434.7h0M365.8 431.7h0M373.5 439.4h0M352.4 453.4h0M373.1 440.5h0M354.2 442.1h0M355.7 439.4h0M372.3 445.2h0M361.9 444.8h0M360.4 448.9h0M367.3 439.0h0M361.6 461.8h0M363.9 440.5h0M376.0 442.1h0M352.7 447.5h0M354.1 437.9h0M356.4 451.6h0M375.9 437.5h0M371.8 452.8h0M359.7 430.4h0M364.2 447.5h0M368.0 442.6h0M369.7 453.4h0M353.0 453.7h0M358.4 457.4h0M368.1 427.3h0M361.4 440.9h0M350.0 449.1h0M353.8 439.0h0M356.3 436.0h0M366.3 445.1h0M355.8 434.3h0M357.3 449.9h0M361.7 443.9h0M362.4 426.9h0M372.7 435.5h0M356.6 453.0h0M362.4 442.3h0M356.5 429.2h0M362.2 451.8h0M354.1 453.2h0M352.5 436.0h0M364.5 442.0h0M365.9 435.9h0M353.2 426.7h0M351.9 433.2h0M350.2 444.5h0M355.9 425.7h0M379.2 435.2h0M351.5 452.2h0M369.4 432.6h0M349.9 433.8h0M369.2 439.4h0M354.8 441.8h0M369.7 430.6h0M358.0 430.7h0M376.9 456.9h0M367.8 440.9h0M365.7 424.8h0M362.8 431.0h0M351.0 436.2h0M358.2 446.7h0M366.0 444.2h0M353.8 447.5h0M359.9 451.7h0M354.0 419.3h0M357.3 459.6h0M364.3 440.4h0M367.3 446.1h0M361.4 443.6h0M356.0 432.8h0M361.8 449.9h0M365.6 446.1h0M364.5 463.2h0M362.7 450.5h0M375.3 442.4h0M362.8 450.6h0M363.5 442.7h0M351.9 451.2h0M358.9 427.9h0M359.7 427.8h0M354.0 450.8h0M350.0 444.2h0M365.0 454.0h0M367.7 444.0h0M369.3 436.7h0M364.7 441.3h0M362.7 439.9h0M376.7 436.7h0M362.8 444.4h0M364.0 450.1h0M349.7 442.2h0M351.8 444.0h0M352.1 434.2h0M360.4 453.6h0M365.2 444.5h0M371.3 434.4h0M345.4 438.6h0M358.8 452.2h0M376.7 431.2h0M379.2 454.9h0M367.1 445.1h0M378.9 442.8h0M357.4 443.3h0M350.8 446.0h0M363.6 433.4h0M370.6 433.8h0M367.5 429.1h0M361.2 436.8h0M344.8 433.0h0M361.4 447.2h0M350.0 424.7h0M354.5 440.4h0M356.2 435.5h0M361.5 440.5h0M350.4 449.4h0M361.6 438.1h0M371.4 448.4h0M367.2 452.0h0M366.2 431.7h0M358.0 450.3h0M355.2 442.4h0M363.9 453.9h0M370.5 449.5h0M359.5 449.6h0M370.9 446.2h0M355.3 452.5h0M359.0 447.0h0M353.9 434.1h0M346.7 459.7h0M359.8 444.0h0M369.1 441.1h0M364.7 430.9h0M364.6 443.6h0M353.4 448.1h0M364.0 445.4h0M345.9 420.0h0M356.2 439.3h0M356.4 445.0h0M359.6 432.3h0M354.3 443.2h0M361.4 441.4h0M377.6 439.9h0M361.7 433.9h0M358.2 446.3h0M365.0 440.7h0M363.7 442.5h0M346.9 415.1h0M377.9 448.8h0M360.4 427.7h0M351.4 453.1h0M340.2 439.3h0M367.2 443.2h0M366.4 440.9h0M378.5 433.6h0M350.7 444.3h0M371.4 441.5h0M368.6 437.6h0M352.0 453.5h0M372.4 454.6h0M357.6 432.5h0M352.1 440.2h0M365.1 446.2h0M350.2 443.6h0M360.9 442.7h0M360.6 440.3h0M365.2 443.0h0M362.5 436.3h0M363.7 441.0h0M345.1 446.0h0M358.8 449.6h0M362.4 441.9h0M357.5 427.3h0M374.4 429.1h0M358.3 447.4h0M366.5 452.4h0M363.0 465.8h0M353.3 443.9h0M358.1 437.5h0M362.9 454.0h0M355.5 436.2h0M366.2 446.5h0M375.3 450.4h0M350.7 442.1h0M359.5 440.1h0M357.6 455.9h0M356.3 433.6h0M358.2 440.5h0M367.9 444.5h0M353.5 438.5h0M355.9 443.5h0M352.2 440.5h0M365.9 442.2h0M354.0 436.9h0M361.7 446.0h0M351.1 453.7h0M358.4 444.1h0M368.4 442.5h0M337.7 440.0h0M363.4 452.6h0M366.1 462.4h0M371.3 453.1h0M367.8 430.7h0M367.1 446.9h0M363.9 438.2h0M359.9 439.8h0M362.5 438.5h0M364.8 426.3h0M357.2 446.2h0M361.3 454.9h0M352.6 449.3h0M349.6 438.2h0M362.3 448.0h0M358.0 426.1h0M359.4 435.5h0M370.7 434.8h0M373.4 437.6h0M375.1 446.4h0M367.5 453.5h0M373.6 439.2h0M351.5 420.1h0M357.9 448.2h0M363.6 442.9h0M347.7 448.0h0M350.0 440.7h0M356.1 439.0h0M353.0 432.5h0M359.1 433.1h0M379.0 438.5h0M355.9 437.4h0M352.8 421.8h0M358.9 444.5h0M349.6 442.0h0M363.4 445.9h0M364.0 436.2h0M367.3 438.3h0M363.3 447.7h0M358.5 431.4h0M365.3 432.8h0M354.1 432.9h0M367.0 440.6h0M376.1 456.7h0M356.5 442.6h0M361.0 432.9h0M350.9 438.9h0M364.6 448.4h0M350.7 447.0h0M371.1 458.1h0M360.5 441.6h0M371.4 453.7h0M363.2 447.7h0M355.1 446.7h0M359.8 438.0h0M345.1 435.1h0M363.2 441.4h0M357.8 445.4h0M365.8 448.8h0M354.7 442.1h0M358.2 434.7h0M354.2 459.5h0M359.9 440.0h0M357.7 457.2h0M353.7 440.5h0M355.0 440.8h0M360.4 450.9h0M372.6 437.7h0M359.4 434.6h0M341.3 441.0h0M369.4 438.0h0M347.0 444.0h0M361.3 450.1h0M367.4 439.6h0M363.6 427.1h0M368.9 443.4h0M368.7 450.6h0M358.5 440.6h0M354.2 424.9h0M352.6 447.7h0M361.4 445.6h0M355.0 427.4h0M359.9 438.4h0M358.6 440.7h0M356.9 425.4h0M358.2 439.3h0M362.6 428.6h0M366.4 452.3h0M354.8 416.2h0M363.2 452.7h0M369.3 437.5h0M360.1 444.3h0M355.9 454.8h0M360.9 428.2h0M377.2 434.0h0M365.4 456.0h0M368.5 442.5h0M351.7 433.1h0M357.9 449.9h0M358.7 447.4h0M373.0 452.4h0M371.4 452.1h0M348.9 452.0h0M363.2 441.0h0M352.8 429.0h0M352.6 441.8h0M352.1 435.3h0M358.6 440.8h0M370.6 439.4h0M363.2 443.0h0M374.5 453.4h0M366.3 454.7h0M370.1 465.1h0M379.5 447.6h0M377.6 453.3h0M376.4 453.2h0M376.4 447.4h0M360.4 452.8h0M365.3 454.2h0M377.5 468.5h0M370.9 467.7h0M381.2 453.6h0M362.0 463.7h0M377.5 475.4h0M383.0 463.1h0M384.8 448.8h0M374.6 454.9h0M385.2 461.4h0M352.5 467.7h0M367.2 463.1h0M370.1 459.0h0M377.7 458.6h0M366.9 468.0h0M376.1 457.0h0M378.2 452.9h0M386.2 458.9h0M375.9 459.8h0M367.2 448.0h0M374.9 459.9h0M382.6 460.7h0M366.0 461.3h0M379.1 465.0h0M375.7 447.6h0M377.3 444.9h0M378.6 451.0h0M380.8 470.9h0M381.4 448.0h0M367.0 450.3h0M377.9 459.8h0M374.5 459.5h0M377.4 462.2h0M384.9 456.7h0M374.8 442.6h0M364.4 451.7h0M365.3 458.8h0M380.5 453.7h0M370.1 453.1h0M374.2 452.8h0M376.3 459.4h0M375.7 463.0h0M385.3 456.7h0M378.7 457.4h0M370.2 453.4h0M367.7 457.1h0M369.2 453.7h0M381.6 455.9h0M381.0 459.1h0M379.2 452.2h0M374.3 477.5h0M378.9 464.8h0M374.9 463.7h0M365.4 450.3h0M376.2 463.4h0M370.5 455.5h0M370.8 455.5h0M365.1 445.8h0M372.7 443.4h0M366.6 451.8h0M366.1 458.8h0M370.2 456.2h0M366.3 451.1h0M376.7 459.7h0M370.0 459.7h0M384.0 453.7h0M376.0 460.1h0M371.5 447.7h0M377.8 458.8h0M373.4 456.9h0M373.2 449.7h0M375.0 442.6h0M370.6 462.2h0M371.2 452.9h0M376.5 454.5h0M370.2 453.5h0M383.2 461.8h0M376.2 447.3h0M377.1 446.5h0M376.2 447.9h0M386.2 443.4h0M381.2 462.8h0M360.8 454.7h0M382.7 465.4h0M361.6 452.5h0M368.5 470.9h0M373.8 454.7h0M370.6 461.7h0M377.6 449.3h0M382.8 448.1h0M371.0 460.0h0M384.5 453.8h0M374.8 466.7h0M377.1 465.3h0M379.9 458.5h0M377.1 463.6h0M372.7 469.0h0M359.4 449.3h0M382.7 459.8h0M368.5 459.4h0M380.2 452.1h0M378.1 455.5h0M372.1 456.0h0M380.4 447.8h0M370.4 461.7h0M376.7 456.5h0M371.9 457.6h0M366.3 479.2h0M366.2 453.1h0M363.2 453.3h0M383.2 456.7h0M376.9 452.7h0M385.2 457.8h0M364.4 462.5h0M370.4 461.2h0M373.8 458.6h0M373.8 449.4h0M362.7 464.1h0M371.9 458.7h0M364.2 467.4h0M367.5 453.5h0M370.3 454.8h0M372.4 451.6h0M368.9 456.4h0M375.0 455.4h0M384.7 458.1h0M373.9 451.4h0M379.8 448.5h0M377.0 447.5h0M381.6 456.3h0M362.5 454.7h0M384.9 449.7h0M363.9 460.4h0M381.7 464.4h0M370.6 457.9h0M375.0 465.6h0M387.4 455.6h0M381.6 453.8h0M376.8 449.2h0M367.6 459.7h0M366.7 463.4h0M369.1 457.0h0M372.2 453.8h0M373.7 464.9h0M393.9 447.2h0M374.9 455.1h0M366.6 458.7h0M366.8 455.8h0M381.2 440.7h0M374.5 459.9h0M366.3 460.5h0M375.2 453.7h0M377.2 454.6h0M365.6 455.1h0M370.4 462.8h0M362.6 454.9h0M369.7 468.7h0M365.2 464.7h0M360.9 459.1h0M371.9 459.4h0M368.0 441.2h0M362.3 466.6h0M374.2 449.6h0M378.9 450.6h0M367.7 446.9h0M380.7 471.6h0M366.2 458.6h0M379.4 472.8h0M356.4 457.4h0M377.1 444.8h0M375.5 457.8h0M377.6 451.7h0M375.5 451.5h0M376.8 457.5h0M370.1 445.2h0M383.9 464.9h0M378.6 451.1h0M370.3 469.3h0M377.7 449.6h0M373.0 457.4h0M371.3 448.9h0M381.2 460.9h0M371.3 444.0h0M368.7 456.3h0M378.6 453.4h0M380.2 457.4h0M367.7 434.6h0M371.7 459.0h0M382.2 456.3h0M364.9 474.7h0M371.0 445.9h0M377.1 459.3h0M383.6 465.0h0M378.7 466.3h0M370.9 453.0h0M371.9 453.9h0M377.4 456.4h0M359.9 456.8h0M382.5 442.2h0M367.7 456.7h0M363.9 452.3h0M373.3 446.3h0M374.9 459.8h0M364.3 456.8h0M380.3 455.2h0M375.9 461.7h0M371.4 464.3h0M375.6 448.9h0M376.6 463.4h0M378.5 451.7h0M376.2 467.4h0M374.6 466.0h0M381.9 456.5h0M377.6 454.5h0M380.4 456.1h0M369.4 456.6h0M372.6 459.8h0M376.3 447.7h0M368.7 459.6h0M376.4 457.5h0M391.1 465.6h0M372.7 462.6h0M382.3 459.7h0M361.3 457.7h0M373.6 473.6h0M360.8 469.0h0M372.2 464.2h0M371.3 458.4h0M381.0 457.7h0M380.5 456.4h0M369.9 456.1h0M382.6 447.9h0M362.1 456.9h0M384.8 465.3h0M382.4 466.9h0M368.4 458.1h0M355.3 452.4h0M377.6 445.0h0M359.4 447.0h0M391.1 468.4h0M363.2 439.1h0M374.5 465.5h0M362.5 453.2h0M370.5 457.6h0M372.4 461.4h0M380.8 458.0h0M378.8 473.0h0M366.7 449.3h0M377.2 471.9h0M374.9 466.0h0M371.7 464.7h0M369.5 462.8h0M376.5 460.7h0M383.2 466.0h0M369.8 464.6h0M362.3 465.4h0M392.6 461.9h0M377.4 458.3h0M379.7 454.3h0M378.6 455.7h0M371.2 458.9h0M373.7 444.4h0M388.2 459.0h0M362.6 466.4h0M373.9 459.6h0M379.0 451.0h0M375.8 465.8h0M369.0 455.9h0M376.9 455.5h0M372.5 460.0h0M367.4 470.3h0M367.9 458.3h0M371.9 452.4h0M377.8 465.9h0M384.0 462.5h0M371.1 464.7h0M364.3 458.3h0M377.7 462.3h0M366.3 446.2h0M385.4 453.9h0M374.1 467.0h0M374.0 467.2h0M375.5 461.5h0M380.7 454.8h0M376.0 454.7h0M369.6 462.8h0M368.3 458.3h0M368.5 457.0h0M370.3 466.2h0M374.4 458.2h0M385.0 435.0h0M366.2 436.1h0M373.7 460.9h0M378.1 459.5h0M367.7 471.1h0M375.7 455.3h0M366.0 460.6h0M370.2 453.8h0M375.0 459.0h0M368.0 467.0h0M366.7 448.5h0M375.6 458.2h0M374.0 454.0h0M373.8 452.8h0M362.2 462.9h0M366.6 455.4h0M378.4 457.3h0M392.1 446.2h0M368.3 457.8h0M382.6 455.2h0M363.7 466.0h0M367.1 455.6h0M379.4 451.9h0M370.3 460.9h0M372.0 459.3h0M366.9 456.1h0M365.9 444.9h0M385.3 460.6h0M379.6 449.5h0M373.1 455.4h0M363.7 461.3h0M368.4 455.5h0M363.0 464.8h0M378.5 460.1h0M367.1 452.8h0M381.6 454.9h0M375.1 458.1h0M365.7 468.9h0M359.8 458.8h0M372.7 444.4h0M373.7 450.6h0M376.4 465.7h0M374.8 470.5h0M379.2 463.0h0M382.8 451.9h0M369.8 461.1h0M376.9 468.8h0M381.1 458.4h0M374.8 454.9h0M370.9 453.6h0M379.5 453.4h0M371.0 458.4h0M369.9 455.3h0M358.6 460.1h0M389.9 458.6h0M374.9 443.5h0M378.0 460.8h0M371.5 459.7h0M382.7 455.3h0M368.0 468.4h0M376.0 456.7h0M389.9 459.4h0M373.1 460.2h0M371.6 459.8h0M375.3 453.0h0M372.5 460.5h0M376.9 462.6h0M379.6 460.0h0M377.7 455.1h0M372.4 466.1h0M360.7 460.9h0M395.6 443.5h0M384.3 444.1h0M376.5 470.4h0M384.0 450.6h0M365.0 446.4h0M378.7 454.5h0M373.8 459.5h0M376.5 461.6h0M374.5 444.9h0M383.5 436.0h0M382.0 452.7h0M372.3 453.3h0M371.1 457.2h0M371.7 448.8h0M379.3 452.8h0M382.7 456.1h0M368.8 460.7h0M379.6 450.1h0M371.6 468.4h0M366.8 450.7h0M374.7 447.8h0M356.8 444.3h0M376.1 462.4h0M377.6 460.3h0M365.2 462.6h0M381.4 451.8h0M380.0 454.4h0M374.9 460.2h0M363.5 468.7h0M367.7 456.5h0M370.2 460.9h0M376.5 457.5h0M383.2 459.5h0M370.9 434.9h0M371.7 455.1h0M367.7 450.6h0M377.6 465.5h0M386.5 466.2h0M364.3 463.0h0M376.0 452.6h0M372.9 455.4h0M369.3 467.6h0M394.7 463.8h0M380.8 458.6h0M371.2 474.5h0M371.1 460.4h0M372.8 461.9h0M373.3 462.0h0M365.0 456.5h0M382.9 449.3h0M369.1 468.0h0M376.3 465.7h0M358.4 458.5h0M364.9 446.5h0M376.4 466.6h0M363.4 448.7h0M369.6 456.3h0M364.5 475.0h0M377.6 454.5h0M370.0 475.5h0M388.8 453.5h0M375.9 467.1h0M365.5 452.7h0M382.7 451.8h0M370.6 446.7h0M368.3 462.6h0M367.9 447.0h0M369.2 471.1h0M374.7 452.8h0M374.5 460.6h0M374.3 443.0h0M375.5 455.4h0M379.2 446.5h0M380.6 453.2h0M361.7 467.5h0M369.8 460.0h0M372.2 465.6h0M380.9 465.8h0M378.2 444.3h0M361.8 458.6h0M366.8 460.7h0M374.4 445.9h0M366.2 448.1h0M367.2 455.4h0M378.0 467.5h0M366.6 452.6h0M383.9 464.0h0M374.9 438.5h0M366.4 458.2h0M369.2 472.6h0M373.9 459.2h0M365.7 448.8h0M368.7 452.0h0M371.7 459.9h0M374.9 464.9h0M364.0 458.6h0M374.9 469.5h0M371.8 459.5h0M367.7 460.3h0M376.0 452.0h0M370.3 456.7h0M377.3 447.9h0M379.4 454.4h0M386.3 468.5h0M370.5 452.0h0M390.2 461.9h0M377.2 453.6h0M372.4 463.3h0M377.5 450.5h0M381.8 459.4h0M366.7 464.8h0M372.1 463.2h0M369.5 459.8h0M362.1 459.9h0M362.8 458.3h0M355.9 456.5h0M378.3 460.8h0M381.5 448.5h0M384.1 469.6h0M365.0 450.7h0M369.4 456.8h0M374.6 437.5h0M377.4 455.0h0M366.3 464.5h0M370.9 465.9h0M376.9 454.5h0M381.3 463.3h0M369.8 444.3h0M369.5 461.8h0M371.6 470.8h0M375.1 458.5h0M376.0 450.0h0M372.4 451.8h0M357.2 443.0h0M378.3 453.5h0M372.4 445.3h0M369.2 463.1h0M373.9 452.9h0M383.8 456.5h0M370.9 466.0h0M361.4 461.3h0M365.6 450.8h0M368.6 458.0h0M374.0 459.3h0M374.7 468.0h0M384.8 462.5h0M378.5 454.0h0M365.7 461.6h0M373.5 463.7h0M360.8 478.0h0M380.1 446.1h0M369.5 441.1h0M374.0 459.3h0M371.1 466.9h0M382.8 456.9h0M371.8 454.8h0M370.2 467.3h0M374.9 454.4h0M371.7 461.3h0M370.6 459.5h0M373.1 467.6h0M381.2 445.9h0M372.2 462.6h0M370.2 463.4h0M375.6 461.7h0M372.9 459.4h0M376.9 445.5h0M384.8 459.4h0M375.9 458.4h0M369.8 451.2h0M379.1 454.1h0M384.1 458.6h0M374.0 455.3h0M372.8 457.3h0M383.7 475.4h0M365.4 459.0h0M378.2 450.0h0M369.0 453.5h0M356.9 462.2h0M373.0 456.3h0M373.9 459.0h0M389.2 458.5h0M379.1 453.0h0M375.8 454.6h0M372.3 450.0h0M367.8 460.7h0M368.8 459.6h0M356.1 464.5h0M373.1 459.2h0M381.3 453.8h0M379.9 453.7h0M377.1 454.0h0M375.5 468.5h0M369.0 452.4h0M371.2 459.5h0M392.2 452.7h0M359.5 452.1h0M362.7 452.8h0M373.6 449.7h0M368.8 442.6h0M374.7 451.4h0M380.9 465.5h0M367.6 454.3h0M373.9 463.2h0M362.1 456.7h0M391.0 448.8h0M369.7 450.0h0M351.2 462.4h0M370.3 452.1h0M376.3 460.3h0M342.1 456.3h0M359.2 452.1h0M357.6 438.8h0M379.3 450.0h0M363.2 446.4h0M368.0 449.9h0M336.1 438.8h0M363.9 459.9h0M384.8 438.1h0M392.3 451.5h0M373.5 443.4h0M359.3 469.1h0M364.4 449.1h0M382.3 472.9h0M347.8 448.0h0M367.2 474.2h0M399.5 449.9h0M372.3 461.9h0M382.4 446.5h0M378.6 441.6h0M332.7 432.8h0M370.4 461.0h0M338.2 427.3h0M375.0 464.4h0M328.9 461.0h0M365.3 469.5h0M371.5 448.0h0M369.5 463.4h0M370.4 451.7h0M349.2 457.5h0M368.4 475.2h0M367.9 450.1h0M359.9 460.7h0M365.5 442.1h0M389.0 474.6h0M362.3 438.0h0M382.9 440.5h0M405.0 449.6h0M380.8 434.5h0M367.8 465.7h0M374.0 444.4h0M400.3 461.1h0M365.3 443.6h0M364.8 469.1h0M358.2 451.9h0M357.6 467.9h0M366.2 462.8h0M375.7 443.9h0M377.5 463.8h0M353.3 460.7h0M376.7 434.1h0M374.3 443.8h0M378.4 450.9h0M352.9 465.9h0M369.2 438.9h0M373.5 450.7h0M363.5 460.3h0M351.6 464.3h0M342.0 472.6h0M370.7 448.1h0M358.7 458.7h0M366.2 449.2h0M365.2 457.2h0M370.4 452.1h0M378.1 471.1h0M356.1 449.8h0M367.7 459.3h0M388.0 451.3h0M371.1 466.4h0M352.0 441.4h0M362.4 451.4h0M371.3 444.7h0M391.4 442.2h0M365.6 465.8h0M378.5 451.3h0M373.2 462.2h0M368.1 460.0h0M356.2 452.4h0M346.6 439.6h0M353.1 467.8h0M362.1 455.3h0M355.9 448.6h0M364.4 440.0h0M379.4 429.3h0M357.2 451.6h0M347.4 450.8h0M345.0 459.3h0M361.3 426.6h0M350.6 429.9h0M363.9 462.1h0M362.3 435.1h0M356.4 452.2h0M335.2 458.3h0M372.6 417.9h0M382.8 428.7h0M364.3 465.9h0M345.3 425.7h0M352.1 435.8h0M365.1 443.1h0M364.4 438.7h0M371.2 450.0h0M353.3 474.2h0M349.9 459.8h0M356.9 454.8h0M373.8 461.5h0M385.8 439.0h0M404.9 455.6h0M356.2 432.2h0M398.2 472.1h0M366.9 460.5h0M384.7 451.7h0M361.6 450.0h0M378.4 450.8h0M350.9 460.5h0M344.4 440.5h0M383.8 453.7h0M370.4 451.9h0M381.0 449.8h0M341.4 453.7h0M326.5 423.2h0M388.3 464.3h0M361.1 449.5h0M368.4 463.8h0M358.9 452.3h0M377.3 436.8h0M366.2 441.2h0M353.8 466.7h0M363.0 437.0h0M367.8 437.1h0M375.2 461.7h0M380.9 436.4h0M365.3 475.0h0M364.4 467.3h0M387.5 432.1h0M383.4 460.5h0M378.9 472.9h0M373.4 451.5h0M375.4 445.9h0M373.9 423.7h0M390.3 443.4h0M374.5 454.6h0M368.7 452.0h0M368.1 428.7h0M360.0 466.3h0M353.7 436.4h0M395.4 466.5h0M388.0 450.3h0M370.8 460.6h0M347.8 440.7h0M347.2 471.3h0M361.8 447.9h0M370.9 450.5h0M374.1 442.0h0M346.8 473.4h0M357.5 443.9h0M367.2 460.0h0M352.9 453.9h0M357.9 465.9h0M350.5 451.3h0M376.2 432.0h0M368.2 451.9h0M356.2 447.1h0M379.8 453.1h0M361.2 447.1h0M372.6 466.6h0M377.1 459.5h0M387.2 429.5h0M347.7 419.9h0M377.5 419.7h0M366.0 459.6h0M348.2 441.0h0M363.0 459.3h0M346.6 453.8h0M375.6 451.5h0M368.5 466.0h0M362.0 458.1h0M362.6 458.1h0M367.7 464.4h0M356.0 450.6h0M370.9 455.0h0M381.2 454.7h0M378.2 475.2h0M377.4 435.8h0M347.7 458.3h0M361.4 453.4h0M364.1 466.6h0M382.0 434.8h0M369.9 445.6h0M349.3 458.0h0M364.5 455.3h0M398.6 466.8h0M380.7 444.2h0M350.9 465.8h0M361.4 450.8h0M397.7 445.4h0M362.6 452.2h0M370.0 433.9h0M343.2 441.9h0M363.5 439.2h0M353.2 437.1h0M344.9 442.1h0M370.7 447.6h0M348.3 444.6h0M365.7 459.2h0M344.8 458.1h0M359.9 451.8h0M374.8 437.8h0M355.4 447.6h0M375.3 442.0h0M347.5 440.0h0M370.8 464.1h0M359.2 444.8h0M353.5 443.2h0M368.5 450.3h0M366.0 435.9h0M358.6 439.7h0M379.3 467.8h0M370.2 469.6h0M361.9 445.2h0M359.9 450.2h0M372.1 445.9h0M364.9 449.4h0M374.5 446.3h0M362.4 471.4h0M379.7 447.9h0M370.8 460.0h0M397.0 446.0h0M368.0 444.7h0M367.1 444.4h0M352.3 462.5h0M367.8 465.9h0M359.7 452.8h0M374.7 425.3h0M349.3 459.1h0M367.6 425.9h0M356.8 436.0h0M360.1 469.4h0M359.0 434.9h0M398.6 466.5h0M387.8 471.8h0M327.4 433.4h0M374.4 452.8h0M380.6 440.1h0M377.8 464.9h0M376.2 466.7h0M369.6 451.4h0M332.1 453.8h0M365.9 453.3h0M353.4 458.5h0M378.9 436.1h0M372.4 464.0h0M381.5 432.0h0M343.0 449.7h0M347.3 434.0h0M378.9 440.0h0M343.0 438.7h0M329.1 431.4h0M360.5 446.7h0M339.6 434.6h0M345.1 450.5h0M360.2 424.3h0M377.3 434.5h0M371.7 430.4h0M369.6 445.3h0M364.3 456.9h0M372.6 450.5h0M358.2 475.4h0M377.5 468.2h0M356.4 455.8h0M388.4 457.4h0M370.9 449.6h0M343.3 430.9h0M332.3 455.4h0M357.6 435.2h0M371.3 437.1h0M373.5 435.0h0M373.5 426.0h0M387.1 416.8h0M354.2 443.6h0M356.0 426.7h0M329.0 437.8h0M368.4 465.6h0M356.4 455.1h0M356.5 459.2h0M350.4 437.3h0M348.7 435.8h0M374.7 453.7h0M351.2 445.1h0M355.7 460.0h0M384.2 460.9h0M367.6 466.1h0M370.3 475.1h0M346.8 467.9h0M373.0 444.9h0M349.6 431.8h0M403.6 471.5h0M366.8 452.2h0M348.4 413.8h0M325.1 437.0h0M360.9 426.3h0M381.8 458.3h0M367.8 415.2h0M355.8 478.8h0M388.7 457.0h0M369.2 463.3h0M396.4 449.8h0M359.2 459.5h0M355.3 448.2h0M360.2 454.9h0M366.6 449.8h0M361.4 457.1h0M353.1 467.2h0M327.3 452.4h0M374.2 424.3h0M354.8 473.6h0M361.4 431.7h0M366.5 460.1h0M367.2 435.5h0M380.9 459.0h0M347.5 439.5h0M394.6 430.3h0M380.7 479.4h0M378.7 453.3h0M394.3 455.2h0M364.1 444.6h0M389.6 461.7h0M398.3 442.1h0M357.4 440.2h0M370.5 435.3h0M384.7 454.9h0M324.1 475.8h0M362.9 451.3h0M354.9 456.0h0M328.3 449.7h0M379.7 457.5h0M361.5 424.1h0M381.8 443.1h0M363.8 447.0h0M353.9 434.7h0M351.2 423.9h0M369.7 445.1h0M386.6 414.0h0M390.0 447.1h0M346.2 420.0h0M384.0 444.3h0M380.0 464.1h0M356.6 467.9h0M380.1 447.0h0M391.8 475.1h0M339.1 464.9h0M370.4 465.0h0M337.8 453.1h0M342.7 442.2h0M395.5 445.9h0M339.2 467.8h0M348.9 418.9h0M388.9 453.3h0M371.8 433.3h0M395.7 446.2h0M320.9 426.9h0M381.1 434.7h0M366.1 438.5h0M365.0 424.7h0M376.1 466.9h0M351.5 467.5h0M357.9 454.0h0M348.0 433.3h0M331.3 452.7h0M339.5 426.3h0M350.4 457.4h0M370.9 435.5h0M373.8 473.8h0M352.7 470.8h0M338.2 453.1h0M334.3 470.0h0M375.1 473.1h0M353.2 439.9h0M347.4 430.2h0M391.6 456.9h0M385.6 455.7h0M368.5 425.1h0M354.6 426.8h0M322.0 465.4h0M356.9 440.5h0M343.0 462.7h0M384.6 424.7h0M368.0 452.5h0M343.4 447.1h0M354.5 475.8h0M378.7 454.8h0M368.0 464.4h0M353.3 430.9h0M322.7 470.8h0M375.2 460.5h0M365.0 479.9h0M342.4 471.1h0M337.2 449.9h0M357.6 456.4h0M351.0 421.7h0M376.4 472.6h0M380.1 447.1h0M372.7 415.8h0M356.5 470.1h0M373.9 431.8h0M382.6 445.5h0M379.9 421.3h0M370.4 458.6h0M363.6 444.3h0M374.2 464.5h0M330.5 442.0h0M359.3 451.1h0M386.1 422.9h0M375.5 415.2h0M347.2 438.2h0M357.9 436.5h0M352.5 441.6h0M357.9 413.1h0M333.1 439.8h0M375.4 467.1h0M346.6 451.5h0M378.8 450.7h0M340.6 446.2h0M362.9 421.5h0M337.4 470.8h0M358.1 474.3h0M377.2 431.8h0M391.4 437.5h0M362.1 462.8h0M367.9 431.1h0M375.5 488.2h0M376.5 488.8h0M376.2 493.5h0M377.6 481.0h0"/>
<path stroke="#f4dc2a" stroke-width="1.7" stroke-linecap="round" d="M359.7 447.6h0M354.4 429.6h0M363.3 434.8h0M365.2 441.1h0M364.4 437.7h0M353.4 452.3h0M356.5 447.8h0M360.7 440.3h0M363.1 441.2h0M365.2 435.2h0M357.7 444.7h0M356.7 441.2h0M362.7 439.2h0M365.1 436.7h0M364.3 444.1h0M366.7 437.9h0M355.6 429.9h0M366.9 455.7h0M349.9 440.2h0M368.6 438.8h0M363.5 437.4h0M372.2 431.8h0M369.5 443.2h0M359.1 439.0h0M363.7 471.7h0M360.5 441.6h0M354.3 447.1h0M356.6 436.8h0M365.0 440.2h0M359.1 446.4h0M359.9 443.8h0M368.1 445.2h0M356.6 435.9h0M372.6 422.6h0M363.6 435.8h0M360.5 437.7h0M355.7 437.9h0M367.7 427.9h0M357.6 443.2h0M366.1 443.2h0M355.4 447.6h0M367.7 453.1h0M362.5 441.5h0M368.6 435.9h0M363.4 437.1h0M368.5 439.6h0M362.2 441.8h0M368.8 438.9h0M353.9 431.0h0M358.9 433.9h0M366.5 432.5h0M363.7 451.9h0M355.1 432.9h0M366.8 442.8h0M362.6 426.5h0M358.8 438.8h0M363.2 441.0h0M355.2 437.5h0M355.5 437.3h0M362.1 437.4h0M359.5 437.8h0M358.4 439.9h0M364.2 437.8h0M373.3 444.6h0M353.4 442.2h0M361.5 441.6h0M365.4 445.8h0M360.1 444.8h0M363.7 435.4h0M367.2 450.0h0M366.4 434.4h0M364.8 440.8h0M349.6 441.9h0M362.3 438.7h0M350.6 426.9h0M359.6 441.2h0M363.6 446.7h0M362.5 439.3h0M362.4 440.6h0M366.0 449.7h0M358.7 444.0h0M367.0 440.8h0M363.0 445.3h0M363.1 433.5h0M356.9 446.8h0M358.7 428.2h0M361.0 441.1h0M362.0 435.0h0M352.0 441.4h0M364.2 448.6h0M358.2 436.8h0M358.7 445.2h0M351.8 441.6h0M344.1 448.0h0M364.5 449.2h0M366.3 447.0h0M362.7 441.9h0M364.7 441.0h0M354.6 440.7h0M349.6 441.1h0M350.2 441.7h0M359.7 443.1h0M366.4 446.9h0M366.5 429.6h0M369.6 447.2h0M347.4 436.5h0M356.0 454.9h0M356.8 431.9h0M356.2 447.5h0M365.2 433.3h0M363.3 464.9h0M381.3 451.4h0M373.5 458.2h0M374.4 458.1h0M372.9 445.0h0M364.9 448.5h0M364.6 444.2h0M369.7 440.7h0M362.9 452.4h0M361.8 448.9h0M381.1 446.2h0M364.7 444.7h0M374.9 454.3h0M372.5 446.8h0M370.6 455.3h0M374.9 466.3h0M354.1 457.2h0M362.9 448.2h0M375.6 461.1h0M371.4 458.7h0M376.0 442.8h0M368.8 459.3h0M364.6 457.2h0M363.5 441.7h0M367.0 449.0h0M378.5 460.7h0M365.5 438.2h0M381.9 445.8h0M382.4 449.6h0M360.3 443.7h0M357.0 438.7h0M370.7 445.2h0M374.7 449.3h0M356.4 442.9h0M369.3 449.3h0M362.4 450.1h0M361.0 447.8h0M363.5 447.2h0M349.0 451.9h0M351.3 448.4h0M353.8 443.4h0M369.9 439.9h0M366.6 423.6h0M372.2 448.8h0M359.6 447.9h0M362.9 447.9h0M360.6 433.1h0M353.2 443.9h0M367.1 451.6h0M345.8 445.4h0M358.0 443.7h0M369.8 437.6h0M349.8 440.4h0M396.9 448.5h0M345.4 439.6h0M352.2 454.2h0"/>
<path d="M470.7 431.0L465.6 430.7M490.7 397.4L484.3 402.4M476.7 430.1L474.4 433.8M482.1 409.5L480.7 401.9M467.9 407.9L466.0 406.4M465.0 409.5L462.9 402.5M458.9 415.5L464.6 421.0M467.5 404.1L462.6 401.0M469.6 406.4L477.0 411.3M440.7 417.8L446.9 415.0M464.5 400.8L465.8 405.9M454.9 410.9L456.2 415.4M470.1 419.7L470.1 411.3M469.8 426.5L470.1 426.6M461.4 404.4L461.1 406.7M453.0 413.8L458.1 408.6M480.8 402.4L480.7 401.9M474.4 403.4L468.5 409.4M471.2 427.2L465.1 429.7M478.2 421.6L486.3 419.8M482.8 417.9L487.3 421.6M453.3 410.2L455.5 409.3M454.4 433.7L456.4 433.8M441.2 407.9L450.1 409.3M443.6 418.2L451.2 415.9M477.8 411.7L477.2 418.5M468.3 418.5L468.5 421.9M435.6 421.7L431.8 417.6M478.2 435.9L479.4 427.7M457.0 406.4L457.8 411.1M479.5 420.5L483.2 422.2M484.4 433.4L481.2 426.5M465.0 418.5L469.7 417.1M462.0 411.5L468.6 413.7M471.6 395.2L468.5 402.8M479.7 431.3L474.6 428.3M464.9 411.5L461.7 419.8M471.2 424.4L470.2 416.4M474.3 432.0L478.2 435.9M477.1 441.5L478.5 433.5M458.8 410.9L466.6 409.1M468.6 413.7L469.6 411.1M468.6 414.1L466.9 416.6M450.3 441.3L456.8 442.1M485.5 420.6L485.9 417.5M473.8 434.1L470.4 435.9M463.6 412.7L464.9 415.1M472.9 405.9L469.4 403.8M475.7 430.5L476.5 424.2M455.2 401.0L457.6 400.8M471.9 423.4L469.2 429.5M458.8 420.3L452.4 419.9M484.4 433.4L484.7 430.7M459.2 405.8L463.3 405.9M475.4 425.5L480.4 422.4M491.7 426.9L487.6 426.5M469.6 397.2L466.1 394.4M466.9 405.0L465.4 412.7M470.8 406.9L472.1 406.7M472.1 405.5L474.4 402.8M497.8 423.1L495.7 420.6M479.7 434.6L483.5 432.0M473.0 431.3L472.2 424.2M473.8 437.2L467.8 430.9M452.8 425.9L458.8 420.4M482.4 440.8L478.4 437.4M467.1 412.2L473.1 413.2M480.4 430.5L478.5 433.5M470.6 412.3L465.0 409.5M476.5 425.3L478.0 427.8M469.6 397.2L470.2 405.1M475.1 418.0L474.0 410.3M460.3 403.9L456.8 398.8M479.0 436.4L473.0 430.7M480.8 415.8L482.0 421.9M461.7 443.3L456.2 438.7M459.3 402.2L466.6 401.4M447.9 408.4L444.8 413.1M480.9 426.2L474.6 428.3M476.6 408.4L470.6 412.3M461.3 413.3L465.0 409.5M481.2 423.0L477.3 429.4M462.3 420.1L466.5 427.2M474.0 417.4L469.1 418.7M466.1 426.0L472.9 424.7M466.1 396.5L464.1 401.0M459.3 446.7L456.2 438.7M466.6 401.4L471.6 396.6M456.4 403.0L450.1 409.3M484.3 426.5L478.4 432.8M467.4 427.8L463.9 421.5M456.1 417.2L457.7 410.0M469.7 407.2L467.1 414.6M458.8 416.1L463.2 411.0M480.1 431.3L484.4 433.7M425.5 433.3L432.4 428.9M460.9 408.1L460.2 409.1M437.8 437.9L445.5 440.5M481.0 436.1L479.4 435.0M481.1 448.9L482.9 440.7M484.7 413.8L478.8 409.9M471.2 428.2L478.4 432.8M467.9 402.1L470.1 397.3M473.0 427.7L472.8 435.5M468.0 409.8L468.7 403.1M474.0 410.3L480.8 412.8M471.4 414.9L471.6 413.1M466.6 401.4L463.9 395.6M473.1 413.2L469.8 413.0M472.9 400.5L469.7 399.6M467.5 413.3L476.4 412.9M470.7 417.9L470.3 410.7M468.5 392.6L462.7 399.4M468.6 413.7L465.5 410.3M468.0 409.8L470.5 416.9M462.4 395.8L454.7 391.8M487.5 418.5L486.7 427.4M484.7 421.5L489.7 426.8M474.6 434.3L479.4 435.0M484.5 417.7L482.1 419.0M497.4 415.1L492.3 421.4M474.9 420.0L480.9 422.9M473.9 413.9L474.8 412.6M451.0 407.9L454.2 412.2M446.2 410.1L448.6 403.0M467.0 422.7L459.9 423.0M468.8 437.4L474.1 431.0M476.4 412.9L468.6 411.0M446.5 417.6L446.9 415.0M467.1 412.2L467.9 417.0M487.4 431.9L479.9 433.6M468.5 402.8L469.0 406.1M465.8 433.3L471.8 430.5M478.5 426.9L483.9 424.0M462.3 407.0L469.5 412.1M453.1 402.2L451.5 410.9M465.5 410.3L468.2 403.8M461.7 404.7L466.3 398.9M476.7 430.1L474.6 425.1M464.0 414.6L460.2 409.1M478.6 426.0L474.4 433.9M441.3 421.0L447.2 418.3M452.2 403.7L450.3 409.8M475.1 418.0L480.6 412.7M467.1 403.7L463.4 407.9M467.1 414.6L463.1 409.1M467.8 424.8L466.1 426.0M465.3 415.8L460.3 412.2M452.4 419.9L458.6 414.6M464.4 427.0L465.5 426.0M459.1 403.9L466.4 400.7M479.3 422.5L486.2 423.2M471.4 414.9L468.2 412.6M472.3 427.5L469.6 430.3M469.2 429.5L477.2 432.8M475.9 409.1L473.2 413.0M467.9 417.0L460.8 417.8M476.8 412.5L484.2 412.1M475.2 432.6L473.6 426.9M466.9 405.0L467.5 405.9M477.4 399.7L476.5 399.8M478.7 421.6L474.6 416.6M480.6 412.7L475.8 417.9M472.3 428.6L469.7 421.0M508.4 423.5L508.5 417.5M458.8 416.1L464.4 414.7M471.3 411.2L464.0 409.5M463.9 421.5L467.9 419.6M463.9 395.6L469.3 399.6M474.5 413.8L481.7 417.9M482.0 419.2L480.6 412.7M451.9 381.7L449.7 387.9M430.9 401.3L436.6 407.7M461.2 392.8L462.9 389.3M472.7 406.8L465.7 409.7M497.4 415.1L500.5 413.9M469.4 410.1L462.0 411.5M465.8 411.3L469.3 408.8M471.9 443.1L478.4 437.4M462.3 420.1L471.2 418.5M462.7 407.0L458.8 410.9M474.2 415.5L481.2 417.5M477.3 426.5L472.0 424.9M454.0 419.2L455.5 421.4M480.1 403.2L474.0 403.2M508.4 423.5L503.0 417.8M453.4 401.7L460.3 405.1M487.6 437.5L484.3 438.8M476.5 424.2L481.1 428.2M449.7 387.9L452.4 386.8M475.9 429.3L473.3 429.0M467.8 408.2L466.9 411.9M490.9 423.5L486.2 423.2M499.0 413.8L495.6 414.1M451.5 410.9L455.7 410.0M480.8 404.7L474.1 401.7M480.0 429.5L482.0 428.6M469.6 423.3L474.0 419.9M480.8 402.4L477.4 399.7M476.9 405.5L470.5 408.7M461.4 433.8L465.5 431.6M465.4 398.8L467.9 402.1M460.0 410.5L458.8 410.9M450.4 383.0L458.3 384.1M465.6 423.2L470.6 420.7M463.1 409.1L470.5 408.7M461.1 406.7L464.1 401.0M486.1 415.8L483.9 424.0M469.4 410.1L471.8 409.0M474.7 420.8L474.2 416.0M437.8 437.9L445.5 440.5M481.6 423.4L479.0 425.7M475.7 399.7L470.2 404.8M475.6 412.6L469.2 416.7M474.1 429.6L471.6 427.9M467.9 405.6L473.7 411.5M485.9 414.4L477.8 410.9M481.2 426.5L475.9 422.5M461.9 426.4L459.6 432.4M476.8 412.5L473.7 418.7M477.4 427.5L472.2 424.2M478.7 428.4L483.0 421.3M477.7 420.7L480.9 426.2M457.9 397.5L460.3 399.8M470.6 412.3L468.9 413.2M488.3 433.2L486.2 427.7M461.1 424.3L463.2 420.4M460.3 405.1L456.4 408.4M480.6 427.4L472.3 427.5M457.2 404.3L456.7 407.8M480.4 430.5L472.7 431.2M467.6 412.5L462.6 406.9M478.0 414.2L481.4 416.7M446.5 417.6L444.8 413.1M450.1 419.4L456.1 417.2M475.6 423.9L477.4 431.1M462.6 401.0L456.7 394.6M480.6 421.9L473.2 421.3M464.9 425.0L472.2 419.9M453.5 392.6L455.2 401.0M474.1 401.7L478.7 402.1M464.9 411.5L468.5 408.6M480.2 424.4L473.9 429.6M472.6 397.3L470.5 397.1M480.6 414.4L483.5 422.3M462.1 428.0L470.2 431.3M465.5 402.9L470.5 397.1M471.3 405.0L462.7 407.0M459.4 409.7L466.5 404.9M460.7 414.1L463.3 411.9M474.1 414.6L473.9 420.0M459.1 403.9L466.0 404.2M463.4 407.7L462.7 399.4M481.5 435.4L486.5 431.0M460.3 412.2L459.4 412.2M475.7 430.5L474.0 425.5M482.1 409.5L482.4 410.7M452.8 425.9L458.8 420.4M485.2 432.3L482.8 435.7M467.8 426.2L465.7 418.9M481.7 417.9L476.8 412.5M465.9 439.3L468.8 442.9M477.9 397.0L480.9 403.7M444.8 408.9L444.8 413.1M464.1 408.2L462.3 407.0M470.7 400.1L467.9 402.1M470.6 413.0L476.0 414.7M468.6 414.1L467.9 411.2M471.2 425.0L477.3 420.7M453.2 413.6L456.9 410.1M461.9 407.8L469.7 409.1M436.6 407.7L430.9 401.3M472.1 403.8L468.4 396.8M457.6 402.7L465.6 405.3M488.3 433.2L482.4 432.7M470.3 420.1L462.7 420.0M457.8 411.1L458.7 411.6M481.3 426.7L479.2 430.9M463.4 419.7L464.9 411.5M466.5 427.2L475.3 427.4M474.4 421.5L479.5 422.6M460.3 412.2L463.2 415.5M465.0 418.5L473.6 421.0M454.4 406.8L462.1 408.6M475.6 412.6L479.5 417.9M469.6 430.3L475.4 426.6M457.3 406.9L460.2 409.1M467.6 406.9L466.1 406.8M448.5 427.2L450.2 427.6M474.3 428.5L469.4 421.2M471.5 436.3L476.6 435.5M470.5 400.9L472.1 403.8M470.2 431.3L471.3 433.6M437.8 437.9L445.9 439.0M485.3 426.2L488.7 429.3M464.2 408.2L465.7 409.6M470.8 406.2L468.3 408.2M458.8 415.9L463.4 418.1M451.8 412.5L454.2 414.9M478.1 422.8L473.7 424.1M467.0 407.1L468.4 414.4M479.9 421.1L476.8 414.2M482.7 403.1L480.7 399.7M470.7 417.9L478.7 421.6M460.4 418.2L458.8 413.1M477.7 432.4L474.6 432.6M474.5 427.9L472.2 419.9M458.1 408.6L459.3 402.2M453.1 407.0L457.6 400.8M467.8 408.2L468.4 414.3M476.4 427.3L476.2 425.0M470.6 420.7L473.7 414.9M460.0 415.7L466.2 409.8M480.2 427.6L477.3 426.5M478.2 417.2L482.8 417.9M468.6 414.1L460.7 410.9M472.0 393.0L467.0 389.6M481.1 407.8L476.4 404.1M459.9 419.5L466.1 422.8M480.4 430.5L475.3 427.4M458.3 409.7L459.7 415.0M473.3 412.2L466.3 412.3M460.5 406.6L459.4 403.0M457.4 419.1L465.9 419.3M471.2 427.2L471.2 424.4M485.0 416.4L493.5 415.0M479.2 415.5L473.7 421.4M475.4 426.6L470.4 423.6M470.4 412.4L466.6 409.1M463.4 419.6L468.0 423.2M454.9 421.0L460.1 420.9M463.4 407.9L462.7 399.4M464.0 409.5L459.4 403.0M484.4 433.4L476.3 429.8M458.2 404.6L456.8 408.9M468.7 430.5L473.7 431.3M460.4 408.4L464.1 408.2M468.5 447.8L474.7 442.4M470.7 423.3L475.8 421.2M469.6 423.3L467.4 428.3M478.7 402.1L484.3 402.4M463.4 407.7L463.4 411.7M452.6 420.8L453.5 417.0M477.8 410.9L475.8 403.4M459.6 417.7L461.2 415.6M478.4 432.8L477.4 427.5M471.9 431.7L479.4 435.0M487.8 412.0L480.8 415.8M488.3 427.3L488.0 421.7M457.2 404.3L458.7 405.4M479.5 410.7L477.3 417.3M466.3 398.9L460.1 404.7M478.3 422.8L482.8 420.7M479.0 456.1L479.7 461.4M488.2 426.0L481.4 427.7M454.8 412.7L458.1 408.6M478.0 412.8L479.4 405.4M469.2 427.1L469.8 428.4M481.9 418.7L477.5 423.2M462.2 417.7L465.5 410.3M470.7 442.1L475.1 438.7M469.7 414.4L472.0 410.4M472.3 427.5L466.2 432.0M461.7 443.3L468.4 442.6M472.0 438.8L467.2 433.9M464.2 414.8L469.6 411.1M472.7 440.5L469.2 436.8M448.9 407.5L450.9 400.5M454.4 433.7L456.6 435.7M451.4 400.2L451.5 401.2M470.5 416.9L463.2 415.5M486.4 417.2L483.1 418.0M472.5 420.3L477.4 419.3M456.8 398.8L455.6 403.7M467.2 419.8L472.5 420.3M475.0 415.9L475.6 423.9M461.2 425.1L457.6 421.1M468.5 412.7L471.5 412.6M475.8 429.8L477.4 426.9M478.4 422.2L482.0 419.2M459.7 415.4L460.8 415.0M481.2 426.5L475.7 432.1M462.8 405.3L459.8 403.9M484.7 421.5L488.4 417.6M476.6 427.1L473.9 429.1M465.8 415.9L459.9 419.5M482.1 419.0L477.0 426.1M479.9 410.4L485.3 411.0M468.8 411.5L464.7 415.0M464.0 398.3L465.1 406.0M487.6 437.5L479.9 434.5M466.9 412.3L469.6 406.4M473.9 432.9L482.7 430.9M502.1 434.7L498.9 434.4M456.5 404.1L451.5 410.9M464.4 427.0L469.7 426.5M472.0 393.0L465.1 397.7M475.6 431.1L469.5 429.2M466.0 421.1L460.4 422.7M463.0 405.7L456.5 400.4M459.1 403.9L457.4 411.1M462.3 394.2L466.9 400.3M463.0 401.5L462.9 402.5M466.6 409.8L470.4 410.8M484.2 412.1L479.2 411.8M486.1 428.6L485.5 420.6M483.4 389.2L477.7 392.2M469.5 429.2L472.8 435.5M458.8 420.4L466.4 415.8M484.4 404.3L480.2 399.1M480.4 422.4L477.0 418.6M477.9 420.7L475.2 416.7M485.0 416.4L487.3 424.4M475.0 415.6L473.2 413.0M471.4 399.0L468.2 403.8M462.0 418.8L457.4 411.1M478.7 429.6L470.2 432.7M473.3 427.9L473.3 419.1M460.4 418.2L464.0 416.4M468.6 411.0L465.0 408.4M481.1 448.9L479.0 456.1M459.5 418.5L467.3 414.9M463.2 395.7L456.8 398.8M454.3 405.3L460.1 404.7M482.9 419.8L485.7 424.2M482.7 420.1L479.9 425.4M466.4 416.1L466.0 407.2M471.4 414.9L468.6 411.0M471.9 443.1L474.7 442.4M426.2 438.7L427.6 443.7M479.1 419.4L478.2 415.7M473.9 413.9L470.5 416.9M477.5 412.3L483.1 417.4M463.0 398.0L462.5 402.8M452.8 427.0L455.7 422.1M456.9 426.4L462.4 420.2M488.1 392.6L483.4 389.2M467.1 412.2L466.2 407.1M482.6 420.9L483.1 427.9M453.3 408.3L451.5 410.9M488.2 419.6L480.7 422.5M472.2 427.5L473.1 424.2M447.6 415.9L450.9 418.7M465.5 426.0L467.8 433.8M459.9 423.7L459.5 418.5M482.4 404.0L482.4 410.7M469.6 411.1L463.6 412.7M479.7 461.4L480.0 456.7M478.5 426.9L483.7 420.0M437.8 437.9L440.9 438.7M469.1 433.7L467.0 428.5M463.1 409.1L456.4 408.4M480.6 433.2L479.4 427.7M463.9 416.8L461.9 414.9M459.4 416.5L462.4 420.2M453.1 399.7L448.9 407.5M463.4 428.6L471.9 426.0M462.9 389.3L466.2 396.3M474.2 415.5L471.9 410.4M460.0 427.1L464.9 421.3M463.1 422.2L466.0 423.8M464.2 408.2L462.9 402.5M481.3 426.7L487.4 432.8M453.3 424.8L453.5 417.0M462.2 426.6L455.8 430.4M453.7 412.4L458.3 409.6M474.5 427.9L474.3 427.9M466.3 418.5L460.7 414.1M481.4 416.7L486.1 413.4M479.3 395.3L473.5 401.8M467.7 416.5L469.7 417.1M482.9 397.2L491.0 400.0M467.5 404.1L474.0 403.2M479.5 422.6L480.8 415.8M463.3 426.7L464.4 427.0M454.2 414.9L455.0 414.5M451.3 415.9L448.0 414.6M474.8 416.8L477.0 418.6M482.8 417.9L474.4 417.5M469.9 424.9L468.8 420.3M499.9 417.7L491.5 419.2M453.5 417.0L455.4 419.1M451.7 408.9L459.4 412.2M462.4 420.2L460.0 415.7M482.1 423.6L477.1 417.6M479.1 429.0L479.3 422.5M481.3 433.8L486.9 428.4M470.4 424.0L468.4 416.4M460.7 410.9L457.2 404.3M475.4 426.6L484.4 426.9M455.1 432.2L450.3 435.8M453.7 412.4L459.4 409.7M481.2 417.5L473.6 413.1M471.4 412.4L466.0 406.4M480.6 427.4L478.0 422.5M472.4 411.3L474.2 402.7M473.9 419.6L470.3 423.7M467.3 414.9L474.2 414.2M466.8 408.9L458.5 408.5M485.1 424.2L488.0 421.7M484.1 421.1L480.4 423.4M477.2 418.5L479.9 425.4M480.6 412.7L471.9 410.4M477.8 411.7L476.4 404.1M469.1 414.0L470.7 415.9M474.1 414.6L472.7 407.3M475.1 436.3L472.7 431.0M462.0 418.8L456.1 415.6M470.8 406.9L465.8 405.9M458.7 407.6L450.3 409.8M454.9 410.9L461.5 411.6M483.4 426.4L482.0 428.6M478.0 427.4L479.1 426.1M482.5 418.9L479.0 425.7M456.7 405.0L464.0 409.5M480.4 436.7L472.6 435.9M473.7 437.5L473.2 436.6M477.7 392.2L472.6 397.3M469.2 429.5L465.1 429.7M467.5 405.9L465.2 413.9M471.5 436.3L470.2 432.7M458.9 426.4L456.4 433.8M466.4 400.7L468.7 401.2M458.2 410.0L465.8 406.6M502.1 434.4L498.2 431.7M477.9 397.0L478.7 402.1M480.9 430.1L473.3 429.0M453.7 409.6L454.5 404.1M481.9 418.7L479.8 415.6M467.0 409.6L467.1 403.7M456.9 420.2L462.6 416.1M474.4 418.4L480.4 413.4M477.3 422.6L470.1 417.7M479.7 431.3L484.4 433.7M475.5 427.2L472.3 427.2M477.4 427.1L477.9 426.0M463.2 420.4L456.1 417.2M463.4 419.6L460.0 427.1M478.9 435.0L483.5 432.0M470.2 405.8L470.2 405.1M479.3 433.7L471.3 433.6M460.3 399.8L467.1 403.7M486.4 417.2L485.3 411.0M478.2 419.3L482.7 420.1M461.5 413.7L468.9 418.2M486.5 431.0L483.2 425.4M469.7 414.4L476.0 413.4M475.6 412.6L470.4 408.2M473.8 424.6L471.9 423.4M472.0 427.3L473.0 430.7M464.9 418.7L467.8 424.8M470.2 404.8L465.9 406.7M465.1 397.7L467.2 404.4M487.3 424.4L491.5 419.2M462.6 416.1L466.2 409.8M462.1 408.6L468.7 412.4M463.6 437.3L468.3 437.0M484.1 421.1L491.5 418.2M478.4 432.8L473.8 437.2M462.8 414.2L465.0 418.5M470.1 397.3L466.4 389.4M472.0 418.2L478.4 423.0M468.5 409.4L468.9 413.2M473.9 420.0L477.4 420.8M460.1 435.8L456.8 428.6M469.4 410.1L466.8 402.7M478.2 393.2L472.6 397.3M459.2 427.9L465.6 424.6M482.2 434.2L477.3 429.4M479.8 428.2L476.8 429.9M465.1 397.7L463.1 400.2M475.3 420.7L473.3 412.2M457.3 406.9L453.7 412.4M449.7 387.9L454.7 391.8M462.1 428.0L462.2 426.6M461.9 412.0L460.8 415.0M460.1 404.7L453.5 408.6M456.4 408.4L462.7 412.7M481.3 426.7L474.3 427.9M461.9 414.9L468.9 413.7M486.0 410.1L481.4 416.7M436.6 407.7L430.9 401.3M445.5 440.5L450.7 439.2M480.8 402.4L479.5 410.7M462.8 405.3L468.8 400.7M479.9 421.1L483.1 427.9M476.1 434.5L478.2 435.9M465.0 392.0L462.0 399.3M475.2 398.3L480.2 399.1M471.2 421.0L469.3 416.7M478.5 433.5L476.3 425.2M477.0 402.9L470.5 408.7M475.9 422.5L469.2 416.7M471.9 423.4L478.7 421.6M484.2 447.3L479.9 440.5M473.1 413.2L465.9 409.8M464.4 414.7L470.5 408.5M459.7 403.4L459.8 401.5M471.2 417.2L468.1 412.1M464.9 408.8L459.7 415.4" stroke="#8cc8e0" stroke-width="0.35" stroke-opacity="0.35" fill="none"/>
<path stroke="#11598a" stroke-width="1.7" stroke-linecap="round" d="M464.6 421.0h0M473.4 405.7h0M462.1 405.6h0M468.5 409.4h0M469.8 394.8h0M475.9 409.1h0M469.3 408.8h0M461.5 413.7h0M470.4 408.2h0M463.2 415.5h0M457.9 397.5h0M467.2 404.4h0M450.1 403.2h0M460.8 400.1h0M453.3 410.2h0M470.9 408.0h0M458.8 413.1h0M468.3 418.5h0M462.8 403.2h0M472.4 399.4h0M459.4 403.0h0M451.5 410.9h0M468.2 403.8h0M474.6 416.6h0M468.9 413.2h0M471.4 399.0h0M468.8 414.8h0M451.2 412.7h0M462.4 416.3h0M461.1 409.8h0M472.3 414.9h0M463.0 415.1h0M473.6 424.6h0M452.7 417.1h0M455.0 414.5h0M473.9 396.8h0M462.1 399.2h0M466.1 422.3h0M479.3 395.3h0M476.0 413.4h0M458.8 412.3h0M458.9 413.1h0M462.7 399.4h0M460.7 419.8h0M462.9 398.1h0M474.2 414.2h0M479.9 410.4h0M460.9 398.0h0M474.1 431.0h0M458.2 404.6h0M462.3 407.0h0M465.7 418.9h0M464.5 417.4h0M461.2 412.6h0M448.5 398.0h0M470.2 405.1h0M468.6 414.3h0M474.1 416.6h0M471.8 409.0h0M459.1 403.9h0M460.7 400.6h0M460.2 409.1h0M450.1 409.3h0M466.0 418.8h0M458.9 426.4h0M469.9 424.9h0M480.1 403.2h0M467.2 413.7h0M468.4 414.3h0M465.8 411.3h0M453.2 408.5h0M458.8 410.9h0M460.8 415.0h0M470.4 412.4h0M461.0 408.6h0M460.6 413.1h0M464.4 414.7h0M454.5 417.2h0M458.7 403.9h0M456.4 403.0h0M474.0 410.3h0M455.7 410.0h0M452.8 424.6h0M453.0 413.8h0M468.3 398.0h0M466.5 418.1h0M471.3 411.2h0M466.8 408.9h0M469.0 402.2h0M456.2 412.9h0M476.8 417.8h0M460.5 415.6h0M460.9 408.9h0M465.0 390.9h0M465.7 401.5h0M459.1 397.8h0M453.1 402.2h0M464.1 418.9h0M462.3 394.2h0M465.4 413.6h0M461.1 412.4h0M453.4 408.1h0M471.6 424.0h0M461.2 415.6h0M471.3 415.7h0M469.8 426.5h0M468.8 420.3h0M475.7 399.7h0M468.0 409.8h0M455.5 419.9h0M466.9 400.3h0M468.8 406.4h0M450.2 404.3h0M466.3 415.1h0M467.8 408.2h0M466.5 414.3h0M456.5 404.1h0M475.6 412.6h0M462.2 412.7h0M460.7 412.2h0M459.4 412.2h0M452.6 420.8h0M460.5 396.9h0M465.4 400.5h0M454.8 412.7h0M462.0 411.5h0M450.9 400.5h0M467.7 409.6h0M476.4 404.1h0M465.6 433.8h0M458.6 402.5h0M470.5 411.0h0M458.7 411.6h0M483.8 420.3h0M443.7 408.7h0M463.0 425.7h0M471.2 417.2h0M465.7 409.6h0M466.8 420.5h0M473.7 411.5h0M463.7 403.4h0M443.6 418.2h0M472.0 413.5h0M467.0 389.6h0M476.2 425.0h0M474.9 400.4h0M448.0 414.6h0M464.5 417.8h0M453.2 413.6h0M461.0 412.8h0M467.7 408.9h0M469.9 414.0h0M460.3 405.1h0M477.2 409.1h0M460.1 403.8h0M465.2 412.0h0M468.8 399.5h0M459.9 409.1h0M476.1 390.5h0M467.5 405.5h0M467.5 405.9h0M467.0 422.7h0M466.9 413.5h0M458.3 409.6h0M462.6 416.1h0M475.1 418.0h0M473.7 414.9h0M463.5 406.5h0M462.2 417.7h0M465.1 397.7h0M464.0 398.3h0M465.5 400.0h0M454.9 410.9h0M463.7 396.3h0M469.8 427.6h0M453.3 424.8h0M463.0 398.0h0M473.9 413.9h0M458.7 407.6h0M453.1 407.0h0M471.2 395.8h0M472.1 421.0h0M460.9 403.8h0M462.0 418.8h0M476.8 412.1h0M462.9 414.6h0M450.3 409.8h0M456.5 429.5h0M462.9 389.3h0M469.6 423.3h0M458.9 415.5h0M469.6 397.2h0M470.1 397.3h0M465.0 418.5h0M455.1 418.0h0M461.2 392.8h0M463.5 401.9h0M466.7 400.3h0M461.9 419.7h0M455.0 419.4h0M469.7 407.2h0M466.1 401.5h0M456.8 403.1h0M466.9 412.3h0M458.8 415.9h0M470.1 411.3h0M463.5 413.8h0M464.0 416.4h0M455.0 421.6h0M458.5 408.5h0M454.1 414.8h0M473.7 418.7h0M470.5 397.1h0M458.5 406.1h0M457.4 419.1h0M467.9 402.1h0M457.6 402.7h0M468.0 412.7h0M468.6 418.7h0M454.3 405.3h0M465.4 398.8h0M460.4 418.2h0M472.5 418.7h0M466.8 420.8h0M464.2 414.8h0M467.9 411.2h0M468.4 396.8h0M457.9 411.2h0M457.4 398.9h0M455.4 402.4h0M463.0 401.5h0M466.0 423.8h0M463.2 420.4h0M466.4 400.7h0M474.1 414.6h0M449.3 416.3h0M475.8 403.4h0M471.6 395.2h0M466.2 396.3h0M467.9 395.2h0M444.8 413.1h0M481.2 405.0h0M470.4 410.8h0M461.9 414.9h0M476.5 399.8h0M468.5 412.7h0M453.8 423.1h0M478.7 402.1h0M477.2 410.4h0M463.1 422.2h0M466.0 412.6h0M475.5 420.5h0M470.9 398.4h0M452.7 419.1h0M457.4 411.1h0M456.4 408.4h0M454.8 423.3h0M456.8 408.9h0M462.9 419.8h0M453.8 409.6h0M462.8 414.2h0M467.8 406.1h0M467.8 409.1h0M459.4 409.7h0M467.0 428.5h0M460.7 412.4h0M475.1 392.9h0M451.4 400.2h0M463.5 429.9h0M467.2 419.8h0M462.7 389.7h0M447.2 418.3h0M465.7 399.3h0M472.6 397.3h0M472.7 421.8h0M458.6 400.8h0M470.5 400.9h0M470.7 400.1h0M461.1 402.6h0M466.1 394.4h0M469.3 399.6h0M477.0 407.3h0M455.9 421.3h0M476.6 408.4h0M457.7 410.0h0M459.2 407.3h0M475.8 413.1h0M465.4 412.7h0M463.9 416.8h0M465.1 429.7h0M479.5 410.0h0M456.2 415.4h0M457.6 405.8h0M459.9 419.5h0M479.4 405.4h0M475.3 420.7h0M463.2 398.3h0M467.7 415.4h0M471.5 410.5h0M473.2 421.3h0M456.5 421.6h0M461.9 425.3h0M471.6 395.2h0M464.9 408.8h0M453.5 417.0h0M457.3 406.9h0M459.8 403.9h0M469.8 413.0h0M459.3 402.2h0M460.8 417.8h0M465.2 411.8h0M465.9 394.8h0M476.2 403.4h0M460.1 420.9h0M460.0 397.1h0M465.7 419.7h0M457.6 421.1h0M456.0 403.9h0M468.0 409.9h0M469.4 403.8h0M456.7 394.6h0M455.4 401.1h0M453.7 412.4h0M459.4 393.6h0M482.7 403.1h0M455.0 420.1h0M472.9 400.5h0M453.4 401.7h0M472.7 407.3h0M458.3 409.7h0M473.2 398.5h0M461.5 398.6h0M480.4 424.8h0M471.3 408.8h0M469.2 392.7h0M466.3 398.9h0M454.5 404.1h0M461.7 414.6h0M457.3 415.4h0M463.4 419.6h0M457.5 387.2h0M460.8 427.5h0M467.8 408.3h0M470.8 414.0h0M464.9 411.5h0M459.5 400.7h0M465.3 417.8h0M469.1 414.0h0M468.0 431.1h0M466.2 418.4h0M478.8 410.3h0M466.3 418.5h0M467.0 410.6h0M455.4 419.1h0M462.4 395.8h0M463.2 395.7h0M456.9 410.1h0M457.5 418.7h0M453.5 412.1h0M468.5 421.9h0M471.2 411.9h0M472.8 404.6h0M468.2 409.2h0M466.2 407.8h0M480.2 404.6h0M466.3 412.3h0M467.5 418.0h0M453.2 410.1h0M455.3 411.9h0M455.6 402.1h0M463.9 421.5h0M468.7 412.4h0M474.8 402.3h0M448.9 406.5h0M462.3 420.1h0M480.2 399.1h0M482.7 422.8h0M470.6 413.0h0M482.4 410.7h0M460.9 411.2h0M454.3 413.9h0M467.1 401.3h0M474.1 401.7h0M471.0 397.0h0M448.3 400.9h0M464.9 415.1h0M453.5 392.6h0M458.0 408.3h0M459.7 403.4h0M453.9 417.3h0M474.9 416.3h0M470.7 419.9h0M469.7 399.6h0M461.5 418.2h0M458.7 410.3h0M467.4 421.8h0M474.0 417.4h0M463.0 417.5h0M474.4 414.1h0M458.8 420.4h0M462.5 414.9h0M453.1 409.8h0M457.4 402.0h0M450.2 427.6h0M463.3 411.9h0M472.6 409.0h0M468.2 398.8h0M454.1 394.8h0M456.9 416.0h0M467.5 413.3h0M449.4 387.9h0M459.7 407.2h0M459.9 412.9h0M463.1 400.2h0M457.8 411.1h0M464.9 409.3h0M481.1 407.8h0M465.2 401.8h0M461.7 414.2h0M450.4 383.0h0M481.4 416.7h0M463.9 395.6h0M454.9 421.0h0M443.7 407.2h0M470.7 411.1h0M469.9 408.8h0M482.0 401.5h0M454.2 412.2h0M474.9 409.4h0M472.1 405.5h0M455.5 421.4h0M475.9 422.5h0M461.1 400.4h0M455.6 408.1h0M468.6 414.1h0M453.7 411.5h0M464.4 410.6h0M466.0 404.2h0M467.2 408.9h0M448.6 413.9h0M462.3 417.5h0M465.9 409.8h0M461.0 395.2h0M477.9 397.0h0M461.8 415.3h0M470.0 420.3h0M466.5 433.7h0M456.8 411.8h0M461.6 405.4h0M466.4 421.9h0M459.0 404.1h0M469.7 414.4h0M478.8 418.3h0M454.2 410.0h0M463.0 408.0h0M461.1 423.8h0M469.5 417.6h0M459.8 401.5h0M461.7 408.4h0M471.4 412.4h0M457.0 406.4h0M459.4 411.4h0M455.7 408.4h0M469.4 410.1h0M457.5 404.8h0M465.2 413.9h0M454.6 421.6h0M461.9 412.0h0M471.9 410.4h0M441.2 407.9h0M466.9 420.5h0M469.6 430.3h0M474.8 421.0h0M471.3 398.6h0M470.6 414.8h0M460.4 414.7h0M463.4 407.7h0M468.3 394.2h0M462.2 396.1h0M460.7 414.1h0M464.8 422.8h0M456.1 417.2h0M453.1 406.1h0M465.8 415.9h0M455.5 409.3h0M461.5 394.0h0M462.9 403.4h0M474.2 402.7h0M476.9 405.5h0M478.6 414.3h0M471.0 421.4h0M477.1 407.1h0M455.0 388.0h0M461.4 416.1h0M451.2 415.9h0M453.5 408.6h0M459.6 406.9h0M456.5 400.4h0M462.6 401.0h0M482.5 406.4h0M459.4 405.3h0M456.3 389.7h0M462.4 412.4h0M453.1 409.9h0M466.9 413.8h0M466.8 415.6h0M462.0 399.3h0M468.8 400.7h0M457.6 400.8h0M470.5 408.5h0M447.6 415.9h0M479.6 424.6h0M460.0 410.5h0M468.0 417.1h0M464.5 400.8h0M454.4 406.8h0M468.1 416.3h0M454.2 414.9h0M474.6 426.0h0M474.9 421.6h0M466.7 415.6h0M458.6 414.6h0M458.1 408.6h0M448.6 403.0h0M461.3 413.3h0M469.3 416.7h0M458.2 410.0h0M461.7 402.6h0M453.1 409.0h0M457.7 427.4h0M461.2 425.1h0M457.2 408.4h0M458.5 408.7h0M463.9 418.8h0M476.1 405.6h0M462.9 402.5h0M444.8 408.9h0M472.9 405.9h0M450.5 411.9h0M464.8 418.0h0M470.9 407.5h0M467.1 395.0h0M472.4 411.3h0M472.2 418.5h0M462.0 408.5h0M457.7 392.8h0M456.1 415.6h0M464.9 413.5h0M458.5 395.3h0M462.1 408.6h0M460.4 393.3h0M470.0 397.5h0M466.1 396.5h0M469.9 420.2h0M458.3 384.1h0M466.7 420.6h0M472.8 405.4h0M463.6 412.2h0M450.9 404.4h0M459.5 422.8h0M459.4 422.7h0M464.4 396.1h0M480.7 401.9h0M468.9 423.9h0M460.3 399.8h0M472.0 410.4h0M455.2 401.0h0M461.4 417.8h0M462.2 415.3h0M476.5 420.3h0M474.9 420.0h0M452.4 419.9h0M466.7 408.9h0M456.3 396.9h0M456.1 409.7h0M455.6 403.2h0M459.7 415.4h0M462.1 408.7h0M474.1 407.3h0M478.0 421.3h0M469.8 422.6h0M473.6 433.0h0M483.0 415.5h0M481.1 421.2h0M479.9 421.1h0M479.9 415.3h0M463.9 420.7h0M468.8 422.1h0M481.0 436.4h0M474.4 435.6h0M484.7 421.5h0M465.5 431.6h0M481.0 443.3h0M486.5 431.0h0M488.3 416.7h0M478.1 422.8h0M488.7 429.3h0M456.0 435.6h0M470.7 431.0h0M473.6 426.9h0M481.2 426.5h0M470.4 435.9h0M479.6 424.9h0M481.7 420.8h0M489.7 426.8h0M479.4 427.7h0M470.7 415.9h0M478.4 427.8h0M486.1 428.6h0M469.5 429.2h0M482.6 432.9h0M479.2 415.5h0M480.8 412.8h0M482.1 418.9h0M484.3 438.8h0M484.9 415.9h0M470.5 418.2h0M481.4 427.7h0M478.0 427.4h0M480.9 430.1h0M488.4 424.6h0M478.3 410.5h0M467.9 419.6h0M468.8 426.7h0M484.0 421.6h0M473.6 421.0h0M477.7 420.7h0M479.8 427.3h0M479.2 430.9h0M488.8 424.6h0M482.2 425.3h0M473.7 421.3h0M471.2 425.0h0M472.7 421.6h0M485.1 423.8h0M484.5 427.0h0M482.7 420.1h0M477.8 445.4h0M482.4 432.7h0M478.4 431.6h0M468.9 418.2h0M479.7 431.3h0M474.0 423.4h0M474.3 423.4h0M468.6 413.7h0M476.2 411.3h0M470.1 419.7h0M469.6 426.7h0M473.7 424.1h0M469.8 419.0h0M480.2 427.6h0M473.5 427.6h0M487.5 421.6h0M479.5 428.0h0M475.0 415.6h0M481.3 426.7h0M476.9 424.8h0M476.7 417.6h0M478.5 410.5h0M476.4 412.9h0M474.1 430.1h0M474.7 420.8h0M480.0 422.4h0M473.7 421.4h0M486.7 429.7h0M479.7 415.2h0M480.6 414.4h0M479.7 415.8h0M489.7 411.3h0M484.7 430.7h0M464.3 422.6h0M486.2 433.3h0M465.1 420.4h0M472.0 438.8h0M477.3 422.6h0M474.1 429.6h0M481.1 417.2h0M486.3 416.0h0M474.5 427.9h0M488.0 421.7h0M478.3 434.6h0M480.6 433.2h0M483.4 426.4h0M480.6 431.5h0M476.2 436.9h0M462.9 417.2h0M486.2 427.7h0M472.0 427.3h0M483.7 420.0h0M481.6 423.4h0M475.6 423.9h0M483.9 415.7h0M473.9 429.6h0M480.2 424.4h0M475.4 425.5h0M469.8 447.1h0M469.7 421.0h0M466.7 421.2h0M486.7 424.6h0M480.4 420.6h0M488.7 425.7h0M467.9 430.4h0M473.9 429.1h0M477.3 426.5h0M477.3 417.3h0M466.2 432.0h0M475.4 426.6h0M467.7 435.3h0M471.0 421.4h0M466.4 420.3h0M473.8 422.7h0M475.9 419.5h0M472.4 424.3h0M478.5 423.3h0M488.2 426.0h0M477.4 419.3h0M483.3 416.4h0M480.5 415.4h0M485.1 424.2h0M466.0 422.6h0M488.4 417.6h0M467.4 428.3h0M485.2 432.3h0M474.1 425.8h0M478.5 433.5h0M490.9 423.5h0M485.1 421.7h0M480.3 417.1h0M471.1 427.6h0M470.2 431.3h0M472.6 424.9h0M475.7 421.7h0M477.2 432.8h0M497.4 415.1h0M478.4 423.0h0M470.1 426.6h0M470.3 423.7h0M484.7 408.6h0M478.0 427.8h0M469.8 428.4h0M478.7 421.6h0M480.7 422.5h0M469.1 423.0h0M473.9 430.7h0M466.1 422.8h0M473.2 436.6h0M468.7 432.6h0M464.4 427.0h0M475.4 427.3h0M471.5 409.1h0M465.8 434.5h0M477.7 417.5h0M482.4 418.5h0M471.2 414.8h0M484.2 439.5h0M469.7 426.5h0M482.9 440.7h0M459.9 425.3h0M480.6 412.7h0M479.0 425.7h0M481.1 419.6h0M479.0 419.4h0M480.3 425.4h0M473.6 413.1h0M487.4 432.8h0M482.1 419.0h0M473.8 437.2h0M481.2 417.5h0M476.5 425.3h0M474.8 416.8h0M484.7 428.8h0M474.8 411.9h0M472.2 424.2h0M482.1 421.3h0M483.7 425.3h0M471.2 402.5h0M475.2 426.9h0M485.7 424.2h0M468.4 442.6h0M474.5 413.8h0M480.6 427.2h0M487.1 432.9h0M482.2 434.2h0M474.4 420.9h0M476.0 414.7h0M475.4 421.8h0M480.9 424.3h0M463.4 424.7h0M486.0 410.1h0M471.2 424.6h0M467.4 420.2h0M476.8 414.2h0M478.4 427.7h0M467.8 424.7h0M483.8 423.1h0M479.4 429.6h0M474.9 432.2h0M479.1 416.8h0M480.1 431.3h0M482.0 419.6h0M479.7 435.3h0M478.1 433.9h0M485.4 424.4h0M481.1 422.4h0M483.9 424.0h0M472.9 424.5h0M476.1 427.7h0M479.8 415.6h0M472.2 427.5h0M479.9 425.4h0M494.6 433.5h0M476.2 430.5h0M485.8 427.6h0M464.8 425.6h0M477.1 441.5h0M464.3 436.9h0M475.7 432.1h0M474.8 426.3h0M484.5 425.6h0M484.0 424.3h0M473.4 424.0h0M486.1 415.8h0M465.6 424.8h0M488.3 433.2h0M485.9 434.8h0M471.9 426.0h0M458.8 420.3h0M481.1 412.9h0M462.9 414.9h0M494.6 436.3h0M478.0 433.4h0M466.0 421.1h0M474.0 425.5h0M475.9 429.3h0M484.3 425.9h0M482.3 440.9h0M470.2 417.2h0M480.7 439.8h0M478.4 433.9h0M475.2 432.6h0M473.0 430.7h0M480.0 428.6h0M486.7 433.9h0M473.3 432.5h0M465.8 433.3h0M496.1 429.8h0M480.9 426.2h0M483.2 422.2h0M482.1 423.6h0M474.7 426.8h0M477.2 412.3h0M491.7 426.9h0M466.1 434.3h0M477.4 427.5h0M482.5 418.9h0M479.3 433.7h0M472.5 423.8h0M480.4 423.4h0M476.0 427.9h0M470.9 438.2h0M471.4 426.2h0M475.4 420.3h0M481.3 433.8h0M487.5 430.4h0M474.6 432.6h0M467.8 426.2h0M481.2 430.2h0M469.8 414.1h0M488.9 421.8h0M466.4 416.1h0M477.6 434.9h0M477.5 435.1h0M479.0 429.4h0M484.2 422.7h0M479.5 422.6h0M473.1 430.7h0M471.8 426.2h0M472.0 424.9h0M473.8 434.1h0M477.9 426.1h0M488.5 402.9h0M469.7 404.0h0M477.2 428.8h0M481.6 427.4h0M471.2 439.0h0M479.2 423.2h0M469.5 428.5h0M473.7 421.7h0M478.5 426.9h0M471.5 434.9h0M470.2 416.4h0M479.1 426.1h0M477.5 421.9h0M477.3 420.7h0M465.7 430.8h0M470.1 423.3h0M481.9 425.2h0M495.6 414.1h0M471.8 425.7h0M486.1 423.1h0M467.2 433.9h0M470.6 423.5h0M482.9 419.8h0M473.8 428.8h0M475.5 427.2h0M470.4 424.0h0M469.4 412.8h0M488.8 428.5h0M483.1 417.4h0M476.6 423.3h0M467.2 429.2h0M471.9 423.4h0M466.5 432.7h0M482.0 428.0h0M470.6 420.7h0M485.1 422.8h0M478.6 426.0h0M469.2 436.8h0M463.3 426.7h0M476.2 412.3h0M477.2 418.5h0M479.9 433.6h0M478.3 438.4h0M482.7 430.9h0M486.3 419.8h0M473.3 429.0h0M480.4 436.7h0M484.6 426.3h0M478.3 422.8h0M474.4 421.5h0M483.0 421.3h0M474.5 426.3h0M473.4 423.2h0M462.1 428.0h0M493.4 426.5h0M478.4 411.4h0M481.5 428.7h0M475.0 427.6h0M486.2 423.2h0M471.5 436.3h0M479.5 424.6h0M493.4 427.3h0M476.6 428.1h0M475.1 427.7h0M478.8 420.9h0M476.0 428.4h0M480.4 430.5h0M483.1 427.9h0M481.2 423.0h0M475.9 434.0h0M464.2 428.8h0M499.1 411.4h0M487.8 412.0h0M480.0 438.3h0M487.5 418.5h0M468.5 414.3h0M482.2 422.4h0M477.3 427.4h0M480.0 429.5h0M478.0 412.8h0M487.0 403.9h0M485.5 420.6h0M475.8 421.2h0M474.6 425.1h0M475.2 416.7h0M486.2 424.0h0M472.3 428.6h0M483.1 418.0h0M475.1 436.3h0M470.3 418.6h0M478.2 415.7h0M460.3 412.2h0M479.6 430.3h0M481.1 428.2h0M468.7 430.5h0M484.9 419.7h0M483.5 422.3h0M478.4 428.1h0M467.0 436.6h0M471.2 424.4h0M473.7 428.8h0M480.0 425.4h0M486.7 427.4h0M474.4 402.8h0M475.2 423.0h0M471.2 418.5h0M481.1 433.4h0M490.0 434.1h0M467.8 430.9h0M476.4 423.3h0M472.8 435.5h0M498.2 431.7h0M484.3 426.5h0M474.7 442.4h0M474.6 428.3h0M476.3 429.8h0M476.8 429.9h0M468.5 424.4h0M486.4 417.2h0M472.6 435.9h0M479.8 433.6h0M461.9 426.4h0M468.4 414.4h0M479.9 434.5h0M466.9 416.6h0M473.1 424.2h0M468.0 442.9h0M481.1 422.4h0M473.5 443.4h0M492.3 421.4h0M479.4 435.0h0M469.0 420.6h0M486.2 419.7h0M474.1 414.6h0M471.8 430.5h0M471.4 414.9h0M472.7 439.0h0M478.2 420.7h0M478.0 428.5h0M477.8 410.9h0M479.0 423.3h0M482.7 414.4h0M484.1 421.1h0M465.2 435.4h0M473.3 427.9h0M475.7 433.5h0M484.4 433.7h0M481.7 412.2h0M465.3 426.5h0M470.3 428.6h0M477.9 413.8h0M469.7 416.0h0M470.7 423.3h0M481.5 435.4h0M470.1 420.5h0M487.4 431.9h0M478.4 406.4h0M469.9 426.1h0M472.7 440.5h0M477.4 427.1h0M469.2 416.7h0M472.2 419.9h0M475.2 427.8h0M478.4 432.8h0M467.5 426.5h0M478.4 437.4h0M475.3 427.4h0M471.2 428.2h0M479.5 419.9h0M473.8 424.6h0M480.8 415.8h0M482.9 422.3h0M489.8 436.4h0M474.0 419.9h0M493.7 429.8h0M480.7 421.5h0M475.9 431.2h0M481.0 418.4h0M485.3 427.3h0M470.2 432.7h0M475.6 431.1h0M473.0 427.7h0M465.6 427.8h0M466.3 426.2h0M459.4 424.4h0M481.8 428.7h0M485.0 416.4h0M487.6 437.5h0M468.5 418.6h0M472.9 424.7h0M478.1 405.4h0M480.9 422.9h0M469.8 432.4h0M474.4 433.8h0M480.4 422.4h0M484.8 431.2h0M473.3 412.2h0M473.0 429.7h0M475.1 438.7h0M478.6 426.4h0M479.5 417.9h0M475.9 419.7h0M460.7 410.9h0M481.8 421.4h0M475.9 413.2h0M472.7 431.0h0M477.4 420.8h0M487.3 424.4h0M474.4 433.9h0M464.9 429.2h0M469.1 418.7h0M472.1 425.9h0M477.5 427.2h0M478.2 435.9h0M488.3 430.4h0M482.0 421.9h0M469.2 429.5h0M477.0 431.6h0M464.3 445.9h0M483.6 414.0h0M473.0 409.0h0M477.5 427.2h0M474.6 434.8h0M486.3 424.8h0M475.3 422.7h0M473.7 435.2h0M478.4 422.3h0M475.2 429.2h0M474.1 427.4h0M476.6 435.5h0M484.7 413.8h0M475.7 430.5h0M473.7 431.3h0M479.1 429.6h0M476.4 427.3h0M480.4 413.4h0M488.3 427.3h0M479.4 426.3h0M473.3 419.1h0M482.6 422.0h0M487.6 426.5h0M477.5 423.2h0M476.3 425.2h0M487.2 443.3h0M468.9 426.9h0M481.7 417.9h0M472.5 421.4h0M460.4 430.1h0M476.5 424.2h0M477.4 426.9h0M492.7 426.4h0M482.6 420.9h0M479.3 422.5h0M475.8 417.9h0M471.3 428.6h0M472.3 427.5h0M459.6 432.4h0M476.6 427.1h0M484.8 421.7h0M483.4 421.6h0M480.6 421.9h0M479.0 436.4h0M472.5 420.3h0M474.7 427.4h0M495.7 420.6h0M463.0 420.0h0M466.2 420.7h0M477.1 417.6h0M472.3 410.5h0M478.2 419.3h0M484.4 433.4h0M471.1 422.2h0M477.4 431.1h0M465.6 424.6h0M494.5 416.7h0M473.2 417.9h0M454.7 430.3h0M473.8 420.0h0M479.8 428.2h0M445.6 424.2h0M462.7 420.0h0M461.1 406.7h0M482.8 417.9h0M466.7 414.3h0M471.5 417.8h0M439.6 406.7h0M467.4 427.8h0M488.3 406.0h0M495.8 419.4h0M477.0 411.3h0M462.8 437.0h0M467.9 417.0h0M485.8 440.8h0M451.3 415.9h0M470.7 442.1h0M503.0 417.8h0M475.8 429.8h0M485.9 414.4h0M482.1 409.5h0M436.2 400.7h0M473.9 428.9h0M441.7 395.2h0M478.5 432.3h0M432.4 428.9h0M468.8 437.4h0M475.0 415.9h0M473.0 431.3h0M473.9 419.6h0M452.7 425.4h0M471.9 443.1h0M471.4 418.0h0M463.4 428.6h0M469.0 410.0h0M492.5 442.5h0M486.4 408.4h0M508.5 417.5h0M484.3 402.4h0M471.3 433.6h0M477.5 412.3h0M503.8 429.0h0M468.8 411.5h0M468.3 437.0h0M461.7 419.8h0M461.1 435.8h0M469.7 430.7h0M479.2 411.8h0M481.0 431.7h0M456.8 428.6h0M480.2 402.0h0M477.8 411.7h0M481.9 418.8h0M456.4 433.8h0M472.7 406.8h0M477.0 418.6h0M467.0 428.2h0M455.1 432.2h0M445.5 440.5h0M474.2 416.0h0M462.2 426.6h0M469.7 417.1h0M468.7 425.1h0M473.9 420.0h0M481.6 439.0h0M459.6 417.7h0M471.2 427.2h0M491.5 419.2h0M474.6 434.3h0M455.5 409.3h0M465.9 419.3h0M474.8 412.6h0M494.9 410.1h0M469.1 433.7h0M482.0 419.2h0M476.7 430.1h0M471.6 427.9h0M459.7 420.3h0M450.1 407.5h0M456.6 435.7h0M465.6 423.2h0M459.4 416.5h0M482.9 397.2h0M460.7 419.5h0M450.9 418.7h0M448.5 427.2h0M464.8 394.5h0M454.1 397.8h0M467.4 430.0h0M459.9 420.1h0M438.7 426.2h0M476.1 385.8h0M486.3 396.6h0M467.8 433.8h0M448.8 393.6h0M455.6 403.7h0M468.6 411.0h0M474.7 417.9h0M456.8 442.1h0M453.4 427.7h0M460.4 422.7h0M477.3 429.4h0M489.3 406.9h0M508.4 423.5h0M459.7 400.1h0M501.7 440.0h0M470.4 428.4h0M488.2 419.6h0M465.1 417.9h0M481.9 418.7h0M454.4 428.4h0M447.9 408.4h0M487.3 421.6h0M473.9 419.8h0M484.5 417.7h0M444.9 421.6h0M430.0 391.1h0M491.8 432.2h0M464.6 417.4h0M471.9 431.7h0M462.4 420.2h0M474.2 413.1h0M480.8 404.7h0M469.7 409.1h0M457.3 434.6h0M466.5 404.9h0M471.3 405.0h0M478.7 429.6h0M484.4 404.3h0M468.8 442.9h0M467.9 435.2h0M491.0 400.0h0M486.9 428.4h0M482.4 440.8h0M476.9 419.4h0M478.9 413.8h0M477.4 391.6h0M493.8 411.3h0M478.0 422.5h0M472.2 419.9h0M471.6 396.6h0M463.5 434.2h0M457.2 404.3h0M498.9 434.4h0M491.5 418.2h0M474.3 428.5h0M451.3 408.6h0M450.7 439.2h0M465.3 415.8h0M474.4 418.4h0M477.6 409.9h0M450.3 441.3h0M461.0 411.8h0M470.7 427.9h0M456.4 421.8h0M461.4 433.8h0M454.0 419.2h0M479.7 399.9h0M471.7 419.8h0M459.7 415.0h0M483.3 421.0h0M464.7 415.0h0M476.1 434.5h0M480.6 427.4h0M490.7 397.4h0M451.2 387.8h0M481.0 387.6h0M469.5 427.5h0M451.7 408.9h0M466.5 427.2h0M450.1 421.7h0M479.1 419.4h0M472.0 433.9h0M465.5 426.0h0M466.1 426.0h0M471.2 432.3h0M459.5 418.5h0M474.4 422.9h0M484.7 422.6h0M481.7 443.1h0M480.9 403.7h0M451.2 426.2h0M464.9 421.3h0M467.6 434.5h0M485.5 402.7h0M473.4 413.5h0M452.8 425.9h0M468.0 423.2h0M502.1 434.7h0M484.2 412.1h0M454.4 433.7h0M465.9 418.0h0M464.9 418.7h0M501.2 413.3h0M466.1 420.1h0M473.5 401.8h0M446.7 409.8h0M456.7 405.0h0M448.4 410.0h0M474.2 415.5h0M451.8 412.5h0M469.2 427.1h0M448.3 426.0h0M463.4 419.7h0M478.3 405.7h0M458.9 415.5h0M478.8 409.9h0M451.0 407.9h0M474.3 432.0h0M462.7 412.7h0M457.0 411.1h0M472.0 418.2h0M469.5 403.8h0M482.8 435.7h0M473.7 437.5h0M465.4 413.1h0M452.5 419.8h0M463.4 418.1h0M475.6 413.8h0M468.4 417.3h0M478.0 414.2h0M465.9 439.3h0M483.2 415.8h0M457.3 411.3h0M474.3 427.9h0M500.5 413.9h0M471.5 412.6h0M470.6 412.3h0M455.8 430.4h0M471.3 433.8h0M463.2 420.7h0M478.2 393.2h0M452.8 427.0h0M471.1 393.8h0M460.3 403.9h0M463.6 437.3h0M462.5 402.8h0M502.1 434.4h0M491.3 439.7h0M430.9 401.3h0M477.9 420.7h0M484.1 408.0h0M481.3 432.8h0M479.7 434.6h0M473.1 419.3h0M435.6 421.7h0M469.4 421.2h0M456.9 426.4h0M482.4 404.0h0M475.9 431.9h0M485.0 399.9h0M446.5 417.6h0M450.8 401.9h0M482.4 407.9h0M446.5 406.6h0M432.6 399.3h0M464.0 414.6h0M443.1 402.5h0M448.6 418.4h0M463.7 392.2h0M480.8 402.4h0M475.2 398.3h0M473.1 413.2h0M467.8 424.8h0M476.1 418.4h0M470.1 391.5h0M461.7 443.3h0M481.0 436.1h0M459.9 423.7h0M491.9 425.3h0M474.4 417.5h0M446.8 398.8h0M435.8 423.3h0M461.1 403.1h0M474.8 405.0h0M477.0 402.9h0M477.0 393.9h0M490.6 384.7h0M457.7 411.5h0M459.5 394.6h0M475.7 416.7h0M432.5 405.7h0M471.9 433.5h0M459.9 423.0h0M460.0 427.1h0M453.9 405.2h0M452.2 403.7h0M478.2 421.6h0M454.7 413.0h0M459.2 427.9h0M487.7 428.8h0M471.1 434.0h0M473.8 443.0h0M450.3 435.8h0M476.5 412.8h0M453.1 399.7h0M507.1 439.4h0M470.3 420.1h0M451.9 381.7h0M428.6 404.9h0M464.4 394.2h0M485.3 426.2h0M471.3 383.1h0M463.1 415.8h0M459.3 446.7h0M492.2 424.9h0M472.7 431.2h0M499.9 417.7h0M462.7 427.4h0M458.8 416.1h0M463.7 422.8h0M470.1 417.7h0M464.9 425.0h0M456.6 435.1h0M430.8 420.3h0M477.7 392.2h0M458.3 441.5h0M464.9 399.6h0M470.0 428.0h0M470.7 403.4h0M484.4 426.9h0M451.0 407.4h0M498.1 398.2h0M484.2 447.3h0M482.2 421.2h0M497.8 423.1h0M467.6 412.5h0M493.1 429.6h0M501.8 410.0h0M460.9 408.1h0M474.0 403.2h0M488.2 422.8h0M427.6 443.7h0M466.4 419.2h0M458.4 423.9h0M431.8 417.6h0M483.2 425.4h0M465.0 392.0h0M485.3 411.0h0M467.3 414.9h0M457.4 402.6h0M454.7 391.8h0M473.2 413.0h0M490.1 381.9h0M493.5 415.0h0M464.1 401.0h0M449.7 387.9h0M487.5 412.2h0M483.5 432.0h0M460.1 435.8h0M483.6 414.9h0M495.3 443.0h0M442.6 432.8h0M473.9 432.9h0M441.3 421.0h0M446.2 410.1h0M499.0 413.8h0M442.7 435.7h0M452.4 386.8h0M492.4 421.2h0M475.3 401.2h0M499.2 414.1h0M424.4 394.8h0M449.3 413.3h0M484.6 402.6h0M469.6 406.4h0M468.5 392.6h0M479.6 434.8h0M455.0 435.4h0M461.4 421.9h0M451.5 401.2h0M434.8 420.6h0M443.0 394.2h0M453.9 425.3h0M474.4 403.4h0M477.3 441.7h0M456.2 438.7h0M441.7 421.0h0M437.8 437.9h0M478.6 441.0h0M456.7 407.8h0M450.9 398.1h0M495.1 424.8h0M453.3 408.3h0M489.1 423.6h0M472.0 393.0h0M458.1 394.7h0M425.5 433.3h0M460.4 408.4h0M446.5 430.6h0M488.1 392.6h0M471.5 420.4h0M500.4 416.4h0M446.9 415.0h0M458.0 443.7h0M482.2 422.7h0M471.5 432.3h0M456.8 398.8h0M426.2 438.7h0M478.7 428.4h0M468.5 447.8h0M445.9 439.0h0M440.7 417.8h0M461.1 424.3h0M454.5 389.6h0M479.9 440.5h0M483.6 415.0h0M476.2 383.7h0M460.0 438.0h0M477.4 399.7h0M486.1 413.4h0M483.4 389.2h0M455.7 422.1h0M473.9 426.5h0M467.1 412.2h0M477.7 432.4h0M434.0 409.9h0M462.8 419.0h0M489.6 390.8h0M479.0 383.1h0M450.7 406.1h0M461.4 404.4h0M456.0 409.5h0M461.4 381.0h0M436.6 407.7h0M478.9 435.0h0M450.1 419.4h0M482.3 418.6h0M444.1 414.1h0M466.4 389.4h0M440.9 438.7h0M461.6 442.2h0M480.7 399.7h0M494.9 405.4h0M465.6 430.7h0M471.4 399.0h0M479.0 456.1h0M480.0 456.7h0M479.7 461.4h0M481.1 448.9h0"/>
<path stroke="#f4dc2a" stroke-width="1.7" stroke-linecap="round" d="M469.6 407.4h0M466.9 411.9h0M466.8 402.7h0M468.7 409.0h0M467.9 405.6h0M467.7 409.1h0M456.9 420.2h0M460.0 415.7h0M464.2 408.2h0M466.6 409.1h0M468.7 403.1h0M466.2 407.1h0M468.6 404.6h0M466.6 410.7h0M462.8 405.3h0M466.5 405.2h0M467.8 412.0h0M470.2 405.8h0M470.4 423.6h0M468.5 402.8h0M462.7 407.0h0M472.1 406.7h0M470.2 404.8h0M467.0 405.3h0M465.5 410.3h0M473.0 411.1h0M462.6 406.9h0M467.2 439.6h0M464.0 409.5h0M457.8 415.0h0M468.3 407.0h0M460.1 404.7h0M468.5 408.1h0M462.6 414.3h0M463.4 411.7h0M466.6 409.8h0M471.6 413.1h0M467.1 403.7h0M468.3 408.2h0M464.0 405.6h0M459.2 405.8h0M461.1 411.1h0M467.6 406.9h0M469.6 411.1h0M471.2 421.0h0M466.0 409.4h0M472.1 403.8h0M466.9 405.0h0M465.9 406.7h0M472.0 407.5h0M465.7 409.7h0M464.6 408.2h0M472.3 406.8h0M461.6 404.9h0M462.4 401.8h0M470.0 400.4h0M466.1 406.8h0M470.3 410.7h0M462.3 406.7h0M470.8 406.9h0M467.4 408.4h0M466.7 408.9h0M458.7 405.4h0M459.0 405.2h0M465.6 405.3h0M463.0 405.7h0M461.9 407.8h0M465.9 410.2h0M469.5 412.1h0M467.7 405.7h0M476.8 412.5h0M465.0 409.5h0M468.9 413.7h0M463.6 412.7h0M467.2 403.3h0M464.7 404.7h0M470.7 417.9h0M469.9 402.3h0M465.0 408.4h0M465.1 406.0h0M468.3 408.7h0M465.8 406.6h0M468.1 411.5h0M468.5 408.6h0M467.2 410.4h0M464.1 408.2h0M468.7 410.9h0M463.1 409.1h0M467.1 414.6h0M466.0 407.2h0M465.9 408.5h0M462.2 411.9h0M470.5 408.7h0M466.5 413.2h0M466.6 401.4h0M467.4 406.1h0M466.0 406.4h0M464.5 409.0h0M465.5 402.9h0M467.7 416.5h0M467.1 410.8h0M461.7 404.7h0M462.2 413.1h0M455.3 409.5h0M467.5 404.1h0M470.8 406.2h0M469.8 414.9h0M466.2 409.8h0M468.2 408.9h0M464.0 409.5h0M463.3 405.9h0M466.7 409.3h0M463.4 407.9h0M453.7 409.6h0M463.2 411.0h0M469.9 414.8h0M463.4 406.3h0M461.7 407.2h0M473.1 415.1h0M468.7 401.2h0M466.7 410.9h0M466.8 432.8h0M484.8 419.3h0M477.0 426.1h0M477.9 426.0h0M468.4 416.4h0M468.1 412.1h0M473.2 408.6h0M465.3 416.8h0M484.6 414.1h0M468.2 412.6h0M478.4 422.2h0M474.1 423.2h0M478.4 434.2h0M466.7 407.0h0M457.6 425.1h0M479.1 429.0h0M474.9 426.6h0M479.5 410.7h0M482.8 420.7h0M472.3 427.2h0M479.5 420.5h0M468.1 425.1h0M467.0 409.6h0M470.5 416.9h0M482.0 428.6h0M465.8 405.9h0M469.0 406.1h0M485.4 413.7h0M485.9 417.5h0M467.9 407.9h0M465.8 403.0h0M463.8 411.6h0M467.9 406.6h0M460.5 406.6h0M478.2 417.2h0M459.9 410.8h0M472.8 417.2h0M467.0 407.1h0M464.5 415.7h0M467.0 415.1h0M462.1 407.6h0M454.8 416.3h0M473.4 407.8h0M466.4 415.8h0M456.7 411.8h0M470.6 419.5h0M461.5 411.6h0M473.3 405.5h0M448.9 407.5h0"/>
<rect x="0.5" y="0.5" width="519" height="500" fill="none" stroke="#4a4a4a" stroke-width="1"/>
</svg></body></html>
